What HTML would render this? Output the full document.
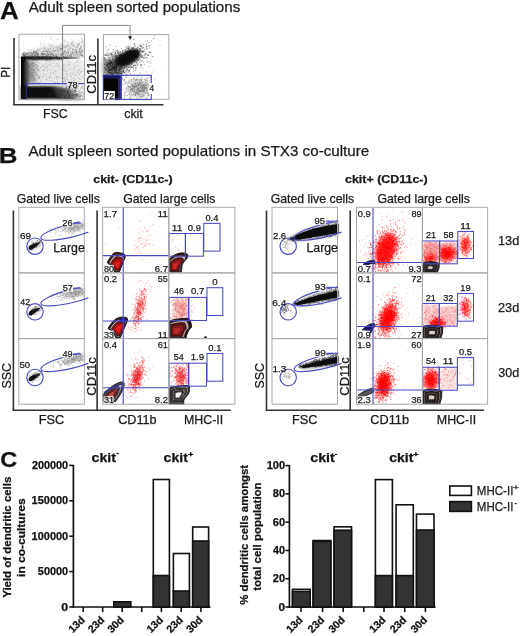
<!DOCTYPE html>
<html><head><meta charset="utf-8"><style>
html,body{margin:0;padding:0;background:#fff;overflow:hidden;}
#w{position:absolute;left:0;top:0;width:520px;height:636px;will-change:transform;background:#fff;}
svg{display:block;font-family:"Liberation Sans", sans-serif;}
text{stroke:#1a1a1a;stroke-width:0.25px;}
</style></head><body><div id="w">
<svg width="520" height="636" viewBox="0 0 520 636">
<defs>
<filter id="b1" x="-50%" y="-50%" width="200%" height="200%"><feGaussianBlur stdDeviation="1"/></filter>
<filter id="b2" x="-50%" y="-50%" width="200%" height="200%"><feGaussianBlur stdDeviation="2"/></filter>
<filter id="b3" x="-50%" y="-50%" width="200%" height="200%"><feGaussianBlur stdDeviation="3"/></filter>
<filter id="b05" x="-50%" y="-50%" width="200%" height="200%"><feGaussianBlur stdDeviation="0.6"/></filter>
</defs>
<text x="-0.05" y="18.75" font-size="23.5" font-weight="bold" fill="#111" textLength="18.76" lengthAdjust="spacingAndGlyphs">A</text>
<text x="28.75" y="12.40" font-size="14.6" fill="#1a1a1a" textLength="211.47" lengthAdjust="spacingAndGlyphs">Adult spleen sorted populations</text>
<path d="M22 56 Q28 50 45 46 Q65 42.5 84 42 L84 57 L22 57.5 Z" fill="#c8c8c8" filter="url(#b2)" opacity="0.45"/>
<path d="M42.1 53.5h0M26.5 53.9h0M55.2 55.7h0M53.5 55.6h0M24.3 56.2h0M27.6 56.6h0M48.3 55.9h0M35.8 55.4h0M60.9 49.6h0M46.6 55.1h0M82.5 41.7h0M40.0 54.7h0M30.9 55.1h0M72.6 52.9h0M33.2 52.9h0M45.1 53.9h0M56.0 55.2h0M34.8 56.5h0M64.2 52.1h0M58.3 54.8h0M50.1 54.3h0M65.3 46.1h0M37.1 53.0h0M76.3 52.9h0M67.2 52.6h0M47.9 56.9h0M52.3 54.0h0M24.4 55.0h0M57.5 48.6h0M76.3 52.5h0M58.9 48.8h0M58.0 46.5h0M80.6 52.9h0M51.4 56.1h0M65.5 55.0h0M62.1 45.7h0M39.6 56.7h0M45.9 56.5h0M50.6 56.1h0M32.4 56.2h0M69.6 55.4h0M30.0 57.0h0M76.0 49.6h0M27.0 53.8h0M76.8 54.0h0M72.8 53.2h0M47.7 54.1h0M44.2 48.8h0M31.4 51.8h0M32.9 56.7h0M52.1 53.3h0M58.5 57.0h0M48.0 56.6h0M44.9 47.0h0M64.8 50.6h0M54.0 51.1h0M25.3 54.4h0M77.8 54.1h0M71.5 42.9h0M46.3 55.3h0M61.3 55.3h0M25.9 55.4h0M32.1 56.1h0M43.1 56.9h0M31.4 57.0h0M28.3 56.6h0M76.2 55.7h0M60.1 54.3h0M43.5 54.4h0M44.6 50.9h0M83.6 45.9h0M50.9 54.9h0M28.3 56.9h0M43.2 56.3h0M32.0 51.1h0M23.4 54.3h0M31.1 55.9h0M55.7 50.4h0M82.7 55.3h0M75.5 55.1h0M44.7 53.8h0M32.4 56.5h0M70.3 48.6h0M42.4 55.7h0M83.1 42.3h0M74.9 52.3h0M67.9 45.4h0M36.1 53.7h0M23.8 56.8h0M23.7 56.7h0M64.9 52.1h0M83.3 50.7h0M81.2 53.3h0M36.1 55.1h0M34.2 55.7h0M77.8 46.7h0M74.1 46.5h0M71.6 55.7h0M27.3 53.8h0M70.5 44.1h0M68.5 52.8h0M70.9 56.4h0M42.6 53.5h0M46.9 50.0h0M32.5 55.3h0M29.9 53.3h0M72.0 44.5h0M31.1 53.0h0M43.7 54.8h0M22.9 56.6h0M82.2 51.2h0M79.9 49.2h0M48.9 50.8h0M35.1 52.3h0M37.6 56.3h0M58.4 52.9h0M38.1 55.3h0M78.4 55.0h0M43.9 51.5h0M78.1 54.4h0M48.1 52.1h0M55.0 53.8h0M54.5 51.3h0M33.4 56.6h0M22.2 56.6h0M51.4 54.0h0M67.0 51.5h0M54.1 55.4h0M56.4 56.4h0M56.7 54.4h0M37.4 55.9h0M53.5 48.1h0M56.8 56.2h0M49.5 46.2h0M60.0 49.9h0M64.9 56.7h0M50.0 51.5h0M80.4 55.1h0M65.4 46.0h0M38.1 50.7h0M56.7 47.0h0M30.5 55.0h0M29.5 55.9h0M36.9 56.5h0M26.5 54.8h0M77.6 45.3h0M31.6 56.0h0M30.9 52.6h0M76.7 51.8h0M81.1 55.9h0M73.6 55.2h0M32.0 53.5h0M43.0 54.9h0M34.1 54.7h0M23.2 53.6h0M56.4 56.0h0M42.6 56.7h0M60.7 54.8h0M83.1 56.8h0M70.9 53.8h0M38.5 56.7h0M24.5 56.6h0M30.0 54.7h0M48.2 49.5h0M38.0 53.3h0M31.3 53.5h0M65.4 52.9h0M27.5 53.1h0M48.4 54.4h0M26.5 53.5h0M71.7 53.2h0M27.2 56.4h0M75.5 54.8h0M50.1 53.7h0M79.5 48.6h0M38.6 53.8h0M36.8 53.8h0M28.8 56.5h0M34.5 56.1h0M41.3 54.7h0M40.0 50.7h0M53.0 54.9h0M23.1 55.1h0M37.5 51.0h0M56.2 56.1h0M33.7 49.3h0M28.6 56.0h0M72.8 49.4h0M73.7 53.5h0M46.4 50.0h0M82.9 56.5h0M43.2 53.7h0M61.4 48.8h0M47.1 56.1h0M30.0 56.2h0M26.4 56.9h0M32.1 54.6h0M27.2 54.0h0M63.6 46.4h0M39.5 56.8h0M50.5 52.9h0M31.8 54.7h0M81.6 54.9h0M82.3 51.2h0M81.9 55.2h0M41.2 56.9h0M45.7 56.8h0M51.4 53.6h0M53.3 56.9h0M22.3 56.9h0M46.8 55.0h0M24.6 54.9h0M36.4 56.6h0M58.3 47.6h0M62.8 55.1h0M66.4 52.3h0M42.2 54.1h0M83.1 49.3h0M61.9 49.1h0M24.7 54.3h0M60.9 46.1h0M67.5 55.6h0M54.5 54.3h0M53.3 52.2h0M73.2 45.8h0M58.2 50.2h0M65.0 51.0h0M36.3 55.1h0M44.4 56.5h0M28.5 55.1h0M60.9 50.4h0M60.8 54.1h0M22.2 54.7h0M71.5 56.9h0M55.2 50.6h0M62.9 47.7h0M37.6 54.5h0M26.6 56.6h0M34.7 51.5h0M67.9 49.3h0M45.7 56.2h0M51.7 53.5h0M60.3 47.7h0M61.9 54.0h0M37.7 56.0h0M68.1 54.1h0M22.8 54.2h0M25.8 56.5h0M64.9 47.5h0M63.9 55.1h0M50.8 51.2h0M50.9 49.2h0M34.4 52.1h0M82.6 55.6h0M50.5 56.6h0M72.8 49.3h0M38.7 56.2h0M35.0 54.8h0M58.1 55.7h0M30.8 49.5h0M30.2 55.9h0M72.9 42.1h0M65.6 56.3h0M36.3 53.7h0M23.5 55.4h0M22.2 54.6h0M40.7 56.8h0M30.7 55.5h0M74.1 51.7h0M22.1 57.0h0M29.4 51.4h0M79.4 53.1h0M40.0 48.7h0M44.4 53.8h0M25.0 56.1h0M28.3 55.8h0M80.0 51.4h0M37.5 56.6h0M33.8 53.0h0M45.1 48.1h0M72.3 53.0h0M61.1 44.8h0M56.1 50.2h0M66.6 46.9h0M50.0 54.6h0M68.7 53.6h0M25.0 55.4h0M79.5 50.9h0M43.3 53.5h0M40.5 56.2h0M62.7 54.5h0M46.5 51.4h0M32.4 55.8h0M78.2 52.5h0M52.8 54.9h0M49.9 54.9h0M27.6 55.6h0M43.2 54.3h0M38.0 55.5h0M57.3 49.9h0M47.6 51.9h0M47.7 52.5h0M43.0 56.4h0M25.8 55.8h0M53.2 49.8h0M35.4 51.9h0M38.8 57.0h0M49.6 52.1h0M81.1 47.6h0M23.4 53.1h0M24.0 55.7h0M51.3 46.6h0M58.4 51.3h0M79.5 57.0h0M73.2 45.1h0M37.4 49.2h0M28.8 55.0h0M64.3 50.7h0M80.4 55.0h0M69.4 47.3h0M50.4 55.7h0M70.5 56.4h0M36.4 52.4h0M40.8 54.2h0M29.9 57.0h0M65.3 47.9h0M29.0 53.8h0M58.1 54.0h0M46.1 56.0h0M22.6 54.0h0M62.0 53.2h0M76.8 51.5h0M37.3 56.6h0M81.6 55.1h0M23.4 55.1h0M52.9 54.5h0M37.9 53.5h0M63.4 53.0h0M24.1 56.2h0M43.0 51.4h0M34.3 54.5h0M71.4 56.4h0M34.7 52.9h0M82.1 51.4h0M36.3 50.8h0M35.7 56.8h0M81.0 50.4h0M52.7 55.6h0M47.9 53.9h0M63.2 53.7h0M46.4 56.2h0M35.2 55.1h0M25.2 56.8h0M25.7 52.7h0M76.8 47.0h0M42.4 56.8h0M33.5 51.9h0M24.0 55.4h0M63.2 52.6h0M42.6 54.2h0M32.5 54.4h0M43.8 56.9h0M81.2 42.3h0M34.9 50.7h0M44.1 53.5h0M48.8 48.9h0M25.1 54.6h0M79.0 55.8h0M34.0 52.3h0M23.9 53.2h0M47.5 54.0h0M24.5 53.1h0M24.2 52.0h0M37.9 53.8h0M68.3 52.1h0M38.9 54.9h0M81.4 52.4h0M66.4 53.6h0M41.6 56.9h0M68.9 56.4h0M78.8 44.6h0M23.5 52.8h0M81.1 53.9h0M46.0 57.0h0M52.6 51.5h0M79.5 51.2h0M67.8 46.0h0M73.0 55.6h0M42.3 51.3h0M41.8 52.3h0M26.9 53.4h0M34.2 57.0h0M26.0 55.0h0M24.1 55.0h0M82.8 54.7h0M76.8 51.1h0M27.2 56.8h0M28.0 52.6h0M49.7 56.9h0M36.5 52.6h0M63.8 52.6h0M68.4 51.3h0M29.5 53.4h0M74.1 54.4h0M45.1 51.5h0M67.8 55.4h0M37.2 54.4h0M31.5 53.9h0M42.2 53.4h0M46.6 51.5h0M36.3 56.8h0M72.1 44.6h0M28.3 49.9h0M51.4 52.9h0M78.7 43.6h0M24.5 56.7h0M33.8 55.4h0M82.3 40.8h0M45.1 51.9h0M75.7 51.5h0M70.2 55.3h0M80.6 48.6h0M60.4 52.1h0M35.5 55.7h0M34.6 55.6h0M37.8 52.6h0M34.6 54.1h0M22.7 55.4h0M33.5 52.6h0M41.4 54.9h0M56.0 47.6h0M25.9 54.9h0M56.1 53.7h0M61.6 54.0h0M65.1 54.9h0M47.4 56.2h0M81.1 50.3h0M41.4 53.5h0M47.8 55.2h0M75.6 49.9h0M34.2 56.9h0M67.1 56.8h0M77.9 56.2h0M48.3 54.9h0M76.7 50.0h0M50.6 56.5h0M56.2 56.2h0M61.7 54.8h0M60.6 55.6h0M45.0 54.5h0M39.6 56.9h0M54.3 54.7h0M52.4 55.9h0M71.9 52.4h0M29.9 56.6h0M80.5 48.0h0M25.3 56.6h0M79.4 44.1h0M60.5 48.7h0M73.1 50.3h0M35.8 51.7h0M47.1 52.0h0M33.3 51.9h0M35.5 53.6h0M45.8 53.8h0M29.6 56.9h0M77.6 44.7h0M24.5 53.2h0M24.4 55.4h0M74.0 49.7h0M56.1 52.0h0M60.9 54.8h0M58.1 51.4h0M48.4 54.2h0M49.2 52.6h0M23.4 55.0h0M36.6 54.1h0M69.3 55.6h0M33.1 53.4h0M51.3 54.9h0M48.7 55.4h0M27.7 53.9h0M24.5 56.0h0M61.5 48.4h0M70.2 51.5h0M53.7 51.1h0M45.4 55.2h0M81.0 46.7h0M83.8 44.7h0M67.4 55.3h0M82.9 52.1h0M52.5 45.9h0M32.2 55.1h0M70.9 54.7h0M43.8 56.3h0M68.9 49.2h0M39.0 50.1h0M72.6 51.8h0M79.0 49.8h0M34.9 56.7h0M41.8 52.1h0M24.3 56.4h0M80.1 52.8h0M64.1 54.0h0M70.7 54.4h0M29.1 53.0h0M44.3 55.8h0M76.1 47.7h0M76.7 53.6h0M28.5 53.0h0M46.4 56.7h0M71.5 55.0h0M44.3 56.6h0M33.0 53.5h0M68.1 45.2h0M37.7 54.9h0M61.6 49.0h0M63.1 56.2h0M41.4 55.9h0M31.3 57.0h0" stroke="#555" stroke-width="0.77" stroke-linecap="square" fill="none" opacity="0.55"/>
<path d="M67.1 42.1h0M62.6 48.5h0M45.8 39.2h0M68.7 36.3h0M40.1 41.0h0M44.7 41.0h0M49.9 44.2h0M65.9 38.9h0M67.5 42.6h0M45.9 49.1h0M50.7 38.1h0M44.2 44.9h0M78.3 47.0h0M57.7 39.7h0M40.5 45.0h0M64.7 40.9h0M68.4 42.2h0M81.2 46.3h0M50.9 48.6h0M41.9 43.4h0M57.9 39.3h0M42.6 46.9h0M40.5 43.7h0M81.4 38.0h0M48.8 44.5h0M62.3 45.0h0M75.8 38.4h0M53.6 40.2h0M42.1 48.5h0M74.5 46.0h0M40.3 47.8h0M72.8 42.5h0M72.6 42.3h0M49.9 37.5h0M50.2 36.5h0M54.8 46.5h0M70.6 47.8h0M71.3 39.7h0M64.4 42.1h0M74.7 43.3h0M51.7 45.0h0M82.5 39.0h0M78.7 36.2h0M51.5 39.3h0M72.7 49.2h0M72.8 40.6h0M78.7 40.6h0M50.5 48.7h0M67.8 45.7h0M69.3 49.7h0M60.7 47.8h0M70.7 48.0h0M59.2 46.1h0M65.1 40.3h0M49.3 44.7h0M43.4 48.8h0M46.4 36.4h0M44.7 49.0h0M55.2 38.0h0M41.3 36.6h0" stroke="#999" stroke-width="0.77" stroke-linecap="square" fill="none" opacity="0.5"/>
<path d="M25 60 L60 60 Q70 61 84 60 L84 83 L25 83 Z" fill="#e2e2e2" filter="url(#b2)" opacity="0.8"/>
<path d="M66.2 74.6h0M66.4 76.9h0M29.8 73.6h0M47.1 78.8h0M73.5 80.5h0M29.8 80.0h0M79.0 81.7h0M32.2 64.7h0M32.5 60.8h0M75.2 78.7h0M62.8 79.0h0M62.6 66.6h0M31.8 62.3h0M69.9 64.7h0M44.5 69.7h0M27.2 65.9h0M42.4 76.5h0M47.3 67.4h0M81.9 71.6h0M75.4 74.2h0M27.8 69.5h0M51.3 77.8h0M46.1 76.2h0M57.2 65.0h0M76.0 62.1h0M73.5 63.9h0M26.1 64.6h0M70.2 82.5h0M26.3 71.3h0M54.5 78.3h0M36.7 71.4h0M46.1 79.1h0M41.1 81.7h0M42.5 64.9h0M66.6 71.5h0M32.4 74.6h0M30.7 78.1h0M66.4 78.1h0M62.4 68.2h0M49.3 69.1h0M77.6 62.0h0M77.5 60.6h0M38.0 66.1h0M78.3 71.5h0M48.0 80.3h0M39.5 70.6h0M56.8 77.4h0M69.7 74.9h0M46.2 67.5h0M35.0 79.4h0M64.4 77.1h0M35.8 70.1h0M70.9 73.3h0M33.3 70.6h0M77.3 65.5h0M37.1 66.9h0M66.8 79.4h0M35.0 63.6h0M40.4 67.5h0M56.3 63.7h0M45.0 64.4h0M82.6 76.8h0M31.9 82.1h0M31.9 68.8h0M83.1 78.3h0M68.5 70.0h0M37.4 74.7h0M32.2 64.7h0M48.5 60.8h0M49.1 78.2h0M66.2 71.5h0M62.7 70.7h0M34.2 73.9h0M49.5 77.0h0M78.7 69.9h0M59.3 77.2h0M50.4 65.3h0M67.9 80.2h0M70.9 76.1h0M75.4 75.6h0M63.2 70.4h0M44.2 74.5h0M31.7 69.7h0M71.4 76.4h0M62.5 65.8h0M50.6 70.5h0M62.1 69.4h0M65.2 81.4h0M36.6 75.1h0M71.1 68.9h0M54.4 82.4h0M28.2 72.5h0M35.3 78.0h0M80.6 71.9h0M31.9 73.2h0M57.4 76.5h0M55.7 74.7h0M74.1 72.0h0M49.8 81.8h0M38.2 75.7h0M48.8 77.5h0M33.1 82.6h0M46.6 61.3h0M41.9 69.2h0M26.8 69.6h0M50.4 76.1h0M46.4 66.1h0M39.0 77.1h0M80.5 72.1h0M38.7 78.4h0M48.7 64.9h0M33.5 77.9h0M73.0 74.6h0M53.2 72.9h0M39.1 82.2h0M46.5 74.7h0M73.5 78.8h0M53.1 66.8h0M57.8 62.9h0M74.4 68.2h0M75.3 66.2h0M47.8 65.8h0M50.7 64.3h0M26.2 76.6h0M42.3 65.6h0M43.5 71.0h0M50.9 74.7h0M64.2 68.3h0M79.9 79.7h0M29.3 79.0h0M78.5 78.0h0M34.1 79.1h0M62.7 60.3h0M26.7 81.9h0M64.0 65.8h0M31.9 63.3h0M39.6 77.9h0M46.1 63.5h0M78.4 78.2h0M35.7 80.5h0M61.3 78.0h0M64.8 80.6h0M71.7 79.3h0M37.4 75.9h0M56.8 77.1h0M51.4 80.3h0M58.2 66.1h0M39.6 63.2h0M54.6 61.3h0M53.1 63.3h0M54.5 71.5h0M57.3 79.8h0M26.4 79.3h0M53.1 72.9h0M64.6 79.3h0M47.7 69.6h0M81.7 61.7h0M62.9 74.6h0M27.7 74.0h0M65.6 81.4h0M45.2 82.6h0M55.6 71.1h0M78.1 60.8h0M67.7 74.4h0M45.6 79.8h0M47.2 70.9h0M56.5 77.7h0M38.2 70.0h0M50.5 72.7h0M74.0 66.7h0M74.0 69.3h0M55.2 66.2h0M55.4 82.4h0M64.0 78.2h0M45.2 67.3h0M43.4 73.5h0M62.8 78.0h0M28.3 76.6h0M77.4 72.5h0M28.9 66.9h0M26.4 64.4h0M79.4 74.0h0M64.2 78.1h0M78.8 74.1h0M61.8 74.4h0M66.4 73.7h0M65.5 64.9h0M64.7 70.5h0M70.2 62.3h0M36.5 60.9h0M70.9 81.0h0M64.0 68.5h0M73.7 78.1h0M58.6 65.9h0M43.5 69.7h0M44.5 69.9h0M63.2 81.5h0M29.2 73.1h0M28.3 62.7h0M73.0 73.2h0M79.3 70.3h0M26.8 68.9h0M60.3 81.6h0M82.9 70.9h0M49.9 62.3h0M63.4 64.9h0M34.8 60.4h0M26.3 75.7h0M33.1 82.2h0M31.1 80.0h0M33.5 60.4h0M67.7 65.6h0M68.5 64.3h0M28.9 77.8h0M67.4 79.7h0M68.3 61.9h0M62.5 76.3h0M52.7 81.4h0M40.7 82.2h0M67.6 60.3h0" stroke="#777" stroke-width="0.77" stroke-linecap="square" fill="none" opacity="0.5"/>
<path d="M36.5 73.1h0M30.8 69.0h0M28.4 72.2h0M26.0 79.7h0M25.8 80.7h0M26.8 65.9h0M37.4 67.2h0M26.6 69.3h0M41.3 80.0h0M27.0 81.5h0M38.4 69.9h0M26.9 67.9h0M25.1 80.5h0M31.3 65.9h0M33.5 72.1h0M38.2 76.0h0M26.8 69.2h0M34.8 60.3h0M28.9 74.8h0M33.0 69.6h0M27.0 73.2h0M31.3 63.4h0M36.9 79.6h0M30.5 66.2h0M34.1 65.6h0M31.1 76.9h0M26.2 79.8h0M25.6 77.6h0M30.8 73.9h0M34.4 71.9h0M35.0 79.0h0M30.6 67.5h0M26.6 67.8h0M29.1 71.8h0M43.4 77.1h0M33.5 65.1h0M26.8 69.4h0M30.9 63.7h0M37.3 67.5h0M30.0 74.2h0M30.9 76.8h0M31.3 73.3h0M31.4 70.4h0M26.3 67.3h0M29.7 82.3h0M27.8 65.0h0M27.5 73.5h0M43.6 66.7h0M30.2 74.2h0M29.8 79.4h0M38.0 62.1h0M30.7 69.9h0M32.4 73.5h0M28.3 66.0h0M33.1 76.4h0M29.9 76.1h0M27.3 72.6h0M30.2 76.4h0M29.7 70.9h0M29.4 66.8h0M40.1 76.1h0M33.1 78.7h0M38.5 82.5h0M33.5 62.6h0M26.1 74.2h0M32.3 63.8h0M28.3 68.8h0M30.3 74.7h0M28.7 62.1h0M29.5 80.2h0M32.0 77.3h0M32.2 65.9h0M32.6 80.1h0M39.0 77.9h0M28.5 67.2h0M26.3 72.9h0M29.9 77.4h0M40.2 71.8h0M33.0 75.8h0M31.2 70.3h0M29.4 65.4h0M30.8 71.8h0M31.4 65.2h0M30.2 72.4h0M32.7 63.5h0M31.9 79.9h0M32.7 69.1h0M27.8 70.1h0M29.3 66.9h0M31.7 73.6h0M25.9 66.1h0M29.5 77.4h0M32.2 62.2h0M30.5 74.8h0M29.5 63.9h0M29.7 69.3h0M31.5 65.3h0M29.2 72.1h0M34.3 67.1h0M32.5 67.5h0M28.2 75.5h0M25.8 79.8h0M35.4 72.3h0M35.2 80.7h0M38.5 78.1h0M35.0 69.3h0M29.1 71.6h0M33.1 70.8h0M30.9 75.4h0M32.0 72.7h0M29.1 67.0h0M36.0 73.2h0M25.1 67.5h0M29.4 68.4h0M34.9 62.7h0M32.2 73.1h0M29.6 76.0h0M28.0 74.4h0M33.5 80.3h0M29.9 67.2h0M26.4 77.4h0M32.9 63.7h0M30.7 64.8h0M30.2 79.2h0M35.1 75.2h0M40.1 67.1h0M30.0 80.4h0M27.1 66.4h0M28.3 71.4h0M25.1 75.9h0M32.4 72.6h0M37.7 69.4h0M35.9 67.6h0M30.9 70.6h0M27.8 67.1h0M28.4 66.2h0M27.5 67.8h0M25.2 70.9h0M33.5 70.0h0M27.8 82.9h0M34.4 79.4h0M35.2 69.4h0M29.4 80.9h0M27.5 71.0h0M31.7 75.0h0M28.8 79.9h0M29.2 77.8h0M34.8 77.3h0M33.3 62.7h0M26.2 66.1h0M28.8 77.5h0M31.0 81.4h0M25.6 79.1h0M34.2 72.6h0M32.1 67.5h0M25.1 68.8h0M30.9 74.5h0M33.3 65.8h0M34.1 75.0h0M32.5 75.6h0M37.1 68.7h0M32.3 78.0h0M25.9 81.6h0M32.4 63.3h0M30.3 62.9h0M32.0 69.9h0M30.3 71.5h0M30.6 61.4h0M25.8 68.4h0M26.6 67.1h0M25.2 74.6h0M29.4 65.4h0M25.6 78.5h0M27.0 76.7h0M25.1 72.0h0M31.5 78.2h0M33.6 80.3h0M28.3 70.3h0M33.5 68.6h0M32.9 70.6h0M31.4 72.2h0M25.2 68.3h0M36.8 65.4h0M28.2 64.7h0M26.2 80.4h0M27.6 63.3h0M33.5 76.5h0M25.3 78.0h0M35.1 70.0h0M34.1 71.8h0M31.9 78.1h0M38.3 70.0h0M27.8 71.7h0M35.4 64.5h0M33.6 66.6h0M32.1 77.5h0M31.1 76.7h0M25.8 64.1h0M29.1 70.2h0M33.8 72.2h0M33.3 63.1h0M28.5 67.4h0M25.9 68.3h0M31.9 75.2h0M30.1 68.2h0M32.2 74.9h0M30.7 72.5h0M30.5 65.0h0M29.1 64.7h0M31.7 77.5h0M37.9 82.1h0M26.4 68.3h0M25.8 74.4h0M38.9 77.7h0M30.0 74.4h0M38.0 65.4h0M31.5 65.8h0M30.2 79.9h0M29.4 66.5h0M30.1 76.9h0M28.2 76.0h0M33.7 70.8h0M27.9 70.5h0M25.7 70.3h0M28.6 73.7h0M36.0 82.5h0M28.0 76.8h0M31.3 78.1h0M30.1 74.1h0M27.9 65.7h0M33.9 82.4h0M33.0 75.5h0M31.2 68.4h0M30.9 67.6h0M25.7 82.2h0M26.8 71.8h0M27.7 73.2h0M29.1 66.0h0M34.8 65.7h0M27.7 76.4h0M27.6 68.5h0M31.6 69.1h0M25.1 79.8h0M26.5 69.2h0M28.5 74.2h0M27.1 82.6h0M34.5 78.5h0M26.6 79.2h0M29.5 74.8h0M28.8 77.3h0M35.0 81.0h0M29.1 80.0h0M36.5 64.5h0M36.6 61.3h0M32.4 76.8h0M36.7 74.2h0M27.8 65.6h0M28.9 66.3h0M32.4 65.9h0M28.0 68.3h0" stroke="#555" stroke-width="0.77" stroke-linecap="square" fill="none" opacity="0.55"/>
<rect x="24" y="61" width="11" height="23" fill="#8a8a8a" filter="url(#b2)" opacity="0.6"/>
<defs><linearGradient id="hb" x1="0" x2="1" y1="0" y2="0"><stop offset="0" stop-color="#000"/><stop offset="0.4" stop-color="#1a1a1a"/><stop offset="0.7" stop-color="#555"/><stop offset="0.92" stop-color="#999"/><stop offset="1" stop-color="#ccc" stop-opacity="0.3"/></linearGradient></defs>
<rect x="21" y="56.6" width="60" height="2.4" fill="url(#hb)" filter="url(#b05)"/>
<rect x="21" y="59" width="45" height="1.4" fill="url(#hb)" opacity="0.6" filter="url(#b05)"/>
<path d="M61.5 59.5h0M37.9 56.8h0M43.6 58.3h0M44.5 58.7h0M35.8 59.0h0M50.9 58.4h0M34.7 57.8h0M49.0 57.2h0M37.9 57.5h0M21.9 58.7h0M39.7 58.2h0M51.4 56.9h0M39.1 58.5h0M50.8 57.2h0M49.3 58.4h0M57.6 59.2h0M47.1 60.1h0M40.0 57.8h0M35.6 57.4h0M39.6 56.5h0M38.9 58.6h0M52.9 57.9h0M58.1 57.6h0M38.3 56.5h0M30.1 57.5h0M59.0 58.7h0M26.0 58.7h0M46.1 58.0h0M40.3 57.9h0M33.1 56.6h0M38.9 59.3h0M58.2 58.0h0M30.5 58.0h0M51.4 58.5h0M32.6 58.5h0M37.4 58.7h0M34.8 56.9h0M40.7 58.9h0M26.0 58.1h0M51.1 57.9h0M31.8 60.0h0M50.5 59.1h0M28.0 59.6h0M49.4 59.4h0M28.2 57.6h0M42.5 56.5h0M48.1 58.7h0M34.3 58.7h0M49.8 58.5h0M46.6 59.5h0M34.0 58.3h0M33.4 59.1h0M34.9 58.6h0M41.7 58.3h0M61.6 58.1h0M57.9 58.9h0M56.6 58.1h0M51.7 58.9h0M32.3 58.4h0M38.4 58.2h0M56.4 57.6h0M34.3 57.6h0M40.2 58.7h0M62.1 58.5h0M45.8 57.6h0M47.3 59.4h0M56.8 56.5h0M51.2 59.6h0M50.4 56.9h0M36.2 58.7h0M45.2 57.5h0M28.8 59.0h0M23.3 59.4h0M40.3 58.5h0M23.3 57.7h0M48.6 56.9h0M65.9 57.0h0M24.7 58.2h0M46.0 58.8h0M35.4 58.0h0M37.0 57.7h0M43.1 58.3h0M32.1 58.4h0M39.8 58.1h0M53.8 56.7h0M43.1 57.3h0M36.0 59.5h0M26.5 58.1h0M32.6 59.0h0M27.8 56.7h0M46.4 57.9h0M36.0 59.1h0M28.9 57.9h0M41.8 58.6h0M33.5 59.1h0M68.0 57.8h0M63.3 56.4h0M57.6 57.9h0M41.7 57.9h0M32.1 57.1h0M35.1 59.3h0M54.2 57.9h0M33.4 57.6h0M25.0 59.8h0M48.3 58.3h0M33.9 57.3h0M56.4 58.9h0M28.1 59.1h0M26.2 58.8h0M28.0 57.8h0M46.2 58.6h0M52.6 57.5h0M59.7 59.4h0M39.9 58.6h0M30.3 58.1h0M23.5 58.3h0M42.5 59.4h0M51.8 58.9h0M35.5 58.0h0M35.7 58.4h0M20.4 57.8h0M40.3 57.8h0M60.8 58.1h0M59.6 59.2h0M33.8 58.5h0M56.2 57.9h0M41.1 57.7h0M40.7 57.9h0M41.0 59.1h0M57.4 58.3h0M42.5 58.9h0M36.4 57.3h0M53.9 57.4h0M51.6 57.4h0M62.8 57.3h0M50.6 59.5h0M28.0 59.5h0M29.7 56.7h0M49.0 58.8h0M37.5 56.0h0M39.3 57.9h0M35.3 57.9h0M62.5 59.5h0M35.5 57.6h0M44.9 59.1h0M49.0 57.2h0M42.0 58.3h0M58.0 59.2h0M46.5 59.3h0M35.1 59.5h0M34.7 58.5h0M51.5 57.4h0M31.2 56.7h0M42.1 58.2h0M35.9 58.6h0M41.1 58.0h0M49.9 59.7h0M34.4 57.4h0M32.5 58.3h0M47.3 57.5h0M52.5 57.3h0M50.3 58.6h0M45.8 60.1h0M36.7 58.1h0M45.9 58.9h0M23.3 58.4h0M30.7 58.7h0M57.1 58.2h0M38.7 58.4h0M47.0 58.3h0M35.1 57.6h0M37.8 59.2h0M38.7 59.4h0M43.4 58.2h0M55.6 57.1h0M27.6 57.3h0M33.1 58.8h0M47.4 56.4h0M58.2 57.7h0M32.7 59.6h0M39.0 57.1h0M32.0 57.6h0M27.4 57.9h0M51.0 58.5h0M22.8 60.6h0M27.6 58.3h0M40.4 58.9h0M35.9 58.6h0M66.3 58.3h0M26.5 58.5h0M30.0 57.9h0M42.3 58.5h0M36.5 58.9h0M37.6 57.1h0M51.0 57.9h0M55.1 57.6h0M47.1 58.5h0M26.0 59.4h0M53.6 58.6h0M48.4 57.8h0" stroke="#333" stroke-width="0.88" stroke-linecap="square" fill="none" opacity="0.6"/>
<rect x="21" y="57.5" width="5" height="41.5" fill="#050505"/>
<rect x="24.5" y="60" width="4" height="28" fill="#444" filter="url(#b1)"/>
<path d="M21 86.3 L50 86 Q64 86.5 74 99 L21 99 Z" fill="#070707" filter="url(#b1)"/>
<path d="M52 86 Q70 87 83 99 L60 99 Z" fill="#555" filter="url(#b2)" opacity="0.8"/>
<path d="M65.9 93.9h0M69.2 95.7h0M64.4 90.3h0M61.7 94.6h0M53.2 88.2h0M62.8 90.9h0M63.9 82.8h0M63.4 92.0h0M72.0 85.4h0M63.6 94.8h0M69.8 97.6h0M74.1 89.0h0M70.9 91.7h0M59.8 98.9h0M61.2 89.7h0M62.9 89.7h0M73.7 94.5h0M76.8 94.6h0M61.3 97.0h0M61.0 91.2h0M64.7 93.2h0M75.2 90.7h0M68.7 92.9h0M56.3 88.8h0M64.3 94.6h0M68.5 94.8h0M66.4 91.3h0M69.3 89.1h0M55.7 91.7h0M55.0 91.0h0M60.2 90.9h0M65.7 89.9h0M62.7 86.4h0M67.1 89.6h0M69.1 82.1h0M59.8 93.9h0M47.2 91.6h0M66.7 93.4h0M54.5 93.9h0M67.1 89.2h0M71.7 92.8h0M66.1 91.3h0M70.2 93.4h0M74.8 94.7h0M61.2 92.1h0M73.1 91.6h0M69.0 95.0h0M64.6 84.0h0M67.0 93.8h0M67.0 90.1h0M75.3 92.5h0M61.2 90.2h0M68.8 88.8h0M76.1 97.1h0M76.6 95.3h0M53.0 97.6h0M75.6 94.9h0M50.9 97.8h0M76.6 91.1h0M67.0 96.0h0M65.3 97.3h0M66.6 95.7h0M66.7 87.3h0M68.2 98.1h0M70.3 90.7h0M66.1 85.6h0M64.5 96.5h0M49.2 93.8h0M72.4 98.2h0M58.8 90.5h0M51.4 89.0h0M57.1 98.4h0M69.3 91.1h0M83.0 83.2h0M65.5 93.9h0M83.6 93.5h0M73.6 98.3h0M70.0 94.4h0M64.6 91.4h0M62.5 84.9h0M68.1 92.9h0M65.2 92.0h0M60.2 92.9h0M62.6 93.8h0M72.7 96.2h0M71.6 96.2h0M71.3 98.5h0M73.8 98.2h0M62.1 93.0h0M60.3 96.7h0M72.5 91.2h0M75.6 88.7h0M65.3 95.5h0M65.7 94.5h0M75.2 94.3h0M57.5 95.8h0M65.2 93.4h0M61.6 87.6h0M56.3 91.6h0M57.7 82.4h0M74.9 88.5h0M60.4 95.1h0M47.2 98.2h0M60.0 95.6h0M62.2 94.2h0M66.8 93.0h0M51.8 87.3h0M65.7 98.5h0M61.7 95.1h0M67.3 94.9h0M73.7 87.2h0M68.1 92.3h0M63.6 89.7h0M59.9 89.0h0M79.2 93.0h0M71.8 89.2h0M44.3 85.9h0M67.1 98.6h0M65.7 89.1h0M64.1 89.1h0M55.1 92.1h0M62.9 89.8h0M59.1 89.4h0M67.8 98.4h0M53.4 94.1h0M57.0 92.4h0M66.8 95.2h0M74.8 90.8h0M56.3 92.3h0M68.3 90.3h0M54.9 94.4h0M73.9 85.5h0M67.6 92.1h0M54.9 98.1h0M67.7 91.1h0M69.5 95.5h0M72.0 95.3h0M69.2 88.4h0M62.7 93.5h0M63.0 88.9h0M51.8 94.0h0M66.3 90.7h0M62.8 89.5h0M60.2 92.6h0M61.0 95.6h0M64.9 93.5h0M69.2 98.0h0M70.7 93.9h0M64.7 89.9h0M63.3 95.7h0M67.8 91.5h0M55.6 87.0h0M68.5 97.0h0M68.9 87.6h0M64.3 93.9h0M58.8 94.4h0M64.4 89.7h0M56.3 96.2h0M68.8 89.5h0M58.1 96.5h0M70.6 91.8h0M78.4 91.9h0M57.8 97.3h0M64.5 94.3h0M66.3 89.1h0M56.7 92.2h0M77.0 89.1h0M76.6 93.9h0M57.3 94.0h0M70.4 89.5h0M49.4 94.4h0M57.4 94.7h0M51.1 92.4h0M59.7 87.2h0M64.1 93.7h0M61.7 88.4h0M67.7 86.2h0M70.2 94.9h0M79.1 96.4h0M68.8 94.0h0M66.2 87.8h0M77.4 95.0h0M63.8 88.5h0M77.5 95.1h0M56.8 95.6h0M80.7 92.9h0M69.1 91.4h0M61.1 97.2h0M65.0 96.1h0M63.6 95.8h0M72.4 89.1h0M57.7 92.7h0M72.5 94.1h0M75.6 87.7h0M69.8 90.6h0M66.8 94.2h0M58.5 92.1h0M57.0 94.0h0M59.4 91.1h0M67.7 90.5h0M74.9 90.5h0M72.6 94.1h0M58.0 92.2h0M59.5 91.6h0M69.5 87.9h0M48.1 95.6h0M50.6 95.8h0M74.0 94.5h0M64.4 92.0h0M68.0 91.8h0M61.9 91.6h0M75.1 90.6h0M68.9 88.5h0M60.5 87.7h0M64.5 95.6h0M68.4 91.1h0M70.7 91.7h0M68.9 94.1h0M70.2 83.4h0M55.9 96.0h0M64.2 90.9h0M77.6 95.2h0M80.7 95.0h0M64.4 95.8h0M59.9 91.3h0M61.7 92.1h0M72.0 91.1h0M68.5 91.1h0M72.8 82.3h0M64.4 93.7h0M57.7 96.9h0M67.7 98.0h0M73.4 95.5h0M64.8 88.8h0M64.3 91.2h0M67.9 91.2h0M75.1 91.2h0M64.1 96.6h0M66.0 88.3h0M69.2 92.2h0" stroke="#333" stroke-width="0.88" stroke-linecap="square" fill="none" opacity="0.6"/>
<path d="M72.7 97.2h0M75.2 93.0h0M63.9 87.8h0M68.0 97.6h0M80.6 89.0h0M82.3 86.4h0M75.2 98.6h0M69.6 98.3h0M76.4 86.7h0M69.3 91.8h0M67.4 95.7h0M65.9 96.2h0M68.6 86.9h0M74.3 87.2h0M74.1 96.2h0M75.1 92.0h0M62.7 92.7h0M64.1 94.4h0M64.9 93.5h0M69.8 90.9h0M76.6 88.1h0M65.7 98.2h0M69.3 96.9h0M81.2 92.2h0M65.3 87.2h0M81.3 87.5h0M72.9 93.0h0M64.6 92.1h0M65.6 93.0h0M73.1 90.8h0M66.3 91.2h0M66.5 87.7h0M67.3 97.3h0M73.0 97.6h0M62.3 98.3h0M72.7 96.3h0M74.5 95.0h0M67.0 95.8h0M65.4 89.4h0M62.7 91.1h0M73.4 89.8h0M81.6 87.1h0M74.7 89.0h0M75.1 96.2h0M77.6 86.8h0M67.4 93.8h0M83.6 86.5h0M75.6 95.0h0M79.9 90.4h0M79.8 92.0h0M82.3 86.1h0M82.7 91.4h0M71.0 87.1h0M67.4 95.5h0M76.9 88.0h0M69.6 87.8h0M66.4 88.9h0M69.3 98.7h0M83.9 96.3h0M72.6 92.5h0M79.1 97.8h0M78.5 94.3h0M66.4 94.1h0M80.6 96.2h0M64.0 95.3h0M69.7 88.1h0M83.2 94.7h0M78.4 87.8h0M80.2 98.2h0M81.9 95.7h0M80.3 96.4h0M75.0 91.7h0M80.2 96.2h0M81.2 89.9h0M83.1 92.9h0M82.8 87.5h0M83.3 96.2h0M67.5 96.9h0M67.1 88.6h0M72.1 89.1h0M72.8 97.8h0M77.1 95.2h0M70.6 96.2h0M79.5 94.9h0M82.7 96.7h0M70.9 87.1h0M76.4 96.9h0M69.5 93.7h0M80.4 96.3h0M62.1 92.4h0M62.4 87.4h0M79.9 91.4h0M75.3 91.9h0M69.4 88.8h0M69.8 97.0h0M75.6 89.8h0M63.9 89.5h0M77.4 91.7h0M76.5 96.5h0M64.7 94.9h0M62.9 96.7h0M66.1 89.5h0M83.1 90.7h0M66.9 97.6h0M75.4 97.6h0M70.7 92.5h0M83.0 92.6h0M83.7 88.5h0M80.3 88.1h0M73.6 86.0h0M65.9 98.3h0M72.0 96.5h0M67.5 90.6h0M64.2 93.2h0M81.0 92.7h0M70.3 98.1h0M81.7 94.7h0M63.7 94.1h0M71.8 98.5h0M70.0 94.6h0M75.9 90.9h0M73.5 94.8h0M82.0 92.5h0M70.0 98.7h0M63.3 96.9h0M77.0 93.2h0M71.9 95.8h0M81.6 95.5h0M78.5 86.5h0M69.2 87.8h0M83.0 97.6h0M65.2 93.6h0M74.7 86.6h0M70.6 95.7h0M76.1 89.7h0M78.8 89.8h0M74.0 91.5h0M83.5 94.4h0M79.7 94.8h0M70.4 98.5h0M77.6 95.0h0M68.1 88.1h0M74.7 96.7h0M79.5 90.5h0M65.1 92.7h0M81.3 88.1h0M78.2 88.2h0M68.9 86.7h0M68.5 91.0h0M83.3 98.5h0M66.1 90.0h0M82.8 88.6h0M69.1 91.7h0M64.4 89.4h0M70.7 91.0h0M83.2 89.5h0M66.5 97.8h0M71.9 96.9h0M76.0 96.1h0M68.9 88.0h0" stroke="#777" stroke-width="0.77" stroke-linecap="square" fill="none" opacity="0.5"/>
<line x1="27.5" y1="85" x2="66" y2="85" stroke="#ddd" stroke-width="1" opacity="0.8"/>
<rect x="19.00" y="34.20" width="65.50" height="65.40" stroke="#a8a8a8" stroke-width="1" fill="none"/>
<line x1="26.3" y1="83.6" x2="67" y2="83.6" stroke="#4a4ac4" stroke-width="1.15"/>
<line x1="26.3" y1="83.6" x2="26.3" y2="99.3" stroke="#2a2a80" stroke-width="1.3"/>
<line x1="78" y1="83.6" x2="84.5" y2="83.6" stroke="#4a4ac4" stroke-width="1.15"/>
<text x="67.54" y="87.70" font-size="9.3" fill="#1a1a1a" textLength="10.14" lengthAdjust="spacingAndGlyphs">78</text>
<line x1="62.6" y1="25.4" x2="62.6" y2="83.3" stroke="#777" stroke-width="0.9"/>
<line x1="62.6" y1="25.4" x2="130.1" y2="25.4" stroke="#777" stroke-width="0.9"/>
<line x1="130.1" y1="25.4" x2="130.1" y2="37" stroke="#777" stroke-width="0.9"/>
<path d="M128.2 36.2 L132 36.2 L130.1 40 Z" fill="#111"/>
<path d="M150.9 75.7h0M138.6 84.5h0M150.7 67.1h0M126.5 95.4h0M136.8 67.7h0M143.1 66.4h0M151.8 56.8h0M155.3 79.9h0M125.9 96.4h0M120.5 65.7h0M108.3 79.1h0M150.7 84.8h0M129.6 90.5h0M110.9 68.5h0M144.0 97.6h0M143.3 85.4h0M152.0 72.4h0M162.3 87.7h0M125.2 72.3h0M154.0 70.4h0M115.5 93.4h0M137.0 77.9h0M145.5 94.7h0M112.3 69.9h0M108.1 73.2h0M135.1 92.5h0M145.4 80.4h0M129.0 80.2h0M121.0 92.2h0M152.9 91.9h0M113.4 84.5h0M150.8 77.0h0M159.7 94.5h0M150.1 91.1h0M144.2 93.7h0M112.1 86.0h0M147.6 81.9h0M121.1 58.0h0M141.4 91.3h0M120.9 64.4h0M117.9 59.1h0M145.9 97.9h0M153.7 70.8h0M147.4 58.2h0M156.0 69.3h0M104.2 82.7h0M112.6 67.1h0M107.7 74.6h0M138.4 90.5h0M106.5 91.4h0M110.9 64.9h0M143.0 70.0h0M124.5 80.0h0M117.5 89.9h0M117.0 91.9h0M154.1 78.6h0M105.9 89.2h0M105.8 77.2h0M130.3 57.8h0M143.1 86.9h0M140.3 72.6h0M135.7 80.9h0M118.0 93.2h0M165.7 90.4h0M163.6 69.5h0M165.1 58.1h0M133.6 60.9h0M132.1 85.0h0M147.9 75.0h0M125.2 63.4h0" stroke="#999" stroke-width="0.77" stroke-linecap="square" fill="none" opacity="0.45"/>
<path d="M104 76 L104 62 Q112 57 122 55 L130 62 Q122 70 118 76 Z" fill="#555" filter="url(#b3)" opacity="0.75"/>
<path d="M110.3 72.2h0M121.1 73.7h0M105.9 70.4h0M120.6 73.6h0M116.4 70.3h0M119.6 59.3h0M120.5 54.9h0M104.2 59.0h0M116.4 66.2h0M123.2 60.5h0M105.1 60.0h0M115.3 72.7h0M120.8 71.2h0M116.4 63.6h0M115.9 65.8h0M111.8 81.6h0M109.8 59.7h0M115.2 67.2h0M123.0 71.5h0M116.3 56.0h0M115.2 67.7h0M104.3 68.4h0M116.0 70.5h0M124.7 60.6h0M117.1 62.3h0M107.5 61.8h0M108.7 54.1h0M113.1 67.3h0M118.8 73.3h0M111.9 67.9h0M110.3 55.0h0M110.7 68.5h0M113.9 58.9h0M117.8 66.2h0M105.0 73.1h0M116.0 70.4h0M114.1 60.8h0M120.9 67.7h0M116.4 68.0h0M106.6 73.8h0M110.7 69.1h0M110.4 65.3h0M107.5 71.8h0M118.3 74.9h0M105.6 62.4h0M126.2 71.6h0M109.6 66.9h0M124.9 83.0h0M116.7 72.2h0M107.1 55.0h0M114.7 66.0h0M120.4 58.8h0M113.9 66.3h0M122.0 79.7h0M119.4 74.3h0M116.5 58.7h0M114.1 62.3h0M113.2 67.5h0M110.2 64.2h0M119.2 59.7h0M122.4 74.0h0M119.4 70.5h0M123.7 68.1h0M115.4 52.4h0M122.5 59.9h0M104.5 72.1h0M114.2 66.8h0M106.8 68.6h0M111.8 67.8h0M111.1 65.8h0M110.2 54.5h0M109.9 69.6h0M107.7 65.3h0M110.5 69.8h0M117.9 61.3h0M112.0 70.0h0M111.9 63.8h0M111.5 72.7h0M110.0 63.6h0M111.6 66.3h0M115.2 66.6h0M104.4 61.5h0M105.6 70.3h0M108.9 75.6h0M103.8 57.5h0M116.7 55.2h0M110.7 65.8h0M105.6 78.9h0M126.1 75.6h0M106.5 75.7h0M115.3 71.9h0M112.2 73.1h0M119.2 67.1h0M119.0 60.6h0M117.4 57.2h0M109.8 45.0h0M108.9 62.4h0M116.1 72.9h0M116.2 64.9h0M115.1 52.2h0M113.7 78.7h0M105.4 53.9h0M109.1 58.9h0M124.5 68.1h0M114.3 76.5h0M111.3 75.4h0M114.6 64.1h0M107.0 80.9h0M116.6 66.9h0M117.8 81.0h0M116.4 64.5h0M118.4 70.7h0M105.1 57.6h0M115.1 71.4h0M121.1 62.9h0M116.1 70.6h0M118.2 60.0h0M112.7 69.4h0M113.1 66.8h0M111.8 70.8h0M119.8 68.1h0M118.8 59.8h0M117.5 77.7h0M114.7 68.6h0M114.1 73.8h0M105.8 62.7h0M109.9 64.7h0M114.9 61.7h0M111.8 65.3h0M111.3 62.1h0M112.2 54.7h0M107.1 64.4h0M115.6 64.8h0M113.3 63.3h0M108.1 65.2h0M114.9 68.0h0M116.8 62.7h0M113.8 68.8h0M123.1 60.8h0M128.9 71.2h0M111.3 77.9h0M123.5 70.5h0M115.8 72.5h0M109.2 68.4h0M119.3 77.2h0M114.7 73.3h0M109.5 62.7h0M115.9 69.9h0M110.8 73.3h0M104.7 64.6h0M112.2 64.8h0M113.1 68.3h0M110.3 69.8h0M105.4 74.9h0M115.3 67.0h0M109.1 69.7h0M117.0 72.6h0M114.5 67.4h0M111.6 74.6h0M116.3 59.8h0M116.6 66.4h0M106.6 59.8h0M113.9 49.8h0M112.1 63.7h0M116.4 60.3h0M114.7 70.4h0M112.3 62.3h0M117.2 66.7h0M115.2 60.4h0M110.2 64.9h0M108.6 71.6h0M119.9 73.6h0M111.8 70.4h0M117.6 62.1h0M112.9 67.5h0M104.4 63.9h0M118.6 63.8h0M106.6 60.2h0M117.3 73.3h0M123.6 71.1h0M118.0 58.1h0M112.2 60.5h0M113.3 63.0h0M118.4 73.9h0M112.8 64.4h0M113.4 68.3h0M110.1 70.1h0M121.4 73.7h0M108.9 76.6h0M125.7 59.1h0M117.2 73.0h0M107.4 66.1h0M111.5 62.4h0M117.9 62.9h0M124.1 80.0h0M113.3 73.9h0M112.6 77.2h0M117.7 64.2h0M123.7 72.5h0M119.3 61.9h0M116.1 73.5h0M116.8 68.4h0M128.8 70.1h0M115.5 68.3h0M104.3 70.8h0M112.5 64.8h0M114.7 70.2h0M104.7 67.3h0M107.2 80.1h0M115.2 62.9h0M115.6 61.3h0M126.0 63.2h0M113.3 67.1h0M114.1 72.3h0M120.9 57.2h0M108.6 74.4h0M111.7 54.6h0M104.4 63.9h0M117.0 67.8h0M107.4 52.8h0M114.8 63.7h0M126.0 65.6h0M107.9 67.6h0M107.7 63.9h0M116.3 72.2h0M122.8 65.7h0M104.5 65.4h0M118.3 63.2h0M108.0 65.5h0M119.2 58.1h0M116.8 72.6h0M114.8 63.5h0M106.1 82.9h0M113.4 62.4h0M107.8 61.9h0M116.7 68.1h0M116.0 70.8h0M115.3 65.7h0M109.7 73.6h0M120.7 66.2h0M116.7 59.8h0M111.8 77.6h0M109.9 70.5h0M111.1 67.8h0M108.5 65.0h0M110.2 84.3h0M105.5 55.4h0M121.5 74.1h0M113.6 72.1h0M110.2 57.8h0M111.7 53.1h0M107.6 67.1h0M119.0 63.1h0M108.2 62.9h0M112.6 66.9h0M121.3 72.2h0M115.9 64.4h0M117.5 76.6h0M113.0 66.2h0M127.5 69.2h0M114.5 64.3h0M112.9 75.3h0M113.4 74.0h0M108.3 70.4h0M114.7 66.3h0M114.7 68.3h0M118.3 77.7h0M107.7 62.3h0M108.7 69.6h0M115.9 59.5h0M115.7 66.0h0M106.4 63.0h0M108.4 63.5h0M107.9 55.2h0M120.8 67.1h0M120.9 73.3h0M108.4 55.2h0M114.0 69.3h0M104.0 63.2h0M116.3 68.3h0M108.8 67.2h0M107.1 65.7h0M115.9 73.2h0M121.6 62.9h0M116.1 71.1h0M116.6 70.8h0M107.2 64.7h0M116.5 69.0h0M105.9 55.4h0M109.9 61.4h0M114.5 77.8h0M120.7 64.9h0M114.1 67.0h0M108.8 68.8h0M118.5 55.2h0M109.2 70.3h0M119.9 68.4h0M106.5 69.8h0M105.8 61.1h0M110.5 64.0h0M118.5 66.1h0M108.3 70.3h0M107.7 64.8h0M113.6 74.7h0M111.1 74.3h0M119.0 53.3h0M108.9 66.5h0M106.3 74.3h0M112.8 68.7h0M122.6 57.4h0M119.4 68.8h0M106.4 66.0h0M122.9 65.3h0M108.5 60.4h0M118.6 66.7h0M129.1 67.3h0M117.2 65.6h0M110.2 63.7h0M114.6 67.2h0M119.6 70.7h0M111.5 62.8h0M122.2 72.7h0M109.3 72.4h0M116.9 68.0h0M114.3 64.7h0M118.1 76.8h0M115.5 52.9h0M106.5 66.6h0M105.1 74.7h0M109.6 64.2h0M126.1 77.3h0M124.2 68.2h0M112.4 72.2h0M116.3 73.6h0M114.9 64.7h0M112.1 61.0h0M122.0 72.5h0M112.3 71.4h0M107.0 78.3h0M112.6 58.1h0M121.5 61.3h0M115.5 62.3h0M111.7 54.4h0M115.3 72.8h0M111.1 73.2h0M111.5 70.2h0M122.4 78.3h0M108.6 75.8h0M114.4 56.0h0M121.4 79.6h0M105.9 46.7h0M104.1 58.3h0M110.7 61.9h0M105.8 64.4h0M111.7 63.3h0M106.4 69.0h0M110.8 60.8h0M111.3 53.7h0M112.6 63.4h0M117.6 57.7h0M124.7 63.2h0M105.1 69.1h0M113.0 79.0h0M106.2 54.1h0M116.7 71.3h0M113.9 69.6h0M112.2 68.6h0M110.3 62.3h0M114.4 66.7h0M109.1 63.3h0M107.7 72.0h0M106.8 50.5h0M114.5 76.5h0M114.0 59.7h0M115.1 56.6h0M115.5 80.7h0M108.9 67.4h0M105.4 70.5h0M106.7 79.6h0M107.8 64.9h0M111.6 73.4h0M118.3 59.2h0M126.6 70.1h0M120.1 63.8h0M106.9 76.2h0M110.6 69.6h0M109.6 60.9h0M120.1 75.3h0M110.5 62.3h0M115.9 46.3h0M108.8 72.6h0M116.6 70.7h0M113.6 78.1h0M119.2 71.8h0M104.1 72.5h0M128.2 72.4h0M118.8 62.2h0M110.5 62.8h0M115.0 59.1h0M104.6 55.0h0M111.2 82.4h0M113.1 68.0h0M116.9 51.1h0M108.4 67.8h0M108.1 75.1h0M115.0 71.8h0M108.7 74.2h0M110.1 69.1h0M117.0 63.8h0M115.4 71.2h0M108.4 68.9h0M119.2 72.8h0M103.8 58.8h0M103.9 59.6h0M118.2 78.8h0M113.0 65.1h0M115.9 61.1h0M114.5 66.9h0M108.5 57.1h0M119.2 69.4h0M113.2 78.7h0M114.8 70.7h0M118.4 70.0h0M106.4 66.0h0M116.4 69.0h0M116.3 66.8h0M113.8 75.0h0M118.7 71.3h0M109.0 70.1h0M108.3 67.0h0M114.4 68.2h0M110.1 72.9h0M109.3 72.5h0M106.3 63.0h0M124.7 72.1h0M111.3 67.1h0M111.8 56.0h0M111.9 76.6h0M114.8 60.9h0M109.3 71.8h0M118.1 69.2h0M111.9 54.9h0M113.3 83.5h0M105.6 68.8h0M114.9 68.8h0M115.3 55.5h0M117.2 64.6h0M106.4 72.2h0M111.1 81.4h0M112.2 75.4h0M116.4 58.7h0M107.8 71.1h0M110.0 76.0h0M109.9 62.0h0M111.3 73.7h0M111.1 82.0h0M107.1 68.8h0M113.6 79.7h0M121.5 71.4h0M115.8 65.1h0M123.6 64.5h0M116.6 68.7h0M117.0 65.9h0M104.7 58.5h0M117.7 51.9h0M127.1 66.8h0M109.9 70.7h0M103.9 55.7h0M111.4 69.9h0M113.4 55.8h0M114.1 66.2h0M113.4 67.3h0M104.6 60.6h0M116.0 67.5h0M120.1 72.0h0M111.1 85.9h0M108.7 72.7h0M114.8 71.2h0M127.0 52.1h0M108.7 64.2h0M115.4 69.1h0M112.1 78.2h0M119.9 65.3h0M110.5 66.1h0M105.9 76.9h0M104.8 67.8h0M113.6 58.0h0M112.7 73.9h0M119.1 56.1h0M115.2 59.1h0M116.0 68.3h0M110.1 77.1h0M121.8 60.6h0M108.7 59.3h0M121.8 60.7h0M108.3 76.1h0M106.2 82.8h0M121.2 55.1h0M106.2 66.1h0M111.2 72.3h0M115.7 55.8h0M107.1 55.0h0M119.8 60.8h0M114.4 78.4h0M116.9 75.3h0M124.4 72.5h0M108.0 70.3h0M113.2 64.5h0M117.2 57.2h0M122.8 71.1h0M105.0 67.2h0M113.4 64.5h0M110.6 64.1h0M113.5 70.1h0M112.8 59.7h0M108.3 63.1h0M105.3 59.4h0M119.8 67.3h0M108.6 63.5h0M106.9 64.9h0" stroke="#1a1a1a" stroke-width="0.88" stroke-linecap="square" fill="none" opacity="0.5"/>
<ellipse cx="128" cy="57.5" rx="13.5" ry="6.8" transform="rotate(-28 128 57.5)" fill="#080808" filter="url(#b1)"/>
<path d="M117.4 73.5h0M154.8 35.8h0M118.2 66.6h0M129.1 47.4h0M111.1 70.1h0M112.7 74.7h0M123.1 60.9h0M126.0 55.3h0M125.4 57.2h0M138.8 51.4h0M125.8 55.6h0M119.7 57.5h0M132.3 66.9h0M138.5 53.7h0M145.6 54.7h0M129.0 56.2h0M118.0 64.6h0M120.5 51.9h0M120.6 73.7h0M130.8 59.4h0M128.2 54.8h0M134.6 61.0h0M126.0 62.0h0M135.8 50.6h0M127.2 53.6h0M132.1 53.2h0M136.2 48.6h0M142.4 48.2h0M117.4 57.8h0M131.4 50.6h0M147.5 55.3h0M128.6 48.5h0M125.4 54.6h0M111.8 69.0h0M146.5 44.5h0M138.3 60.2h0M117.7 61.1h0M131.2 59.0h0M117.4 64.7h0M129.0 63.1h0M111.2 63.1h0M122.0 58.9h0M132.6 51.4h0M151.1 41.1h0M137.9 58.8h0M135.9 52.3h0M119.2 60.9h0M134.0 55.3h0M134.4 57.9h0M116.9 57.8h0M139.6 48.5h0M117.6 74.8h0M117.4 57.6h0M133.5 47.7h0M122.1 67.4h0M126.4 74.2h0M135.3 70.6h0M128.8 57.6h0M121.0 60.1h0M122.8 60.4h0M131.4 48.0h0M113.6 52.4h0M141.3 50.2h0M127.2 57.8h0M137.6 54.6h0M134.9 53.0h0M126.2 58.3h0M113.0 72.5h0M110.3 60.9h0M133.9 55.0h0M139.4 62.3h0M148.3 55.5h0M130.7 69.1h0M119.1 61.9h0M136.2 52.1h0M125.5 56.9h0M133.8 39.3h0M142.0 56.9h0M128.3 61.1h0M121.4 68.2h0M153.5 38.4h0M140.3 50.8h0M123.1 57.3h0M122.5 52.9h0M119.2 72.8h0M128.8 60.8h0M131.6 58.8h0M110.9 60.9h0M135.9 59.7h0M115.4 60.8h0M119.3 66.4h0M130.8 56.5h0M122.4 62.9h0M125.9 54.2h0M128.9 53.1h0M137.9 56.3h0M122.6 64.2h0M126.3 54.2h0M114.7 54.4h0M117.9 65.3h0M137.1 49.0h0M129.9 58.9h0M135.9 56.3h0M140.9 55.7h0M121.5 63.7h0M105.3 68.7h0M129.2 60.7h0M126.9 63.5h0M137.6 47.4h0M123.1 61.9h0M132.4 56.3h0M132.2 48.2h0M137.7 59.8h0M138.9 54.6h0M126.3 61.1h0M122.7 50.7h0M121.8 60.8h0M120.3 56.0h0M124.4 57.3h0M128.0 57.4h0M131.7 62.0h0M129.8 59.3h0M108.6 49.7h0M125.5 63.3h0M122.7 56.6h0M118.3 68.4h0M123.2 61.8h0M139.4 55.0h0M148.0 46.3h0M138.2 56.7h0M121.5 61.5h0M119.6 55.8h0M128.3 52.8h0M141.2 46.1h0M122.7 61.1h0M122.8 60.8h0M118.2 54.1h0M142.8 52.7h0M127.7 55.0h0M126.9 60.2h0M112.6 61.0h0M122.5 68.5h0M120.7 68.9h0M130.2 73.5h0M126.9 58.5h0M142.3 55.6h0M133.4 48.2h0M142.4 60.6h0M125.3 56.2h0M120.0 68.3h0M130.2 56.6h0M120.2 72.0h0M135.6 53.6h0M138.7 46.1h0M133.1 48.8h0M139.9 49.7h0M137.8 50.0h0M134.1 61.6h0M119.4 62.9h0M121.9 66.3h0M120.9 59.2h0M128.6 64.7h0M117.8 63.0h0M123.0 57.0h0M119.8 61.1h0M125.3 49.5h0M126.6 51.1h0M133.5 69.0h0M118.4 62.4h0M127.7 64.0h0M118.5 51.7h0M113.0 66.8h0M132.6 61.9h0M124.2 63.9h0M121.0 69.5h0M125.1 55.1h0M133.6 65.6h0M116.4 56.2h0M115.1 57.4h0M127.9 60.0h0M126.5 59.8h0M137.7 50.8h0M110.0 53.1h0M128.0 53.5h0M126.2 61.2h0M127.7 48.1h0M118.8 63.1h0M129.1 64.3h0M117.5 50.4h0M134.1 44.3h0M119.5 64.7h0M124.1 75.3h0M131.1 59.4h0M129.2 70.9h0M130.7 51.9h0M134.8 43.6h0M122.8 62.3h0M126.3 52.7h0M145.9 57.4h0M119.8 64.4h0M120.5 59.0h0M137.0 53.8h0M126.8 59.0h0M119.8 69.7h0M123.9 68.1h0M122.1 58.0h0M141.8 51.6h0M120.2 58.6h0M137.9 64.1h0M132.2 53.1h0M115.4 60.3h0M127.0 59.8h0M124.7 67.4h0M116.8 59.3h0M133.4 57.9h0M126.4 64.6h0M118.7 72.9h0M152.8 56.7h0M133.7 67.0h0M131.4 64.2h0M126.2 59.9h0M127.8 46.9h0M130.0 67.4h0M136.9 55.0h0M132.9 63.8h0M125.7 47.2h0M118.0 61.2h0M127.7 55.1h0M130.8 66.6h0M137.7 56.3h0M127.8 58.2h0M131.5 57.4h0M122.8 65.4h0M119.7 61.9h0M121.2 54.2h0M132.9 54.7h0M116.5 63.4h0M118.4 71.7h0M137.4 65.1h0M124.1 64.2h0M116.3 58.6h0M127.7 60.4h0M135.4 52.2h0M140.2 57.3h0M118.9 61.4h0M123.4 70.8h0M124.7 65.0h0M135.3 52.3h0M123.9 62.1h0M117.1 55.7h0M119.4 64.4h0M133.8 65.6h0M111.9 69.4h0M119.8 69.3h0M134.3 55.2h0M140.2 49.0h0M119.9 55.5h0M121.7 61.8h0M137.0 60.9h0M123.1 55.8h0M123.3 57.6h0M122.2 58.4h0M119.3 62.0h0M122.3 59.7h0M115.1 65.5h0M134.4 58.3h0M119.5 55.2h0M112.5 58.7h0M120.8 59.7h0M112.9 69.9h0M111.6 62.2h0M123.0 65.5h0M143.5 47.3h0M124.0 57.5h0M125.2 58.2h0M147.4 40.7h0M124.5 54.7h0M129.4 53.8h0M130.0 50.0h0M147.4 48.7h0M113.1 70.0h0M120.2 54.7h0M130.2 53.4h0M132.9 51.8h0M136.2 54.3h0M131.2 57.0h0M123.2 58.0h0M133.5 59.2h0M129.5 70.7h0M140.1 44.3h0M137.3 52.4h0M127.6 53.1h0M140.5 46.0h0M124.9 54.9h0M148.4 54.6h0M114.3 62.3h0M129.7 54.2h0M121.5 54.6h0M127.0 51.6h0M141.2 65.4h0M128.7 67.5h0M129.2 53.0h0M121.9 55.1h0M130.3 60.8h0M135.3 52.1h0M116.4 63.4h0M143.5 51.2h0M121.6 48.4h0M124.9 62.7h0M122.3 69.0h0M120.1 56.6h0M122.0 60.4h0M135.2 50.5h0M111.0 66.3h0M136.2 62.8h0M121.0 70.5h0M134.8 56.9h0M118.3 57.5h0M121.2 67.1h0M132.2 62.0h0M144.2 49.3h0M131.9 67.4h0M114.5 62.2h0M123.2 58.0h0M126.7 53.3h0M134.7 45.9h0M115.8 53.9h0M116.2 67.6h0M132.8 54.0h0M136.8 56.9h0M122.2 60.6h0M135.9 65.8h0M124.4 61.9h0M135.6 61.2h0M134.1 61.1h0M117.1 61.9h0M109.7 67.2h0M149.4 47.9h0M129.0 58.9h0M125.5 51.0h0M120.8 60.6h0M126.9 53.1h0M124.7 55.1h0M113.8 61.3h0M122.3 65.9h0M141.2 54.3h0M124.2 56.4h0M111.9 63.1h0M144.7 55.9h0M128.9 55.8h0M128.6 60.0h0M128.5 60.1h0M120.6 62.0h0M127.0 64.8h0M119.5 70.2h0M125.5 56.1h0M128.0 58.5h0M126.5 61.2h0M118.0 52.8h0M133.8 54.5h0M143.7 51.8h0M112.4 73.6h0M122.6 64.0h0M150.5 52.5h0M117.3 62.9h0M114.6 69.0h0M130.1 50.5h0M134.0 60.3h0M133.2 50.9h0M118.4 56.1h0M116.5 65.8h0M131.2 64.0h0M129.2 55.2h0M118.4 72.3h0M128.9 57.1h0M115.7 57.9h0M130.8 50.4h0M134.4 58.2h0M120.0 52.2h0M134.8 62.7h0M116.8 56.1h0M137.8 53.4h0M124.9 66.9h0M126.1 61.5h0M122.0 56.4h0M127.4 52.9h0M110.0 64.1h0M141.5 57.3h0M149.8 52.2h0M142.8 51.4h0M124.7 62.4h0M120.7 66.1h0M124.1 61.4h0M119.4 61.5h0M135.9 52.3h0M122.1 62.6h0M135.1 52.9h0M113.0 56.4h0M118.0 69.5h0M127.9 60.7h0M138.0 54.2h0M130.6 53.3h0M114.5 68.8h0M128.1 61.2h0M117.5 62.5h0M143.7 44.4h0M131.7 63.7h0M125.7 59.8h0M110.1 72.0h0M126.7 66.2h0M125.8 56.7h0M130.9 54.8h0M126.7 67.8h0M136.7 53.8h0M136.9 58.0h0M132.9 55.5h0M129.2 59.6h0M133.6 57.0h0M122.3 60.4h0M129.2 51.2h0M129.3 61.6h0M128.4 55.9h0M126.1 55.9h0M135.5 51.6h0M109.4 60.5h0M130.8 57.6h0M120.0 54.2h0M124.1 54.9h0M121.6 61.2h0M121.3 63.2h0M119.7 59.5h0M129.1 66.0h0M144.2 54.9h0M120.9 61.6h0M137.8 57.4h0M112.6 65.7h0M122.7 65.1h0M132.0 52.5h0M146.3 46.4h0M149.3 45.5h0M131.5 67.3h0M121.6 58.4h0M140.8 50.8h0M128.8 49.9h0M146.2 54.0h0M132.5 59.6h0M121.8 58.3h0M114.2 67.4h0M140.9 56.1h0M137.6 56.9h0M116.0 56.5h0M133.8 55.8h0M135.8 52.0h0M120.6 64.4h0M118.4 53.2h0M119.9 56.9h0M116.1 60.9h0M141.9 64.4h0M142.2 47.8h0M137.7 52.2h0M129.5 53.0h0M122.7 50.7h0M141.9 45.9h0M131.4 52.5h0M127.1 51.3h0M126.4 64.1h0M128.2 46.2h0M132.0 47.9h0M131.4 59.1h0M120.9 59.7h0M126.3 61.1h0M139.2 60.0h0M135.4 65.7h0M123.3 70.9h0M127.1 62.9h0M126.6 59.1h0M120.2 64.3h0M146.3 49.0h0M127.4 58.2h0M133.5 53.7h0M128.0 59.1h0M141.7 56.2h0M116.4 60.2h0M129.8 61.9h0M135.8 52.5h0M146.4 47.1h0M143.8 57.9h0M142.5 51.3h0M129.0 48.2h0M109.9 63.9h0M136.7 59.5h0M129.2 63.4h0M136.5 62.3h0M111.1 61.9h0M116.3 57.9h0M140.2 45.9h0M119.0 60.2h0M134.4 51.7h0M135.6 57.1h0M115.9 50.3h0" stroke="#111" stroke-width="0.88" stroke-linecap="square" fill="none" opacity="0.6"/>
<path d="M128.8 55.9h0M148.7 51.9h0M130.9 65.0h0M136.6 54.9h0M147.9 62.1h0M138.6 55.3h0M127.6 51.4h0M141.6 61.2h0M131.3 62.7h0M160.0 45.3h0M126.6 67.9h0M133.9 58.6h0M142.4 57.7h0M146.4 60.2h0M146.8 57.6h0M124.8 73.1h0M127.5 70.2h0M137.2 52.0h0M140.2 64.6h0M130.6 63.0h0M130.6 56.7h0M136.0 68.6h0M143.0 58.1h0M137.7 61.0h0M140.5 60.3h0M127.2 69.6h0M126.6 48.4h0M140.9 51.7h0M136.8 59.9h0M134.7 64.5h0M135.5 59.3h0M130.4 61.1h0M130.5 63.1h0M149.8 61.9h0M138.5 51.6h0M147.4 62.3h0M148.8 42.5h0M137.5 58.2h0M143.9 51.3h0M139.7 73.5h0M141.5 46.7h0M140.8 67.3h0M134.6 64.9h0M135.9 51.9h0M135.6 67.8h0M145.6 53.6h0M144.9 53.2h0M139.8 59.3h0M129.4 65.1h0M129.8 46.4h0M130.2 57.7h0M129.9 57.0h0M128.1 48.7h0M144.7 58.0h0M139.4 57.9h0M138.0 58.5h0M127.0 54.8h0M140.6 65.3h0M142.9 68.1h0M127.4 62.3h0M135.9 68.3h0M149.5 52.7h0M142.9 56.8h0M130.4 62.1h0M133.4 71.2h0M144.7 64.8h0M135.9 46.0h0M144.1 58.4h0M120.6 67.0h0M148.8 66.5h0M132.0 67.0h0M140.1 58.2h0M137.0 63.6h0M143.6 62.0h0M132.4 54.0h0M150.3 63.5h0M133.8 61.4h0M140.5 48.4h0M146.4 71.7h0M138.6 55.5h0" stroke="#333" stroke-width="0.88" stroke-linecap="square" fill="none" opacity="0.5"/>
<ellipse cx="139" cy="88" rx="11" ry="8" fill="#bbb" filter="url(#b2)" opacity="0.6"/>
<path d="M140.5 86.0h0M140.2 79.4h0M130.2 81.0h0M145.2 87.6h0M146.9 78.3h0M134.9 95.0h0M133.5 79.1h0M133.9 86.4h0M138.9 94.3h0M148.1 95.4h0M143.0 85.6h0M135.6 80.9h0M147.8 94.0h0M139.6 83.7h0M143.6 90.4h0M140.1 82.4h0M140.6 85.3h0M144.1 90.9h0M142.0 86.0h0M149.5 91.7h0M147.7 92.0h0M143.6 89.9h0M131.6 79.3h0M132.6 91.0h0M145.3 88.9h0M139.6 96.8h0M136.3 79.5h0M128.4 86.5h0M143.8 91.5h0M137.5 91.9h0M138.7 84.5h0M136.4 91.6h0M145.6 82.6h0M132.2 88.6h0M130.4 90.0h0M142.5 85.1h0M138.8 90.3h0M127.0 87.9h0M143.1 92.4h0M147.0 87.7h0M129.1 94.4h0M144.3 85.0h0M146.1 93.0h0M138.0 76.7h0M135.8 84.4h0M133.3 87.6h0M131.6 89.9h0M146.1 85.5h0M142.7 87.4h0M147.8 84.6h0M144.0 84.3h0M140.6 87.9h0M146.5 80.4h0M129.7 94.7h0M141.6 96.1h0M131.9 89.0h0M143.1 96.5h0M138.6 85.9h0M143.9 87.5h0M133.9 91.7h0M126.0 83.1h0M148.3 85.6h0M136.8 89.8h0M146.7 90.5h0M132.4 85.3h0M146.2 87.4h0M134.7 92.2h0M146.8 98.4h0M131.6 84.6h0M134.3 89.7h0M135.7 93.3h0M134.6 86.7h0M142.9 89.0h0M132.1 95.2h0M142.9 85.6h0M140.4 82.7h0M130.6 86.6h0M141.5 88.5h0M133.7 81.4h0M127.5 95.7h0M141.5 84.2h0M147.1 90.6h0M136.2 85.1h0M146.8 89.6h0M150.2 89.7h0M135.0 85.1h0M134.2 89.2h0M140.7 90.9h0M142.1 83.0h0M137.6 83.5h0M142.3 81.7h0M135.0 83.9h0M134.8 86.8h0M149.3 86.8h0M129.2 86.6h0M144.1 90.7h0M140.6 97.6h0M146.6 88.4h0M147.3 81.6h0M137.8 83.8h0M140.2 95.8h0M135.6 95.6h0M132.0 94.8h0M127.5 83.9h0M145.8 87.6h0M140.0 87.9h0M140.2 87.1h0M132.3 86.6h0M139.8 83.7h0M142.2 96.5h0M127.8 85.4h0M137.1 88.1h0M139.7 84.5h0M138.8 88.0h0M138.4 95.4h0M139.9 80.9h0M128.3 90.8h0M136.7 85.0h0M129.8 86.5h0M138.4 84.7h0M136.6 92.3h0M144.3 90.6h0M137.8 81.5h0M144.3 95.2h0M147.7 93.6h0M140.9 89.8h0M138.9 94.0h0M137.2 98.3h0M144.3 86.5h0M139.0 80.3h0M134.0 86.6h0M145.2 88.4h0M137.0 91.0h0M125.5 92.5h0M138.6 88.8h0M143.5 85.7h0M139.8 90.4h0M136.6 89.9h0M141.3 91.4h0M132.3 85.4h0M136.1 93.7h0M140.7 80.1h0M130.3 97.3h0M141.3 81.8h0M132.8 88.7h0M148.7 95.8h0M136.5 86.6h0M149.6 89.6h0M139.6 94.2h0M142.3 84.0h0M128.6 88.1h0M142.5 94.6h0M143.2 95.3h0M144.4 89.0h0M141.9 89.9h0M134.7 87.5h0M139.9 85.8h0M129.0 81.1h0M142.4 90.5h0M139.7 82.4h0M144.8 86.1h0M124.9 95.5h0M128.9 98.8h0M142.6 85.9h0M123.0 84.6h0M149.1 94.5h0M140.8 79.8h0M136.4 86.6h0M142.1 87.4h0M141.3 80.2h0M134.6 94.9h0M129.1 92.4h0M129.6 94.0h0M126.4 89.6h0M136.2 94.0h0M147.0 88.9h0M135.8 83.3h0M141.8 87.4h0M135.8 80.3h0M138.0 87.4h0M145.7 85.5h0M128.4 82.8h0M138.7 89.2h0M143.9 86.2h0M142.7 88.7h0M150.5 87.7h0M140.0 90.7h0M147.3 83.6h0M135.8 86.7h0M124.5 94.3h0M146.3 88.1h0M145.2 81.2h0M149.4 90.0h0M130.9 88.3h0M144.1 92.7h0M140.2 85.5h0M144.2 84.3h0M138.5 91.7h0M129.2 89.8h0M125.7 83.5h0M130.6 87.6h0M143.9 87.8h0M145.2 88.5h0M137.6 90.4h0M137.4 88.7h0M146.1 85.3h0M146.8 82.7h0M137.5 79.6h0M135.4 95.7h0M141.4 94.1h0M129.0 83.1h0M142.2 92.0h0M144.7 79.9h0M142.5 87.7h0M139.8 90.3h0M137.1 79.8h0M131.7 81.0h0M130.0 87.4h0M147.9 84.6h0M133.8 82.5h0M127.2 88.3h0M135.7 86.8h0M132.5 90.3h0M130.8 90.6h0M134.5 91.8h0M133.0 90.1h0M142.0 87.6h0M150.1 88.8h0M133.0 91.3h0M133.4 85.4h0M139.1 88.9h0M150.6 79.6h0M137.2 93.5h0M137.9 89.6h0M149.4 82.1h0M139.3 91.8h0M135.0 79.5h0M132.2 88.9h0M140.3 96.9h0M148.0 80.5h0M146.1 92.4h0M150.0 87.3h0M135.2 88.7h0M149.5 91.0h0M150.6 91.8h0M135.0 83.1h0M136.6 86.5h0M132.8 85.2h0M138.6 85.5h0M139.8 92.5h0M133.4 86.0h0M127.1 91.4h0M143.6 95.3h0M130.8 98.5h0M145.0 86.7h0M136.3 86.5h0M130.7 91.7h0M134.9 84.5h0M142.5 88.5h0M135.0 86.9h0M135.6 94.5h0M145.8 84.5h0M138.7 94.6h0M137.0 96.6h0M142.0 91.2h0M124.8 92.1h0M141.3 90.8h0M142.3 90.6h0M135.5 92.4h0M139.4 82.9h0M132.1 88.8h0M141.3 77.3h0M124.9 93.1h0M128.5 86.8h0M134.9 90.7h0M148.6 95.8h0M132.1 94.0h0M130.7 89.5h0M140.2 91.0h0M133.5 94.5h0M138.5 87.9h0M137.2 82.8h0M143.9 89.6h0M142.1 97.0h0M133.1 86.6h0M139.1 92.1h0M137.8 92.5h0M142.1 79.5h0M134.3 78.2h0M137.0 86.0h0M143.0 88.8h0M138.6 94.1h0M143.1 82.0h0M134.3 89.6h0M150.6 87.0h0M137.8 89.3h0M144.3 87.6h0M141.0 86.0h0M135.2 84.1h0M143.5 85.3h0" stroke="#555" stroke-width="0.88" stroke-linecap="square" fill="none" opacity="0.5"/>
<path d="M124.5 80.6h0M145.3 98.5h0M140.5 91.7h0M129.8 82.3h0M124.1 98.7h0M122.8 90.1h0M131.8 80.3h0M134.4 97.4h0M128.8 79.8h0M140.1 91.1h0M136.6 80.1h0M147.3 78.5h0M126.6 81.6h0M136.7 87.0h0M137.8 92.7h0M147.9 86.8h0M122.7 95.1h0M122.0 83.3h0M125.7 89.9h0M144.6 79.0h0M130.2 95.6h0M141.8 78.5h0M141.7 94.3h0M133.6 79.6h0M140.9 83.3h0M125.4 79.8h0M133.4 78.9h0M132.9 88.7h0M137.8 85.3h0M145.1 78.0h0M131.2 97.5h0M147.0 97.2h0M144.1 88.3h0M144.7 89.2h0M125.0 81.9h0M124.4 96.1h0M131.0 85.4h0M137.4 78.3h0M142.3 94.3h0M145.0 96.3h0M130.9 79.3h0M144.0 91.9h0M132.5 83.9h0M126.0 95.1h0M135.1 94.7h0M131.5 83.4h0M136.6 93.1h0M147.5 84.1h0M142.0 85.3h0M146.9 93.5h0M137.9 84.3h0M129.6 96.4h0M145.1 83.0h0M124.0 80.5h0M149.9 76.9h0M145.4 88.2h0M137.8 88.4h0M133.6 88.8h0M124.2 97.2h0M124.5 79.2h0M141.3 90.7h0M145.3 91.9h0M149.0 77.2h0M121.8 81.4h0M144.5 79.5h0M137.2 93.7h0M126.1 88.1h0M148.1 93.2h0M133.2 87.0h0M129.7 98.1h0M144.6 91.6h0M130.5 92.8h0M135.9 94.4h0M132.2 96.3h0M141.7 86.4h0M138.1 94.5h0M137.1 98.1h0M121.7 96.6h0M142.6 87.3h0M146.6 79.4h0M131.5 92.4h0M145.8 84.6h0M150.8 90.9h0M122.8 78.8h0M123.8 89.1h0M131.0 82.0h0M134.7 77.8h0M148.3 95.3h0M138.0 86.2h0M130.6 89.9h0" stroke="#777" stroke-width="0.77" stroke-linecap="square" fill="none" opacity="0.5"/>
<rect x="103.4" y="75.5" width="15.5" height="24" fill="#050505"/>
<rect x="118" y="75.5" width="3.2" height="24" fill="#2a2a55" filter="url(#b05)"/>
<rect x="103.4" y="75.5" width="17.8" height="3" fill="#1a1a70" opacity="0.8"/>
<rect x="103.40" y="34.60" width="65.50" height="64.70" stroke="#a8a8a8" stroke-width="1" fill="none"/>
<rect x="103.40" y="75.30" width="17.80" height="24.20" stroke="#2e2e9a" stroke-width="1.15" fill="none"/>
<rect x="121.20" y="75.30" width="30.10" height="24.20" stroke="#4a4ac4" stroke-width="1.15" fill="none"/>
<rect x="104" y="91" width="10.8" height="8.5" fill="#fff"/>
<text x="104.35" y="99.00" font-size="9.2" fill="#1a1a1a" textLength="9.91" lengthAdjust="spacingAndGlyphs">72</text>
<rect x="149" y="83" width="5.5" height="11" fill="#fff"/>
<text x="149.43" y="91.30" font-size="8.9" fill="#1a1a1a" textLength="4.63" lengthAdjust="spacingAndGlyphs">4</text>
<line x1="14" y1="38" x2="14" y2="105" stroke="#333" stroke-width="1.6"/>
<line x1="13.2" y1="104.7" x2="163.5" y2="104.7" stroke="#333" stroke-width="1.6"/>
<line x1="97.9" y1="38.6" x2="97.9" y2="104.7" stroke="#333" stroke-width="1.6"/>
<text x="10.20" y="77.84" font-size="12.4" fill="#1a1a1a" textLength="11.04" lengthAdjust="spacingAndGlyphs" transform="rotate(-90 10.20 77.84)">PI</text>
<text x="42.91" y="118.30" font-size="12.4" fill="#1a1a1a" textLength="24.72" lengthAdjust="spacingAndGlyphs">FSC</text>
<text x="96.00" y="93.65" font-size="12.4" fill="#1a1a1a" textLength="38.54" lengthAdjust="spacingAndGlyphs" transform="rotate(-90 96.00 93.65)">CD11c</text>
<text x="124.20" y="118.30" font-size="12.4" fill="#1a1a1a" textLength="18.62" lengthAdjust="spacingAndGlyphs">ckit</text>
<text x="-1.18" y="162.50" font-size="22.5" font-weight="bold" fill="#111" textLength="18.65" lengthAdjust="spacingAndGlyphs">B</text>
<text x="28.50" y="155.90" font-size="14.3" fill="#1a1a1a" textLength="340.73" lengthAdjust="spacingAndGlyphs">Adult spleen sorted populations in STX3 co-culture</text>
<text x="93.25" y="183.10" font-size="11.3" font-weight="bold" fill="#1a1a1a" textLength="79.32" lengthAdjust="spacingAndGlyphs">ckit- (CD11c-)</text>
<text x="345.00" y="183.10" font-size="11.3" font-weight="bold" fill="#1a1a1a" textLength="82.58" lengthAdjust="spacingAndGlyphs">ckit+ (CD11c-)</text>
<text x="16.69" y="202.50" font-size="12.4" fill="#1a1a1a" textLength="83.15" lengthAdjust="spacingAndGlyphs">Gated live cells</text>
<text x="123.14" y="202.60" font-size="12.4" fill="#1a1a1a" textLength="92.28" lengthAdjust="spacingAndGlyphs">Gated large cells</text>
<text x="270.63" y="202.50" font-size="12.4" fill="#1a1a1a" textLength="83.56" lengthAdjust="spacingAndGlyphs">Gated live cells</text>
<text x="377.38" y="202.60" font-size="12.4" fill="#1a1a1a" textLength="92.54" lengthAdjust="spacingAndGlyphs">Gated large cells</text>
<ellipse cx="35" cy="245.20000000000002" rx="6.5" ry="3.2" transform="rotate(-28 35 245.20000000000002)" fill="#888" filter="url(#b1)" opacity="0.5"/>
<path d="M28.7 249.4 Q28 245.70000000000002 33 244.00000000000003 L40.8 242.00000000000003 Q38 245.4 31.2 250.00000000000003 Z" fill="#000" filter="url(#b05)"/>
<path d="M32.3 250.2h0M39.1 241.8h0M35.2 243.9h0M37.3 244.6h0M37.6 244.6h0M40.2 241.6h0M36.8 243.4h0M35.3 244.9h0M35.1 245.3h0M32.5 245.7h0M32.5 244.0h0M32.7 245.1h0M33.4 242.8h0M33.5 243.5h0M32.9 246.2h0M38.3 243.5h0M33.3 244.8h0M37.5 240.5h0M37.1 241.0h0M33.3 245.7h0M35.6 247.3h0M36.3 243.9h0M37.7 243.4h0M33.6 247.4h0M40.1 244.3h0M33.2 249.1h0M34.4 246.4h0M40.0 246.2h0M29.8 245.7h0M38.6 243.6h0M32.0 241.1h0M36.1 243.8h0M29.7 252.2h0M27.7 247.6h0M35.2 245.0h0M36.9 243.2h0M32.3 245.5h0M28.4 246.3h0M40.0 240.8h0M36.2 247.4h0M38.0 243.3h0M36.8 243.2h0M33.2 247.4h0M36.5 246.7h0M34.0 244.6h0M35.8 243.9h0M33.5 243.9h0M35.9 244.8h0M40.0 242.0h0M30.5 247.9h0M41.0 240.7h0M32.7 245.6h0M26.8 248.4h0M33.4 242.9h0M36.0 242.6h0M29.4 246.4h0M38.2 246.4h0M38.6 243.1h0M33.4 245.1h0M37.3 242.6h0" stroke="#333" stroke-width="0.77" stroke-linecap="square" fill="none" opacity="0.6"/>
<path d="M78.1 229.3h0M65.9 228.1h0M77.9 227.0h0M72.7 226.8h0M74.4 232.2h0M74.5 227.9h0M73.6 224.6h0M73.0 228.4h0M68.3 229.8h0M52.2 228.8h0M75.1 228.5h0M72.3 227.1h0M76.1 229.9h0M81.7 226.0h0M70.5 231.1h0M79.1 228.8h0M71.2 226.3h0M75.3 226.0h0M55.5 233.3h0M69.5 226.7h0M82.9 228.3h0M74.0 225.0h0M60.9 231.2h0M66.5 227.8h0M78.4 229.4h0M55.8 230.1h0M71.4 229.9h0M63.6 227.1h0M75.0 231.4h0M82.8 225.9h0M82.5 225.0h0M63.0 226.1h0M76.8 229.4h0M77.2 227.0h0M71.1 231.0h0M72.9 224.6h0M77.4 227.1h0M83.2 226.4h0M69.8 227.5h0M79.2 224.7h0M81.9 225.5h0M65.6 227.5h0M73.6 232.1h0M80.7 226.4h0M67.1 233.8h0M71.6 228.3h0M71.0 231.6h0M75.3 226.4h0M75.1 225.2h0M64.8 229.4h0M49.7 235.8h0M72.0 224.4h0M75.6 228.0h0M79.8 223.4h0M68.5 227.4h0M73.0 233.5h0M72.3 228.1h0M70.0 230.6h0M83.2 225.9h0M78.8 222.7h0M74.9 226.4h0M77.9 227.1h0M82.3 222.2h0M67.6 229.0h0M76.6 226.3h0M73.8 228.0h0M83.0 225.6h0M75.2 223.2h0M50.6 229.2h0M76.0 221.8h0M77.5 226.8h0M73.7 226.1h0M70.8 230.5h0M77.1 227.1h0M69.9 229.2h0M70.2 225.8h0M74.4 225.5h0M62.0 232.5h0M67.6 224.3h0M68.7 233.4h0M72.4 224.9h0M64.8 231.5h0M77.6 227.5h0M72.5 229.3h0M71.9 224.9h0M78.6 230.6h0M79.0 223.7h0M76.2 230.5h0M68.7 230.1h0M59.4 226.7h0M77.6 228.7h0M70.9 228.4h0M71.1 231.3h0M54.9 232.5h0M62.6 228.6h0M60.3 228.5h0M73.8 227.9h0M77.2 228.0h0M77.0 230.7h0M75.3 227.9h0M73.0 228.0h0M74.0 230.2h0M74.2 227.9h0M74.0 229.6h0M70.4 230.8h0M69.4 230.5h0M72.7 225.2h0M80.4 226.5h0M81.6 224.6h0M79.4 231.0h0M77.3 226.3h0M62.7 230.2h0M80.0 228.0h0M63.8 227.5h0M65.0 227.2h0M71.7 228.9h0M78.2 228.9h0M80.3 231.1h0M80.1 222.3h0M59.6 234.8h0M73.9 231.0h0M70.7 226.9h0M71.2 229.2h0M75.3 226.0h0M79.0 228.2h0M65.5 226.9h0M56.8 230.7h0M73.8 226.2h0M68.7 228.6h0M74.5 229.1h0M81.5 227.3h0M83.2 223.5h0M79.5 227.5h0M64.6 228.2h0M77.9 227.2h0M62.8 228.8h0M75.4 230.8h0M66.0 229.1h0M82.2 225.2h0M64.6 231.2h0M74.7 224.6h0M70.7 225.1h0M74.0 226.1h0M65.2 228.6h0M76.7 231.5h0M77.3 230.9h0M64.8 229.9h0M69.4 225.0h0M75.8 225.6h0M68.5 226.5h0M82.7 225.0h0M72.8 228.5h0M63.4 230.6h0M72.7 229.1h0M70.7 228.6h0M79.0 229.1h0M68.5 231.3h0M65.3 229.2h0M75.2 227.9h0M51.8 230.1h0M72.9 230.3h0M68.6 232.6h0M58.4 231.3h0M78.7 226.8h0M76.8 229.5h0M67.3 230.7h0M83.1 225.3h0M53.3 229.3h0M66.0 226.9h0M77.4 225.1h0M62.5 229.6h0M65.6 232.1h0M71.0 233.8h0M69.5 230.2h0M78.7 225.7h0M73.2 230.8h0M78.3 226.7h0M78.7 231.0h0M82.3 227.2h0M76.1 223.6h0M74.9 226.4h0M80.1 225.0h0M77.4 224.5h0M81.4 224.5h0M74.0 229.2h0M71.2 228.4h0M57.9 229.0h0M80.3 228.7h0M69.9 228.9h0M73.4 233.4h0M71.7 225.4h0M59.9 227.7h0M77.7 228.6h0M81.3 228.5h0M65.2 228.3h0M69.3 229.1h0M71.2 225.4h0M68.8 233.2h0M77.3 227.0h0M67.0 231.0h0M74.2 231.8h0M77.8 226.2h0M50.9 232.5h0M81.0 224.6h0M82.0 227.7h0M58.5 230.6h0M77.2 229.0h0M75.3 227.5h0M70.8 227.8h0M73.5 225.3h0M79.4 225.9h0M78.3 225.7h0M77.6 227.3h0M82.0 227.2h0M82.0 225.7h0M73.4 227.3h0M63.0 229.8h0M66.8 230.1h0M79.9 223.3h0M77.2 227.9h0M80.6 227.0h0M57.9 226.3h0M74.2 225.0h0M78.8 227.9h0M82.8 228.4h0M60.9 227.2h0M75.2 227.6h0M80.7 226.0h0M73.4 232.8h0M82.6 224.1h0M73.2 227.8h0M64.1 227.8h0M74.8 224.7h0M78.9 227.9h0M71.8 227.5h0M79.5 227.8h0M76.6 224.3h0M60.9 235.5h0M68.1 228.2h0M57.7 229.3h0M68.0 231.0h0M50.3 229.4h0M70.2 227.4h0M67.0 228.2h0M60.4 231.3h0M70.0 231.7h0M77.7 224.5h0M68.7 227.4h0M74.2 230.7h0M67.8 228.8h0M74.4 224.8h0M70.2 230.1h0M82.9 221.4h0M80.0 225.8h0M70.2 226.6h0M61.8 231.7h0M78.9 228.7h0M76.3 223.7h0M70.3 228.0h0M75.8 229.3h0M55.6 229.3h0M55.1 230.0h0M63.7 230.6h0M72.6 230.8h0M83.2 224.8h0M82.2 226.1h0M78.6 230.1h0M64.0 229.8h0M75.9 227.7h0M69.7 225.6h0M67.6 226.8h0M79.5 223.8h0M78.4 227.2h0M82.8 224.2h0M81.7 229.5h0M63.5 226.5h0M82.7 227.4h0M76.6 225.2h0M73.6 227.6h0M76.8 226.4h0M68.9 228.2h0M71.8 229.5h0M71.4 228.5h0M66.4 226.5h0M53.8 230.6h0M70.4 228.6h0M72.2 226.7h0M82.0 224.4h0M68.7 232.1h0M71.0 225.8h0M73.0 230.5h0M72.3 226.4h0M80.0 228.9h0M72.1 227.4h0M72.2 234.7h0M73.2 232.2h0M72.9 229.0h0M56.4 232.0h0M74.3 227.0h0M69.8 225.4h0M61.1 230.9h0M68.4 228.8h0M72.2 227.0h0M68.6 233.4h0M64.2 228.7h0M70.9 225.7h0M66.1 231.6h0M82.2 226.4h0M71.6 232.6h0M66.5 226.7h0M73.2 226.0h0M79.0 224.1h0M73.8 223.2h0M74.3 230.3h0M71.9 229.0h0M83.0 223.3h0M63.0 230.3h0M76.3 226.7h0M66.2 232.4h0M63.8 229.3h0M74.0 229.5h0M69.7 226.7h0M80.9 226.0h0M69.9 228.6h0M72.0 229.0h0M51.9 232.4h0M74.2 225.4h0M71.8 233.9h0M75.9 226.7h0M67.2 230.9h0" stroke="#8a8a8a" stroke-width="0.77" stroke-linecap="square" fill="none" opacity="0.45"/>
<ellipse cx="77" cy="227.3" rx="9" ry="3" transform="rotate(-12 77 227.3)" fill="#999" filter="url(#b2)" opacity="0.36"/>
<ellipse cx="35" cy="310.79999999999995" rx="6.5" ry="3.2" transform="rotate(-28 35 310.79999999999995)" fill="#888" filter="url(#b1)" opacity="0.5"/>
<path d="M28.7 314.99999999999994 Q28 311.29999999999995 33 309.59999999999997 L40.8 307.59999999999997 Q38 310.99999999999994 31.2 315.59999999999997 Z" fill="#000" filter="url(#b05)"/>
<path d="M31.7 310.6h0M37.9 305.9h0M34.9 310.6h0M34.7 307.9h0M34.1 310.2h0M41.1 308.8h0M33.5 312.6h0M36.8 309.2h0M34.1 310.3h0M30.2 311.7h0M38.7 310.9h0M39.9 307.0h0M35.0 306.1h0M33.3 309.0h0M36.1 306.8h0M31.3 310.3h0M36.7 310.9h0M33.8 314.1h0M34.8 308.9h0M36.0 309.8h0M37.6 309.5h0M42.0 308.7h0M33.8 312.3h0M36.4 307.8h0M32.3 310.3h0M28.6 314.8h0M35.3 312.3h0M33.5 311.2h0M37.7 310.6h0M35.1 308.4h0M41.8 308.2h0M40.0 310.5h0M39.2 308.8h0M36.8 310.5h0M31.4 313.6h0M32.6 312.3h0M32.7 312.8h0M35.5 314.4h0M35.9 310.7h0M32.3 311.2h0M34.6 310.0h0M33.2 309.7h0M36.9 308.6h0M33.0 312.0h0M32.6 311.3h0M32.9 309.8h0M33.8 309.5h0M31.8 312.6h0M33.1 308.7h0M34.1 311.1h0M36.5 310.2h0M36.2 310.7h0M33.1 309.9h0M36.4 308.8h0M35.5 311.2h0M38.5 310.6h0M32.8 310.8h0M35.5 307.5h0M32.0 313.0h0M32.6 309.9h0" stroke="#333" stroke-width="0.77" stroke-linecap="square" fill="none" opacity="0.6"/>
<path d="M81.3 293.1h0M81.9 290.9h0M71.4 293.1h0M75.7 288.2h0M68.4 296.3h0M67.3 294.7h0M75.4 294.3h0M69.4 291.7h0M74.9 292.7h0M82.1 289.3h0M66.7 293.1h0M69.7 294.9h0M67.1 294.3h0M57.5 294.6h0M71.5 297.0h0M72.1 298.4h0M77.9 296.0h0M66.5 294.3h0M83.2 292.8h0M57.8 296.2h0M75.9 294.5h0M69.4 298.5h0M76.1 296.4h0M77.6 292.8h0M70.8 291.3h0M81.9 293.5h0M82.0 290.8h0M65.2 294.4h0M71.4 293.9h0M82.2 289.5h0M70.2 295.9h0M83.0 296.8h0M78.2 290.5h0M64.7 293.5h0M74.8 293.8h0M73.2 292.1h0M72.5 293.5h0M79.3 292.5h0M66.5 292.2h0M72.6 293.6h0M75.5 292.5h0M78.6 290.0h0M76.4 295.3h0M77.4 296.4h0M80.9 295.3h0M63.2 293.1h0M80.9 291.3h0M69.9 292.0h0M74.3 290.0h0M73.7 298.8h0M66.2 298.9h0M65.9 290.9h0M76.6 290.3h0M62.1 298.6h0M67.3 292.3h0M75.5 292.6h0M75.0 294.5h0M73.6 289.8h0M64.3 297.2h0M53.3 295.8h0M63.0 295.6h0M65.3 295.8h0M72.2 292.7h0M65.8 289.9h0M74.1 290.3h0M71.8 294.8h0M80.7 295.7h0M77.0 290.1h0M77.3 291.5h0M69.1 297.0h0M72.1 291.2h0M69.3 299.1h0M67.2 296.5h0M76.2 295.7h0M71.3 291.7h0M68.1 292.2h0M72.0 296.8h0M79.7 291.8h0M79.6 292.9h0M71.4 293.9h0M73.2 296.5h0M77.8 294.5h0M81.6 290.3h0M75.9 296.3h0M82.5 293.5h0M71.6 293.1h0M66.6 294.3h0M72.9 290.2h0M76.6 294.3h0M68.5 290.3h0M82.6 292.5h0M72.5 296.4h0M81.4 289.6h0M72.6 289.5h0M72.6 297.1h0M67.3 296.8h0M61.0 295.5h0M83.1 295.6h0M78.4 294.3h0M60.4 300.8h0M74.8 293.8h0M74.1 291.9h0M74.0 293.1h0M80.2 293.7h0M82.9 292.9h0M66.5 298.3h0M51.3 298.5h0M76.7 291.6h0M63.9 294.4h0M78.1 294.4h0M75.4 294.7h0M67.8 293.3h0M74.6 290.1h0M75.6 292.1h0M79.5 289.8h0M69.3 293.1h0M70.5 291.8h0M71.3 290.8h0M79.1 293.9h0M73.9 293.0h0M66.1 292.8h0M71.8 291.7h0M64.2 295.9h0M73.8 292.5h0M67.2 294.7h0M68.0 293.7h0M76.1 294.7h0M80.3 290.6h0M73.3 296.6h0M70.9 293.2h0M63.7 295.2h0M70.2 292.4h0M79.3 290.9h0M68.8 289.8h0M76.4 292.3h0M77.1 291.2h0M77.6 289.1h0M55.7 298.4h0M81.8 284.3h0M72.0 290.2h0M66.0 296.8h0M67.9 294.6h0M73.8 298.2h0M81.1 288.8h0M69.5 291.6h0M62.0 294.3h0M79.8 291.9h0M70.6 294.3h0M74.4 297.9h0M78.3 287.8h0M74.2 299.0h0M67.7 296.7h0M72.0 292.8h0M80.9 292.0h0M75.3 299.3h0M71.2 292.6h0M71.7 291.8h0M70.5 294.0h0M80.9 288.2h0M61.8 294.2h0M71.8 295.0h0M68.2 298.2h0M69.5 293.8h0M75.1 295.9h0M76.7 292.9h0M69.6 294.7h0M77.4 291.9h0M73.0 289.2h0M70.2 297.0h0M56.6 301.4h0M73.9 299.5h0M71.1 296.4h0M69.5 297.6h0M83.4 288.9h0M71.6 291.0h0M76.3 292.0h0M60.9 293.7h0M75.5 289.5h0M83.5 292.5h0M73.3 296.9h0M66.6 296.6h0M62.4 295.1h0M79.3 291.0h0M73.4 295.1h0M77.9 292.0h0M62.7 299.9h0M81.5 291.7h0M80.3 292.8h0M72.5 293.7h0M74.3 296.1h0M71.6 292.6h0M79.9 293.7h0M77.9 293.2h0M75.8 292.5h0M78.8 287.9h0M69.3 292.7h0M75.4 292.2h0M78.6 297.8h0M73.9 292.7h0M82.5 294.5h0M70.7 292.5h0M68.0 294.9h0M82.1 289.2h0M68.9 291.3h0M75.4 290.2h0M65.1 293.8h0M73.8 290.4h0M72.8 296.6h0M74.2 293.6h0M56.2 296.5h0M72.5 292.1h0M62.3 295.7h0M65.2 294.0h0M60.5 296.0h0M81.4 289.8h0M76.1 289.3h0M79.2 293.6h0M71.2 296.1h0M66.7 295.1h0M65.1 298.0h0M78.5 291.8h0M57.8 292.4h0M61.9 299.5h0M76.1 290.9h0M67.2 296.0h0M60.3 297.2h0M74.3 291.8h0M73.3 293.8h0M76.9 294.9h0M78.9 294.9h0M83.2 294.1h0M68.6 295.5h0M70.5 292.1h0M73.4 288.5h0M72.5 295.6h0M72.1 292.5h0M71.2 293.8h0M72.6 296.2h0M78.9 292.2h0M70.9 293.5h0M78.8 288.6h0M77.1 294.4h0M79.1 293.1h0M75.4 291.2h0M79.0 292.1h0M79.9 294.0h0M75.2 292.1h0M76.1 290.0h0M76.0 290.9h0M77.9 292.9h0M71.7 291.0h0M74.2 291.7h0M73.2 295.2h0M81.5 288.7h0M82.6 294.8h0M74.2 297.5h0M70.6 290.5h0M75.0 293.9h0M64.8 292.4h0M80.4 290.6h0M61.2 295.7h0M58.9 296.2h0M71.7 293.9h0M65.1 294.5h0M69.9 296.4h0M75.8 295.1h0M72.6 288.6h0M57.9 298.1h0M81.9 293.8h0M72.6 289.4h0M70.1 295.2h0M69.0 292.6h0M83.1 293.5h0M59.3 299.4h0M65.6 291.7h0M60.3 294.6h0M63.3 294.1h0M75.6 294.1h0M69.3 290.6h0M70.3 292.6h0M59.1 296.9h0M60.9 292.0h0M70.6 293.9h0M62.9 297.5h0M76.2 292.2h0M58.3 296.5h0M81.3 291.0h0M75.5 294.4h0M76.3 295.4h0M67.4 289.3h0M53.2 295.6h0M62.8 297.4h0M83.2 291.5h0M78.7 292.6h0M75.3 292.0h0M71.3 296.8h0M71.8 293.8h0M70.9 294.7h0M65.6 295.5h0M76.8 292.8h0M75.7 293.9h0M52.4 296.0h0M74.5 292.1h0M65.9 294.6h0M68.4 293.4h0M64.3 296.6h0M66.2 297.2h0M82.0 293.1h0M82.8 291.3h0M59.2 296.4h0M78.7 288.7h0M64.3 298.1h0M78.5 295.7h0M79.8 292.3h0M78.1 294.6h0M73.8 292.9h0M76.6 292.1h0M60.7 293.1h0M82.7 290.6h0M75.3 292.6h0M75.7 289.5h0M74.6 291.9h0M63.0 293.4h0M79.5 295.1h0M80.5 291.6h0M82.4 286.0h0M69.1 292.1h0M65.7 296.5h0M76.6 293.5h0M73.3 295.0h0" stroke="#8a8a8a" stroke-width="0.77" stroke-linecap="square" fill="none" opacity="0.6"/>
<ellipse cx="77" cy="292.9" rx="9" ry="3" transform="rotate(-12 77 292.9)" fill="#999" filter="url(#b2)" opacity="0.48"/>
<ellipse cx="35" cy="376.5" rx="6.5" ry="3.2" transform="rotate(-28 35 376.5)" fill="#888" filter="url(#b1)" opacity="0.5"/>
<path d="M28.7 380.7 Q28 377.0 33 375.3 L40.8 373.3 Q38 376.7 31.2 381.3 Z" fill="#000" filter="url(#b05)"/>
<path d="M36.7 374.1h0M36.9 373.3h0M38.9 371.6h0M33.5 374.9h0M36.1 377.7h0M34.3 379.5h0M39.2 374.5h0M34.1 378.1h0M26.7 379.1h0M37.6 374.5h0M41.3 371.4h0M31.3 377.6h0M37.9 377.5h0M30.3 378.8h0M38.0 373.2h0M32.9 375.0h0M37.7 376.0h0M36.8 375.5h0M37.7 374.4h0M37.6 376.1h0M39.0 374.8h0M35.8 376.8h0M29.5 375.8h0M39.6 373.8h0M31.7 376.7h0M34.7 376.3h0M33.7 378.5h0M32.4 382.3h0M33.3 379.9h0M35.6 372.7h0M31.7 377.8h0M35.5 375.0h0M35.2 376.2h0M31.9 377.7h0M40.8 371.8h0M32.7 378.4h0M39.5 375.5h0M33.2 376.8h0M35.4 375.4h0M36.9 376.9h0M36.5 375.2h0M35.8 378.8h0M33.1 380.6h0M37.1 375.0h0M34.3 379.6h0M39.1 375.5h0M39.5 370.4h0M35.1 375.4h0M33.1 377.2h0M36.9 375.9h0M33.7 374.3h0M37.0 376.0h0M41.6 374.2h0M34.2 374.4h0M42.1 371.0h0M36.1 376.7h0M37.4 377.1h0M31.7 376.5h0M34.6 374.0h0M34.4 378.8h0" stroke="#333" stroke-width="0.77" stroke-linecap="square" fill="none" opacity="0.6"/>
<path d="M76.6 358.3h0M69.2 360.2h0M73.3 356.6h0M80.3 354.7h0M53.6 359.7h0M76.2 356.5h0M73.0 356.0h0M74.8 359.9h0M73.0 356.6h0M82.4 359.5h0M73.7 361.1h0M82.2 355.0h0M72.9 354.8h0M65.3 362.0h0M66.7 361.6h0M76.2 353.6h0M70.6 363.5h0M74.3 359.3h0M67.2 356.7h0M61.7 368.7h0M72.1 357.4h0M74.1 354.4h0M67.7 361.2h0M66.7 362.8h0M66.7 360.3h0M70.5 356.1h0M60.8 364.8h0M78.6 358.3h0M67.7 360.2h0M73.3 359.2h0M76.4 358.0h0M67.7 358.0h0M57.4 361.5h0M59.9 357.6h0M64.9 356.1h0M66.6 365.7h0M78.7 351.9h0M73.8 356.7h0M58.7 361.7h0M60.9 360.3h0M68.0 363.2h0M72.8 357.0h0M65.1 356.2h0M67.1 362.8h0M57.4 363.1h0M73.5 361.2h0M64.5 363.4h0M59.7 362.1h0M72.3 359.8h0M65.8 362.9h0M65.4 359.5h0M80.6 358.0h0M68.0 363.4h0M79.2 360.5h0M73.2 362.4h0M69.4 357.3h0M73.3 355.8h0M59.3 362.6h0M81.4 356.7h0M77.5 356.9h0M73.4 359.0h0M77.9 355.9h0M64.3 362.0h0M69.8 361.3h0M69.0 357.0h0M80.7 358.3h0M80.4 356.9h0M71.5 362.7h0M60.0 366.4h0M78.6 358.0h0M75.1 360.3h0M67.4 361.2h0M64.7 356.5h0M75.9 358.9h0M80.1 359.2h0M80.6 359.6h0M65.3 363.9h0M63.2 363.1h0M82.7 359.7h0M77.6 359.5h0M74.1 358.2h0M72.5 359.1h0M71.8 355.2h0M73.7 359.3h0M68.9 351.5h0M67.6 358.9h0M67.1 364.5h0M82.1 356.9h0M81.0 365.7h0M65.7 362.0h0M69.5 363.7h0M79.1 356.1h0M60.4 364.1h0M68.5 355.9h0M65.4 360.5h0M73.9 359.2h0M81.5 357.4h0M75.4 358.6h0M64.9 364.4h0M67.2 357.3h0M70.2 360.0h0M80.5 354.1h0M62.9 361.9h0M76.9 355.8h0M64.1 361.6h0M71.9 355.6h0M67.0 364.2h0M65.2 363.6h0M61.2 365.5h0M68.3 361.9h0M63.3 362.7h0M76.8 358.1h0M82.5 355.3h0M70.3 355.9h0M70.2 360.5h0M72.6 357.7h0M63.4 361.4h0M67.7 362.6h0M50.5 365.9h0M56.2 358.1h0M78.4 357.3h0M74.7 356.6h0M64.4 359.3h0M73.1 357.2h0M69.9 357.9h0M75.5 356.0h0M54.3 356.8h0M73.9 359.4h0M82.1 355.5h0M63.2 357.7h0M80.4 356.2h0M82.7 357.1h0M70.6 355.2h0M68.4 362.2h0M69.0 361.8h0M60.0 364.6h0M76.2 355.6h0M69.0 358.5h0M74.6 354.0h0M66.8 362.6h0M75.7 360.6h0M81.0 354.8h0M62.3 362.7h0M74.3 359.2h0M67.3 363.0h0M79.0 360.9h0M71.2 361.4h0M73.0 357.0h0M72.5 355.3h0M72.5 359.9h0M79.6 355.3h0M61.9 359.9h0M55.4 361.4h0M67.0 358.9h0M73.0 359.1h0M67.2 358.8h0M58.8 360.3h0M71.9 361.3h0M78.1 358.5h0M73.4 362.2h0M78.9 357.5h0M72.4 361.7h0M68.4 358.5h0M71.3 358.4h0M73.0 358.0h0M71.8 358.2h0M71.6 360.1h0M81.2 358.8h0M73.5 355.7h0M64.6 359.6h0M67.8 358.0h0M61.2 364.6h0M71.7 362.0h0M63.1 355.7h0M69.2 362.3h0M69.3 361.1h0M65.2 364.4h0M78.3 360.8h0M72.2 362.6h0M74.4 357.8h0M68.4 360.4h0M65.4 358.0h0M75.5 360.5h0M71.8 361.6h0M75.8 356.3h0M68.4 360.7h0M53.4 365.0h0M81.7 358.8h0M80.6 362.2h0M71.3 362.4h0M58.2 362.1h0M70.6 355.8h0M73.8 361.0h0M71.6 359.2h0M65.7 361.0h0M74.4 357.8h0M58.9 363.1h0M53.5 367.1h0M79.1 356.5h0M62.5 360.8h0M58.8 363.7h0M68.6 355.9h0M74.4 361.9h0M62.6 360.6h0M69.2 360.6h0M80.4 355.3h0M72.3 355.4h0M59.2 358.4h0M81.6 358.2h0M81.1 360.6h0M74.5 359.6h0M77.8 359.4h0M64.5 360.4h0M72.7 359.5h0M67.3 360.2h0M76.6 359.0h0M79.6 359.9h0M79.4 360.3h0M82.1 360.8h0M79.2 356.5h0M73.8 356.3h0M77.7 357.4h0M69.4 354.8h0M64.5 362.3h0M78.6 356.2h0M74.1 359.7h0M75.6 360.0h0M80.7 356.8h0M60.8 367.2h0M70.1 357.5h0M80.9 359.1h0M69.7 365.8h0M53.9 366.5h0M73.8 359.9h0M76.7 358.0h0M76.2 355.4h0M71.4 364.2h0M51.8 366.8h0M53.8 361.3h0M81.5 356.5h0M68.1 356.7h0M72.8 358.9h0M67.6 356.6h0M75.6 359.8h0M49.9 368.3h0M72.5 356.8h0M78.3 360.5h0M59.7 359.1h0M79.8 356.5h0M68.5 357.0h0M78.4 353.9h0M61.8 358.5h0M71.8 358.6h0M80.8 360.7h0M68.0 365.8h0M72.7 362.2h0M53.1 363.4h0M68.8 365.1h0M71.5 356.5h0M73.3 356.2h0M80.1 358.3h0M71.2 358.7h0M68.6 358.5h0M62.2 364.6h0M81.2 354.1h0M63.9 362.2h0M71.1 359.1h0M76.1 358.2h0M79.7 361.8h0M71.7 358.2h0M59.0 356.5h0M76.6 355.9h0M82.3 352.2h0M72.6 358.4h0M65.0 363.8h0M70.7 360.9h0M69.4 360.4h0M70.1 360.1h0M72.8 357.7h0M77.8 357.8h0M64.9 358.4h0M78.6 361.4h0M62.2 360.6h0M78.5 360.7h0M79.7 355.0h0M74.8 361.1h0M76.0 358.1h0M63.6 361.7h0M73.4 359.3h0M67.1 361.1h0M71.3 359.9h0M74.0 357.5h0M72.7 360.3h0M70.1 362.6h0M73.6 356.3h0M71.5 359.3h0M83.3 359.9h0M76.9 358.8h0M83.0 357.1h0M62.6 360.4h0M80.2 359.3h0M64.8 364.0h0M76.0 355.0h0M78.6 360.6h0M78.5 357.4h0M67.5 363.2h0M76.0 358.7h0M69.9 357.4h0M57.2 361.8h0M68.7 364.0h0M71.5 357.2h0M83.3 360.5h0M69.9 357.0h0M72.2 353.5h0M75.2 362.6h0M76.0 356.9h0M80.0 356.6h0M75.2 356.5h0M62.9 362.3h0M76.6 356.1h0M78.7 357.1h0M69.1 360.0h0M77.8 360.1h0M67.2 358.9h0M76.7 355.6h0M72.3 358.5h0M73.2 359.7h0M82.3 359.8h0M65.1 363.5h0M53.8 367.7h0" stroke="#8a8a8a" stroke-width="0.77" stroke-linecap="square" fill="none" opacity="0.6"/>
<ellipse cx="77" cy="358.6" rx="9" ry="3" transform="rotate(-12 77 358.6)" fill="#999" filter="url(#b2)" opacity="0.48"/>
<rect x="18.80" y="207.30" width="65.50" height="65.60" stroke="#a8a8a8" stroke-width="1" fill="none"/>
<rect x="18.80" y="272.90" width="65.50" height="65.70" stroke="#a8a8a8" stroke-width="1" fill="none"/>
<rect x="18.80" y="338.60" width="65.50" height="65.60" stroke="#a8a8a8" stroke-width="1" fill="none"/>
<circle cx="35" cy="246.20000000000002" r="8.2" fill="none" stroke="#4a4ac4" stroke-width="1.1"/>
<clipPath id="cp00"><path d="M18.8 202.3 H81.5 V226.3 H87.5 V267.3 H18.8 Z"/></clipPath>
<ellipse cx="72" cy="230.3" rx="32" ry="6.5" transform="rotate(-14 72 230.3)" fill="none" stroke="#4a4ac4" stroke-width="1.1" clip-path="url(#cp00)"/>
<rect x="61.9" y="218.3" width="11.3" height="8.3" fill="#fff"/>
<line x1="73.2" y1="223.20000000000002" x2="81.2" y2="223.20000000000002" stroke="#4a4ac4" stroke-width="1.1"/>
<text x="19.91" y="238.50" font-size="9.3" fill="#1a1a1a" textLength="10.96" lengthAdjust="spacingAndGlyphs">69</text>
<text x="62.23" y="225.80" font-size="9.3" fill="#1a1a1a" textLength="10.36" lengthAdjust="spacingAndGlyphs">26</text>
<circle cx="35" cy="311.79999999999995" r="8.2" fill="none" stroke="#4a4ac4" stroke-width="1.1"/>
<clipPath id="cp01"><path d="M18.8 267.9 H81.5 V291.9 H87.5 V332.9 H18.8 Z"/></clipPath>
<ellipse cx="72" cy="295.9" rx="32" ry="6.5" transform="rotate(-14 72 295.9)" fill="none" stroke="#4a4ac4" stroke-width="1.1" clip-path="url(#cp01)"/>
<rect x="62.2" y="283.3" width="11.0" height="8.3" fill="#fff"/>
<line x1="73.2" y1="288.2" x2="81.2" y2="288.2" stroke="#4a4ac4" stroke-width="1.1"/>
<text x="20.22" y="304.60" font-size="9.3" fill="#1a1a1a" textLength="9.84" lengthAdjust="spacingAndGlyphs">42</text>
<text x="62.64" y="290.80" font-size="9.3" fill="#1a1a1a" textLength="10.03" lengthAdjust="spacingAndGlyphs">57</text>
<circle cx="35" cy="377.5" r="8.2" fill="none" stroke="#4a4ac4" stroke-width="1.1"/>
<clipPath id="cp02"><path d="M18.8 333.6 H81.5 V357.6 H87.5 V398.6 H18.8 Z"/></clipPath>
<ellipse cx="72" cy="361.6" rx="32" ry="6.5" transform="rotate(-14 72 361.6)" fill="none" stroke="#4a4ac4" stroke-width="1.1" clip-path="url(#cp02)"/>
<rect x="61.9" y="349.2" width="11.3" height="8.3" fill="#fff"/>
<line x1="73.2" y1="354.09999999999997" x2="81.2" y2="354.09999999999997" stroke="#4a4ac4" stroke-width="1.1"/>
<text x="19.51" y="367.80" font-size="9.3" fill="#1a1a1a" textLength="10.75" lengthAdjust="spacingAndGlyphs">50</text>
<text x="62.52" y="356.70" font-size="9.3" fill="#1a1a1a" textLength="10.11" lengthAdjust="spacingAndGlyphs">49</text>
<text x="53.21" y="251.90" font-size="12.3" fill="#1a1a1a" textLength="31.58" lengthAdjust="spacingAndGlyphs">Large</text>
<path d="M285.4 242.4h0M286.0 247.4h0M286.4 243.0h0M288.0 240.4h0M283.3 244.3h0M285.1 246.8h0M284.3 242.3h0M282.5 240.6h0M286.8 244.2h0M287.5 242.8h0M286.1 241.6h0M286.5 244.5h0M283.8 247.3h0M286.6 244.1h0M287.5 249.3h0M285.2 242.5h0M284.7 246.8h0M284.7 242.8h0M285.5 247.3h0M287.7 246.4h0M284.7 241.7h0M288.9 243.6h0M284.1 244.5h0M284.7 247.5h0M285.7 245.9h0M286.6 243.2h0M286.9 243.1h0M282.6 245.1h0M284.1 247.6h0M287.2 242.0h0M288.1 243.8h0M287.6 240.7h0M285.0 242.0h0M286.1 248.2h0M279.8 245.2h0M288.4 245.1h0M281.6 241.0h0M282.2 247.6h0M290.2 244.5h0M286.0 248.2h0M286.5 245.8h0M287.7 247.9h0M282.2 240.3h0M285.6 245.1h0M286.0 242.2h0M284.2 242.1h0M285.7 244.7h0M288.9 247.4h0M281.6 248.3h0M285.9 241.0h0" stroke="#888" stroke-width="0.77" stroke-linecap="square" fill="none" opacity="0.5"/>
<path d="M286.7 239.0 Q301.7 227.5 338.5 221.40000000000003 L338.5 235.0 Q320.2 238.0 292.7 242.5 Z" fill="#777" filter="url(#b1)" opacity="0.55"/>
<path d="M320.2 232.2h0M294.2 238.5h0M322.2 230.6h0M308.0 233.3h0M308.9 236.2h0M302.4 235.1h0M296.4 236.0h0M308.5 235.7h0M312.6 229.1h0M297.9 237.4h0M321.9 230.2h0M312.2 232.8h0M316.3 236.3h0M317.9 229.8h0M295.5 236.3h0M315.9 236.6h0M313.9 233.2h0M325.0 230.4h0M326.5 233.2h0M333.0 231.6h0M307.5 233.3h0M321.0 231.5h0M313.9 230.7h0M326.8 236.5h0M312.7 236.0h0M333.4 225.7h0M302.7 237.9h0M320.6 231.3h0M312.7 238.8h0M336.5 225.4h0M321.0 231.0h0M335.7 226.3h0M321.6 227.0h0M323.8 234.8h0M324.7 235.4h0M325.0 229.4h0M320.0 236.5h0M310.5 238.0h0M326.2 230.5h0M332.4 228.3h0M336.6 225.1h0M334.8 227.1h0M318.8 230.0h0M293.5 239.8h0M322.8 228.1h0M317.3 233.0h0M314.3 233.0h0M306.9 233.8h0M323.3 229.8h0M334.5 227.5h0M290.1 239.2h0M332.2 225.9h0M292.0 238.7h0M298.0 240.1h0M293.7 238.2h0M310.5 231.6h0M305.3 235.9h0M324.9 225.6h0M297.3 234.4h0M309.2 236.0h0M304.8 236.5h0M292.1 238.8h0M328.8 227.8h0M331.4 229.8h0M322.5 231.0h0M332.8 226.2h0M315.5 230.8h0M331.7 226.5h0M318.6 232.0h0M317.5 234.2h0M332.2 234.1h0M325.2 234.1h0M329.6 230.3h0M299.9 234.5h0M320.3 232.0h0M311.0 237.6h0M302.1 236.5h0M323.1 227.0h0M298.6 236.7h0M303.2 232.6h0M327.8 226.9h0M327.0 233.9h0M314.7 235.8h0M317.3 231.9h0M327.6 234.3h0M311.0 237.9h0M334.2 230.1h0M322.6 232.8h0M306.3 234.1h0M328.0 231.2h0M328.5 229.6h0M293.7 237.6h0M322.3 235.6h0M320.8 234.1h0M335.8 230.8h0M331.9 225.0h0M319.1 232.2h0M327.2 231.7h0M325.7 228.5h0M316.8 230.7h0M335.3 227.4h0M336.5 229.9h0M329.4 237.6h0M316.0 228.8h0M301.4 234.6h0M313.7 233.8h0M330.4 229.9h0M304.8 240.3h0M308.6 235.5h0M328.0 228.4h0M308.1 233.0h0M306.6 236.4h0M331.8 236.7h0M301.6 235.0h0M291.6 237.1h0M320.8 233.7h0M336.8 234.0h0M307.4 234.8h0M314.4 235.6h0M329.0 231.4h0M310.3 235.4h0M334.5 233.0h0M324.9 233.5h0M305.7 236.7h0M331.3 226.5h0M333.8 231.0h0M309.3 229.2h0M309.8 236.3h0M320.5 230.6h0M324.2 229.1h0M315.3 234.8h0M328.1 226.9h0M321.9 230.9h0M300.9 235.1h0M312.6 233.7h0M329.7 230.5h0M319.9 228.1h0M295.3 238.0h0M299.5 236.7h0M333.5 228.2h0M319.1 237.5h0M314.7 232.5h0M311.6 230.7h0M317.1 234.6h0M327.8 235.6h0M319.4 232.1h0M328.7 226.1h0M315.2 233.4h0M335.9 233.3h0M321.3 231.6h0M298.0 234.3h0M306.4 233.6h0M329.9 229.8h0M308.5 237.9h0M322.8 231.7h0M332.4 228.5h0M319.8 232.3h0M321.1 234.3h0M328.6 230.8h0M305.8 236.0h0M324.4 227.1h0M328.1 233.4h0M312.8 232.8h0M323.4 230.6h0M324.9 231.5h0M300.4 238.9h0M325.8 228.9h0M304.9 235.3h0M313.3 230.6h0M326.8 231.0h0M305.1 232.9h0M335.6 226.6h0M306.5 236.3h0M318.3 233.7h0M328.3 232.2h0M290.8 238.1h0M327.4 228.5h0M307.3 233.8h0M290.5 239.0h0M333.3 227.3h0M335.9 230.9h0M312.9 232.6h0M314.8 233.0h0M333.7 232.0h0M335.1 222.9h0M305.8 236.3h0M325.1 231.6h0M320.7 229.1h0M305.2 237.6h0M323.3 230.1h0M330.0 230.8h0M303.2 236.9h0M316.0 229.2h0M316.7 233.3h0M326.9 232.3h0M312.9 231.8h0M307.7 234.3h0M301.9 236.4h0M301.2 234.8h0M333.6 230.6h0M301.5 237.3h0M321.3 232.0h0M335.5 227.8h0M327.1 232.2h0M316.0 230.9h0M297.3 237.1h0M308.7 238.8h0M334.6 232.9h0M300.5 233.7h0M315.3 234.3h0M306.6 233.8h0M291.0 237.6h0M304.7 235.2h0M307.3 234.3h0M330.4 228.4h0M333.6 227.5h0M321.8 232.5h0M309.2 237.2h0M321.3 234.6h0M308.0 235.0h0M335.2 234.5h0M312.0 232.7h0M317.3 231.9h0M322.2 230.4h0M320.6 235.5h0M293.3 239.1h0M300.9 237.6h0M320.8 228.9h0M334.1 226.3h0M323.4 231.6h0M333.6 227.4h0M335.7 223.0h0M320.9 229.2h0M315.9 234.6h0M327.6 233.5h0M330.7 232.9h0M336.2 225.8h0M313.0 236.2h0M320.5 232.4h0M329.9 230.1h0M327.9 231.1h0M303.6 237.2h0M300.2 235.1h0M319.7 232.5h0M336.6 225.9h0M294.5 238.9h0M326.1 234.1h0M323.1 233.2h0M293.6 237.8h0M320.4 230.5h0M314.1 235.4h0M334.0 227.9h0M321.7 236.0h0M308.6 236.1h0M309.5 233.8h0M303.6 235.1h0M312.6 230.6h0M299.0 235.9h0M321.0 230.6h0M325.3 231.9h0M331.6 229.6h0M333.4 231.3h0M315.5 234.1h0M332.1 226.4h0M297.1 240.4h0M334.8 233.4h0M327.9 232.9h0M336.6 226.7h0M334.7 228.0h0M335.3 234.8h0M304.8 233.3h0M321.9 234.8h0M335.3 225.2h0M302.2 236.9h0M308.1 236.0h0M334.5 227.0h0M331.0 227.2h0M288.2 239.1h0M299.0 238.6h0M336.9 220.2h0M308.4 236.8h0M312.8 232.9h0M334.9 231.1h0M308.7 232.0h0M298.3 237.6h0M303.6 237.1h0M321.8 231.0h0M333.8 231.3h0M312.8 234.1h0M321.0 232.0h0M292.0 238.3h0M317.4 232.6h0M323.8 229.4h0M332.3 228.8h0M312.8 231.6h0M330.4 228.9h0M302.2 236.5h0M320.7 235.0h0M313.7 233.8h0M333.8 232.6h0M323.0 233.5h0M332.4 227.2h0M336.5 232.9h0M325.1 230.0h0M328.2 228.3h0M313.6 230.6h0M327.7 229.1h0M297.8 238.0h0M321.1 233.0h0M309.3 236.1h0M313.0 228.5h0M319.9 235.8h0M320.9 229.2h0M331.4 232.1h0M319.8 229.8h0M303.2 235.9h0M304.8 236.9h0M293.1 238.8h0M315.0 232.3h0M329.2 229.4h0M316.7 231.1h0M330.7 227.3h0M326.2 233.6h0M307.6 236.7h0M328.9 228.6h0M292.4 239.0h0M335.7 230.5h0M294.0 237.1h0M326.3 232.5h0M330.2 232.7h0M296.7 237.3h0M304.9 237.0h0M323.8 231.4h0M334.4 231.2h0M334.2 230.6h0M322.5 230.8h0M294.4 238.2h0M305.0 235.1h0M318.9 231.9h0M331.6 232.4h0M314.9 233.4h0M323.4 231.0h0M315.9 229.5h0M311.3 232.5h0M335.7 225.8h0M320.0 228.8h0M318.0 230.7h0M318.4 230.8h0M309.7 229.0h0M331.4 229.9h0M321.1 231.4h0M315.0 234.7h0M315.5 231.5h0M317.9 233.5h0M321.9 235.0h0M327.4 233.3h0M303.8 235.9h0M317.5 233.5h0M326.1 227.4h0M323.2 233.5h0M293.4 239.4h0M335.5 230.1h0M327.3 228.3h0M299.9 237.1h0M324.9 231.4h0M296.7 236.2h0M308.3 234.0h0M314.3 229.6h0M334.1 228.4h0M304.3 236.0h0M334.2 228.6h0M308.7 233.9h0M314.0 233.0h0M335.4 228.8h0M320.1 232.1h0M321.8 232.5h0M335.8 227.2h0M333.6 222.4h0M325.7 233.4h0M322.3 232.5h0M315.0 233.5h0M333.3 230.5h0M325.7 229.9h0M333.6 232.9h0M300.7 235.8h0M334.8 227.0h0M330.9 232.8h0M319.1 231.6h0M310.5 231.2h0M325.5 229.1h0M334.9 221.6h0M330.8 232.9h0M308.6 232.8h0M301.9 238.2h0M307.2 235.4h0M334.9 230.4h0M328.8 226.8h0M326.5 227.3h0M299.7 237.4h0M306.4 234.3h0M325.4 233.3h0M306.4 235.6h0M330.2 236.6h0M335.8 229.1h0M318.3 230.9h0M332.2 230.3h0M318.0 230.9h0M322.6 233.7h0M328.7 230.4h0M325.7 227.2h0M320.0 233.3h0M311.7 237.2h0M329.9 232.7h0M315.9 233.7h0M326.7 225.0h0M331.2 230.6h0M336.1 228.4h0M316.7 233.7h0M297.7 235.1h0M322.5 235.5h0M311.4 236.0h0M313.2 233.2h0M324.7 236.5h0M309.4 234.5h0M331.0 227.6h0M323.2 231.9h0M326.8 226.7h0M321.6 232.7h0M308.7 233.5h0M331.6 235.2h0M314.1 231.0h0M327.2 226.2h0M328.9 224.0h0M313.5 233.5h0M330.2 230.9h0M315.6 232.6h0M318.6 233.1h0M334.5 227.9h0M329.3 235.3h0M325.5 229.1h0M326.0 229.5h0M322.4 235.0h0M312.1 233.4h0M334.8 226.6h0M325.0 229.2h0M301.2 237.7h0M317.2 237.7h0M331.0 230.6h0M306.1 237.4h0M331.0 227.0h0M313.6 232.4h0M304.7 236.3h0M310.1 237.5h0M298.1 236.0h0M313.6 228.6h0M327.9 235.2h0M317.0 231.5h0M301.2 237.1h0M317.6 232.0h0M317.8 231.8h0M302.5 235.0h0M325.7 229.3h0M330.2 227.2h0M296.2 238.3h0M304.7 233.3h0M300.4 234.8h0M320.5 230.8h0M326.0 229.5h0M327.9 233.1h0M318.1 229.6h0M298.9 237.7h0M317.5 232.4h0M319.8 233.8h0M327.1 227.0h0M325.8 230.3h0M315.3 234.9h0M289.5 239.0h0M321.7 230.9h0M314.2 231.4h0M311.6 234.3h0M333.3 235.3h0M308.4 232.8h0M299.9 236.1h0M328.4 220.8h0M335.0 226.7h0M334.7 228.8h0M331.3 231.3h0M298.4 236.8h0M327.2 228.8h0M294.2 240.0h0M319.5 235.1h0M316.6 237.2h0M305.5 234.9h0M327.3 228.0h0M310.1 236.0h0M305.6 235.0h0M303.4 237.2h0M333.7 225.9h0M331.3 232.6h0M326.2 235.0h0M335.8 236.1h0M332.4 226.3h0M324.7 236.0h0M292.2 237.4h0M320.7 235.0h0M336.3 230.3h0M311.6 234.2h0M330.8 229.6h0M296.9 236.0h0M295.7 237.7h0M324.5 231.7h0M306.6 233.9h0M329.8 229.4h0M309.8 234.4h0M336.2 228.1h0M316.6 235.0h0M334.1 230.3h0M325.7 228.2h0M291.8 239.5h0M324.4 232.3h0M300.5 239.5h0M303.3 236.9h0M294.3 238.4h0M308.7 235.2h0M322.1 230.5h0M319.5 230.5h0M311.1 233.3h0M324.0 230.6h0M287.9 239.9h0M321.1 231.1h0M303.4 234.7h0M324.7 231.9h0M330.1 234.9h0M316.8 227.4h0M320.9 230.7h0M319.1 234.1h0M310.6 235.5h0M322.9 231.1h0M318.6 236.6h0M310.0 234.3h0M297.6 237.3h0M334.9 232.0h0M325.8 232.4h0M292.7 239.0h0M336.9 227.4h0M315.8 230.3h0M297.0 236.5h0M319.1 232.4h0M328.4 224.7h0M326.3 233.0h0M319.2 234.3h0M293.1 238.3h0M321.5 230.6h0M307.7 237.5h0M323.8 237.5h0M328.3 227.1h0M333.6 226.4h0M295.0 237.2h0M322.9 232.9h0M314.0 235.0h0M307.9 234.3h0M335.2 228.1h0M313.0 231.4h0M328.4 233.3h0M305.6 237.8h0M331.1 236.3h0M333.2 232.7h0M291.5 239.8h0M331.6 235.9h0M309.0 235.5h0M306.7 232.9h0M326.6 229.3h0M332.8 230.3h0M327.7 230.6h0M326.4 234.0h0M312.9 233.7h0M336.4 232.9h0M297.4 237.3h0M300.3 236.8h0M304.5 237.1h0M326.6 235.6h0M295.9 238.5h0M300.0 238.2h0M319.4 230.5h0M303.1 233.2h0M321.2 232.3h0M300.0 236.0h0M328.5 225.0h0M311.2 231.6h0M317.2 233.6h0M313.0 232.2h0M332.6 227.0h0M290.4 238.0h0M329.5 228.0h0M313.6 234.5h0M300.3 238.1h0M326.0 232.5h0M288.1 239.2h0M302.4 237.0h0M308.2 234.3h0M333.4 228.3h0M315.7 233.7h0M319.9 233.3h0M311.9 233.0h0M312.2 234.0h0M319.0 235.1h0M332.4 231.4h0M322.6 234.4h0M296.5 238.8h0M300.6 238.5h0M302.8 236.2h0M308.3 237.9h0M300.8 238.8h0M326.0 232.0h0M322.3 228.8h0M311.1 235.6h0M296.2 235.9h0M327.2 232.8h0M303.1 237.5h0M318.1 230.3h0M310.7 231.5h0M294.3 235.6h0M321.0 233.8h0M323.8 231.8h0M336.4 223.3h0M336.6 228.0h0M300.6 233.9h0M307.6 234.4h0M333.2 224.8h0M329.9 229.0h0M325.4 232.6h0M298.5 235.9h0M314.3 233.5h0M325.2 228.3h0M294.8 236.7h0M334.4 226.8h0M323.5 225.4h0M324.9 234.8h0M324.4 228.1h0M293.0 240.0h0M332.7 230.2h0M313.7 234.2h0M332.4 233.0h0M329.2 231.6h0M304.5 236.6h0M328.8 230.2h0M314.8 238.3h0M303.7 235.1h0M333.8 230.1h0M291.3 237.9h0" stroke="#111" stroke-width="0.88" stroke-linecap="square" fill="none" opacity="0.55"/>
<path d="M289.7 239.2 Q303.7 228.64000000000001 338.5 223.90000000000003 L338.5 232.7 Q321.2 235.76000000000002 292.7 240.7 Z" fill="#080808" filter="url(#b05)"/>
<path d="M288.3 310.6h0M289.1 313.8h0M283.6 306.1h0M290.8 311.9h0M283.2 311.0h0M280.9 308.3h0M283.2 305.3h0M283.2 314.2h0M291.3 307.0h0M284.0 312.4h0M283.2 308.6h0M289.3 310.1h0M286.9 311.8h0M284.0 313.2h0M283.8 308.1h0M283.0 315.0h0M284.5 313.0h0M282.3 310.3h0M282.2 304.2h0M285.7 310.9h0M285.6 309.4h0M288.4 309.5h0M284.9 310.7h0M282.7 307.7h0M293.2 308.4h0M288.3 307.8h0M292.2 310.3h0M287.6 308.6h0M291.8 304.5h0M292.5 312.9h0M285.5 306.0h0M281.9 312.2h0M285.2 310.2h0M284.5 312.7h0M290.8 305.8h0M285.8 313.8h0M288.7 310.3h0M287.6 310.7h0M286.7 309.5h0M285.2 312.7h0M286.6 311.0h0M281.1 310.3h0M284.9 314.0h0M291.3 310.0h0M284.9 311.0h0M287.1 309.0h0M292.7 305.1h0M287.8 308.1h0M286.6 310.8h0M281.7 312.1h0" stroke="#888" stroke-width="0.77" stroke-linecap="square" fill="none" opacity="0.5"/>
<path d="M291.7 303.59999999999997 Q306.7 294.9 338.5 288.2 L338.5 299.4 Q320.2 302.4 297.7 307.09999999999997 Z" fill="#777" filter="url(#b1)" opacity="0.55"/>
<path d="M335.0 295.1h0M331.9 295.3h0M336.7 292.1h0M326.0 302.8h0M328.1 297.3h0M306.6 302.4h0M325.9 294.6h0M296.4 303.6h0M295.0 305.1h0M307.1 302.5h0M304.1 302.2h0M331.1 291.1h0M335.4 295.8h0M331.4 297.5h0M313.7 300.7h0M325.5 295.8h0M310.2 299.9h0M317.6 296.9h0M329.0 296.4h0M306.0 300.4h0M308.1 300.8h0M328.8 292.3h0M331.9 295.4h0M293.8 304.8h0M314.6 298.0h0M331.4 294.1h0M308.1 298.5h0M308.6 301.3h0M326.8 295.7h0M302.1 302.2h0M326.4 297.9h0M333.7 291.1h0M326.9 297.1h0M324.3 292.7h0M321.9 298.2h0M300.9 302.9h0M302.5 301.1h0M323.1 298.3h0M332.6 294.3h0M332.8 300.4h0M307.0 300.0h0M299.4 302.2h0M308.5 300.5h0M296.2 303.4h0M331.9 298.5h0M300.0 300.8h0M296.0 303.9h0M314.3 297.8h0M328.2 293.9h0M304.8 301.1h0M302.7 301.2h0M297.3 301.0h0M308.6 299.3h0M320.3 297.5h0M320.8 297.6h0M317.4 299.4h0M332.0 297.2h0M332.0 297.6h0M323.4 294.2h0M331.0 300.1h0M318.7 300.3h0M333.0 292.5h0M321.3 295.8h0M334.7 293.6h0M306.2 301.6h0M309.6 303.7h0M322.8 300.5h0M331.5 292.3h0M308.7 300.9h0M334.7 292.1h0M329.6 296.9h0M333.9 297.7h0M317.7 298.4h0M332.5 293.5h0M319.8 298.5h0M312.6 299.4h0M314.5 302.1h0M325.5 296.3h0M331.0 296.5h0M330.8 294.4h0M306.1 299.2h0M320.8 299.5h0M324.2 293.6h0M325.7 296.9h0M333.2 295.6h0M295.5 303.4h0M328.2 298.4h0M328.0 299.7h0M311.0 297.2h0M309.9 301.2h0M302.0 302.7h0M298.9 302.1h0M335.4 294.5h0M307.7 303.1h0M310.9 301.2h0M311.6 301.3h0M323.5 296.7h0M303.7 300.7h0M321.3 295.7h0M315.3 300.1h0M305.6 302.7h0M325.8 299.1h0M327.7 294.3h0M307.3 299.5h0M335.4 291.4h0M310.5 299.7h0M315.7 300.7h0M331.8 294.9h0M303.3 300.9h0M309.2 299.6h0M312.5 297.7h0M317.0 300.2h0M333.7 297.7h0M318.2 301.4h0M331.4 293.7h0M334.8 295.8h0M325.9 296.0h0M328.5 293.0h0M336.8 293.6h0M314.5 294.5h0M312.2 302.0h0M334.6 291.1h0M318.1 294.3h0M307.6 302.5h0M305.7 301.7h0M317.4 299.9h0M315.9 298.3h0M314.2 299.3h0M321.0 299.8h0M335.1 295.4h0M326.5 300.7h0M320.5 296.4h0M295.8 304.5h0M333.1 296.1h0M313.7 301.3h0M322.2 300.0h0M319.4 299.7h0M323.5 299.0h0M328.5 296.7h0M332.7 294.4h0M313.3 298.1h0M331.9 296.3h0M318.4 300.2h0M304.7 302.0h0M295.2 304.3h0M318.7 298.7h0M293.0 305.1h0M322.4 300.8h0M327.8 294.5h0M316.1 299.7h0M331.4 295.7h0M326.8 295.9h0M326.0 297.8h0M335.9 294.3h0M322.0 304.6h0M307.9 301.6h0M335.9 298.2h0M307.6 300.8h0M307.9 301.4h0M308.7 299.5h0M326.8 297.1h0M309.4 300.1h0M305.8 302.5h0M298.4 302.9h0M327.2 296.3h0M298.2 300.7h0M325.1 297.3h0M312.6 298.1h0M313.2 300.4h0M298.6 303.1h0M307.9 301.3h0M313.7 301.2h0M307.4 301.9h0M321.1 296.8h0M329.6 293.0h0M330.9 293.7h0M297.7 303.2h0M327.9 294.7h0M300.7 303.0h0M306.4 302.2h0M333.2 293.0h0M333.1 294.9h0M334.5 296.5h0M309.3 297.4h0M319.4 295.3h0M317.7 302.0h0M335.8 292.8h0M328.4 296.1h0M295.8 303.7h0M335.7 288.8h0M336.8 292.5h0M309.3 301.5h0M306.4 300.8h0M311.0 303.7h0M314.6 299.0h0M320.0 299.5h0M334.9 290.1h0M315.1 299.2h0M336.1 297.5h0M325.0 297.7h0M321.0 296.7h0M335.5 289.9h0M331.9 293.2h0M318.4 297.1h0M318.3 295.5h0M321.5 299.1h0M315.3 297.9h0M333.4 291.8h0M309.5 299.1h0M331.7 295.6h0M328.5 297.1h0M304.3 301.5h0M324.2 297.2h0M300.4 301.3h0M324.0 295.2h0M310.9 298.8h0M314.4 299.5h0M315.9 302.1h0M328.6 294.2h0M311.3 299.5h0M327.1 299.6h0M305.0 299.1h0M310.4 300.9h0M316.1 299.4h0M328.8 298.6h0M304.5 300.5h0M315.7 299.8h0M323.6 298.4h0M320.8 298.5h0M334.8 296.4h0M325.6 295.0h0M312.2 298.8h0M330.3 299.1h0M336.8 294.4h0M325.8 297.1h0M331.1 295.5h0M306.7 299.1h0M327.3 297.8h0M311.7 298.3h0M319.5 294.0h0M316.5 297.2h0M327.7 291.7h0M335.9 295.6h0M310.0 296.4h0M327.2 296.5h0M314.1 300.0h0M336.5 293.4h0M335.8 296.5h0M332.4 292.6h0M299.5 302.9h0M313.9 299.3h0M309.5 301.3h0M333.3 292.6h0M320.2 296.5h0M298.1 303.5h0M318.9 303.1h0M336.0 292.0h0M301.6 300.0h0M305.0 302.2h0M299.4 302.7h0M329.6 296.7h0M328.6 296.7h0M328.2 295.9h0M331.4 295.7h0M331.3 296.8h0M326.7 297.0h0M305.9 300.4h0M301.2 302.4h0M320.1 294.1h0M293.6 303.5h0M314.7 301.1h0M305.6 301.9h0M313.7 301.7h0M327.0 295.6h0M324.7 297.8h0M301.1 302.7h0M307.5 299.6h0M326.5 297.2h0M307.3 300.1h0M320.7 298.4h0M296.2 302.7h0M305.7 301.5h0M324.1 299.3h0M323.0 296.4h0M328.1 299.9h0M313.8 295.8h0M306.3 302.6h0M334.4 292.7h0M304.6 301.5h0M303.7 301.0h0M303.1 300.9h0M326.6 298.2h0M336.2 290.9h0M317.1 299.6h0M315.9 298.8h0M310.2 300.3h0M329.0 296.9h0M318.4 295.4h0M317.1 299.0h0M324.1 294.7h0M320.4 299.2h0M312.0 298.2h0M334.9 295.9h0M334.7 293.8h0M308.6 302.1h0M336.7 296.1h0M294.8 304.4h0M319.2 297.7h0M304.9 301.4h0M320.7 296.0h0M298.6 302.9h0M313.4 298.9h0M324.5 297.7h0M308.5 298.2h0M295.0 303.3h0M320.6 294.9h0M327.8 292.3h0M332.9 293.9h0M332.1 293.5h0M330.1 289.9h0M298.2 303.0h0M335.2 292.3h0M331.5 297.7h0M305.7 300.9h0M297.2 303.1h0M336.8 294.6h0M303.0 303.0h0M336.0 288.8h0M311.0 299.8h0M319.3 298.1h0M328.4 299.1h0M323.5 295.4h0M336.7 292.8h0M295.6 304.1h0M333.2 295.0h0M319.0 302.8h0M323.4 295.3h0M334.3 291.6h0M334.9 292.2h0M313.0 302.7h0M327.6 298.0h0M312.3 301.6h0M302.7 301.8h0M295.3 302.2h0M319.1 304.2h0M301.8 305.3h0M325.8 295.4h0M336.1 293.8h0M323.5 295.8h0M305.0 300.6h0M313.5 300.5h0M320.6 298.0h0M316.3 298.8h0M307.8 299.9h0M321.6 296.8h0M307.8 299.5h0M303.3 300.9h0M331.5 297.1h0M309.5 298.9h0M307.8 302.7h0M297.4 305.1h0M313.0 298.8h0M311.5 298.7h0M331.2 295.7h0M334.5 293.9h0M333.0 292.3h0M336.2 295.8h0M306.0 302.9h0M329.6 293.3h0M312.0 301.5h0M300.1 302.9h0M319.0 299.6h0M310.7 298.3h0M308.1 299.0h0M335.1 293.3h0M305.9 299.6h0M315.7 299.3h0M306.7 299.6h0M307.1 302.0h0M313.2 295.4h0M320.0 297.1h0M314.4 301.2h0M314.3 299.6h0M302.8 300.1h0M314.6 299.5h0M329.4 295.1h0M298.2 302.6h0M321.7 295.4h0M308.9 299.2h0M314.3 298.8h0M321.8 295.4h0M308.9 299.2h0M293.4 303.3h0M330.1 297.9h0M336.3 286.4h0M328.2 294.1h0M328.3 296.4h0M317.4 298.0h0M324.7 297.8h0M328.5 296.1h0M307.7 299.8h0M325.9 299.8h0M335.9 298.4h0M325.7 296.4h0M330.5 298.7h0M314.3 297.8h0M335.3 291.4h0M330.8 293.9h0M334.6 291.6h0M324.6 296.1h0M302.2 301.0h0M322.9 298.2h0M308.5 304.3h0M334.8 293.6h0M323.7 298.3h0M313.3 301.7h0M301.8 301.9h0M312.7 301.0h0M321.8 299.0h0M313.0 298.6h0M332.3 292.6h0M327.4 295.9h0M296.6 305.0h0M309.2 304.0h0M322.1 298.3h0M333.0 296.0h0M335.0 294.4h0M295.7 302.9h0M316.0 295.7h0M334.6 294.8h0M311.4 297.9h0M305.3 302.7h0M321.7 298.7h0M306.8 300.3h0M312.4 299.5h0M327.0 297.9h0M303.8 302.8h0M334.4 296.1h0M335.6 300.4h0M299.8 304.1h0M304.1 301.2h0M302.1 300.3h0M331.2 300.2h0M313.5 299.4h0M322.4 297.0h0M316.2 302.4h0M326.6 298.7h0M303.5 300.3h0M319.8 300.0h0M325.9 294.7h0M319.1 297.9h0M308.4 300.7h0M306.7 301.3h0M330.1 296.0h0M307.9 298.0h0M333.3 291.0h0M309.3 302.3h0M312.2 298.5h0M310.4 299.9h0M329.1 297.5h0M326.5 290.0h0M314.5 296.8h0M324.2 297.5h0M335.5 288.0h0M319.8 295.8h0M318.6 299.9h0M320.0 298.2h0M294.7 303.3h0M310.8 300.3h0M334.4 295.7h0M324.1 296.4h0M320.2 299.4h0M322.0 298.0h0M317.7 297.7h0M325.0 296.4h0M324.9 297.8h0M336.1 297.5h0M334.7 292.1h0M329.9 293.6h0M318.9 297.6h0M322.8 295.2h0M329.3 292.9h0M316.0 297.5h0M314.5 298.0h0M318.3 296.5h0M315.8 298.2h0M334.2 298.2h0M307.2 299.8h0M325.9 294.2h0M326.8 296.0h0M315.1 299.1h0M321.5 294.2h0M326.6 292.5h0M326.5 294.0h0M303.6 303.4h0M334.5 291.6h0M327.9 296.2h0M322.4 298.4h0M299.3 302.6h0M324.3 297.1h0M321.8 296.9h0M308.7 301.8h0M310.0 302.9h0M329.4 300.7h0M314.9 302.8h0M334.6 299.1h0M301.5 303.1h0M318.3 298.0h0M323.6 297.1h0M309.4 301.1h0M334.4 293.3h0M313.8 300.2h0M336.1 290.1h0M323.6 296.0h0M309.2 301.2h0M302.0 301.7h0M332.4 297.2h0M294.1 302.8h0M305.2 301.2h0M327.9 297.1h0M305.8 303.3h0M334.3 294.1h0M304.8 301.9h0M307.7 301.5h0M315.6 296.5h0M300.0 303.5h0M301.0 302.9h0M306.1 300.1h0M306.6 300.8h0M316.6 293.5h0M328.6 294.3h0M313.0 299.7h0M314.0 299.2h0M301.2 304.2h0M316.1 298.7h0M325.1 295.9h0M307.6 299.9h0M333.1 295.3h0M332.2 295.0h0M307.4 302.4h0M301.5 302.8h0M333.0 296.1h0M304.5 300.5h0M321.2 297.6h0M328.3 295.3h0M303.2 301.2h0M300.5 302.8h0M322.1 296.0h0M335.1 300.1h0M329.1 292.3h0M313.8 299.1h0M319.5 296.0h0M318.5 297.6h0M333.4 299.1h0M333.6 294.5h0M312.5 300.6h0M320.7 298.4h0M330.4 294.9h0M330.9 289.8h0M312.2 301.4h0M313.6 300.0h0M334.0 297.4h0M330.7 293.7h0M329.1 293.2h0M336.7 293.7h0M331.5 288.5h0M304.7 299.7h0M330.6 293.4h0M303.4 301.3h0M323.8 297.9h0M334.9 293.2h0M320.1 300.2h0M313.9 300.3h0M336.3 295.6h0M333.0 297.8h0M320.7 297.0h0M299.2 301.4h0M299.4 302.4h0M307.5 300.0h0M307.7 298.7h0M319.2 296.9h0M316.5 299.2h0M299.3 301.9h0M322.3 291.9h0M316.6 297.6h0M329.5 295.6h0M327.8 297.9h0M303.2 302.4h0M328.2 300.8h0M299.4 302.8h0M332.8 296.1h0M328.6 298.7h0M336.2 295.3h0M328.7 294.9h0M317.9 299.4h0M336.2 296.8h0M295.6 303.1h0M334.4 291.4h0M319.7 297.9h0M302.3 304.2h0M327.7 295.9h0M305.7 301.6h0M333.3 298.1h0M304.6 303.8h0M335.9 298.0h0M322.0 298.4h0M324.4 298.3h0M323.4 297.7h0M328.9 294.2h0M334.3 294.9h0M323.0 301.6h0M329.9 295.3h0M328.9 298.1h0M328.7 299.8h0M301.6 302.5h0M308.4 300.8h0M330.4 295.9h0M315.3 296.2h0M336.2 295.3h0M318.4 299.4h0M310.5 299.8h0M329.7 291.0h0M313.3 298.1h0M322.6 296.4h0M321.9 299.7h0M332.0 299.2h0M330.9 296.9h0M329.9 296.6h0M331.9 290.7h0M317.7 295.4h0M308.8 299.2h0M315.8 299.1h0M331.0 293.6h0M324.3 300.0h0M295.8 301.6h0M326.3 296.1h0M333.3 289.4h0M297.4 300.6h0M317.7 299.4h0M312.0 302.3h0M326.9 296.0h0M325.0 296.4h0M313.6 299.3h0M325.7 299.8h0M308.1 300.4h0M298.7 302.3h0M334.6 300.4h0M329.6 292.9h0M322.1 296.3h0M336.4 297.0h0" stroke="#111" stroke-width="0.88" stroke-linecap="square" fill="none" opacity="0.55"/>
<path d="M294.7 303.79999999999995 Q308.7 296.4 338.5 290.7 L338.5 297.09999999999997 Q321.2 300.4 297.7 305.29999999999995 Z" fill="#080808" filter="url(#b05)"/>
<path d="M283.6 309.6h0M287.2 305.7h0M286.3 311.4h0M282.6 311.1h0M285.7 310.6h0M286.4 310.2h0M280.8 307.8h0M284.5 312.6h0M282.1 308.2h0M284.3 308.0h0M281.9 307.3h0M285.7 308.7h0M285.6 307.5h0M281.8 305.9h0M286.0 307.7h0M284.2 308.6h0M287.4 307.5h0M281.1 308.9h0M281.8 309.2h0M280.9 308.9h0M285.5 306.2h0M280.8 312.4h0M282.8 310.1h0M281.2 308.9h0M286.3 309.9h0M282.7 306.4h0M284.5 309.9h0M284.3 310.0h0M288.4 309.1h0M283.2 312.0h0M290.5 310.7h0M288.1 305.4h0M281.6 308.8h0M283.1 309.3h0M280.3 313.5h0M285.7 308.3h0M286.9 306.4h0M283.7 308.2h0M283.8 310.4h0M281.8 310.8h0" stroke="#333" stroke-width="0.88" stroke-linecap="square" fill="none" opacity="0.6"/>
<path d="M288.5 375.3h0M288.4 373.3h0M282.5 378.9h0M289.7 377.4h0M286.2 377.1h0M289.5 373.6h0M286.9 374.3h0M286.3 378.2h0M289.7 374.6h0M286.0 375.6h0M285.0 376.7h0M288.4 378.9h0M286.9 375.5h0M286.2 376.0h0M285.9 373.5h0M288.3 376.2h0M292.1 375.3h0M289.6 376.2h0M289.7 374.8h0M288.4 376.5h0M284.3 372.5h0M288.9 377.6h0M287.6 377.9h0M288.1 372.8h0M281.3 374.3h0M290.8 376.2h0M284.8 370.1h0M284.8 376.7h0M283.1 374.4h0M288.2 373.6h0M288.2 377.5h0M286.5 376.4h0M290.1 379.6h0M287.8 377.0h0M290.8 377.5h0M283.8 374.9h0M284.0 374.4h0M282.3 378.3h0M286.6 372.0h0M289.3 376.7h0M283.8 376.4h0M290.7 373.7h0M288.8 377.8h0M285.2 373.3h0M284.1 375.0h0M286.1 376.5h0M288.3 371.5h0M289.1 376.6h0M284.7 376.3h0M284.9 375.3h0" stroke="#888" stroke-width="0.77" stroke-linecap="square" fill="none" opacity="0.5"/>
<path d="M297.7 366.3 Q312.7 360.6 338.5 353.90000000000003 L338.5 365.1 Q320.2 368.1 303.7 369.8 Z" fill="#777" filter="url(#b1)" opacity="0.55"/>
<path d="M311.4 364.4h0M311.0 363.9h0M336.4 360.8h0M315.7 363.4h0M318.4 363.8h0M332.0 355.4h0M326.9 360.2h0M327.7 357.5h0M321.3 364.2h0M308.6 365.3h0M304.1 367.6h0M310.6 363.1h0M321.8 360.3h0M328.0 358.6h0M302.8 366.7h0M319.9 365.2h0M317.3 362.9h0M327.1 364.0h0M320.1 362.5h0M333.1 361.4h0M328.5 359.9h0M315.7 361.8h0M318.1 365.7h0M335.8 354.4h0M308.1 365.3h0M319.7 366.5h0M335.1 361.1h0M322.5 357.1h0M319.0 364.1h0M315.9 366.0h0M332.6 364.8h0M323.9 361.6h0M328.5 356.8h0M307.0 363.8h0M322.2 359.1h0M320.5 362.0h0M312.6 363.4h0M328.9 362.3h0M328.4 361.2h0M323.1 363.4h0M315.9 363.8h0M329.2 362.6h0M327.0 363.1h0M331.1 365.4h0M311.1 364.4h0M325.0 359.7h0M326.2 359.9h0M318.9 363.2h0M334.6 364.0h0M328.9 357.9h0M313.8 360.7h0M325.5 363.3h0M299.1 365.7h0M323.4 362.7h0M319.3 361.8h0M326.2 362.4h0M333.9 354.8h0M329.6 362.4h0M319.5 361.7h0M303.7 365.3h0M322.5 364.0h0M333.8 360.9h0M317.8 364.2h0M321.3 364.8h0M309.5 366.6h0M324.3 361.6h0M307.5 366.9h0M322.8 362.5h0M311.2 364.2h0M305.0 366.5h0M313.3 362.1h0M335.4 361.4h0M330.4 363.4h0M326.4 362.3h0M310.8 364.7h0M336.7 361.6h0M303.4 365.4h0M327.4 363.0h0M335.9 365.3h0M332.0 361.3h0M333.4 355.9h0M318.8 363.0h0M329.3 360.7h0M321.1 366.0h0M321.4 362.2h0M329.7 358.1h0M300.1 366.0h0M312.6 364.1h0M335.9 364.1h0M327.2 361.6h0M309.0 363.0h0M313.9 361.7h0M320.2 361.2h0M329.3 360.0h0M310.1 365.7h0M320.0 362.0h0M336.2 359.1h0M300.1 366.5h0M336.5 357.2h0M315.2 366.2h0M318.7 363.5h0M333.0 359.0h0M328.3 359.1h0M328.9 360.4h0M328.0 362.6h0M325.3 363.0h0M320.6 363.0h0M306.0 364.3h0M315.5 363.4h0M331.0 360.7h0M326.2 360.8h0M312.9 361.4h0M312.4 363.7h0M309.6 365.6h0M313.9 361.1h0M331.7 360.6h0M302.8 366.2h0M314.3 361.6h0M299.9 366.9h0M313.8 363.3h0M315.9 364.7h0M335.8 353.6h0M333.9 361.9h0M304.0 364.9h0M313.0 364.6h0M308.4 365.5h0M316.5 364.8h0M334.1 360.9h0M313.3 361.1h0M300.8 366.3h0M330.3 360.3h0M335.1 359.8h0M332.4 365.7h0M325.6 365.1h0M327.4 361.5h0M329.6 361.6h0M329.9 361.2h0M325.5 362.3h0M316.0 361.7h0M325.2 365.4h0M307.5 364.5h0M325.3 358.5h0M303.9 366.0h0M315.7 363.1h0M323.4 364.3h0M307.4 365.0h0M313.8 363.5h0M325.8 363.7h0M332.8 360.8h0M330.4 359.8h0M331.0 361.8h0M334.5 362.5h0M324.6 363.0h0M329.3 362.4h0M326.6 365.5h0M332.5 364.1h0M328.6 360.1h0M315.6 363.4h0M332.8 362.9h0M326.2 360.8h0M323.6 366.5h0M317.4 361.0h0M319.6 363.2h0M323.8 363.0h0M320.0 364.4h0M330.8 361.7h0M327.7 362.6h0M322.1 362.7h0M321.0 362.4h0M333.4 360.4h0M323.6 360.2h0M319.4 363.7h0M312.7 364.2h0M334.6 360.9h0M325.0 363.5h0M329.4 359.8h0M317.3 362.1h0M300.6 366.7h0M315.4 362.1h0M311.8 363.5h0M316.7 363.5h0M306.9 365.8h0M316.8 365.4h0M307.0 365.5h0M320.0 362.3h0M315.4 364.9h0M321.0 363.2h0M329.1 361.0h0M335.4 362.6h0M327.4 359.9h0M332.1 361.1h0M336.3 360.1h0M318.5 366.6h0M322.3 363.9h0M313.3 364.3h0M311.6 366.0h0M316.4 359.8h0M332.6 359.4h0M311.3 366.2h0M335.7 356.3h0M332.3 360.2h0M323.8 358.8h0M322.1 362.6h0M325.6 361.4h0M312.5 365.0h0M310.9 364.4h0M325.8 355.2h0M335.5 359.3h0M304.9 366.7h0M330.9 354.2h0M336.9 356.8h0M329.0 363.4h0M332.4 359.5h0M317.2 360.2h0M332.3 355.2h0M316.6 361.0h0M327.0 363.9h0M329.4 358.0h0M309.0 365.5h0M328.0 363.0h0M302.3 365.9h0M311.2 363.9h0M314.8 361.3h0M336.7 358.4h0M312.8 366.7h0M326.0 363.9h0M335.9 359.5h0M318.1 362.2h0M312.4 363.1h0M334.3 360.8h0M335.3 364.1h0M319.0 366.1h0M330.5 356.6h0M318.1 361.1h0M317.2 361.2h0M322.2 363.4h0M332.4 361.3h0M316.0 363.0h0M329.8 358.5h0M315.1 365.8h0M314.0 365.1h0M311.7 362.7h0M335.1 360.7h0M329.4 358.7h0M326.3 362.6h0M308.2 364.5h0M336.5 363.3h0M326.4 363.1h0M332.4 366.9h0M312.5 364.0h0M331.4 361.2h0M312.3 365.3h0M331.8 357.1h0M325.2 361.9h0M326.1 362.3h0M300.6 365.0h0M308.7 364.7h0M320.8 361.6h0M311.6 364.2h0M326.7 362.2h0M312.4 365.0h0M336.4 360.8h0M325.4 361.2h0M319.9 364.2h0M327.9 361.7h0M301.2 367.0h0M317.6 362.9h0M336.8 360.6h0M322.1 363.2h0M316.2 362.6h0M336.8 363.0h0M320.0 364.6h0M334.0 360.9h0M320.7 364.0h0M312.7 364.6h0M317.7 362.2h0M330.1 364.2h0M303.2 367.1h0M334.7 364.0h0M332.1 362.2h0M305.2 367.1h0M328.7 362.0h0M333.8 365.2h0M321.9 361.7h0M335.2 353.6h0M327.8 359.7h0M329.0 359.7h0M308.7 364.4h0M306.1 365.5h0M328.5 359.8h0M336.8 360.5h0M315.3 361.8h0M310.8 364.1h0M315.7 360.1h0M335.7 365.3h0M310.5 362.8h0M309.4 365.3h0M329.5 361.5h0M303.6 365.0h0M330.3 361.4h0M303.3 365.5h0M315.6 359.6h0M319.6 362.8h0M333.8 358.0h0M309.0 366.3h0M324.9 357.4h0M330.3 364.9h0M318.9 359.9h0M328.4 362.9h0M336.0 361.5h0M319.7 364.8h0M327.0 360.0h0M334.8 358.9h0M321.3 363.1h0M323.5 359.1h0M312.8 362.8h0M303.2 366.5h0M331.0 357.2h0M332.5 362.1h0M327.6 365.8h0M336.7 354.5h0M304.0 365.1h0M309.9 362.8h0M319.0 362.1h0M305.0 365.9h0M335.1 359.3h0M312.9 363.6h0M313.1 362.2h0M316.8 363.5h0M314.8 365.8h0M324.5 361.8h0M329.4 362.2h0M314.2 365.4h0M314.2 363.4h0M330.0 362.8h0M330.5 359.5h0M316.9 364.8h0M302.6 366.0h0M299.5 365.6h0M315.2 363.1h0M320.0 361.3h0M311.0 365.2h0M324.5 361.7h0M334.9 359.5h0M314.1 362.8h0M328.6 361.4h0M319.7 361.2h0M323.3 361.2h0M305.8 366.6h0M316.9 363.2h0M333.9 358.9h0M320.4 366.0h0M307.5 364.3h0M311.6 363.9h0M332.7 359.3h0M328.5 360.8h0M325.7 362.8h0M311.1 364.5h0M312.4 362.3h0M331.8 363.4h0M321.3 364.7h0M317.7 363.4h0M335.9 353.0h0M309.8 364.2h0M318.9 363.6h0M329.8 361.0h0M302.3 366.3h0M336.0 362.7h0M313.1 366.5h0M329.4 361.2h0M308.6 367.2h0M336.4 357.3h0M333.2 356.5h0M307.9 364.5h0M327.7 360.1h0M316.2 364.7h0M305.5 366.2h0M300.2 365.2h0M323.5 364.7h0M310.0 364.9h0M314.2 365.6h0M335.5 362.2h0M312.6 364.3h0M330.9 357.4h0M316.8 365.9h0M308.0 364.6h0M309.3 365.0h0M323.8 360.8h0M310.6 364.1h0M323.7 359.9h0M328.6 362.1h0M308.7 365.4h0M332.3 360.6h0M329.6 362.2h0M316.0 364.8h0M336.0 356.1h0M305.8 366.4h0M303.0 366.2h0M321.2 365.3h0M334.6 361.8h0M319.5 362.4h0M308.9 363.7h0M306.2 364.5h0M305.4 364.0h0M319.7 363.4h0M322.0 360.4h0M329.7 358.2h0M320.0 364.6h0M302.9 367.7h0M311.8 365.1h0M327.0 364.3h0M306.6 363.8h0M329.1 360.8h0M305.1 365.5h0M318.9 361.6h0M307.9 366.0h0M332.9 357.4h0M323.5 363.8h0M305.4 366.3h0M306.5 365.3h0M319.1 363.0h0M303.0 366.3h0M302.3 363.3h0M318.2 364.5h0M316.1 363.3h0M328.6 360.1h0M332.3 360.4h0M318.5 363.2h0M329.2 363.6h0M319.9 362.4h0M318.8 362.7h0M335.8 359.5h0M316.3 363.5h0M309.0 365.2h0M324.6 357.7h0M336.6 359.9h0M318.9 364.2h0M321.3 364.0h0M331.0 366.0h0M315.2 363.9h0M319.3 364.4h0M328.1 362.2h0M305.5 362.8h0M311.3 361.9h0M321.5 365.8h0M330.1 362.2h0M318.7 361.3h0M331.8 355.6h0M314.5 360.0h0M327.6 361.8h0M325.1 362.4h0M314.9 363.2h0M322.6 362.9h0M331.9 359.1h0M305.9 364.7h0M329.9 363.1h0M323.8 364.0h0M318.9 360.7h0M323.7 358.9h0M315.9 365.8h0M310.6 364.6h0M332.8 362.4h0M329.1 361.2h0M335.2 362.8h0M304.1 368.2h0M302.2 368.2h0M329.1 365.0h0M325.4 360.0h0M309.4 365.0h0M334.4 366.4h0M312.4 363.1h0M315.8 365.5h0M312.1 364.8h0M327.4 360.6h0M319.7 359.1h0M330.9 361.7h0M331.7 365.2h0M332.3 361.0h0M298.9 366.9h0M334.5 364.3h0M324.3 362.7h0M314.1 363.5h0M333.1 360.9h0M325.3 360.3h0M320.9 362.5h0M316.5 361.8h0M331.4 359.9h0M329.9 358.8h0M314.2 362.9h0M317.4 363.3h0M320.2 364.2h0M317.7 364.0h0M316.8 359.8h0M333.9 360.0h0M315.5 364.1h0M335.0 360.9h0M331.3 360.3h0M319.5 358.8h0M310.2 365.8h0M331.5 362.0h0M305.7 365.1h0M312.1 364.5h0M324.8 358.9h0M316.5 360.2h0M312.9 365.0h0M302.5 366.3h0M299.1 367.4h0M321.5 364.1h0M335.6 358.7h0M309.0 364.9h0M329.5 365.0h0M313.0 363.8h0M317.5 361.6h0M315.0 364.4h0M309.4 367.5h0M311.8 365.9h0M307.3 366.3h0M332.4 360.5h0M323.9 362.3h0M324.4 364.4h0M311.3 361.3h0M321.2 364.0h0M335.9 358.4h0M329.2 359.6h0M328.2 361.8h0M311.1 363.7h0M320.0 363.1h0M326.9 360.0h0M328.1 359.8h0M312.1 363.6h0M326.5 365.7h0M322.6 360.6h0M315.5 363.2h0M322.9 361.9h0M332.0 361.6h0M311.5 364.3h0M322.3 358.4h0M307.0 363.3h0M308.1 362.8h0M302.0 366.3h0M318.8 362.6h0M310.6 363.2h0M304.9 365.7h0M324.3 359.5h0M329.0 361.3h0M318.2 361.3h0M335.9 364.0h0M321.7 364.1h0M324.1 362.0h0M315.9 367.6h0M316.5 366.8h0M333.4 362.3h0M303.6 366.4h0M302.0 366.8h0M322.9 364.1h0M323.1 359.6h0M314.3 365.2h0M326.4 360.5h0M322.8 362.5h0M334.3 357.6h0M322.5 359.2h0M311.6 364.4h0M326.1 359.8h0M322.9 362.2h0M310.5 364.2h0M321.2 361.8h0M303.9 365.4h0M333.2 360.0h0M301.1 366.6h0M316.8 365.0h0M313.4 365.8h0M332.9 358.4h0M326.0 361.9h0M312.5 364.2h0M313.1 364.7h0M312.3 365.1h0M321.3 364.3h0M326.1 358.5h0M326.8 360.5h0M322.0 363.1h0M314.7 363.1h0M300.5 367.9h0M319.8 360.8h0M333.7 354.6h0M335.4 357.5h0M316.9 363.1h0M321.9 362.2h0M318.9 363.3h0M336.1 355.5h0M335.3 362.3h0M336.4 359.4h0M315.7 361.7h0M336.5 361.3h0M303.9 364.2h0M327.9 360.9h0M316.7 362.6h0M321.4 362.5h0M309.3 365.4h0M321.5 366.0h0M320.1 363.1h0M314.9 363.8h0M326.3 363.6h0M329.9 357.5h0M325.4 363.3h0M332.8 359.8h0M301.6 364.7h0M317.7 365.7h0M309.8 366.4h0M336.1 358.9h0M329.4 362.2h0M310.8 363.5h0M327.4 363.3h0M323.6 360.2h0M327.0 359.1h0M317.5 364.2h0M333.5 356.4h0M333.0 359.2h0M329.4 363.0h0M329.4 359.3h0M335.0 355.1h0M314.9 364.0h0M309.6 365.8h0M326.3 361.6h0M335.3 361.3h0M313.8 364.9h0M330.0 363.5h0M325.5 365.4h0M328.7 362.4h0M316.7 365.2h0M331.5 359.3h0M306.1 364.7h0M329.0 364.8h0M329.5 360.8h0M334.1 359.6h0M303.0 366.0h0M323.0 364.0h0M306.3 364.8h0M317.1 363.8h0M317.4 365.7h0M302.1 367.3h0M311.5 365.5h0M336.7 357.9h0M316.0 361.5h0M319.7 362.6h0M323.3 364.3h0M317.6 365.5h0M300.8 364.8h0M326.3 361.7h0M319.6 360.7h0M330.1 362.4h0" stroke="#111" stroke-width="0.88" stroke-linecap="square" fill="none" opacity="0.55"/>
<path d="M300.7 366.5 Q314.7 362.1 338.5 356.40000000000003 L338.5 362.8 Q321.2 366.1 303.7 368.0 Z" fill="#080808" filter="url(#b05)"/>
<rect x="272.00" y="207.30" width="65.50" height="65.60" stroke="#a8a8a8" stroke-width="1" fill="none"/>
<rect x="272.00" y="272.90" width="65.50" height="65.70" stroke="#a8a8a8" stroke-width="1" fill="none"/>
<rect x="272.00" y="338.60" width="65.50" height="65.60" stroke="#a8a8a8" stroke-width="1" fill="none"/>
<circle cx="288.2" cy="246.20000000000002" r="8.2" fill="none" stroke="#4a4ac4" stroke-width="1.1"/>
<clipPath id="cp2530"><path d="M272.0 202.3 H334.7 V226.3 H340.7 V267.3 H272.0 Z"/></clipPath>
<ellipse cx="325.2" cy="230.3" rx="32" ry="6.5" transform="rotate(-14 325.2 230.3)" fill="none" stroke="#4a4ac4" stroke-width="1.1" clip-path="url(#cp2530)"/>
<rect x="314.1" y="216.3" width="11.5" height="8.3" fill="#fff"/>
<line x1="325.6" y1="221.20000000000002" x2="338.2" y2="221.20000000000002" stroke="#4a4ac4" stroke-width="1.1"/>
<text x="272.93" y="238.80" font-size="9.3" fill="#1a1a1a" textLength="13.15" lengthAdjust="spacingAndGlyphs">2.6</text>
<text x="314.47" y="223.80" font-size="9.3" fill="#1a1a1a" textLength="10.53" lengthAdjust="spacingAndGlyphs">95</text>
<circle cx="288.2" cy="311.79999999999995" r="8.2" fill="none" stroke="#4a4ac4" stroke-width="1.1"/>
<clipPath id="cp2531"><path d="M272.0 267.9 H334.7 V291.9 H340.7 V332.9 H272.0 Z"/></clipPath>
<ellipse cx="325.2" cy="295.9" rx="32" ry="6.5" transform="rotate(-14 325.2 295.9)" fill="none" stroke="#4a4ac4" stroke-width="1.1" clip-path="url(#cp2531)"/>
<rect x="314.3" y="282.5" width="12.0" height="8.3" fill="#fff"/>
<line x1="326.3" y1="287.4" x2="338.2" y2="287.4" stroke="#4a4ac4" stroke-width="1.1"/>
<text x="272.19" y="306.40" font-size="9.3" fill="#1a1a1a" textLength="14.11" lengthAdjust="spacingAndGlyphs">6.4</text>
<text x="314.65" y="290.00" font-size="9.3" fill="#1a1a1a" textLength="11.07" lengthAdjust="spacingAndGlyphs">93</text>
<circle cx="288.2" cy="377.5" r="8.2" fill="none" stroke="#4a4ac4" stroke-width="1.1"/>
<clipPath id="cp2532"><path d="M272.0 333.6 H334.7 V357.6 H340.7 V398.6 H272.0 Z"/></clipPath>
<ellipse cx="325.2" cy="361.6" rx="32" ry="6.5" transform="rotate(-14 325.2 361.6)" fill="none" stroke="#4a4ac4" stroke-width="1.1" clip-path="url(#cp2532)"/>
<rect x="314.3" y="348.4" width="12.0" height="8.3" fill="#fff"/>
<line x1="326.3" y1="353.29999999999995" x2="338.2" y2="353.29999999999995" stroke="#4a4ac4" stroke-width="1.1"/>
<text x="272.55" y="371.80" font-size="9.3" fill="#1a1a1a" textLength="13.85" lengthAdjust="spacingAndGlyphs">1.3</text>
<text x="314.65" y="355.90" font-size="9.3" fill="#1a1a1a" textLength="11.12" lengthAdjust="spacingAndGlyphs">99</text>
<text x="306.41" y="251.90" font-size="12.3" fill="#1a1a1a" textLength="31.58" lengthAdjust="spacingAndGlyphs">Large</text>
<path d="M145.0 246.3h0M150.0 243.7h0M137.2 241.6h0M137.4 235.2h0M138.9 241.2h0M134.2 245.5h0M144.6 227.5h0M146.6 240.1h0M148.8 244.7h0M140.1 238.5h0M138.6 238.0h0M145.6 243.1h0M137.9 228.8h0M146.0 243.1h0M137.8 246.5h0M140.4 227.7h0M134.9 240.8h0M146.9 240.6h0M143.1 231.3h0M147.6 230.8h0M143.2 242.6h0M140.4 238.3h0M136.7 247.7h0M143.0 247.2h0M144.5 245.4h0M142.1 260.0h0M152.6 244.8h0M148.8 230.5h0M135.5 250.9h0M148.7 238.8h0M145.7 229.2h0M146.6 231.4h0M148.7 235.1h0M146.4 256.4h0M136.9 247.8h0M145.6 231.9h0M140.1 244.4h0M146.6 245.1h0M149.3 214.4h0M153.0 224.6h0M150.9 235.7h0M134.3 248.8h0M139.1 238.7h0M136.0 244.0h0M129.0 258.7h0M139.5 252.3h0M140.4 253.5h0M146.2 236.3h0M142.2 243.9h0M137.7 246.5h0M141.4 230.5h0M140.2 240.2h0M139.2 232.8h0M142.2 237.7h0M143.9 239.9h0M145.9 238.9h0M136.9 252.9h0M152.2 239.7h0M138.5 249.5h0M140.1 221.4h0" stroke="#e55" stroke-width="0.88" stroke-linecap="square" fill="none" opacity="0.5"/>
<path d="M137.6 217.6h0M104.7 214.6h0M133.2 243.3h0M156.5 213.4h0M108.5 214.9h0M126.9 267.0h0M153.2 211.7h0M141.2 220.2h0M118.2 228.9h0M119.5 227.3h0M118.1 230.3h0M141.2 243.9h0M149.9 226.3h0M105.7 244.5h0M123.7 222.0h0M129.8 267.7h0M141.7 253.5h0M106.8 242.7h0M148.1 262.6h0M151.9 212.1h0" stroke="#eaa" stroke-width="0.88" stroke-linecap="square" fill="none" opacity="0.6"/>
<path d="M135.3 309.9h0M139.1 310.4h0M131.3 330.6h0M137.1 308.3h0M139.3 305.7h0M139.8 304.0h0M140.3 308.1h0M141.3 304.8h0M139.1 309.6h0M144.4 306.4h0M140.1 319.3h0M134.5 318.3h0M134.5 308.0h0M135.3 332.1h0M141.8 298.8h0M142.7 316.5h0M139.6 312.3h0M137.5 313.5h0M138.1 309.3h0M141.6 295.4h0M144.2 290.0h0M133.9 324.2h0M138.4 316.6h0M136.8 310.1h0M145.4 302.9h0M139.6 311.7h0M134.2 313.4h0M136.5 310.6h0M140.2 306.4h0M140.3 305.0h0M138.6 309.1h0M139.7 306.2h0M135.1 320.2h0M144.4 289.3h0M140.4 303.2h0M145.8 309.7h0M140.6 307.3h0M142.5 306.4h0M135.4 323.5h0M137.4 307.6h0M128.9 321.9h0M139.7 313.2h0M139.8 302.9h0M137.8 319.5h0M137.4 312.5h0M141.3 295.1h0M138.3 304.0h0M138.0 321.7h0M142.6 303.7h0M141.3 305.4h0M138.9 319.1h0M140.7 313.6h0M145.7 289.8h0M145.3 308.5h0M134.6 322.1h0M137.1 299.1h0M145.4 301.0h0M134.2 321.0h0M141.1 294.2h0M136.3 303.3h0M135.7 325.4h0M144.8 288.6h0M138.5 316.9h0M138.2 313.1h0M141.2 314.4h0M137.7 316.7h0M141.9 302.9h0M141.7 302.6h0M134.3 314.4h0M136.8 308.9h0M135.7 306.8h0M141.7 291.6h0M137.5 308.7h0M138.3 323.3h0M137.6 317.4h0M140.7 311.3h0M138.8 316.2h0M134.1 324.8h0M141.0 298.8h0M140.8 297.6h0M134.9 312.8h0M142.4 308.9h0M140.1 312.9h0M141.1 319.9h0M137.8 311.6h0M141.6 305.9h0M139.3 318.8h0M141.2 294.3h0M138.6 313.4h0M142.4 306.0h0M141.0 304.5h0M143.9 303.3h0M135.4 320.6h0M140.7 309.8h0M135.7 325.1h0M136.6 317.0h0M138.1 311.3h0M135.4 306.0h0M139.4 307.4h0M144.8 297.3h0M139.9 312.1h0M138.5 319.6h0M138.5 314.6h0M135.8 328.7h0M139.6 310.8h0M142.9 307.1h0M143.6 291.4h0M138.0 309.7h0M143.3 307.7h0M138.5 300.6h0M143.0 304.1h0M137.7 307.0h0M135.6 308.1h0M136.1 312.2h0M141.6 305.5h0M140.3 317.9h0M138.3 316.8h0M140.4 315.3h0M141.4 318.9h0M140.4 308.8h0M139.8 289.0h0M140.6 319.3h0M138.2 305.3h0M141.2 308.0h0M139.8 304.5h0M136.8 314.1h0M143.1 307.1h0M137.3 319.9h0M146.2 296.3h0M142.3 309.1h0M141.3 301.4h0M142.1 309.9h0M138.5 318.3h0M141.0 303.0h0M135.6 315.8h0M135.8 323.4h0M141.8 302.4h0M134.1 312.8h0M142.5 301.1h0M138.8 312.9h0M137.8 319.6h0M139.8 310.8h0M136.6 322.2h0M143.0 303.8h0M137.5 309.6h0M144.0 288.2h0M140.8 315.1h0M142.3 299.7h0M135.4 326.8h0M140.5 312.9h0M139.3 297.0h0M144.3 296.2h0M141.5 301.0h0M145.2 302.5h0M143.1 293.7h0M139.7 299.5h0M143.3 294.0h0M136.3 317.5h0M146.2 301.2h0M145.1 292.2h0M138.3 312.0h0M141.3 307.5h0M140.8 304.1h0M139.2 312.2h0M138.8 320.7h0M138.2 305.8h0M142.9 309.2h0M143.2 294.3h0M138.5 318.6h0M130.8 319.8h0M141.8 301.0h0M140.1 314.1h0M141.4 291.9h0M136.2 317.9h0M138.4 303.8h0M140.5 304.2h0M140.0 311.4h0M133.9 316.9h0M138.3 323.5h0M138.0 301.3h0M143.7 299.0h0M134.1 328.5h0M128.4 326.9h0M144.2 304.8h0M143.0 301.1h0M136.4 315.7h0M145.2 312.3h0M144.1 294.4h0M141.3 313.5h0M138.2 303.8h0M139.0 314.2h0M135.0 311.1h0M141.0 317.4h0M137.6 310.6h0M145.1 302.6h0M135.6 317.6h0M140.0 307.2h0M142.4 291.3h0M140.7 306.1h0M142.2 302.3h0M140.6 290.9h0M138.4 299.8h0M146.3 290.4h0M141.8 305.7h0M144.2 296.5h0M142.8 309.5h0M134.9 320.9h0M135.5 298.1h0M144.2 304.9h0M136.5 308.3h0M138.1 315.2h0M135.7 317.5h0M132.8 318.3h0M137.2 305.4h0M129.9 329.3h0M136.0 315.1h0M137.1 312.6h0M137.0 317.1h0M149.8 285.9h0M138.3 306.7h0M137.2 321.6h0M142.4 313.8h0M137.6 306.9h0M137.1 316.5h0M137.8 312.5h0M145.0 298.0h0M140.2 307.8h0M137.4 311.2h0M141.9 291.0h0M142.7 308.6h0M135.0 311.0h0M138.9 301.3h0M140.9 313.2h0M139.2 305.2h0M133.2 323.4h0M135.9 318.0h0M140.2 301.2h0M139.3 311.4h0M140.6 312.7h0M146.5 294.7h0M137.9 308.7h0M136.8 293.6h0M141.8 297.4h0M140.2 304.1h0M142.7 303.4h0M144.9 297.5h0M144.2 294.6h0M140.2 280.4h0M137.3 302.4h0M144.8 300.0h0M140.0 301.4h0M138.9 313.1h0M138.4 313.0h0M138.2 303.4h0M139.0 318.1h0M141.1 299.5h0M140.1 301.9h0M138.1 303.7h0M135.6 323.5h0M137.0 321.5h0M140.3 305.9h0M143.6 308.5h0M138.9 314.1h0M143.7 299.7h0M133.5 320.8h0M135.2 304.8h0M140.5 304.1h0M138.9 303.6h0M140.1 302.7h0M143.2 298.5h0M136.4 299.6h0M144.4 298.2h0M137.8 303.2h0M142.2 304.4h0M141.4 294.2h0M146.0 283.3h0M138.4 304.4h0M145.3 291.2h0M141.7 311.9h0M138.0 312.3h0M140.3 312.3h0M133.7 317.2h0M140.0 322.3h0M139.0 297.3h0M143.4 308.3h0M143.3 316.8h0M142.9 303.1h0M143.3 311.1h0M138.7 300.0h0M139.7 306.2h0M140.2 304.5h0M136.5 296.6h0M142.3 300.6h0M136.8 315.1h0M142.7 293.3h0M139.8 308.9h0M134.7 319.7h0M138.6 323.0h0M137.4 330.6h0M138.9 314.0h0M133.6 322.0h0M137.8 304.7h0M136.8 312.9h0M137.0 321.7h0M143.3 302.1h0M135.9 300.5h0M138.1 320.9h0M136.0 309.6h0M136.9 319.1h0M138.3 310.9h0M142.1 292.2h0M139.2 305.8h0M131.2 327.3h0M137.8 327.4h0M144.2 296.3h0M137.4 311.8h0M143.4 310.5h0M135.4 318.1h0M137.3 313.5h0M139.4 303.7h0M139.3 314.8h0M138.0 316.1h0M143.0 304.8h0M136.5 321.6h0M139.9 300.5h0M144.1 289.5h0M144.7 298.9h0M138.5 318.4h0M137.8 311.0h0M139.1 307.5h0" stroke="#ee1c22" stroke-width="0.88" stroke-linecap="square" fill="none" opacity="0.6"/>
<path d="M137.6 306.7h0M136.4 328.0h0M132.2 310.4h0M131.6 318.4h0M138.9 325.1h0M135.7 324.0h0M132.7 327.3h0M140.7 307.4h0M139.8 305.7h0M135.4 325.7h0M141.7 309.7h0M134.2 312.6h0M141.9 310.9h0M146.0 305.3h0M146.8 319.5h0M142.2 298.3h0M133.5 318.0h0M142.7 304.2h0M146.9 311.1h0M147.2 303.6h0M131.7 322.0h0M139.2 315.7h0M139.8 315.5h0M136.5 314.9h0M138.0 310.9h0M136.2 322.3h0M132.0 304.4h0M145.9 299.3h0M145.9 304.6h0M145.6 303.3h0M133.6 319.5h0M144.4 308.5h0M144.7 285.7h0M146.9 293.1h0M133.8 315.5h0M140.5 302.2h0M137.7 321.8h0M132.8 320.1h0M137.6 296.3h0M145.8 307.5h0M148.4 294.0h0M133.9 307.2h0M151.1 292.7h0M134.7 320.3h0M138.8 323.6h0M142.1 312.1h0M139.4 290.8h0M150.2 275.8h0M132.5 317.4h0M134.6 304.1h0M141.7 304.3h0M138.0 302.1h0M132.7 309.3h0M141.2 296.3h0M141.3 302.8h0M140.6 315.6h0M136.8 301.0h0M143.0 291.1h0M135.3 315.6h0M142.7 307.0h0M151.0 287.4h0M140.8 330.1h0M138.3 319.4h0M139.8 294.9h0M144.6 305.8h0M138.7 324.3h0M139.8 293.2h0M138.1 313.8h0M133.2 304.2h0M144.1 305.3h0M141.6 302.7h0M142.0 302.5h0M137.1 303.1h0M142.2 308.6h0M140.0 319.3h0M139.0 296.6h0M134.3 324.0h0M135.5 316.7h0M139.7 307.5h0M142.7 282.3h0M142.8 312.3h0M133.7 298.8h0M140.5 298.0h0M134.2 309.4h0M147.6 280.5h0M140.0 299.1h0M139.9 329.9h0M142.9 317.5h0M138.1 303.4h0M138.4 282.6h0M140.8 318.9h0M136.2 325.8h0M145.1 308.7h0M138.4 299.1h0M138.1 295.0h0M141.3 292.8h0M138.5 302.4h0M141.0 318.2h0M143.8 313.2h0M139.3 296.6h0M136.7 309.3h0M135.9 328.6h0M139.5 315.3h0M144.2 300.3h0M142.4 295.5h0M136.3 310.6h0M150.9 289.8h0M134.0 294.7h0M148.9 297.9h0M132.9 317.5h0" stroke="#f07070" stroke-width="0.88" stroke-linecap="square" fill="none" opacity="0.5"/>
<path d="M138.1 375.3h0M134.6 387.3h0M138.4 384.5h0M139.2 378.2h0M141.6 373.8h0M139.8 372.1h0M135.7 384.2h0M133.8 384.5h0M138.9 383.6h0M140.5 380.5h0M133.5 364.1h0M135.6 380.1h0M134.9 364.3h0M133.3 375.8h0M136.5 367.4h0M139.5 384.0h0M132.9 387.3h0M135.2 374.3h0M134.8 375.5h0M140.2 374.7h0M133.9 376.8h0M138.2 379.0h0M134.2 380.5h0M138.4 384.3h0M137.0 381.1h0M144.5 371.0h0M136.2 375.4h0M134.7 386.1h0M128.9 384.2h0M136.4 380.0h0M127.7 389.7h0M134.6 379.4h0M130.7 396.3h0M139.0 368.4h0M132.5 375.3h0M138.5 383.7h0M136.2 388.1h0M138.3 371.2h0M137.2 378.9h0M140.5 375.9h0M141.9 371.7h0M137.3 370.8h0M137.4 368.8h0M134.9 384.9h0M134.5 365.8h0M134.9 375.0h0M139.0 376.0h0M138.1 378.9h0M131.4 372.3h0M133.3 384.5h0M141.6 374.6h0M133.2 388.1h0M131.8 395.8h0M134.2 379.8h0M129.5 379.0h0M137.7 372.0h0M140.6 375.3h0M136.2 375.1h0M139.9 385.8h0M132.9 389.4h0M133.6 379.9h0M137.9 369.2h0M138.5 382.6h0M130.0 383.1h0M138.4 383.6h0M135.3 384.8h0M136.2 384.3h0M142.8 367.5h0M142.4 368.5h0M144.4 381.2h0M140.0 369.2h0M136.8 377.9h0M135.9 379.0h0M142.0 366.0h0M139.9 375.0h0M137.5 367.7h0M141.0 374.8h0M136.8 375.9h0M138.8 372.4h0M138.1 375.2h0M139.0 379.5h0M135.3 379.8h0M139.6 370.7h0M135.7 387.2h0M135.1 376.1h0M141.8 365.2h0M134.9 378.4h0M144.9 367.1h0M141.4 382.5h0M135.7 380.0h0M135.0 369.8h0M137.6 384.0h0M137.1 369.2h0M132.6 387.9h0M134.7 388.7h0M138.5 386.8h0M137.3 376.7h0M143.5 370.3h0M131.3 384.6h0M128.2 378.5h0M142.5 361.9h0M138.6 373.5h0M139.8 371.5h0M133.7 387.7h0M142.8 365.2h0M137.2 382.3h0M136.0 387.1h0M143.1 369.3h0M136.4 384.3h0M140.1 369.2h0M139.5 379.5h0M146.4 375.4h0M141.7 371.7h0M137.0 378.9h0M133.0 393.3h0M133.6 373.2h0M135.4 378.8h0M137.8 383.7h0M137.9 375.9h0M138.3 382.2h0M132.3 381.9h0M134.2 387.4h0M139.6 375.8h0M134.0 367.0h0M138.5 386.8h0M140.5 374.6h0M135.0 370.4h0M136.7 369.5h0M141.1 367.2h0M134.7 371.6h0M141.0 374.7h0M138.2 377.1h0M136.3 378.5h0M134.9 382.3h0M142.6 372.9h0M142.2 361.7h0M138.5 373.2h0M133.5 381.2h0M133.9 385.9h0M138.6 381.6h0M134.3 367.5h0M139.3 379.0h0M135.9 389.9h0M132.8 384.5h0M136.2 375.1h0M137.6 363.9h0M141.1 377.6h0M129.1 379.2h0M135.8 391.1h0M132.1 382.0h0M131.8 374.6h0M140.0 384.1h0M137.0 384.7h0M136.6 379.4h0M141.1 372.9h0M130.1 387.6h0M133.0 373.7h0M140.7 373.1h0M136.3 383.9h0M134.1 370.8h0M133.8 374.6h0M139.2 377.8h0M134.7 380.4h0M136.1 379.9h0M140.8 381.6h0M134.1 384.3h0M134.1 382.7h0M139.3 378.8h0M143.5 369.2h0M129.9 387.7h0M135.6 371.3h0M130.5 384.6h0M137.2 359.8h0M136.0 381.4h0M135.9 379.1h0M142.7 371.2h0M137.4 372.2h0M139.1 369.1h0M138.9 377.7h0M131.5 379.5h0M141.3 365.8h0M138.0 375.3h0M141.5 379.0h0M138.7 380.3h0M134.2 381.2h0M131.9 383.7h0M138.4 373.8h0M138.1 371.5h0M143.4 362.6h0M141.0 366.4h0M141.8 375.1h0M140.3 383.3h0M140.2 377.6h0M128.7 386.1h0M135.9 387.4h0M144.4 374.2h0M139.6 388.6h0M145.6 374.3h0M133.8 387.2h0M134.7 375.1h0M133.7 377.3h0M139.4 384.5h0M133.3 375.4h0M137.5 371.3h0M140.2 367.3h0M136.2 376.3h0M137.4 375.0h0M140.5 372.7h0M137.7 379.0h0M142.7 363.6h0M136.4 380.7h0M146.2 371.5h0M129.4 384.1h0M132.8 380.0h0M137.2 372.4h0M134.3 379.2h0M139.6 375.3h0M133.0 387.1h0M140.2 378.6h0M136.3 377.0h0M142.3 358.0h0M133.9 381.7h0M142.8 367.7h0M141.2 368.2h0M130.6 391.0h0M141.8 379.0h0M132.3 389.0h0M137.1 378.2h0M131.9 384.9h0M135.7 374.6h0M138.7 370.4h0M138.8 371.3h0M137.0 381.1h0M133.6 380.6h0M137.1 381.5h0M136.2 368.0h0M139.9 385.3h0M135.7 380.7h0M136.1 388.0h0M141.2 376.6h0M136.6 368.6h0M131.4 380.0h0M139.5 367.5h0M140.1 369.5h0M140.0 370.6h0M139.4 371.1h0M136.2 374.7h0M139.7 378.5h0M136.6 371.7h0M137.1 377.9h0M139.5 366.9h0M143.4 377.4h0M135.1 375.7h0M132.9 378.7h0M136.3 382.5h0M141.7 362.0h0M139.4 384.7h0M135.9 371.7h0M132.8 378.6h0M135.2 373.5h0M135.2 377.3h0M140.5 372.9h0M138.8 375.8h0M137.5 373.2h0M139.7 381.3h0M134.4 367.1h0M134.6 392.6h0M139.7 371.2h0M131.1 381.3h0M139.9 373.6h0M142.2 378.7h0M134.1 381.0h0M135.1 382.7h0M143.9 362.2h0M135.9 391.9h0M139.2 376.1h0M132.9 382.5h0M139.2 383.5h0M136.0 382.6h0M134.8 390.4h0M139.2 367.7h0M137.8 368.6h0M131.0 384.5h0M128.9 381.1h0M134.8 381.6h0M134.3 384.2h0M136.2 391.0h0M135.5 389.5h0M136.4 376.4h0M138.7 384.9h0M137.5 379.3h0M134.4 380.0h0M140.2 374.0h0M139.4 376.4h0M139.3 372.3h0M135.6 371.7h0M132.8 386.1h0M135.8 370.0h0M134.9 381.1h0M136.6 368.7h0M136.9 384.9h0M134.7 390.4h0M140.0 378.7h0M134.9 379.0h0M142.9 371.5h0M137.3 372.7h0M138.6 375.5h0M136.3 381.7h0M136.5 382.2h0M136.8 379.1h0M144.2 360.3h0M133.0 372.2h0M134.7 365.0h0M135.4 375.9h0M137.4 374.5h0M138.8 374.8h0M135.4 372.7h0M136.2 382.5h0M135.4 381.0h0M139.6 375.8h0M139.3 375.1h0M129.7 392.7h0M134.9 387.0h0M138.8 386.6h0M136.7 377.0h0M135.7 380.6h0M142.2 377.2h0M135.7 376.3h0M137.5 379.8h0M134.4 370.8h0M141.4 372.5h0M137.2 376.2h0M137.8 373.6h0M128.9 378.8h0M142.0 369.2h0M134.3 377.2h0M134.4 376.4h0M133.9 377.7h0M137.0 363.3h0M133.3 379.8h0M140.4 376.4h0M137.6 378.0h0M134.6 378.3h0M137.8 379.3h0M133.5 372.1h0M141.3 372.9h0M138.2 383.1h0M136.0 382.9h0M137.1 374.0h0M135.6 366.8h0M138.7 374.3h0M133.1 377.3h0M134.4 377.3h0M139.7 379.7h0M131.7 383.7h0M136.2 380.3h0M137.3 371.7h0M138.9 365.6h0M136.2 374.7h0M143.5 359.1h0M138.1 383.4h0M137.0 378.6h0M139.7 379.8h0M134.5 371.9h0M138.9 365.7h0M136.2 376.1h0M135.4 385.0h0M133.9 385.9h0M136.8 374.5h0M135.7 387.9h0M135.3 375.3h0M137.4 374.7h0M138.2 384.2h0M140.0 373.0h0M141.8 360.7h0M133.5 385.5h0M133.6 374.3h0M143.2 362.0h0M137.8 377.9h0M137.9 377.9h0M141.8 357.6h0M136.6 376.0h0M137.8 373.2h0M141.9 377.0h0M137.9 369.2h0M137.3 379.0h0M139.0 374.8h0M138.2 383.5h0M136.0 377.9h0M137.6 373.1h0M135.9 382.3h0M138.7 374.1h0M134.0 373.4h0M142.6 374.4h0M131.7 374.4h0M134.9 380.1h0M128.0 382.2h0M131.5 385.7h0M144.1 367.2h0M136.1 381.2h0M131.9 392.5h0M137.4 379.5h0M139.7 363.9h0M140.2 371.2h0M134.2 378.0h0M137.7 374.3h0M135.9 386.0h0M136.4 375.8h0M141.0 385.2h0M134.1 381.0h0M138.5 369.1h0M128.1 376.0h0M139.8 384.6h0M132.1 374.9h0M138.2 383.8h0M138.3 381.3h0M134.1 380.4h0M138.1 366.8h0M136.2 383.3h0M131.7 371.1h0" stroke="#ee1c22" stroke-width="0.88" stroke-linecap="square" fill="none" opacity="0.6"/>
<path d="M140.9 378.2h0M127.0 375.5h0M129.8 386.7h0M132.3 366.2h0M134.5 374.6h0M135.2 374.8h0M131.2 375.5h0M131.5 368.3h0M142.1 371.2h0M137.2 375.1h0M142.4 386.1h0M150.7 369.8h0M135.2 379.6h0M142.0 372.5h0M141.4 366.6h0M144.0 401.1h0M128.3 390.5h0M130.4 390.1h0M136.8 370.1h0M143.0 360.7h0M135.6 359.5h0M135.3 393.8h0M133.5 389.2h0M134.0 353.4h0M136.5 363.0h0M146.7 371.3h0M136.1 385.2h0M130.8 365.9h0M132.9 373.2h0M149.3 370.7h0M129.9 375.2h0M134.3 381.5h0M126.4 375.4h0M136.8 381.8h0M140.3 351.2h0M133.2 379.6h0M137.4 397.6h0M139.0 384.4h0M132.2 376.5h0M132.3 382.0h0M128.0 373.2h0M136.9 371.0h0M142.8 384.2h0M132.8 370.0h0M133.6 367.0h0M133.1 381.9h0M149.6 369.9h0M136.2 372.9h0M143.3 371.1h0M139.2 366.5h0M140.6 368.7h0M134.6 398.1h0M141.6 371.1h0M142.7 388.0h0M137.7 366.2h0M140.2 390.0h0M135.5 372.3h0M136.2 371.0h0M144.0 371.5h0M133.1 373.3h0M126.8 373.5h0M141.5 385.3h0M144.5 359.1h0M130.5 381.5h0M148.7 367.9h0M125.5 385.5h0M136.6 388.0h0M145.1 374.6h0M127.5 397.7h0M137.8 370.1h0M139.0 378.1h0M130.7 380.2h0M132.1 381.1h0M135.2 367.1h0M135.3 372.6h0M137.5 369.2h0M145.1 360.9h0M138.8 348.4h0M134.9 385.9h0M145.7 372.1h0M140.6 371.4h0M144.7 364.9h0M136.2 381.0h0M131.8 358.9h0M143.0 375.1h0M133.4 386.1h0M129.4 365.3h0M125.4 399.7h0M129.8 370.7h0M138.0 368.6h0M140.4 361.8h0M138.3 377.1h0M143.2 360.5h0M142.4 356.8h0M138.5 370.0h0M143.7 370.8h0M130.7 392.4h0M130.9 385.3h0M139.3 362.8h0M135.2 382.5h0M143.1 363.2h0M124.5 382.2h0M141.8 365.6h0M136.8 375.3h0M140.6 375.5h0M138.9 375.7h0M135.9 387.6h0M134.3 365.2h0M138.2 371.8h0M129.7 385.6h0M127.9 374.9h0M148.7 357.8h0M148.4 379.4h0M137.4 380.6h0M152.9 366.7h0M135.5 357.9h0M140.7 364.5h0M142.8 365.7h0M125.5 388.1h0M133.5 378.1h0" stroke="#f07070" stroke-width="0.88" stroke-linecap="square" fill="none" opacity="0.5"/>
<ellipse cx="137" cy="377" rx="3" ry="7" transform="rotate(15 137 377)" fill="#ee1c22" filter="url(#b1)" opacity="0.5"/>
<path d="M107.2 262.7 C109 259 111.5 255 114 253 C116 251.8 120 252.5 124 254 C126 255.5 125.5 257.5 124 260 L119.5 271.8 L117 272.3 L114.5 272 C113 268 110 265 107.2 262.7 Z" transform="translate(118 266) scale(1.000) translate(-118 -266)" fill="#4a1a1a" stroke="#111" stroke-width="0.90"/>
<path d="M107.2 262.7 C109 259 111.5 255 114 253 C116 251.8 120 252.5 124 254 C126 255.5 125.5 257.5 124 260 L119.5 271.8 L117 272.3 L114.5 272 C113 268 110 265 107.2 262.7 Z" transform="translate(118 266) scale(0.840) translate(-118 -266)" fill="#d8c8c8" stroke="#222" stroke-width="1.07"/>
<path d="M107.2 262.7 C109 259 111.5 255 114 253 C116 251.8 120 252.5 124 254 C126 255.5 125.5 257.5 124 260 L119.5 271.8 L117 272.3 L114.5 272 C113 268 110 265 107.2 262.7 Z" transform="translate(118 266) scale(0.680) translate(-118 -266)" fill="#7a1a1a" stroke="#3a0a0a" stroke-width="1.32"/>
<path d="M107.2 262.7 C109 259 111.5 255 114 253 C116 251.8 120 252.5 124 254 C126 255.5 125.5 257.5 124 260 L119.5 271.8 L117 272.3 L114.5 272 C113 268 110 265 107.2 262.7 Z" transform="translate(118 266) scale(0.520) translate(-118 -266)" fill="#b81818" stroke="#8a1010" stroke-width="1.73"/>
<path d="M107.2 262.7 C109 259 111.5 255 114 253 C116 251.8 120 252.5 124 254 C126 255.5 125.5 257.5 124 260 L119.5 271.8 L117 272.3 L114.5 272 C113 268 110 265 107.2 262.7 Z" transform="translate(118 266) scale(0.360) translate(-118 -266)" fill="#e02020" stroke="#c01010" stroke-width="2.50"/>
<circle cx="123.4" cy="255.5" r="1.7" fill="#1a1aa0"/>
<path d="M108 328.4 C111 323 115 318.5 119.3 317.5 C122 316.8 125 317 126.8 317.8 C128 319 127.6 321 126.5 323 L120 338.3 L116 338.3 C115 334 111 330.5 108 328.4 Z" transform="translate(119 330) scale(1.000) translate(-119 -330)" fill="#3a1a1a" stroke="#111" stroke-width="0.90"/>
<path d="M108 328.4 C111 323 115 318.5 119.3 317.5 C122 316.8 125 317 126.8 317.8 C128 319 127.6 321 126.5 323 L120 338.3 L116 338.3 C115 334 111 330.5 108 328.4 Z" transform="translate(119 330) scale(0.840) translate(-119 -330)" fill="#d8c8c8" stroke="#222" stroke-width="1.07"/>
<path d="M108 328.4 C111 323 115 318.5 119.3 317.5 C122 316.8 125 317 126.8 317.8 C128 319 127.6 321 126.5 323 L120 338.3 L116 338.3 C115 334 111 330.5 108 328.4 Z" transform="translate(119 330) scale(0.680) translate(-119 -330)" fill="#6a1a1a" stroke="#3a0a0a" stroke-width="1.32"/>
<path d="M108 328.4 C111 323 115 318.5 119.3 317.5 C122 316.8 125 317 126.8 317.8 C128 319 127.6 321 126.5 323 L120 338.3 L116 338.3 C115 334 111 330.5 108 328.4 Z" transform="translate(119 330) scale(0.520) translate(-119 -330)" fill="#b81c24" stroke="#8a1010" stroke-width="1.73"/>
<path d="M108 328.4 C111 323 115 318.5 119.3 317.5 C122 316.8 125 317 126.8 317.8 C128 319 127.6 321 126.5 323 L120 338.3 L116 338.3 C115 334 111 330.5 108 328.4 Z" transform="translate(119 330) scale(0.360) translate(-119 -330)" fill="#e02020" stroke="#c01010" stroke-width="2.50"/>
<ellipse cx="122.8" cy="320.2" rx="3.2" ry="2.3" fill="#2020b0"/>
<path d="M103.2 394.5 C108 389 114 384 120 382.3 C123 381.5 124.8 382.5 124.2 385 C123 391 119 397 115.5 401.5 L103.2 401.5 Z" transform="translate(110 396) scale(1.000) translate(-110 -396)" fill="#555" stroke="#111" stroke-width="0.90"/>
<path d="M103.2 394.5 C108 389 114 384 120 382.3 C123 381.5 124.8 382.5 124.2 385 C123 391 119 397 115.5 401.5 L103.2 401.5 Z" transform="translate(110 396) scale(0.840) translate(-110 -396)" fill="#d8d0d0" stroke="#222" stroke-width="1.07"/>
<path d="M103.2 394.5 C108 389 114 384 120 382.3 C123 381.5 124.8 382.5 124.2 385 C123 391 119 397 115.5 401.5 L103.2 401.5 Z" transform="translate(110 396) scale(0.680) translate(-110 -396)" fill="#5a4a5a" stroke="#222" stroke-width="1.32"/>
<path d="M103.2 394.5 C108 389 114 384 120 382.3 C123 381.5 124.8 382.5 124.2 385 C123 391 119 397 115.5 401.5 L103.2 401.5 Z" transform="translate(110 396) scale(0.520) translate(-110 -396)" fill="#a04040" stroke="#3a1010" stroke-width="1.73"/>
<path d="M103.2 394.5 C108 389 114 384 120 382.3 C123 381.5 124.8 382.5 124.2 385 C123 391 119 397 115.5 401.5 L103.2 401.5 Z" transform="translate(110 396) scale(0.360) translate(-110 -396)" fill="#c05050" stroke="#601010" stroke-width="2.50"/>
<path d="M104 392.5 C109 389 115 386 121 384.5" fill="none" stroke="#2a2a90" stroke-width="1.2"/>
<path d="M377.7 256.1h0M402.0 270.8h0M390.1 251.8h0M401.9 244.5h0M392.3 266.7h0M380.9 254.9h0M372.2 247.3h0M394.9 261.9h0M389.3 259.3h0M384.4 262.6h0M374.6 256.5h0M379.8 241.0h0M405.3 229.9h0M403.4 265.7h0M386.4 253.1h0M399.5 248.5h0M397.0 229.3h0M377.2 233.0h0M387.1 238.5h0M382.0 260.5h0M394.5 233.1h0M405.9 230.7h0M393.8 262.0h0M388.0 262.2h0M398.5 263.9h0M405.0 231.6h0M389.5 238.4h0M379.4 263.7h0M379.2 256.9h0M398.8 247.4h0M380.1 264.6h0M389.9 247.9h0M379.2 239.7h0M381.3 243.8h0M379.3 213.7h0M385.3 236.8h0M386.5 264.5h0M385.8 251.8h0M373.8 230.1h0M391.8 247.6h0M393.3 223.0h0M382.0 252.3h0M395.6 232.1h0M390.0 239.6h0M370.6 253.2h0M386.9 244.8h0M387.4 267.6h0M380.4 241.4h0M380.7 259.4h0M359.5 241.5h0M387.1 250.7h0M387.0 265.6h0M378.6 236.2h0M384.2 262.3h0M384.1 247.2h0M381.9 216.8h0M406.6 246.8h0M389.7 251.4h0M399.4 220.9h0M393.5 250.4h0M379.8 238.3h0M401.1 260.7h0M378.3 246.7h0M391.6 258.1h0M378.9 236.5h0M370.9 249.8h0M367.1 264.8h0M387.8 251.7h0M411.9 238.9h0M382.1 236.6h0M363.7 255.3h0M364.1 246.8h0M379.4 246.7h0M376.7 246.5h0M375.3 239.6h0M383.0 251.7h0M393.7 264.2h0M387.2 230.9h0M390.3 248.9h0M380.9 251.4h0M379.7 265.6h0M399.7 244.2h0M403.7 239.7h0M390.8 223.5h0M390.9 229.8h0M404.1 229.2h0M371.9 254.4h0M390.0 254.6h0M391.6 235.3h0M381.9 251.6h0M388.1 260.1h0M410.5 243.8h0M386.9 235.1h0M383.5 242.7h0M379.7 267.3h0M386.3 244.4h0M363.6 245.7h0M387.6 251.6h0M390.3 256.2h0M392.1 261.6h0M375.4 242.4h0M365.6 270.0h0M371.7 259.9h0M385.2 234.7h0M379.5 257.4h0M388.6 255.3h0M387.0 253.0h0M379.6 231.1h0M402.1 241.2h0M405.6 257.8h0M390.3 258.0h0M407.7 265.0h0M380.4 251.1h0M386.6 244.3h0M374.7 248.3h0M398.2 257.0h0M398.1 253.4h0M367.2 269.0h0M372.5 248.9h0M387.6 264.3h0M382.9 259.9h0M385.8 262.0h0M394.4 250.9h0M407.3 261.4h0M379.1 240.8h0M376.7 272.2h0M388.9 263.0h0M390.7 252.1h0M392.1 253.9h0M389.5 261.1h0M385.1 242.6h0M388.9 214.0h0M386.1 244.6h0M367.1 236.5h0M377.1 272.2h0M389.8 266.2h0M375.4 270.9h0M375.3 235.5h0M400.0 258.7h0M371.3 244.7h0M391.1 245.4h0M397.3 239.6h0M388.2 239.6h0M388.5 258.4h0M394.1 246.3h0M371.3 268.3h0M377.6 234.1h0M393.9 234.2h0M367.6 247.1h0M379.4 248.2h0M385.3 260.8h0M389.7 230.5h0M398.5 247.8h0M396.4 268.7h0M391.1 245.1h0M403.6 256.2h0M383.9 240.4h0M404.8 250.0h0M374.5 251.5h0M393.8 242.0h0M401.0 237.4h0M371.9 237.4h0M380.9 227.0h0M382.2 252.4h0M391.9 236.1h0M380.8 255.0h0M382.8 241.6h0M397.2 238.0h0M367.4 254.9h0M395.1 242.3h0M370.9 245.1h0M381.1 244.7h0M372.9 252.3h0M376.0 263.8h0M369.6 236.3h0M384.9 240.8h0M391.6 258.4h0M385.9 236.9h0M398.6 230.0h0M379.4 258.0h0M382.4 263.6h0M396.9 237.4h0M372.5 243.2h0M379.3 249.8h0M383.6 255.9h0M402.1 246.1h0M380.5 240.5h0M377.8 241.4h0M396.0 246.6h0M388.7 248.4h0M390.0 220.4h0M371.6 255.1h0M365.7 253.0h0M399.0 265.1h0M387.7 246.5h0M397.4 264.1h0M389.2 238.2h0M386.2 249.2h0M381.1 258.4h0M377.4 258.8h0M403.8 252.4h0M364.8 253.9h0M386.3 225.2h0M397.2 242.2h0M390.2 238.7h0M378.3 249.1h0M365.5 243.6h0M387.4 234.4h0M378.7 258.9h0M380.7 271.4h0M386.0 251.7h0M389.5 258.8h0M383.0 239.6h0M373.8 241.0h0M381.1 253.7h0M407.2 247.3h0M392.7 247.9h0M388.1 243.9h0M365.3 254.9h0M388.4 237.2h0M360.8 251.1h0M371.6 262.6h0M388.5 232.1h0M379.0 252.9h0M403.7 229.2h0M389.8 237.9h0M380.6 253.6h0M383.3 254.8h0M388.8 267.4h0M392.0 228.7h0M395.7 256.2h0M397.8 272.0h0M385.9 268.7h0M380.9 248.1h0M391.5 255.6h0M374.0 259.7h0M375.1 265.4h0M395.9 251.5h0M366.6 257.0h0M397.4 220.0h0" stroke="#f35a5a" stroke-width="0.88" stroke-linecap="square" fill="none" opacity="0.5"/>
<ellipse cx="386" cy="249.5" rx="9.3" ry="15.9" transform="rotate(20 386 249.5)" fill="#ff1818" filter="url(#b2)" opacity="0.85"/>
<path d="M383.5 258.9h0M392.6 242.2h0M395.7 243.2h0M392.2 237.2h0M383.5 258.6h0M387.3 249.8h0M392.6 246.0h0M393.5 240.3h0M391.6 254.5h0M397.5 262.3h0M389.1 248.1h0M378.7 243.6h0M391.3 248.9h0M377.7 255.2h0M370.8 254.1h0M392.6 253.5h0M389.3 263.8h0M378.5 254.4h0M383.3 245.4h0M396.0 244.1h0M391.5 251.4h0M391.4 247.0h0M384.0 249.4h0M389.3 248.2h0M383.9 245.3h0M401.5 242.1h0M387.3 243.3h0M391.6 253.4h0M379.0 251.8h0M390.1 246.9h0M377.3 253.8h0M385.1 246.5h0M381.6 244.2h0M396.2 249.7h0M393.5 240.5h0M397.4 244.7h0M387.8 254.8h0M387.8 252.0h0M393.2 236.0h0M381.8 253.3h0M380.2 253.9h0M374.6 252.6h0M385.1 256.3h0M397.3 253.5h0M383.8 249.0h0M392.2 243.1h0M374.8 266.4h0M382.8 246.3h0M394.4 240.6h0M385.3 251.4h0M379.0 257.4h0M388.0 226.2h0M399.2 242.6h0M379.2 259.6h0M384.2 252.3h0M376.3 242.2h0M386.4 267.5h0M383.3 241.7h0M392.6 260.6h0M392.8 243.0h0M378.9 262.2h0M390.7 238.2h0M379.6 249.4h0M383.4 262.6h0M385.6 257.0h0M390.6 239.8h0M386.8 247.3h0M387.1 237.7h0M382.6 256.9h0M379.8 247.2h0M389.9 242.7h0M376.0 240.2h0M388.3 255.5h0M384.0 233.3h0M387.9 228.7h0M390.3 233.1h0M378.4 260.1h0M382.9 259.5h0M383.8 243.6h0M377.9 250.8h0M385.5 247.9h0M382.4 270.1h0M373.4 248.4h0M390.4 251.4h0M394.7 250.4h0M379.7 253.2h0M383.9 237.6h0M387.0 247.0h0M390.6 248.5h0M388.0 260.2h0M379.0 266.7h0M396.9 239.8h0M391.6 249.7h0M387.7 254.0h0M401.1 238.3h0M384.5 247.0h0M379.5 243.9h0M380.9 252.7h0M390.3 255.6h0M381.3 251.7h0M375.4 245.1h0M378.5 261.5h0M393.5 252.7h0M392.3 236.1h0M378.8 255.1h0M380.7 238.5h0M380.2 255.7h0M385.7 244.0h0M391.9 235.8h0M385.6 238.1h0M380.3 263.4h0M382.2 267.2h0M394.1 235.3h0M381.6 237.3h0M379.4 241.6h0M403.6 243.3h0M387.6 233.3h0M396.7 243.4h0M385.5 233.7h0M376.9 253.9h0M382.8 257.6h0M390.5 233.6h0M388.5 254.5h0M382.7 243.2h0M396.5 241.5h0M386.9 249.3h0M383.7 258.5h0M379.2 261.1h0M380.0 253.0h0M390.1 245.5h0M383.7 264.4h0M394.2 245.8h0M391.8 234.0h0M383.1 254.9h0M380.4 248.2h0M391.5 239.4h0M379.3 255.9h0M381.5 261.4h0M389.3 247.8h0M382.4 247.0h0M387.0 258.4h0M380.2 245.7h0M391.5 251.4h0M384.1 258.6h0M378.7 242.5h0M388.2 258.6h0M386.6 242.0h0M375.8 238.9h0M399.9 241.2h0M399.4 258.8h0M390.0 247.4h0M388.1 228.0h0M387.7 254.6h0M391.6 245.2h0M385.7 241.5h0M390.8 240.0h0M373.3 264.5h0M386.1 258.7h0M383.4 250.8h0M373.6 268.5h0M378.4 243.5h0M381.6 243.7h0M382.6 268.3h0M379.1 240.1h0M374.2 242.8h0M402.0 212.1h0M394.7 234.2h0M382.1 240.9h0M383.9 240.1h0M393.7 229.4h0M390.8 265.4h0M383.1 245.7h0M386.0 233.9h0M367.0 270.9h0M392.8 253.6h0M383.8 260.5h0M387.0 249.3h0M375.7 264.4h0M378.3 259.8h0M392.4 256.2h0M388.5 270.4h0M392.6 241.5h0M389.2 263.1h0M390.5 246.2h0M397.0 225.8h0M393.0 240.6h0M392.9 258.1h0M386.3 226.6h0M382.1 228.1h0M392.9 241.7h0M384.5 255.4h0M380.0 265.8h0M379.6 258.2h0M391.1 269.4h0M382.1 267.4h0M378.6 262.6h0M382.6 245.0h0M370.2 253.8h0M381.9 253.3h0M384.6 269.1h0M403.0 226.7h0M389.7 260.8h0M393.0 243.1h0M383.3 246.2h0M373.8 269.1h0M391.5 241.4h0M384.4 250.1h0M384.8 244.6h0M389.3 260.4h0M385.1 233.2h0M384.7 259.3h0M381.9 253.6h0M390.8 257.1h0M391.5 244.6h0M380.6 247.8h0M379.2 269.2h0M387.2 240.1h0M390.2 220.5h0M388.5 240.1h0M376.7 253.7h0M389.0 235.4h0M388.6 243.4h0M400.3 231.7h0M383.2 236.8h0M387.7 249.3h0M385.0 251.9h0M380.8 264.6h0M377.8 246.9h0M383.1 243.4h0M388.3 236.4h0M385.1 246.6h0M378.8 260.9h0M380.9 252.8h0M387.0 246.7h0M372.6 253.2h0M389.5 239.3h0M397.5 251.9h0M385.8 241.7h0M382.4 249.9h0M384.0 246.8h0M378.6 251.7h0M387.0 258.5h0M371.5 247.5h0M381.7 260.1h0M381.3 245.3h0M388.0 247.2h0M377.9 249.6h0M389.3 261.5h0M375.9 253.1h0M395.2 223.8h0M383.0 262.2h0M377.9 257.0h0M394.8 239.0h0M384.3 247.0h0M390.9 248.5h0M387.9 257.1h0M382.3 257.1h0M401.3 257.2h0M390.8 239.6h0M394.8 239.8h0M375.6 247.5h0M384.7 251.6h0M387.5 233.2h0M375.7 256.3h0M387.5 261.0h0M387.6 237.3h0M379.5 243.5h0M388.4 249.5h0M381.0 259.7h0M385.0 243.0h0M388.9 238.3h0M385.5 246.4h0M385.0 245.8h0M392.3 254.3h0M368.7 270.6h0M392.5 238.7h0M383.9 270.9h0M386.8 244.1h0M393.9 238.6h0M382.2 258.8h0M390.7 255.2h0M386.4 238.9h0M379.4 252.5h0M392.9 265.3h0M386.6 271.8h0M392.3 249.3h0M397.8 244.8h0M378.1 247.9h0M386.1 234.9h0M389.7 248.0h0M383.4 238.6h0M388.5 262.6h0M394.6 238.2h0M391.8 249.7h0M388.8 247.2h0M380.2 250.5h0M382.5 261.4h0M383.0 251.1h0M391.4 239.8h0M379.3 261.1h0M393.0 236.7h0M385.3 250.2h0M386.6 249.2h0M389.5 239.2h0M382.6 257.8h0M379.4 251.0h0M387.4 253.7h0M385.1 240.2h0M384.2 245.0h0M393.8 244.3h0M384.1 243.2h0M384.7 267.7h0M372.6 246.0h0M380.6 233.7h0M397.6 237.5h0M370.7 244.0h0M392.2 233.5h0M389.5 237.9h0M398.5 259.4h0M387.4 270.3h0M377.0 231.9h0M389.4 259.3h0M387.1 263.3h0M394.8 248.8h0M381.2 261.2h0M379.8 263.2h0M379.1 236.3h0M384.6 243.1h0M379.7 247.5h0M385.5 251.6h0M374.1 242.0h0M377.2 251.9h0M382.8 244.4h0M392.4 263.0h0M386.2 233.6h0M387.6 240.6h0M385.4 263.4h0M388.1 253.9h0M382.7 242.7h0M377.9 243.8h0M387.5 235.1h0M388.1 252.0h0M383.2 254.6h0M387.7 251.9h0M385.8 239.7h0M386.3 245.3h0M380.9 245.6h0M387.3 268.1h0M384.5 230.8h0M378.8 263.2h0M386.5 234.9h0M375.6 257.2h0M391.3 250.4h0M390.2 259.3h0M395.3 231.5h0M388.9 235.2h0M380.1 242.8h0M389.9 244.7h0M395.9 247.8h0M383.7 252.4h0M390.9 263.1h0M391.6 226.8h0M384.9 248.0h0M384.0 228.0h0M383.7 246.9h0M385.6 255.9h0M370.6 266.4h0M398.2 241.3h0M385.6 255.2h0M385.5 255.8h0M381.6 234.9h0M387.0 237.1h0M392.5 256.8h0M386.3 247.7h0M398.4 246.5h0M374.0 253.0h0M391.3 249.0h0M388.3 243.9h0M391.0 231.3h0M378.6 269.9h0M393.5 252.1h0M375.7 260.6h0M402.4 220.0h0M399.3 238.5h0M388.6 247.0h0M391.0 244.4h0M391.1 242.5h0M387.0 246.2h0M376.0 241.6h0M375.8 264.2h0M397.5 227.8h0M391.6 263.3h0M389.5 257.1h0M384.4 241.8h0M393.2 234.4h0M393.4 230.2h0M387.7 247.2h0M393.7 240.6h0M388.6 246.9h0M388.4 252.7h0M384.7 253.8h0M386.3 258.3h0M379.9 243.1h0M388.8 239.2h0M392.8 271.7h0M381.8 237.2h0M392.5 251.8h0M399.3 239.1h0M381.8 256.0h0M388.3 247.5h0M394.3 248.3h0M396.1 238.1h0M388.4 243.6h0M394.9 238.0h0M382.7 247.3h0M375.3 253.5h0M393.6 240.4h0M373.9 260.9h0M385.0 236.0h0M381.9 246.2h0M395.8 246.1h0M388.2 255.6h0M397.2 263.4h0M386.4 245.3h0M384.4 253.3h0M380.3 252.5h0M388.3 232.5h0M392.0 230.7h0M379.2 245.7h0M382.3 239.1h0M396.5 232.3h0M385.9 259.3h0M387.5 248.3h0M382.3 251.5h0M378.8 253.3h0M382.1 251.3h0M376.8 239.2h0M391.3 255.8h0M379.4 224.9h0M372.8 268.7h0M375.0 249.1h0M396.1 241.1h0M376.8 258.4h0M386.5 262.5h0M381.1 252.0h0M387.2 260.2h0M380.0 255.6h0M390.4 244.8h0M388.8 237.1h0M387.9 245.4h0M380.4 252.4h0M390.0 257.2h0M398.5 236.2h0M391.2 257.1h0M392.9 250.9h0M385.9 259.4h0M396.8 237.3h0M385.7 247.4h0M383.6 248.2h0M389.1 252.0h0M385.7 243.0h0M380.1 253.5h0M387.3 243.9h0M382.0 260.9h0M392.2 253.3h0M380.6 254.2h0M386.7 247.2h0M390.4 250.7h0M387.1 271.0h0M383.0 260.2h0M373.9 241.4h0M384.0 247.3h0M384.3 263.4h0M384.1 244.5h0M376.3 246.1h0M369.2 247.9h0M396.2 237.4h0M390.2 242.1h0M388.2 243.3h0M387.7 269.6h0M387.7 260.6h0M387.5 255.3h0M385.9 241.5h0M381.6 260.1h0M388.1 260.0h0M379.6 256.1h0M386.7 239.6h0M372.7 253.0h0M395.2 250.5h0M386.8 265.3h0M396.7 250.5h0M389.5 257.6h0M385.5 235.5h0M381.4 250.9h0M377.8 252.8h0M382.6 250.0h0M384.2 254.4h0M377.9 251.5h0M378.1 263.6h0M394.0 244.3h0M385.5 258.3h0M378.3 250.6h0M394.4 249.5h0M389.9 235.3h0M381.8 257.6h0M400.9 244.3h0M392.9 246.9h0M388.0 261.6h0M388.1 241.5h0M389.5 242.8h0M378.7 259.2h0M389.5 264.5h0M377.9 255.2h0M378.7 264.3h0M382.5 242.7h0M381.6 243.3h0M371.8 245.5h0M388.1 247.5h0M378.5 265.2h0M377.2 252.5h0M387.2 246.1h0M387.4 248.3h0M381.3 253.9h0M384.5 261.5h0M390.9 267.2h0M382.9 244.5h0M379.4 249.3h0M388.2 254.7h0M388.2 247.3h0M388.9 264.1h0M392.4 241.9h0M382.7 258.8h0M385.1 260.6h0M379.1 244.5h0M378.1 256.2h0M391.2 262.6h0M390.9 246.4h0M385.9 258.9h0M391.5 239.1h0M380.9 254.2h0M375.7 253.9h0M386.2 246.0h0M389.2 256.6h0M393.4 240.6h0M387.7 244.9h0M396.9 249.9h0M377.7 231.6h0M390.9 229.5h0M382.0 237.1h0M402.5 235.5h0M384.9 251.2h0M384.7 238.3h0M380.6 253.4h0M387.6 260.3h0M380.6 259.7h0M397.6 237.9h0M384.2 258.8h0M395.7 238.6h0M393.1 237.4h0M385.3 255.0h0M382.5 258.5h0M387.0 252.1h0M387.1 249.7h0M372.5 252.1h0M385.3 252.0h0M390.0 255.7h0M389.4 239.8h0M389.6 254.0h0M392.7 246.9h0M375.9 251.0h0M378.4 243.5h0M383.2 265.7h0M385.2 254.5h0M380.4 237.9h0M378.5 259.0h0M385.5 256.8h0M388.7 252.0h0M372.4 262.8h0M380.4 242.6h0M369.0 254.4h0M397.0 243.6h0M377.3 256.3h0M385.8 264.7h0M374.9 263.9h0M378.2 257.5h0M385.0 259.7h0M382.4 235.3h0M389.2 241.9h0M392.1 243.7h0M393.0 246.4h0M381.6 255.9h0M397.1 241.4h0M386.5 238.8h0M382.1 257.9h0M389.0 240.9h0M387.6 242.1h0M384.1 245.5h0M389.1 243.7h0M396.2 238.2h0M376.2 255.7h0M387.4 250.6h0M385.2 271.8h0M380.0 242.9h0M377.8 230.3h0M382.0 260.5h0M393.5 250.8h0M392.9 253.6h0M399.1 235.2h0M399.6 234.7h0M384.8 248.4h0M396.1 243.2h0M385.8 247.4h0M384.6 255.1h0M392.3 245.3h0M379.4 245.9h0M381.8 253.4h0M397.6 258.4h0M392.6 239.7h0M378.6 262.9h0M381.3 236.7h0M393.2 219.7h0M388.6 260.7h0M389.8 252.4h0M371.7 261.9h0M386.4 267.1h0M378.0 258.3h0M396.6 254.6h0M388.6 245.0h0M376.6 248.8h0M378.0 249.5h0M390.5 239.1h0M381.8 236.7h0M397.2 244.2h0M392.7 245.0h0M379.0 243.1h0M385.9 241.9h0M376.5 246.2h0M380.1 240.1h0M385.9 248.5h0M394.4 252.8h0M380.3 244.7h0M387.5 261.8h0M408.9 213.6h0M380.9 255.3h0M404.9 247.6h0M379.0 250.3h0M389.3 244.7h0M387.9 244.4h0M378.0 261.5h0M374.9 267.6h0M390.6 247.8h0M386.3 237.2h0M389.2 259.9h0M379.1 257.0h0M368.1 258.5h0M383.0 250.4h0M385.6 244.1h0M379.1 233.9h0M399.5 241.4h0M397.2 246.4h0M393.9 248.1h0M380.9 257.0h0M393.6 237.1h0M378.5 259.6h0M391.5 254.7h0M381.0 267.8h0M394.4 249.0h0M383.8 234.2h0M378.8 257.4h0M389.2 253.2h0M385.6 248.2h0M386.1 242.4h0M384.0 252.6h0M396.0 225.0h0M390.4 258.8h0M392.2 247.9h0M390.5 253.4h0M389.7 257.2h0M382.3 258.3h0M382.5 230.9h0M399.2 220.3h0M374.4 263.9h0M386.8 257.1h0M377.1 250.1h0M390.4 236.3h0M375.6 258.7h0M386.9 257.0h0M383.2 232.6h0M391.0 258.6h0M383.8 248.8h0M396.7 253.8h0M388.2 240.8h0M382.3 249.8h0M389.6 241.1h0M387.6 257.2h0M384.0 261.6h0M379.9 243.8h0M380.7 270.7h0M380.3 248.9h0M378.4 243.0h0M382.0 247.3h0M386.9 246.6h0M384.7 263.5h0M395.1 243.2h0M386.7 253.1h0M381.6 236.3h0M373.2 249.9h0M386.3 266.8h0M390.1 251.0h0M385.3 246.8h0M385.8 255.9h0M378.6 247.2h0M388.0 272.0h0M381.7 246.0h0M388.8 244.3h0M390.3 248.2h0M379.2 252.5h0M375.4 266.7h0M378.7 243.8h0M383.8 254.2h0M370.8 256.5h0M390.3 259.6h0M389.3 249.1h0M396.2 231.8h0M381.7 219.9h0M385.9 248.9h0M390.4 246.8h0M398.2 248.9h0M387.2 261.0h0M386.3 230.8h0M391.6 256.4h0M392.3 241.7h0M384.2 240.3h0M377.1 243.4h0M383.1 247.0h0M379.2 255.1h0M392.1 241.3h0M386.6 262.0h0M399.9 228.7h0M405.0 234.5h0M385.6 255.0h0M379.4 244.5h0M375.6 271.5h0M376.4 250.2h0M384.1 251.1h0M389.6 254.9h0M385.9 262.2h0M388.1 257.6h0M378.4 258.7h0M382.7 227.4h0M380.9 247.3h0M394.2 251.9h0M382.7 257.4h0M392.2 231.2h0M386.8 243.8h0M378.8 270.4h0M388.6 240.1h0M383.0 258.5h0M379.9 266.8h0M381.5 258.1h0M389.0 262.3h0M388.6 253.1h0M395.5 222.3h0M382.5 258.7h0M387.4 257.1h0M380.2 232.4h0M389.8 233.9h0M378.3 263.7h0M384.4 250.3h0M395.8 235.7h0M385.7 251.9h0M380.9 249.5h0M388.3 250.5h0M380.5 260.1h0M382.7 259.8h0M371.0 242.9h0M389.8 255.7h0M385.7 256.3h0M397.2 249.0h0M376.9 247.4h0M377.6 260.6h0M385.3 247.2h0M396.5 253.3h0M387.0 250.2h0M375.8 268.2h0M390.4 235.6h0M403.0 243.4h0M383.7 243.4h0M400.6 247.5h0M384.1 245.1h0M394.7 239.7h0M402.7 241.1h0M382.2 248.0h0M389.1 234.4h0M372.2 268.1h0M393.3 250.0h0M382.3 260.0h0M380.2 262.4h0M368.7 252.3h0M390.1 241.2h0M387.1 247.3h0M384.5 237.0h0M386.0 252.0h0M384.6 231.1h0M404.7 222.3h0M391.6 255.1h0M390.5 243.1h0M371.2 254.3h0M388.5 247.9h0M382.2 231.3h0M379.6 257.8h0M382.3 242.4h0M392.2 240.9h0M393.1 259.0h0M380.7 250.6h0M398.5 265.0h0M392.8 236.8h0M385.5 266.4h0M385.7 257.1h0M392.9 233.4h0M387.6 256.1h0M391.8 258.3h0M387.0 248.2h0M386.4 255.1h0M376.9 252.4h0M381.1 245.1h0M382.5 257.5h0M388.6 236.1h0M380.0 238.3h0M388.4 252.2h0M372.3 254.6h0M385.2 241.9h0M396.5 238.9h0M378.6 254.7h0M378.9 246.6h0M394.9 256.3h0M372.0 254.0h0M387.2 257.0h0M380.8 249.3h0M387.6 249.3h0M387.0 242.5h0M389.3 256.9h0M391.8 251.2h0M386.3 241.8h0M397.3 242.6h0M381.6 245.6h0M387.4 262.3h0M384.3 245.7h0M388.7 261.9h0M385.9 265.3h0M375.7 268.3h0M386.0 250.5h0M388.3 247.8h0M386.7 248.4h0M390.7 238.0h0M369.1 250.2h0M383.8 257.0h0M390.4 249.0h0M380.7 267.0h0M384.8 245.6h0M400.7 234.0h0M386.8 251.6h0M401.1 253.1h0M382.9 232.8h0M374.7 269.8h0M390.2 243.3h0M390.1 239.2h0M392.7 253.7h0M390.5 224.9h0M394.1 263.2h0M382.5 266.2h0M387.4 237.3h0M379.5 264.9h0M390.9 248.8h0M386.4 254.5h0M391.2 233.7h0M391.4 240.1h0M384.7 248.4h0M382.8 244.7h0M373.0 267.2h0M382.2 252.4h0M401.3 245.0h0M386.4 254.0h0M386.3 257.7h0M391.3 237.9h0M387.0 264.7h0M372.2 271.9h0M380.7 254.1h0M377.6 261.5h0M395.2 230.7h0M389.3 247.2h0M395.2 251.0h0M378.4 249.9h0M370.0 259.0h0M386.5 271.4h0M389.3 237.4h0M377.8 258.8h0M391.1 248.9h0M387.4 258.2h0M381.7 255.4h0M404.4 232.8h0M379.7 258.8h0M404.0 234.8h0M394.6 244.4h0M383.7 245.2h0M389.6 246.5h0M382.9 255.8h0M385.0 244.3h0M399.7 228.1h0M384.7 258.7h0M392.9 238.4h0M380.9 257.9h0M383.6 240.0h0M381.3 239.0h0M390.1 252.4h0M383.3 265.5h0M378.5 263.5h0M396.8 243.2h0M388.4 252.8h0M383.9 240.4h0M377.8 243.1h0M378.4 260.9h0M395.5 244.3h0M378.1 260.3h0M380.8 255.0h0M380.6 263.6h0M370.0 247.5h0M392.7 241.8h0M388.4 245.7h0M382.9 253.5h0M383.9 257.0h0M388.2 254.0h0M375.9 253.9h0M380.7 259.4h0M386.4 269.7h0M394.3 245.0h0M389.8 261.8h0M383.3 246.8h0M390.5 242.6h0M379.1 244.9h0M385.4 244.3h0M389.0 253.7h0M387.3 253.2h0M394.0 263.2h0M381.5 243.3h0M389.0 255.8h0M377.4 267.5h0M396.7 249.2h0M400.8 253.4h0M391.8 241.6h0M393.2 262.2h0M383.8 236.3h0M389.8 235.4h0M398.8 249.8h0M390.9 241.5h0M386.8 238.3h0M400.9 248.3h0M378.3 253.3h0M379.9 260.8h0M395.4 267.6h0M392.6 250.6h0M383.0 266.0h0M384.1 245.3h0M390.9 247.2h0M376.8 245.2h0M390.4 242.2h0M394.0 245.7h0M398.0 245.8h0M388.7 244.4h0M387.8 242.0h0M370.4 244.7h0M392.1 244.0h0M380.5 258.1h0M388.2 257.2h0M396.8 245.1h0M381.9 260.3h0M380.3 252.6h0M376.2 245.6h0M391.2 248.0h0M392.9 251.5h0M383.1 248.3h0M384.4 257.3h0M377.4 233.4h0M384.8 239.6h0M388.3 250.0h0M385.7 250.8h0M395.4 244.3h0M390.7 257.9h0M388.3 257.8h0M384.0 249.6h0M371.6 257.9h0M384.1 251.7h0M381.7 250.9h0M378.7 259.5h0M380.9 239.5h0M379.9 237.4h0M390.7 265.9h0M383.2 245.0h0M386.9 234.8h0M395.4 240.3h0M381.7 249.3h0M393.7 230.7h0M385.2 255.7h0M382.8 257.8h0M381.6 259.8h0M383.5 253.4h0M379.7 244.5h0M378.9 263.8h0M390.6 266.3h0M383.7 264.5h0M388.7 234.2h0M381.1 250.0h0M378.9 254.5h0M391.1 245.7h0M385.6 241.5h0M394.2 243.2h0M388.7 263.9h0M382.4 250.9h0M376.2 264.0h0M378.3 248.3h0M389.2 242.9h0M385.9 256.5h0M384.3 254.8h0M382.8 239.4h0M372.4 270.8h0M392.7 263.7h0M378.1 263.7h0M385.8 244.3h0M386.4 252.9h0M388.8 241.5h0M389.0 249.2h0M376.8 257.1h0M383.0 263.8h0M382.3 264.0h0M377.8 261.1h0M388.7 236.2h0M380.2 257.4h0M391.3 237.2h0M382.7 263.1h0M386.3 231.9h0M401.5 251.6h0M387.7 240.4h0M389.5 237.8h0M387.5 260.1h0M373.5 259.4h0M379.7 259.1h0M388.6 257.9h0M380.9 252.1h0M387.7 243.7h0M385.7 242.0h0M386.2 242.1h0M377.8 270.0h0M382.3 241.0h0M388.1 242.8h0M378.4 266.8h0M379.4 251.8h0M390.1 245.3h0M380.8 252.8h0M381.2 270.5h0M387.9 253.1h0M387.9 249.7h0M386.0 253.7h0M386.8 217.1h0M378.2 260.3h0M379.0 257.5h0M385.3 253.3h0M372.7 259.7h0M391.4 257.7h0M375.7 235.5h0M385.6 258.1h0M384.6 239.8h0M376.1 250.0h0M389.5 262.5h0M370.5 243.9h0M393.5 245.4h0M381.3 265.0h0M386.3 249.0h0M377.5 254.2h0M386.7 261.5h0M388.9 259.1h0M383.7 261.7h0M383.3 264.0h0M380.2 252.0h0M389.0 248.1h0M384.7 246.3h0M378.8 266.5h0M395.8 244.7h0M383.2 266.5h0M394.6 235.1h0M379.9 256.7h0M389.5 250.1h0M390.9 238.2h0M394.9 234.0h0M390.1 238.4h0M386.4 254.8h0M390.9 252.8h0M394.6 245.0h0M379.6 250.0h0M390.9 265.9h0M392.4 257.7h0" stroke="#ff0000" stroke-width="0.88" stroke-linecap="square" fill="none" opacity="0.6"/>
<path d="M368.7 243.8h0M359.4 240.8h0M388.9 258.4h0M369.3 256.0h0M362.1 241.3h0M384.4 232.0h0M388.4 229.7h0M402.8 250.8h0M357.2 235.3h0M376.5 250.0h0M411.0 258.0h0M415.5 267.1h0M392.6 209.5h0M403.1 264.4h0M416.2 235.7h0M364.9 239.7h0M367.0 227.1h0M368.7 261.8h0" stroke="#f7a0a0" stroke-width="0.88" stroke-linecap="square" fill="none" opacity="0.6"/>
<path d="M391.9 295.8h0M376.4 326.3h0M386.3 309.4h0M389.8 327.4h0M402.5 316.8h0M391.5 330.7h0M375.0 331.9h0M386.7 330.6h0M392.8 320.2h0M404.9 310.1h0M384.2 318.2h0M377.2 296.5h0M388.1 337.0h0M394.5 315.4h0M387.5 327.2h0M390.6 328.5h0M384.4 327.5h0M381.9 317.6h0M393.7 307.3h0M386.4 312.5h0M383.4 312.6h0M394.7 332.5h0M383.5 316.9h0M394.3 292.9h0M391.6 313.9h0M396.2 296.8h0M373.7 308.5h0M392.2 314.7h0M382.0 334.8h0M387.9 312.7h0M388.4 318.1h0M385.1 327.2h0M395.8 316.0h0M396.6 319.1h0M380.8 333.2h0M385.3 313.6h0M383.7 329.2h0M385.7 318.2h0M402.2 313.6h0M393.2 332.8h0M371.5 306.6h0M379.5 319.7h0M394.2 294.2h0M399.0 298.3h0M384.2 318.6h0M380.9 319.0h0M387.4 318.0h0M386.1 320.1h0M387.4 324.4h0M401.3 307.2h0M389.9 328.5h0M381.4 329.9h0M394.7 332.3h0M385.4 319.1h0M392.6 311.5h0M393.1 312.7h0M392.4 323.8h0M378.1 323.7h0M398.2 316.1h0M391.5 308.2h0M389.5 317.5h0M399.3 337.2h0M384.8 327.9h0M380.0 325.9h0M382.5 312.2h0M380.8 315.7h0M391.9 312.1h0M380.4 310.4h0M393.8 316.7h0M373.2 320.4h0M394.7 315.3h0M393.3 319.9h0M390.2 306.5h0M395.5 333.4h0M386.4 310.7h0M378.5 305.0h0M378.2 330.0h0M387.9 323.8h0M396.4 292.3h0M390.3 305.9h0M389.7 331.1h0M373.7 322.7h0M394.2 305.1h0M384.3 335.3h0M384.1 309.8h0M387.6 310.6h0M380.3 315.4h0M390.5 309.9h0M396.3 307.4h0M391.7 323.2h0M377.9 318.9h0M397.3 317.2h0M391.4 304.2h0M386.9 305.2h0M379.2 315.4h0M386.1 313.1h0M399.0 302.6h0M381.0 300.2h0M394.8 330.4h0M396.7 293.2h0M384.9 313.8h0M369.4 322.3h0M384.5 324.2h0M388.7 310.2h0M383.0 325.5h0M394.0 313.8h0M375.1 320.5h0M388.6 335.8h0M379.2 337.7h0M359.1 311.8h0M386.3 328.6h0M378.6 305.4h0M401.7 318.2h0M384.3 308.1h0M380.7 299.0h0M387.0 319.3h0M384.3 326.8h0M374.9 337.0h0M403.4 305.8h0M385.9 315.6h0M378.0 330.6h0M387.0 308.2h0M392.4 289.5h0M378.9 319.6h0M394.5 313.5h0M383.5 294.1h0M391.3 310.1h0M388.2 313.9h0M395.5 315.3h0M388.2 328.2h0M383.5 318.9h0M393.0 314.6h0M390.5 311.9h0M391.5 312.1h0M388.2 319.5h0M402.2 337.9h0M387.7 327.7h0M374.5 320.8h0M398.9 301.5h0M379.0 329.6h0M382.8 318.6h0M396.7 296.2h0M381.6 315.3h0M399.4 321.7h0M385.9 322.7h0M395.8 321.5h0M392.8 315.2h0M394.1 287.6h0M368.8 321.7h0M385.6 329.5h0M391.7 323.8h0M377.1 309.7h0M398.8 305.4h0M393.5 327.0h0M372.2 327.5h0M387.0 337.4h0M400.4 324.6h0M395.7 304.9h0M393.2 299.4h0M396.0 307.6h0M383.2 323.0h0M385.9 312.3h0M386.9 319.9h0M388.8 299.2h0M381.8 321.0h0M395.0 301.9h0M386.6 321.7h0M389.0 336.5h0M381.7 324.6h0M397.2 320.6h0M386.0 326.9h0M387.5 315.2h0M370.0 330.5h0M403.0 326.1h0M386.1 318.8h0M401.6 317.0h0M387.0 331.3h0M385.4 316.0h0M373.6 324.6h0M393.1 301.5h0M380.8 318.9h0M384.8 297.3h0M406.3 322.1h0M369.7 309.0h0M400.1 308.4h0M386.7 329.1h0M382.7 314.8h0M373.0 334.1h0M384.7 301.4h0M379.3 309.2h0M379.6 319.2h0M394.1 308.1h0M393.4 328.9h0M384.4 311.5h0M371.2 337.0h0M371.9 334.6h0M391.1 311.0h0M401.7 334.3h0M385.6 335.3h0M388.8 323.6h0M390.9 312.2h0M386.4 325.7h0M377.4 325.1h0M378.7 319.4h0M379.7 335.0h0M392.2 314.2h0M397.5 320.4h0M381.8 306.9h0M408.6 313.8h0M394.5 316.5h0M393.0 301.8h0M382.3 326.3h0M407.2 293.4h0M394.7 316.1h0M387.3 327.4h0M379.5 334.3h0M387.8 308.8h0M392.7 328.0h0M371.4 319.9h0M388.7 331.7h0M393.5 318.0h0M399.7 302.2h0M370.1 316.8h0M401.3 306.8h0M393.5 315.7h0M394.4 312.2h0M413.7 293.3h0M386.1 326.0h0M386.9 323.4h0M388.4 310.9h0M382.7 326.4h0M390.8 330.8h0M378.4 324.1h0M390.8 307.1h0M387.6 316.4h0M388.9 321.5h0M407.4 306.9h0M386.1 313.7h0M393.6 326.9h0M392.3 317.2h0" stroke="#f35a5a" stroke-width="0.88" stroke-linecap="square" fill="none" opacity="0.5"/>
<ellipse cx="388" cy="318" rx="6.9" ry="12.8" transform="rotate(18 388 318)" fill="#ff1818" filter="url(#b2)" opacity="0.85"/>
<path d="M387.1 324.3h0M386.2 309.6h0M395.2 312.6h0M391.3 311.6h0M392.0 316.3h0M397.2 303.1h0M387.9 324.5h0M386.4 295.1h0M385.2 333.8h0M391.3 318.1h0M385.7 321.9h0M385.5 314.7h0M389.5 310.4h0M384.3 311.8h0M389.5 324.1h0M376.4 322.0h0M390.4 310.8h0M389.0 312.7h0M390.1 328.3h0M385.7 303.0h0M392.3 324.5h0M384.7 327.1h0M397.1 326.8h0M384.9 334.0h0M387.0 320.7h0M390.2 325.8h0M387.6 319.0h0M390.4 299.3h0M394.2 314.8h0M378.5 334.1h0M382.7 326.9h0M384.5 322.7h0M389.7 321.7h0M388.9 326.2h0M393.3 320.0h0M385.2 323.7h0M388.4 292.0h0M386.8 319.6h0M387.6 321.7h0M389.3 319.7h0M378.2 327.3h0M394.5 317.4h0M382.7 315.2h0M388.6 330.7h0M384.5 326.1h0M393.4 306.7h0M387.2 311.5h0M388.7 313.6h0M387.2 304.5h0M374.9 320.5h0M385.7 317.8h0M385.5 315.4h0M388.8 319.8h0M383.2 322.5h0M381.0 321.9h0M380.1 321.7h0M393.4 323.5h0M383.1 318.2h0M381.6 325.0h0M388.6 326.1h0M385.0 333.3h0M384.1 316.7h0M381.6 322.6h0M388.3 331.7h0M391.5 320.4h0M387.6 313.1h0M396.0 309.9h0M388.0 333.1h0M390.7 315.4h0M384.0 321.1h0M387.4 323.7h0M391.8 320.0h0M389.1 316.5h0M384.0 333.5h0M391.0 313.1h0M386.7 315.4h0M395.7 309.1h0M389.0 324.3h0M396.8 308.8h0M379.6 321.4h0M381.9 313.4h0M384.1 327.4h0M386.2 310.4h0M384.4 320.7h0M386.6 326.1h0M389.9 302.9h0M396.1 312.4h0M390.9 310.2h0M394.2 309.1h0M379.1 330.1h0M391.3 314.1h0M379.2 312.3h0M387.6 325.4h0M384.0 328.4h0M380.2 314.5h0M388.0 306.0h0M388.1 316.2h0M390.1 330.9h0M389.8 310.5h0M385.4 316.5h0M393.9 328.7h0M396.7 300.4h0M376.3 324.8h0M398.0 319.5h0M387.6 315.7h0M387.3 327.6h0M382.9 318.6h0M392.1 302.4h0M389.7 323.9h0M395.1 306.5h0M381.7 317.3h0M387.6 329.5h0M389.9 316.9h0M384.9 324.1h0M392.1 317.4h0M384.5 325.5h0M387.1 308.0h0M386.4 308.6h0M395.6 308.7h0M393.4 316.7h0M388.6 315.8h0M388.3 321.0h0M391.0 304.9h0M391.0 317.2h0M387.6 320.7h0M392.4 319.3h0M394.9 324.8h0M399.3 319.0h0M388.3 307.3h0M387.7 328.4h0M393.5 328.6h0M398.3 303.7h0M386.3 321.8h0M391.2 312.5h0M386.7 317.7h0M391.5 320.3h0M380.2 323.6h0M392.9 319.8h0M388.5 317.0h0M394.3 313.2h0M385.2 327.3h0M392.0 328.0h0M390.5 321.8h0M385.3 313.2h0M385.7 315.1h0M380.3 337.0h0M381.5 329.4h0M390.0 306.2h0M387.7 324.5h0M381.8 307.7h0M387.4 320.5h0M391.7 318.1h0M386.9 315.4h0M386.7 318.8h0M390.1 301.3h0M390.8 318.8h0M387.1 313.3h0M382.3 322.8h0M390.1 310.9h0M388.6 305.0h0M392.1 305.3h0M393.2 314.7h0M384.6 320.3h0M395.7 315.3h0M392.7 300.6h0M394.1 313.3h0M390.5 316.5h0M390.7 306.1h0M394.3 324.9h0M389.7 314.7h0M387.3 328.5h0M389.8 317.0h0M388.0 315.9h0M383.9 312.1h0M392.5 295.9h0M373.8 320.4h0M382.9 325.0h0M388.4 318.7h0M386.6 307.1h0M385.3 311.2h0M389.3 318.3h0M385.5 308.8h0M391.0 306.8h0M384.3 323.7h0M387.0 300.7h0M384.7 318.6h0M375.4 331.3h0M395.8 313.6h0M389.1 318.3h0M386.0 315.1h0M389.1 311.1h0M381.7 314.3h0M382.3 317.4h0M388.5 306.5h0M390.0 314.8h0M394.6 330.9h0M383.3 324.5h0M388.9 316.8h0M383.4 314.2h0M381.0 320.7h0M376.6 324.6h0M386.5 317.1h0M379.9 315.0h0M396.1 328.7h0M385.9 334.3h0M392.3 319.2h0M388.7 310.9h0M393.5 320.9h0M391.8 315.7h0M394.1 313.1h0M389.4 313.4h0M395.7 326.4h0M388.0 320.9h0M394.9 313.6h0M381.1 325.8h0M385.2 320.8h0M390.3 315.4h0M386.6 318.6h0M381.3 315.4h0M396.7 329.4h0M385.3 323.5h0M393.1 315.4h0M393.6 327.2h0M395.9 306.2h0M393.5 316.0h0M386.4 327.2h0M390.5 312.0h0M391.4 318.1h0M385.3 312.8h0M384.8 326.6h0M389.2 315.2h0M383.4 320.0h0M385.9 322.6h0M389.8 319.7h0M386.5 329.7h0M401.0 314.3h0M393.9 328.0h0M384.5 319.3h0M383.2 308.5h0M384.5 313.9h0M389.4 310.0h0M380.1 327.2h0M386.7 304.8h0M388.7 317.0h0M389.2 325.2h0M393.5 317.9h0M391.8 316.3h0M373.4 331.7h0M398.7 315.5h0M394.2 311.3h0M376.4 324.3h0M384.0 306.8h0M380.6 327.1h0M382.7 335.0h0M392.3 316.7h0M389.4 334.4h0M390.6 320.0h0M390.7 314.6h0M396.2 314.2h0M386.3 316.4h0M387.8 319.7h0M388.1 323.9h0M389.5 311.0h0M378.7 328.9h0M390.1 323.7h0M380.2 318.2h0M392.8 306.4h0M378.9 314.8h0M387.8 315.7h0M385.4 319.9h0M393.1 316.7h0M384.5 315.9h0M396.7 315.8h0M389.6 324.9h0M389.8 318.6h0M389.5 310.9h0M388.7 314.3h0M389.2 305.1h0M387.5 322.4h0M390.8 306.1h0M386.4 322.4h0M387.8 319.8h0M390.5 325.2h0M392.6 304.0h0M385.0 336.3h0M384.9 320.3h0M392.1 309.1h0M383.6 324.3h0M388.9 327.8h0M388.2 310.2h0M394.3 303.3h0M382.3 308.9h0M387.1 313.7h0M385.1 309.7h0M381.4 328.8h0M392.6 318.2h0M390.8 314.6h0M390.4 318.3h0M385.3 323.3h0M379.4 327.2h0M395.3 310.0h0M391.7 317.7h0M392.2 313.1h0M389.0 331.9h0M391.9 303.9h0M387.8 318.2h0M378.4 333.0h0M389.5 321.9h0M391.6 314.2h0M396.8 312.4h0M387.5 326.6h0M394.6 319.1h0M381.3 317.8h0M385.3 323.8h0M383.8 307.7h0M383.8 332.9h0M386.5 320.0h0M387.7 317.6h0M379.6 332.0h0M386.1 330.0h0M386.5 305.9h0M383.1 327.8h0M392.6 315.9h0M394.4 325.4h0M389.7 317.5h0M394.4 316.7h0M393.5 314.5h0M388.6 316.4h0M391.2 307.6h0M390.9 317.2h0M393.7 300.0h0M388.2 312.9h0M388.0 326.4h0M379.6 318.7h0M383.1 317.4h0M391.2 315.4h0M387.0 314.9h0M389.7 306.0h0M391.6 314.3h0M389.9 301.9h0M382.9 317.1h0M382.1 319.8h0M388.3 318.8h0M390.7 313.1h0M375.7 337.1h0M396.9 301.7h0M388.9 323.2h0M390.2 331.8h0M386.6 313.6h0M399.3 317.6h0M394.2 312.5h0M385.9 325.0h0M382.7 323.0h0M390.2 318.9h0M374.4 327.7h0M390.6 319.3h0M393.5 300.4h0M389.9 303.5h0M381.2 313.9h0M382.9 322.8h0M381.9 323.0h0M385.3 336.2h0M383.5 335.5h0M388.6 320.1h0M391.2 313.1h0M385.4 309.4h0M389.3 311.3h0M388.2 327.9h0M382.7 324.5h0M384.8 314.4h0M394.1 306.2h0M385.0 325.7h0M389.6 315.0h0M381.4 327.6h0M386.9 317.8h0M383.9 321.0h0M382.5 323.0h0M390.4 322.5h0M390.2 326.5h0M384.4 321.0h0M396.9 313.6h0M392.0 321.6h0M384.6 317.6h0M390.7 316.9h0M385.7 320.3h0M384.5 326.3h0M381.6 316.6h0M378.8 304.7h0M392.8 319.3h0M391.8 306.0h0M387.0 315.0h0M390.8 320.8h0M388.2 319.5h0M387.0 325.5h0M392.9 305.0h0M383.7 329.5h0M394.1 325.7h0M381.2 325.3h0M390.0 323.4h0M390.2 312.1h0M382.1 327.2h0M387.1 310.8h0M382.9 306.9h0M388.8 315.7h0M385.8 319.1h0M389.2 320.4h0M379.7 323.2h0M395.1 324.0h0M392.7 311.7h0M401.6 298.7h0M379.4 314.1h0M381.1 313.1h0M387.6 295.0h0M386.4 316.7h0M385.2 308.9h0M387.0 309.8h0M391.4 325.7h0M379.9 324.0h0M396.3 297.4h0M395.0 318.0h0M390.8 321.1h0M390.1 312.9h0M392.4 316.9h0M382.6 333.0h0M384.0 321.4h0M392.4 318.7h0M385.7 318.0h0M395.4 305.8h0M385.3 319.8h0M382.9 320.5h0M389.1 315.7h0M390.6 314.7h0M397.8 313.4h0M392.9 304.4h0M388.1 332.3h0M383.3 331.0h0M390.1 326.0h0M382.5 323.7h0M390.6 329.0h0M375.8 317.1h0M381.9 327.1h0M394.5 329.3h0M381.8 320.4h0M394.9 299.4h0M383.3 315.1h0M384.9 308.3h0M383.5 322.3h0M381.7 323.5h0M393.0 292.3h0M391.9 314.0h0M381.1 325.4h0M387.9 319.4h0M389.8 327.7h0M392.7 307.7h0M395.6 313.9h0M397.6 310.4h0M383.5 321.3h0M377.8 319.6h0M387.2 329.6h0M387.2 325.0h0M386.9 325.4h0M387.3 311.7h0M389.2 321.0h0M388.3 299.8h0M388.6 319.2h0M384.9 329.9h0M383.6 315.6h0M381.3 311.8h0M386.2 322.5h0M392.1 327.4h0M397.7 303.7h0M393.4 320.7h0M381.5 324.2h0M392.3 317.8h0M388.6 313.1h0M390.3 311.9h0M393.4 323.5h0M388.9 311.9h0M386.9 335.9h0M384.2 318.3h0M385.4 317.6h0M378.7 324.2h0M390.9 313.0h0M386.3 322.6h0M389.3 326.8h0M390.2 311.4h0M393.4 300.4h0M389.4 309.5h0M391.3 310.9h0M376.1 326.7h0M388.6 335.4h0M380.6 322.9h0M397.9 316.9h0M392.6 315.8h0M396.6 317.3h0M387.3 313.8h0M391.6 325.3h0M383.9 312.7h0M382.5 323.9h0M384.9 311.0h0M388.0 310.7h0M391.5 301.4h0M395.9 314.9h0M390.7 313.2h0M390.1 317.0h0M385.9 314.7h0M386.4 306.9h0M387.3 330.1h0M386.6 319.6h0M389.3 326.6h0M392.1 322.1h0M387.3 317.2h0M395.2 303.0h0M383.6 326.6h0M397.4 311.8h0M396.3 303.2h0M374.7 337.9h0M389.5 298.4h0M381.8 318.7h0M384.4 310.2h0M384.2 322.5h0M392.0 319.3h0M386.6 323.3h0M383.6 327.2h0M387.1 317.2h0M389.5 328.3h0M391.1 318.8h0M387.8 319.7h0M390.8 324.6h0M385.1 321.7h0M385.4 311.9h0M394.0 311.8h0M391.2 307.1h0M381.2 323.1h0M386.4 312.9h0M392.4 300.4h0M386.5 318.9h0M387.5 324.9h0M390.6 310.6h0M397.9 300.6h0M401.2 304.9h0M384.2 317.5h0M391.5 318.3h0M388.5 316.0h0M385.0 314.6h0M381.9 319.4h0M386.4 307.3h0M387.6 329.7h0M392.3 305.3h0M391.8 318.5h0M380.6 317.4h0M390.0 311.8h0M391.0 325.9h0M385.1 320.1h0M384.3 302.5h0M388.5 318.0h0M381.0 317.5h0M386.3 318.9h0M388.9 310.9h0M390.9 301.4h0M387.3 315.3h0M393.0 319.8h0M386.1 305.4h0M384.8 320.7h0M392.3 303.9h0M386.7 333.2h0M390.9 315.3h0M389.9 319.6h0M381.9 314.3h0M380.9 315.4h0M373.9 315.4h0M383.3 328.0h0M392.5 315.2h0M389.7 324.4h0M392.5 298.5h0M395.6 314.7h0M381.3 320.9h0M401.2 302.9h0M395.9 314.4h0M396.4 303.0h0M392.9 319.0h0M380.5 320.8h0M390.8 311.4h0M395.5 315.6h0M391.8 317.8h0M387.5 320.8h0M378.7 334.8h0M389.0 307.7h0M385.1 316.3h0M382.8 328.8h0M391.7 305.8h0M389.9 303.7h0M386.2 309.3h0M386.5 321.1h0M393.0 313.5h0M394.2 307.8h0M387.9 312.4h0M395.7 308.3h0M372.5 314.1h0M391.1 313.4h0M380.9 315.4h0M381.7 323.8h0M389.0 321.4h0M386.6 313.1h0M384.1 318.0h0M389.4 312.3h0M386.3 315.8h0M389.6 294.8h0M398.0 308.3h0M391.2 313.7h0M390.8 299.8h0M379.7 325.1h0M390.5 308.7h0M381.8 321.7h0M395.1 303.4h0M388.6 302.8h0M395.9 305.0h0M382.2 323.5h0M386.9 315.5h0M388.0 320.8h0M382.1 319.0h0M391.6 302.3h0M389.5 321.8h0M389.9 330.0h0M381.8 318.6h0M394.6 313.2h0M386.1 335.1h0M397.6 303.7h0M385.5 315.5h0M387.6 314.5h0M391.4 314.3h0M395.0 320.6h0M387.1 317.8h0M381.0 335.8h0M385.9 328.0h0M391.0 320.0h0M385.6 321.0h0M381.7 324.9h0M385.3 304.6h0M390.0 315.0h0M392.0 308.6h0M381.8 325.6h0M390.1 318.8h0M394.0 314.3h0M386.1 316.1h0M389.9 315.1h0M377.4 324.9h0M389.8 311.7h0M393.2 310.8h0M381.5 324.8h0M388.2 325.2h0M392.0 299.8h0M375.3 330.7h0M396.8 315.3h0M393.3 317.0h0M395.1 307.6h0M391.2 315.4h0M387.7 316.2h0M380.9 323.6h0M386.2 330.7h0M383.2 323.2h0M385.5 319.4h0M387.5 323.0h0M392.9 333.2h0M389.4 319.2h0M383.7 331.6h0M384.4 322.1h0M382.4 327.2h0M394.0 320.6h0M385.8 313.4h0M375.2 337.7h0M389.2 325.3h0M394.4 316.2h0M392.3 320.8h0M386.3 315.7h0M394.3 314.1h0M390.7 329.2h0M383.8 308.9h0M385.1 313.1h0M385.4 315.5h0M381.2 330.0h0M384.9 316.4h0M385.5 308.8h0M385.8 315.3h0M389.3 308.9h0M387.0 320.5h0M382.4 331.1h0M377.9 321.9h0M387.6 316.2h0M389.2 322.4h0M380.8 317.7h0M394.7 320.2h0M390.5 336.5h0M396.4 303.8h0M393.8 315.2h0M387.2 319.6h0M379.6 320.4h0M386.6 323.6h0M394.9 308.5h0M383.5 325.7h0M389.6 304.8h0M380.4 335.6h0M388.0 309.1h0M385.9 321.7h0M388.7 321.5h0M393.7 316.4h0M392.3 300.6h0M382.8 330.0h0M380.7 320.7h0M384.7 313.3h0M385.2 326.6h0M381.7 334.4h0M388.9 317.8h0M381.4 316.5h0M391.2 313.5h0M390.6 304.8h0M389.7 307.0h0M388.5 337.2h0M376.2 324.5h0M389.2 318.2h0M384.2 316.1h0M395.3 287.7h0M389.0 315.5h0M390.7 313.5h0M392.8 300.2h0M383.1 330.5h0M387.6 314.6h0M385.7 310.5h0M385.7 310.3h0M390.6 317.5h0M388.5 317.0h0M384.4 308.8h0M394.2 319.2h0M384.2 312.8h0M382.6 332.7h0M391.0 316.1h0M398.8 308.5h0M391.6 321.5h0M385.1 322.9h0M391.6 320.2h0M389.3 315.0h0M384.4 332.4h0M380.6 328.2h0M389.2 317.8h0M384.3 323.2h0M388.4 318.5h0M383.3 325.0h0M396.9 309.8h0M388.2 321.7h0M391.9 310.8h0M395.8 305.7h0M392.9 317.5h0M382.4 311.6h0M386.3 311.9h0M384.1 324.4h0M389.0 306.9h0M383.7 315.7h0M383.5 323.9h0M391.3 311.2h0M387.9 316.0h0M394.0 324.1h0M391.4 314.8h0M386.7 323.4h0M380.9 321.9h0M389.1 307.7h0M386.0 322.3h0M388.7 302.9h0M380.7 312.1h0M389.2 316.3h0M389.9 301.0h0M375.5 318.1h0M381.2 334.0h0M394.5 315.8h0M393.0 312.4h0M389.4 312.8h0M385.5 320.4h0M375.6 325.0h0M378.6 315.2h0M393.0 316.4h0M390.3 313.4h0M386.7 321.1h0M385.8 317.9h0M391.6 316.9h0M384.1 312.5h0M398.3 304.3h0M381.4 324.3h0M391.8 319.1h0M386.2 332.5h0M384.6 318.8h0M395.2 322.6h0M391.0 317.1h0M395.1 331.8h0M384.6 312.8h0M397.9 318.0h0M383.6 324.8h0M385.6 318.0h0M385.7 323.7h0M384.2 325.1h0M381.3 325.0h0M394.4 300.0h0M390.9 317.7h0M393.1 296.2h0M396.6 319.2h0M383.7 315.2h0M396.2 326.6h0M395.0 308.0h0M386.7 326.0h0M386.2 303.1h0M384.0 316.8h0M379.5 331.5h0M394.3 319.0h0M387.8 308.6h0M387.3 315.8h0M390.3 318.0h0M382.2 324.4h0M392.4 310.8h0M395.6 321.3h0M386.2 327.8h0M387.5 315.0h0M398.7 312.5h0M392.4 306.6h0M391.6 307.1h0M388.2 322.9h0M378.0 328.7h0M390.7 312.6h0M392.2 320.1h0M384.9 321.1h0M386.8 329.7h0M391.9 304.7h0M382.7 318.7h0M399.9 331.7h0M383.6 331.0h0M387.9 318.8h0M395.2 300.2h0M384.8 326.7h0M389.0 324.7h0M378.0 333.3h0M382.3 321.8h0M390.1 317.8h0M389.2 305.4h0M385.8 324.8h0M384.2 337.2h0M379.3 311.4h0M387.5 319.8h0M391.3 312.0h0M384.9 306.1h0M389.0 325.8h0M391.3 307.7h0M386.6 318.2h0M390.1 321.1h0" stroke="#ff0000" stroke-width="0.88" stroke-linecap="square" fill="none" opacity="0.6"/>
<path d="M417.8 295.0h0M381.1 319.5h0M408.2 312.0h0M421.0 318.0h0M387.3 295.9h0M418.6 307.7h0M401.8 274.0h0M391.7 305.6h0M413.7 289.9h0M396.2 316.7h0M407.3 318.2h0M389.2 286.6h0M370.9 311.4h0M357.2 314.3h0M410.1 287.6h0M399.3 286.5h0M419.6 317.2h0M417.9 291.4h0" stroke="#f7a0a0" stroke-width="0.88" stroke-linecap="square" fill="none" opacity="0.6"/>
<path d="M375.1 397.3h0M383.6 398.1h0M375.5 388.5h0M385.5 360.9h0M397.4 366.4h0M376.4 379.2h0M386.5 379.4h0M374.5 386.1h0M383.1 381.7h0M379.3 380.0h0M384.8 377.1h0M387.7 374.7h0M390.4 394.3h0M386.7 379.7h0M388.1 380.2h0M375.1 395.4h0M376.9 386.1h0M370.1 394.3h0M380.6 384.4h0M388.8 376.0h0M376.3 394.0h0M402.9 386.0h0M383.4 382.6h0M391.6 383.4h0M394.0 363.6h0M378.1 385.7h0M384.1 381.2h0M394.5 379.2h0M385.5 399.7h0M370.2 390.5h0M374.5 373.5h0M382.4 381.0h0M385.2 383.4h0M385.2 375.2h0M382.8 396.5h0M385.4 375.8h0M386.8 399.8h0M376.4 375.0h0M380.0 382.9h0M386.2 397.3h0M396.4 379.5h0M381.1 397.5h0M375.4 380.6h0M392.3 373.4h0M379.1 383.7h0M384.7 388.0h0M390.1 385.9h0M376.0 389.7h0M381.2 373.5h0M382.1 390.3h0M378.4 375.0h0M383.4 394.4h0M383.6 399.8h0M383.9 376.0h0M389.3 389.3h0M386.2 381.2h0M389.0 370.4h0M384.4 376.1h0M379.8 388.9h0M377.9 393.2h0M393.4 382.0h0M383.8 383.1h0M381.2 387.8h0M380.0 369.6h0M381.3 370.1h0M372.9 379.2h0M386.3 387.0h0M370.4 378.8h0M382.2 378.0h0M384.8 365.3h0M386.6 386.6h0M399.4 379.2h0M376.7 388.1h0M387.1 395.8h0M376.5 397.4h0M377.5 390.7h0M381.2 383.4h0M385.0 395.1h0M390.3 380.6h0M386.0 382.8h0M388.8 376.5h0M386.8 396.3h0M380.0 400.0h0M383.5 373.8h0M379.9 391.1h0M389.1 385.1h0M384.1 382.1h0M386.3 374.2h0M382.0 398.4h0M393.7 377.9h0M385.4 381.7h0M383.2 373.4h0M385.8 387.8h0M384.4 395.3h0M394.2 373.3h0M376.6 373.6h0M380.3 376.1h0M385.9 379.1h0M382.0 394.4h0M381.2 387.0h0M393.6 391.0h0M379.5 398.9h0M376.6 375.3h0M380.4 397.8h0M387.0 365.4h0M382.0 373.9h0M374.7 378.0h0M374.3 392.2h0M380.0 396.5h0M383.2 384.3h0M394.0 386.5h0M380.1 378.3h0M383.8 386.0h0M374.8 380.7h0M378.5 391.8h0M389.6 378.5h0M383.2 396.0h0M381.1 371.4h0M387.2 390.0h0M391.3 394.2h0M389.6 379.7h0M380.5 379.8h0M380.5 386.0h0M394.3 379.8h0M388.7 376.7h0M382.1 390.4h0M387.6 378.9h0M384.7 401.0h0M385.4 389.0h0M381.7 383.0h0M374.6 385.1h0M374.2 377.0h0M386.0 391.8h0M376.8 373.7h0M386.0 380.9h0M380.5 392.5h0M390.7 372.6h0M376.3 398.2h0M386.9 392.3h0M384.3 390.4h0M385.1 375.9h0M374.0 397.0h0M375.0 388.5h0M381.9 378.5h0M383.3 380.9h0M377.9 398.4h0M377.9 388.0h0M371.3 378.9h0M397.6 370.4h0M378.9 380.5h0M374.0 402.8h0M387.3 380.8h0M382.0 374.9h0M382.5 392.0h0M386.1 388.5h0M381.3 381.8h0M380.4 389.7h0M378.6 385.5h0M390.1 392.4h0M375.3 394.9h0" stroke="#f35a5a" stroke-width="0.88" stroke-linecap="square" fill="none" opacity="0.5"/>
<ellipse cx="383.5" cy="384.5" rx="6.0" ry="10.4" transform="rotate(8 383.5 384.5)" fill="#ff1818" filter="url(#b2)" opacity="0.85"/>
<path d="M388.0 374.6h0M388.2 396.3h0M380.8 374.3h0M379.5 378.2h0M387.7 388.8h0M382.9 386.0h0M376.6 395.6h0M385.9 384.1h0M379.2 395.3h0M383.0 385.9h0M378.5 387.1h0M385.5 389.2h0M376.4 378.2h0M389.7 389.9h0M385.7 386.8h0M376.1 392.7h0M393.6 379.1h0M375.4 397.2h0M383.4 379.3h0M383.1 373.6h0M386.0 403.5h0M383.3 379.9h0M382.7 372.9h0M383.1 389.9h0M387.4 391.1h0M386.8 368.8h0M381.7 389.1h0M379.1 386.1h0M388.1 383.2h0M394.5 393.8h0M384.0 383.2h0M389.3 378.7h0M378.4 402.5h0M384.7 381.6h0M388.2 379.6h0M384.5 384.1h0M384.0 395.3h0M382.2 372.2h0M387.1 395.5h0M384.9 387.2h0M375.5 382.1h0M382.1 380.7h0M381.1 374.0h0M387.5 381.1h0M378.8 389.5h0M392.1 379.9h0M384.4 374.7h0M386.0 383.3h0M388.0 383.4h0M379.3 373.4h0M383.8 374.8h0M390.6 399.3h0M383.1 383.4h0M382.7 380.9h0M384.8 394.0h0M381.8 379.2h0M377.6 392.4h0M383.2 386.7h0M394.7 385.1h0M391.5 368.5h0M379.9 386.2h0M371.3 385.0h0M377.7 386.5h0M385.9 380.5h0M385.7 389.2h0M387.7 392.3h0M380.4 384.5h0M380.7 376.5h0M386.4 391.5h0M389.0 382.9h0M378.5 395.8h0M380.7 382.5h0M380.5 374.7h0M379.8 394.4h0M383.4 383.6h0M392.1 379.2h0M381.9 377.9h0M381.6 377.3h0M385.3 394.1h0M375.5 393.3h0M379.2 398.0h0M382.0 399.1h0M385.5 378.1h0M387.3 376.1h0M387.2 392.5h0M376.6 375.9h0M397.9 380.0h0M387.5 381.4h0M383.1 378.5h0M382.6 385.0h0M384.8 382.5h0M383.0 382.1h0M378.1 382.7h0M378.9 392.3h0M376.8 381.1h0M379.9 390.5h0M380.7 382.4h0M387.5 380.1h0M386.7 387.9h0M381.7 380.6h0M382.9 389.1h0M387.7 380.3h0M385.4 385.5h0M382.5 387.0h0M383.1 391.0h0M383.9 384.1h0M390.3 383.6h0M387.5 367.6h0M384.1 380.3h0M383.1 385.5h0M382.0 383.6h0M390.3 383.7h0M379.2 381.5h0M385.4 377.0h0M382.5 390.9h0M388.7 385.5h0M387.1 381.2h0M389.7 373.5h0M383.5 378.0h0M385.9 384.1h0M383.0 389.5h0M381.4 385.4h0M376.0 389.6h0M377.7 387.8h0M381.4 382.5h0M378.9 401.7h0M384.6 376.1h0M385.9 385.1h0M389.2 383.6h0M380.5 398.0h0M386.1 392.6h0M384.5 383.5h0M381.1 380.6h0M390.5 382.6h0M385.4 378.8h0M382.8 383.0h0M390.9 390.3h0M390.4 383.6h0M393.6 383.0h0M381.1 388.2h0M381.2 386.9h0M390.9 387.6h0M382.1 391.5h0M381.4 383.2h0M383.0 387.3h0M382.2 386.3h0M379.4 384.8h0M391.8 392.5h0M376.8 389.5h0M386.5 390.8h0M386.2 393.0h0M380.2 387.8h0M381.6 377.1h0M384.0 377.4h0M379.5 381.0h0M387.7 385.4h0M380.8 381.1h0M388.9 389.1h0M382.3 382.0h0M380.7 387.1h0M381.8 397.4h0M393.8 390.3h0M384.7 372.5h0M385.5 389.2h0M374.7 388.3h0M386.9 379.5h0M380.9 383.4h0M388.7 375.4h0M390.6 383.9h0M380.8 377.5h0M383.8 375.5h0M378.7 379.4h0M386.1 383.9h0M382.9 382.2h0M387.0 377.6h0M383.5 385.3h0M386.8 379.9h0M377.2 398.0h0M386.4 390.8h0M384.1 388.2h0M388.0 387.2h0M383.6 392.9h0M383.8 393.5h0M386.6 377.1h0M380.1 380.1h0M381.5 393.1h0M381.1 395.2h0M383.7 390.6h0M386.5 372.1h0M386.9 375.0h0M379.5 380.4h0M392.5 376.3h0M388.7 385.0h0M385.4 396.0h0M388.3 380.9h0M379.0 378.5h0M386.8 385.9h0M377.0 389.6h0M383.6 392.0h0M377.9 390.7h0M382.0 391.1h0M387.6 377.0h0M383.8 395.6h0M381.3 378.7h0M388.5 382.3h0M382.1 371.8h0M382.0 387.7h0M387.5 378.1h0M387.8 384.4h0M383.8 383.6h0M395.0 380.5h0M381.4 385.8h0M383.2 394.1h0M385.5 375.2h0M385.3 377.4h0M391.2 384.4h0M381.2 386.6h0M387.0 387.0h0M380.8 388.2h0M386.9 372.6h0M386.9 385.7h0M390.4 376.6h0M387.0 380.0h0M384.6 379.6h0M385.6 381.8h0M385.4 375.7h0M380.1 386.8h0M384.7 375.2h0M383.2 384.3h0M381.9 392.8h0M385.4 376.5h0M381.9 382.9h0M381.9 386.1h0M388.3 376.9h0M392.5 393.0h0M379.2 375.1h0M377.7 385.4h0M381.6 375.5h0M386.9 396.2h0M381.8 395.5h0M382.2 382.8h0M380.9 393.0h0M382.9 379.8h0M385.3 382.5h0M384.9 381.2h0M376.4 393.4h0M382.4 391.8h0M377.4 382.5h0M382.2 382.2h0M381.2 381.8h0M388.5 373.6h0M380.0 390.1h0M387.8 390.8h0M381.1 388.2h0M388.4 387.4h0M384.6 391.8h0M382.9 388.2h0M377.9 392.9h0M383.7 383.0h0M384.7 391.4h0M387.6 384.7h0M386.0 384.9h0M379.7 384.7h0M385.3 382.6h0M388.9 378.3h0M389.1 384.7h0M382.7 390.7h0M382.9 389.2h0M378.1 374.3h0M393.7 375.7h0M383.0 380.3h0M376.0 382.7h0M380.7 387.8h0M388.6 370.5h0M393.4 381.1h0M384.8 386.0h0M386.5 383.7h0M383.1 383.7h0M389.4 397.4h0M389.3 376.3h0M388.0 383.7h0M382.6 389.3h0M381.8 389.7h0M385.1 391.5h0M381.2 385.7h0M380.2 383.1h0M384.4 387.9h0M395.0 373.1h0M385.6 394.4h0M386.8 380.2h0M382.1 387.2h0M379.2 378.6h0M386.6 383.7h0M387.1 392.0h0M379.7 380.5h0M382.4 389.1h0M385.3 378.0h0M381.8 385.9h0M380.6 386.5h0M383.7 380.6h0M379.3 385.7h0M381.8 387.1h0M378.8 371.9h0M382.6 379.5h0M379.9 377.9h0M390.4 385.4h0M387.8 389.8h0M383.0 388.2h0M391.0 393.5h0M388.6 388.7h0M389.7 375.3h0M379.6 386.0h0M383.0 380.5h0M387.6 390.5h0M377.1 391.3h0M381.9 386.4h0M379.4 387.8h0M382.8 388.1h0M383.9 370.5h0M379.9 383.8h0M374.0 386.5h0M375.8 394.9h0M382.4 384.8h0M380.6 399.0h0M380.2 381.4h0M385.3 378.3h0M384.0 387.7h0M390.5 377.9h0M379.3 388.7h0M381.9 392.3h0M380.1 382.6h0M394.8 385.2h0M381.9 393.2h0M385.1 387.1h0M381.9 395.1h0M387.0 375.3h0M377.2 392.2h0M385.7 380.3h0M383.1 397.6h0M380.4 376.4h0M377.0 386.5h0M378.4 386.2h0M382.3 390.1h0M381.2 382.1h0M387.0 393.3h0M380.2 383.0h0M378.5 376.7h0M389.8 382.1h0M382.1 386.0h0M385.7 380.9h0M384.9 381.5h0M382.5 385.6h0M375.3 385.5h0M380.9 381.8h0M380.4 381.1h0M384.7 386.7h0M379.1 385.8h0M386.3 387.0h0M385.9 400.4h0M372.6 378.8h0M382.6 388.9h0M375.5 392.3h0M388.0 377.7h0M378.7 396.0h0M390.0 376.8h0M382.7 385.5h0M387.3 380.4h0M382.7 378.1h0M376.2 395.0h0M384.2 372.4h0M385.5 372.7h0M391.3 381.3h0M384.4 393.6h0M379.9 387.6h0M386.4 384.4h0M382.1 400.4h0M385.9 381.7h0M384.1 370.7h0M383.8 387.3h0M387.3 377.5h0M382.6 391.4h0M383.7 381.8h0M382.0 386.8h0M391.6 385.7h0M383.9 384.9h0M373.7 380.5h0M387.7 376.5h0M384.6 376.6h0M387.5 385.4h0M384.2 377.4h0M385.9 386.1h0M381.3 390.6h0M382.0 390.3h0M384.8 390.7h0M384.1 390.9h0M385.3 376.2h0M385.9 392.4h0M380.2 386.1h0M380.1 390.6h0M389.7 387.6h0M379.4 384.2h0M381.7 387.6h0M381.4 381.3h0M382.8 393.6h0M376.4 392.5h0M385.6 386.2h0M390.1 368.3h0M380.6 380.6h0M385.2 376.1h0M383.1 401.0h0M383.7 385.9h0M378.5 382.4h0M389.0 373.5h0M389.7 388.5h0M390.0 388.8h0M379.2 398.0h0M382.4 375.5h0M377.1 379.7h0M384.5 379.9h0M384.9 393.3h0M382.1 382.3h0M383.2 374.3h0M388.6 387.7h0M384.7 381.2h0M388.5 368.0h0M381.7 386.0h0M378.6 375.6h0M386.0 371.0h0M382.0 386.2h0M379.3 389.6h0M388.2 364.3h0M387.4 386.0h0M385.0 381.9h0M383.6 379.5h0M382.0 383.2h0M379.6 382.8h0M390.0 382.1h0M386.8 386.0h0M381.3 387.2h0M379.0 387.7h0M381.5 385.6h0M385.8 385.5h0M387.7 372.6h0M380.7 389.1h0M386.0 392.8h0M379.6 394.4h0M379.1 390.1h0M383.0 389.1h0M379.9 389.0h0M378.5 388.8h0M383.5 390.1h0M386.2 388.2h0M377.3 397.1h0M381.8 399.7h0M384.4 380.3h0M380.7 380.6h0M387.0 378.2h0M385.8 390.2h0M382.2 391.3h0M377.6 373.4h0M378.6 373.4h0M377.1 389.2h0M386.4 383.8h0M374.1 386.1h0M389.6 379.7h0M385.1 376.0h0M382.2 393.9h0M388.1 375.6h0M380.7 384.3h0M387.4 362.9h0M381.0 379.6h0M382.2 383.4h0M382.3 386.8h0M383.8 391.2h0M393.0 376.4h0M380.8 381.7h0M385.0 380.6h0M380.7 384.9h0M383.6 394.1h0M380.1 380.6h0M383.0 402.9h0M383.2 377.3h0M381.7 388.5h0M380.4 373.2h0M391.6 390.6h0M380.1 398.1h0M379.9 402.1h0M383.4 379.9h0M389.9 387.2h0M385.8 384.7h0M387.8 378.5h0M390.3 384.6h0M382.7 386.3h0M381.2 385.3h0M379.2 393.9h0M382.6 380.0h0M381.1 385.9h0M381.6 388.6h0M379.9 377.8h0M384.5 393.0h0M385.1 377.8h0M383.7 387.5h0M389.1 380.5h0M384.2 385.2h0M384.3 396.0h0M383.8 389.1h0M389.3 382.9h0M384.5 387.0h0M390.3 381.2h0M385.9 400.2h0M390.2 372.8h0M385.0 387.8h0M392.6 387.0h0M388.4 393.4h0M378.6 395.2h0M388.2 387.4h0M377.9 381.9h0M382.9 382.3h0M386.7 386.3h0M390.1 389.4h0M385.4 386.8h0M385.5 386.2h0M381.1 396.1h0M385.7 383.0h0M385.9 389.9h0M387.3 390.9h0M386.2 384.7h0M383.9 380.9h0M382.6 396.9h0M384.5 389.2h0M383.6 386.7h0M384.6 374.1h0M388.2 367.7h0M381.0 370.6h0M387.1 384.5h0M386.4 392.5h0M384.9 373.4h0M377.3 395.3h0M376.4 390.3h0M383.2 390.9h0M382.0 385.0h0M385.7 390.0h0M379.7 380.5h0M385.3 384.1h0M386.8 382.5h0M384.9 375.1h0M382.3 384.3h0M378.5 384.1h0M380.8 386.6h0M381.9 378.7h0M386.5 395.5h0M387.4 389.4h0M378.0 381.5h0M385.5 386.6h0M386.7 381.3h0M382.9 373.0h0M379.6 392.9h0M379.9 378.5h0M387.7 395.2h0M380.6 391.9h0M386.1 383.6h0M384.1 381.0h0M393.3 369.7h0M384.4 389.6h0M380.5 379.6h0M383.3 382.1h0M382.8 376.3h0M383.0 380.7h0M375.8 397.0h0M379.3 386.1h0M383.1 373.8h0M385.7 384.5h0M384.0 381.6h0M381.9 388.7h0M383.8 385.2h0M387.7 375.1h0M388.0 379.3h0M381.8 378.5h0M387.7 376.6h0M391.7 376.0h0M388.5 377.8h0M383.5 373.8h0M381.2 373.6h0M384.8 382.3h0M389.2 386.1h0M385.3 395.0h0M381.6 380.3h0M381.7 378.8h0M381.7 386.3h0M388.9 386.5h0M384.7 381.1h0M381.1 378.6h0M387.2 392.7h0M378.3 392.5h0M390.5 369.4h0M380.2 389.4h0M385.1 390.1h0M386.2 377.2h0M385.5 378.0h0M387.6 393.7h0M383.1 371.8h0M386.3 377.3h0M379.9 383.8h0M388.7 383.9h0M382.7 376.0h0M382.1 374.1h0M378.7 399.7h0M377.6 396.3h0M379.7 390.2h0M389.1 383.5h0M379.7 377.2h0M385.4 379.5h0M385.8 388.7h0M392.7 369.1h0M380.7 365.5h0M382.2 387.5h0M384.4 374.6h0M381.6 390.7h0M381.3 384.6h0M381.1 379.6h0M387.3 380.4h0M381.6 385.1h0M383.3 391.7h0M389.9 389.2h0M381.8 377.2h0M385.3 379.8h0M381.2 393.1h0M382.9 397.7h0M382.2 381.6h0M383.2 377.1h0M384.4 394.7h0M383.3 382.6h0M379.2 383.7h0M378.6 401.3h0M382.8 380.9h0M379.8 384.6h0M383.0 384.9h0M388.6 387.9h0M381.4 378.9h0M375.0 385.8h0M378.3 388.3h0M376.5 378.4h0M384.8 380.9h0M386.6 385.8h0M383.8 381.3h0M381.3 387.5h0M388.4 374.1h0M386.6 384.1h0M388.6 391.6h0M384.8 383.0h0M386.4 378.3h0M383.1 383.1h0M386.5 386.0h0M380.3 379.4h0M377.1 389.2h0M377.2 380.1h0M380.4 374.9h0M391.4 388.6h0M383.6 390.4h0M384.1 397.6h0M378.4 376.9h0M374.9 384.1h0M389.2 380.5h0M387.3 388.3h0M382.3 381.4h0M382.7 389.3h0M386.2 383.1h0M383.4 385.0h0M382.9 385.2h0M381.4 375.7h0M388.0 393.1h0M383.4 391.2h0M389.0 384.7h0M380.6 385.3h0M381.0 386.7h0M387.5 370.5h0M388.4 383.7h0M389.6 371.5h0M381.5 386.0h0M385.5 395.4h0M391.0 385.3h0M379.7 378.0h0M388.2 380.8h0M386.5 383.9h0M381.7 387.9h0M384.4 388.9h0M384.4 378.0h0M386.9 374.1h0M384.9 382.9h0M375.2 388.4h0M394.7 379.3h0M379.2 379.4h0M386.0 399.2h0M385.4 377.2h0M388.7 376.3h0M381.8 383.0h0M389.1 389.4h0M393.7 370.0h0M384.7 386.7h0M382.7 392.3h0M384.3 392.3h0M385.8 387.0h0M386.5 373.7h0M377.4 382.9h0M384.5 368.0h0M380.7 388.8h0M391.2 392.4h0M378.5 378.3h0M380.9 387.2h0M383.0 398.5h0M386.9 384.4h0M378.6 389.8h0M380.0 383.1h0M381.6 389.7h0M383.0 379.6h0M387.8 374.6h0M384.9 383.6h0M389.4 380.2h0M383.8 386.0h0M382.3 379.4h0M381.9 385.0h0M381.0 379.8h0M381.1 376.9h0M382.0 373.1h0M385.5 385.5h0M381.4 392.1h0M385.4 385.6h0M377.3 381.8h0M381.3 375.0h0M381.4 392.9h0M385.7 393.5h0M385.4 376.9h0M384.2 391.2h0M379.3 377.2h0M381.5 379.6h0M378.4 383.5h0M386.5 393.6h0M392.7 377.1h0M384.6 390.4h0M381.0 382.1h0M385.1 377.9h0M385.6 374.3h0M382.2 378.8h0M381.6 392.7h0M378.3 387.9h0M391.6 382.8h0M385.4 376.7h0M382.4 375.5h0M380.8 377.8h0M391.2 387.1h0M383.9 384.6h0M381.9 380.4h0M382.8 380.6h0M387.0 381.1h0M384.1 378.0h0M379.4 382.9h0M395.9 384.4h0M382.7 391.7h0M384.0 373.3h0M379.8 389.3h0M376.0 398.2h0M377.7 392.9h0M383.3 381.6h0M387.7 378.2h0M378.7 382.0h0M382.6 383.0h0M387.5 385.3h0M378.7 379.8h0M374.9 377.8h0M377.9 381.4h0M388.7 392.9h0M379.7 379.8h0M393.3 378.6h0M387.7 379.6h0M386.1 390.1h0M377.4 394.9h0M376.8 397.6h0M386.7 389.8h0M382.1 387.7h0M378.2 381.0h0M380.9 389.4h0M381.2 382.4h0M382.8 390.7h0M393.2 381.2h0M392.0 389.3h0M390.9 375.4h0M384.2 394.5h0M384.5 378.6h0M384.3 382.0h0M381.7 383.8h0M385.4 382.6h0M379.7 400.1h0M376.5 386.4h0M390.6 396.4h0M383.8 385.0h0M376.9 380.0h0M381.1 389.4h0M377.9 379.7h0M387.3 380.5h0M387.8 395.9h0M388.3 377.3h0M384.6 378.0h0M385.7 379.7h0M386.4 389.4h0M386.5 377.3h0M381.1 392.2h0M385.5 378.5h0M383.3 392.0h0M384.5 388.4h0M381.0 388.7h0M385.5 376.0h0M387.1 373.3h0M387.1 377.3h0M374.4 398.2h0M382.6 385.3h0M386.4 382.0h0M373.2 390.3h0M378.0 384.1h0M389.3 376.2h0M381.4 375.5h0M379.7 386.4h0M388.2 381.9h0M383.3 388.8h0M389.8 377.7h0M382.7 398.2h0M381.5 374.8h0M380.9 389.4h0M373.8 376.8h0M379.2 394.2h0M386.2 390.7h0M383.7 389.6h0M391.8 379.1h0M379.0 389.2h0M383.2 388.0h0M383.3 380.1h0M385.3 387.2h0M385.1 384.9h0M379.4 381.2h0M391.8 375.6h0M385.1 385.3h0M384.0 383.8h0M383.9 389.5h0M379.2 393.2h0M388.1 384.3h0M391.8 375.9h0M377.3 393.1h0M387.3 389.9h0M392.5 386.2h0M382.9 383.8h0M393.2 379.1h0" stroke="#ff0000" stroke-width="0.88" stroke-linecap="square" fill="none" opacity="0.6"/>
<path d="M397.7 345.3h0M390.2 367.1h0M422.0 339.9h0M398.1 366.1h0M382.7 373.2h0M406.4 351.3h0M399.8 376.2h0M362.9 372.3h0M395.1 371.1h0M370.3 365.9h0M376.8 385.8h0M369.7 347.1h0M373.3 377.5h0M359.9 345.3h0M379.8 356.3h0M411.4 383.6h0M395.1 368.1h0M369.8 363.1h0" stroke="#f7a0a0" stroke-width="0.88" stroke-linecap="square" fill="none" opacity="0.6"/>
<path d="M363 264.5 C366 261.5 370 260 374.5 260.5 L375 263.5 C371 263 368 264.5 366 266.5 Z" fill="#14145a" stroke="#111" stroke-width="0.8"/>
<path d="M362 330 C366 326 370 323 374.5 323.5 L375 326 C373 328 372 331 371 333 L369 333 C369 331 366 330 362 330 Z" fill="#1a1a6a" stroke="#111" stroke-width="0.8"/>
<path d="M357 397 C362 392 368 389 373 388 L374 392 L357 400 Z" fill="#555" stroke="#222" stroke-width="0.8"/>
<path d="M358 395 C362 392 367 390 372 390" fill="none" stroke="#222" stroke-width="0.8"/>
<line x1="123.2" y1="207.3" x2="123.2" y2="272.9" stroke="#4a4ac4" stroke-width="1.1"/>
<line x1="102.7" y1="255.6" x2="168.8" y2="255.6" stroke="#4a4ac4" stroke-width="1.1"/>
<rect x="103.5" y="264.9" width="10.2" height="7.4" fill="#fff" opacity="0.85"/>
<text x="103.57" y="216.50" font-size="9.4" fill="#1a1a1a" textLength="13.52" lengthAdjust="spacingAndGlyphs">1.7</text>
<text x="157.44" y="216.50" font-size="9.4" fill="#1a1a1a" textLength="10.55" lengthAdjust="spacingAndGlyphs">11</text>
<text x="103.89" y="272.10" font-size="9.4" fill="#1a1a1a" textLength="10.04" lengthAdjust="spacingAndGlyphs">80</text>
<text x="154.72" y="272.10" font-size="9.4" fill="#1a1a1a" textLength="13.25" lengthAdjust="spacingAndGlyphs">6.7</text>
<line x1="373.0" y1="207.3" x2="373.0" y2="272.9" stroke="#4a4ac4" stroke-width="1.1"/>
<line x1="356.5" y1="262.5" x2="422.4" y2="262.5" stroke="#4a4ac4" stroke-width="1.1"/>
<rect x="357.3" y="264.9" width="12.8" height="7.4" fill="#fff" opacity="0.85"/>
<text x="357.72" y="216.50" font-size="9.4" fill="#1a1a1a" textLength="13.10" lengthAdjust="spacingAndGlyphs">0.9</text>
<text x="411.39" y="216.50" font-size="9.4" fill="#1a1a1a" textLength="10.14" lengthAdjust="spacingAndGlyphs">89</text>
<text x="357.72" y="272.10" font-size="9.4" fill="#1a1a1a" textLength="13.15" lengthAdjust="spacingAndGlyphs">0.7</text>
<text x="408.38" y="272.10" font-size="9.4" fill="#1a1a1a" textLength="13.10" lengthAdjust="spacingAndGlyphs">9.3</text>
<line x1="123.2" y1="272.9" x2="123.2" y2="338.6" stroke="#4a4ac4" stroke-width="1.1"/>
<line x1="102.7" y1="321.0" x2="168.8" y2="321.0" stroke="#4a4ac4" stroke-width="1.1"/>
<rect x="103.5" y="330.6" width="10.2" height="7.4" fill="#fff" opacity="0.85"/>
<text x="103.92" y="282.10" font-size="9.4" fill="#1a1a1a" textLength="13.15" lengthAdjust="spacingAndGlyphs">0.2</text>
<text x="157.84" y="282.10" font-size="9.4" fill="#1a1a1a" textLength="10.04" lengthAdjust="spacingAndGlyphs">55</text>
<text x="103.94" y="337.80" font-size="9.4" fill="#1a1a1a" textLength="10.04" lengthAdjust="spacingAndGlyphs">33</text>
<text x="157.44" y="337.80" font-size="9.4" fill="#1a1a1a" textLength="10.55" lengthAdjust="spacingAndGlyphs">11</text>
<line x1="373.0" y1="272.9" x2="373.0" y2="338.6" stroke="#4a4ac4" stroke-width="1.1"/>
<line x1="356.5" y1="326.5" x2="422.4" y2="326.5" stroke="#4a4ac4" stroke-width="1.1"/>
<rect x="357.3" y="330.6" width="12.8" height="7.4" fill="#fff" opacity="0.85"/>
<text x="357.72" y="282.10" font-size="9.4" fill="#1a1a1a" textLength="13.10" lengthAdjust="spacingAndGlyphs">0.1</text>
<text x="411.34" y="282.10" font-size="9.4" fill="#1a1a1a" textLength="10.24" lengthAdjust="spacingAndGlyphs">72</text>
<text x="357.72" y="337.80" font-size="9.4" fill="#1a1a1a" textLength="13.10" lengthAdjust="spacingAndGlyphs">0.9</text>
<text x="411.34" y="337.80" font-size="9.4" fill="#1a1a1a" textLength="10.24" lengthAdjust="spacingAndGlyphs">27</text>
<line x1="123.2" y1="338.6" x2="123.2" y2="404.2" stroke="#4a4ac4" stroke-width="1.1"/>
<line x1="102.7" y1="387.8" x2="168.8" y2="387.8" stroke="#4a4ac4" stroke-width="1.1"/>
<rect x="103.5" y="396.2" width="10.2" height="7.4" fill="#fff" opacity="0.85"/>
<text x="103.93" y="347.80" font-size="9.4" fill="#1a1a1a" textLength="12.95" lengthAdjust="spacingAndGlyphs">0.4</text>
<text x="157.74" y="347.80" font-size="9.4" fill="#1a1a1a" textLength="10.19" lengthAdjust="spacingAndGlyphs">61</text>
<text x="103.94" y="403.40" font-size="9.4" fill="#1a1a1a" textLength="10.09" lengthAdjust="spacingAndGlyphs">31</text>
<text x="154.77" y="403.40" font-size="9.4" fill="#1a1a1a" textLength="13.20" lengthAdjust="spacingAndGlyphs">8.2</text>
<line x1="373.0" y1="338.6" x2="373.0" y2="404.2" stroke="#4a4ac4" stroke-width="1.1"/>
<line x1="356.5" y1="390.0" x2="422.4" y2="390.0" stroke="#4a4ac4" stroke-width="1.1"/>
<rect x="357.3" y="396.2" width="12.8" height="7.4" fill="#fff" opacity="0.85"/>
<text x="357.37" y="347.80" font-size="9.4" fill="#1a1a1a" textLength="13.46" lengthAdjust="spacingAndGlyphs">1.9</text>
<text x="411.35" y="347.80" font-size="9.4" fill="#1a1a1a" textLength="10.09" lengthAdjust="spacingAndGlyphs">60</text>
<text x="357.63" y="403.40" font-size="9.4" fill="#1a1a1a" textLength="13.15" lengthAdjust="spacingAndGlyphs">2.3</text>
<text x="411.44" y="403.40" font-size="9.4" fill="#1a1a1a" textLength="10.04" lengthAdjust="spacingAndGlyphs">36</text>
<path d="M184.3 252.4h0M178.3 250.9h0M178.3 249.5h0M170.4 252.2h0M184.0 249.2h0M182.4 246.8h0M172.2 240.0h0M176.0 246.7h0M176.2 235.1h0M179.5 244.9h0M175.4 247.1h0M179.0 248.9h0M180.4 254.3h0M181.9 252.3h0M170.7 249.6h0M174.0 252.4h0M172.3 242.4h0M177.8 235.9h0M180.3 253.2h0M172.3 239.5h0M173.3 239.9h0M178.4 235.5h0" stroke="#d99" stroke-width="0.88" stroke-linecap="square" fill="none" opacity="0.6"/>
<path d="M169.3 272.4 L169.3 259 C172 256 176 254 179 253.3 C183 252.5 187 253 188 255 C188.5 258 184 261 182.5 264 C181.5 267 182 270 181 272.4 Z" transform="translate(174 268) scale(1.000) translate(-174 -268)" fill="#3a1414" stroke="#111" stroke-width="0.90"/>
<path d="M169.3 272.4 L169.3 259 C172 256 176 254 179 253.3 C183 252.5 187 253 188 255 C188.5 258 184 261 182.5 264 C181.5 267 182 270 181 272.4 Z" transform="translate(174 268) scale(0.840) translate(-174 -268)" fill="#d0b8b8" stroke="#222" stroke-width="1.07"/>
<path d="M169.3 272.4 L169.3 259 C172 256 176 254 179 253.3 C183 252.5 187 253 188 255 C188.5 258 184 261 182.5 264 C181.5 267 182 270 181 272.4 Z" transform="translate(174 268) scale(0.680) translate(-174 -268)" fill="#6a1a1a" stroke="#2a0a0a" stroke-width="1.32"/>
<path d="M169.3 272.4 L169.3 259 C172 256 176 254 179 253.3 C183 252.5 187 253 188 255 C188.5 258 184 261 182.5 264 C181.5 267 182 270 181 272.4 Z" transform="translate(174 268) scale(0.520) translate(-174 -268)" fill="#a82020" stroke="#5a1010" stroke-width="1.73"/>
<path d="M169.3 272.4 L169.3 259 C172 256 176 254 179 253.3 C183 252.5 187 253 188 255 C188.5 258 184 261 182.5 264 C181.5 267 182 270 181 272.4 Z" transform="translate(174 268) scale(0.360) translate(-174 -268)" fill="#d02828" stroke="#8a1010" stroke-width="2.50"/>
<path d="M178.9 300.0h0M175.5 306.5h0M187.4 309.0h0M187.9 307.0h0M182.8 313.3h0M183.2 304.5h0M182.5 316.2h0M181.6 315.5h0M174.2 303.0h0M183.1 306.8h0M177.3 298.2h0M176.2 314.3h0M184.3 303.5h0M183.7 303.2h0M182.9 319.1h0M183.2 305.1h0M186.7 314.7h0M185.2 300.4h0M181.8 312.1h0M178.2 305.0h0M180.2 306.2h0M181.1 315.6h0M184.8 308.3h0M175.3 318.8h0M182.2 315.7h0M182.0 306.4h0M181.4 306.1h0M183.9 308.6h0M176.7 302.2h0M183.2 309.2h0M181.0 306.0h0M188.2 305.0h0M181.4 317.6h0M185.2 307.5h0M183.4 310.7h0M180.8 311.8h0M181.7 300.6h0M186.4 306.4h0M182.7 302.2h0M178.5 306.5h0M181.1 307.2h0M176.5 316.7h0M187.4 299.8h0M183.4 314.1h0M182.8 300.6h0M178.5 312.9h0M177.8 300.8h0M176.5 314.5h0M181.7 308.4h0M180.2 313.2h0M176.1 303.8h0M184.3 311.9h0M177.9 299.8h0M183.5 305.1h0M185.5 318.9h0M175.6 316.4h0M178.5 305.4h0M182.4 310.1h0M180.3 307.4h0M175.2 308.8h0M180.5 315.4h0M184.5 308.6h0M184.3 314.0h0M178.5 311.0h0M183.6 308.7h0M185.0 308.3h0M179.5 301.6h0M176.9 303.7h0M176.2 317.4h0M181.9 305.9h0M186.1 305.8h0M176.4 301.4h0M178.1 319.4h0M179.0 303.1h0M176.6 311.2h0M182.1 304.6h0M178.1 306.9h0M184.3 308.9h0M185.6 313.4h0M183.6 306.7h0M174.0 305.3h0M174.0 305.6h0M177.5 311.6h0M185.5 300.2h0M180.8 304.4h0M174.8 316.6h0M177.9 312.7h0M171.0 318.2h0M182.0 308.2h0M182.2 313.9h0M179.2 315.9h0M180.9 307.1h0M179.1 314.2h0M181.7 306.2h0M170.7 302.6h0M173.0 313.4h0M175.4 303.9h0M184.8 314.1h0M188.3 303.3h0M182.8 314.9h0M171.8 301.0h0M188.3 310.8h0M181.7 306.3h0M176.3 310.2h0M186.7 298.4h0M182.1 303.3h0M183.2 301.1h0M178.6 305.5h0M184.8 309.0h0M176.5 305.6h0M181.1 308.6h0M188.1 315.9h0M177.5 304.0h0M186.2 315.4h0M181.4 307.4h0M181.5 302.4h0M180.0 312.7h0M179.9 309.0h0M185.4 298.1h0M175.0 300.1h0M176.1 306.0h0M183.8 315.3h0M176.0 316.5h0M186.4 319.4h0M185.3 303.5h0M172.6 304.7h0M183.0 310.4h0M180.6 303.1h0M180.9 312.7h0M182.9 312.2h0M180.9 314.8h0M179.4 307.3h0M176.7 318.6h0M182.0 310.7h0M181.9 317.9h0M186.5 305.0h0M184.3 309.9h0M181.4 310.4h0M177.6 311.5h0M180.3 316.8h0M174.1 313.5h0M176.5 319.8h0M183.8 310.9h0M178.0 309.2h0M179.9 308.8h0M180.9 314.7h0M184.4 319.7h0M175.7 308.8h0M179.6 313.3h0M179.9 303.9h0M176.7 304.6h0M184.7 309.4h0M175.6 306.9h0M186.3 314.5h0M176.8 317.8h0M183.0 315.7h0M187.7 314.0h0M185.6 306.4h0M179.4 303.8h0M185.3 305.9h0M178.2 300.7h0M180.9 315.8h0M186.4 313.5h0M186.9 317.1h0M178.1 315.8h0M177.0 302.3h0M183.8 313.9h0M173.6 299.8h0M180.0 307.8h0M183.7 305.3h0M180.4 308.1h0M182.7 305.3h0M179.2 310.1h0M181.7 299.2h0M182.5 304.5h0M182.0 316.2h0M175.5 301.9h0M184.7 314.9h0M175.8 309.6h0M181.4 314.5h0M182.1 317.6h0M179.1 312.9h0M186.3 299.9h0M175.9 308.8h0M174.2 308.1h0M184.3 312.5h0M183.8 305.7h0M185.2 313.7h0M186.9 312.1h0M175.7 304.7h0M182.3 310.1h0M178.5 310.5h0M184.9 311.7h0M175.7 309.9h0M172.9 319.4h0M179.5 309.5h0M182.5 302.0h0M177.7 310.0h0M175.9 307.9h0M177.5 311.9h0M186.5 304.1h0M181.0 305.3h0M179.9 311.6h0M176.9 312.1h0M182.4 308.7h0M181.5 314.6h0M178.1 319.5h0M183.9 309.4h0M179.6 305.2h0M186.8 300.9h0M181.1 308.1h0M184.1 303.6h0M184.9 305.6h0M181.4 312.3h0M178.3 311.5h0M175.2 303.8h0M182.5 313.9h0M180.2 304.3h0M188.3 315.8h0M174.4 303.8h0M184.6 308.9h0M188.1 317.2h0M186.3 309.4h0M182.2 304.5h0M175.7 319.8h0M181.3 306.7h0M186.6 310.7h0M173.4 315.4h0M185.1 310.0h0M178.3 316.6h0M183.6 307.8h0M179.2 314.5h0M187.8 304.7h0M184.1 311.6h0M184.9 304.3h0M181.6 306.5h0M175.9 306.1h0M175.2 310.1h0M179.7 317.5h0M175.0 304.2h0M185.8 319.3h0M177.9 305.9h0M179.3 312.6h0M181.7 313.7h0M178.5 306.7h0M182.4 315.0h0M182.6 319.8h0M178.6 303.3h0M183.3 311.7h0M178.5 302.0h0M187.2 299.6h0M177.4 308.1h0M186.1 302.1h0M182.9 308.5h0M184.9 307.1h0M183.0 298.9h0M173.8 303.9h0M177.2 306.5h0M184.1 315.1h0M188.0 305.8h0" stroke="#e03030" stroke-width="0.88" stroke-linecap="square" fill="none" opacity="0.55"/>
<path d="M181.7 310.9h0M169.7 314.6h0M182.4 299.8h0M174.5 318.0h0M176.7 312.4h0M179.6 310.0h0M169.7 316.4h0M177.8 312.5h0M180.7 305.4h0M176.3 298.1h0M175.2 299.2h0M178.7 305.7h0M174.2 310.8h0M181.5 298.0h0M169.8 310.6h0M173.9 311.2h0M180.3 298.7h0M188.0 301.1h0M182.0 307.5h0M183.7 312.8h0M182.7 308.4h0M172.2 300.7h0M181.9 303.1h0M178.9 309.2h0M185.7 302.6h0M187.4 312.5h0M188.2 312.2h0M170.6 318.5h0M172.1 310.6h0M177.2 303.1h0M187.3 310.4h0M188.3 313.0h0M171.9 310.1h0M182.9 308.4h0M172.5 317.7h0M173.3 316.8h0M176.3 307.4h0M173.0 305.5h0M174.3 317.7h0M176.9 299.1h0M186.6 312.8h0M180.3 308.8h0M169.8 299.5h0M173.4 315.9h0M182.9 309.6h0M172.5 319.3h0M174.2 315.3h0M177.0 298.1h0M178.2 309.8h0M180.6 307.5h0M170.2 318.1h0M186.8 317.4h0M184.4 314.2h0M178.2 303.8h0M177.3 299.6h0M185.1 304.1h0M174.5 309.4h0M182.2 313.3h0M186.7 313.7h0M180.3 317.7h0" stroke="#e87070" stroke-width="0.88" stroke-linecap="square" fill="none" opacity="0.5"/>
<rect x="173" y="299" width="15" height="20" fill="#f0a0a0" filter="url(#b1)" opacity="0.35"/>
<path d="M192.1 319.5h0M191.2 306.2h0M191.2 318.6h0M192.4 312.2h0M191.6 306.1h0M193.8 308.6h0M190.7 309.1h0M188.6 305.6h0M191.4 311.1h0M188.6 307.0h0M192.6 305.7h0M192.3 310.8h0M191.5 315.4h0M190.1 315.9h0M189.8 312.4h0" stroke="#e07070" stroke-width="0.88" stroke-linecap="square" fill="none" opacity="0.5"/>
<path d="M169.3 338.4 L169.3 321 C175 319 183 318 189 318.5 C191 322 192 325 191.5 327.5 C189 329 187 333 186 338.4 Z" transform="translate(175 332) scale(1.000) translate(-175 -332)" fill="#2a1414" stroke="#111" stroke-width="0.90"/>
<path d="M169.3 338.4 L169.3 321 C175 319 183 318 189 318.5 C191 322 192 325 191.5 327.5 C189 329 187 333 186 338.4 Z" transform="translate(175 332) scale(0.840) translate(-175 -332)" fill="#c8b0b0" stroke="#222" stroke-width="1.07"/>
<path d="M169.3 338.4 L169.3 321 C175 319 183 318 189 318.5 C191 322 192 325 191.5 327.5 C189 329 187 333 186 338.4 Z" transform="translate(175 332) scale(0.680) translate(-175 -332)" fill="#5a1a1a" stroke="#2a0a0a" stroke-width="1.32"/>
<path d="M169.3 338.4 L169.3 321 C175 319 183 318 189 318.5 C191 322 192 325 191.5 327.5 C189 329 187 333 186 338.4 Z" transform="translate(175 332) scale(0.520) translate(-175 -332)" fill="#8a2020" stroke="#4a1010" stroke-width="1.73"/>
<path d="M169.3 338.4 L169.3 321 C175 319 183 318 189 318.5 C191 322 192 325 191.5 327.5 C189 329 187 333 186 338.4 Z" transform="translate(175 332) scale(0.360) translate(-175 -332)" fill="#b02828" stroke="#7a1010" stroke-width="2.50"/>
<circle cx="205.5" cy="337.5" r="1.3" fill="#111"/>
<path d="M178.5 369.3h0M179.8 372.7h0M180.4 380.4h0M184.6 368.3h0M177.4 385.5h0M186.3 381.6h0M178.8 374.8h0M184.0 375.2h0M182.2 382.9h0M180.0 376.5h0M181.8 383.5h0M174.5 368.1h0M176.8 366.5h0M188.4 373.1h0M180.0 372.3h0M181.1 377.2h0M181.7 372.9h0M180.9 373.9h0M177.0 385.2h0M187.4 365.1h0M182.9 370.5h0M181.3 368.0h0M184.3 374.0h0M172.2 371.7h0M181.0 371.7h0M181.6 373.1h0M175.9 376.9h0M183.3 364.7h0M182.3 372.6h0M187.2 375.8h0M184.1 379.9h0M185.1 373.2h0M181.2 381.4h0M176.2 375.7h0M182.9 369.5h0M185.0 377.7h0M179.1 373.5h0M178.0 380.9h0M171.0 375.9h0M176.1 377.3h0M184.0 369.7h0M180.0 379.0h0M187.8 377.9h0M183.0 377.8h0M179.7 377.2h0M184.6 377.6h0M176.9 371.3h0M177.9 372.2h0M182.6 374.4h0M173.6 367.3h0M182.6 375.0h0M180.8 379.0h0M179.6 366.6h0M182.6 371.3h0M179.3 367.4h0M186.5 364.4h0M181.2 372.4h0M173.4 367.2h0M177.3 382.3h0M176.4 365.0h0M188.4 369.2h0M186.3 383.3h0M187.4 383.6h0M180.8 376.8h0M176.2 383.7h0M175.7 373.2h0M186.2 369.3h0M172.0 370.9h0M174.5 377.3h0M185.3 373.7h0M170.2 373.3h0M182.0 374.1h0M182.3 377.9h0M178.1 376.7h0M188.2 367.2h0M184.3 376.6h0M180.4 366.1h0M188.2 371.3h0M184.8 374.8h0M170.7 376.3h0M178.8 373.9h0M180.3 369.0h0M176.1 378.7h0M179.9 377.4h0M178.6 380.0h0M172.6 375.4h0M181.7 384.5h0M181.9 380.8h0M177.0 376.8h0M179.5 370.0h0M185.6 381.2h0M179.1 369.6h0M184.5 377.9h0M179.9 368.7h0M178.1 372.4h0M182.8 367.2h0M183.0 384.1h0M186.1 369.4h0M181.4 371.2h0M186.7 378.4h0M187.2 373.7h0M181.5 375.9h0M182.5 380.2h0M182.9 380.2h0M186.2 375.3h0M185.3 375.9h0M180.3 376.1h0M183.6 375.7h0M183.1 369.1h0M187.4 379.1h0M181.1 371.4h0M180.7 367.8h0M181.4 376.4h0M185.4 375.7h0M180.6 378.2h0M186.5 382.4h0M183.7 379.3h0M180.6 373.6h0M186.7 372.6h0M186.1 383.9h0M184.2 378.4h0M178.8 378.9h0M182.3 377.4h0M177.1 376.6h0M182.5 369.8h0M185.8 382.0h0M180.3 382.7h0M169.6 372.5h0M182.6 381.2h0M181.7 377.9h0M186.9 370.8h0M187.4 367.4h0M178.5 372.3h0M177.0 374.6h0M179.6 368.6h0M182.4 364.6h0M183.2 374.2h0M180.8 381.2h0M178.9 381.4h0M179.0 381.5h0M172.9 376.9h0M187.4 364.9h0M180.8 379.9h0M180.0 377.5h0M180.9 384.7h0M181.7 378.6h0M184.6 367.4h0M180.6 375.5h0M183.3 383.1h0M175.8 384.0h0M172.0 381.5h0M184.4 370.5h0M186.4 380.0h0M184.7 372.4h0M176.6 381.1h0M185.2 385.4h0M181.2 375.4h0M182.0 368.4h0M184.1 370.9h0M183.5 376.7h0M175.0 380.9h0M175.4 369.0h0M188.0 367.6h0M179.8 372.9h0M181.2 374.5h0M176.6 376.8h0M183.5 383.4h0M184.7 368.5h0M178.3 378.2h0M176.6 370.1h0M181.3 374.7h0M181.1 385.8h0M175.9 365.9h0M178.1 381.6h0M179.9 380.0h0M179.9 368.4h0M184.6 379.0h0M182.7 375.8h0M187.6 385.3h0M179.2 383.0h0M182.7 375.6h0M179.5 370.4h0M177.3 371.7h0M177.6 373.0h0M179.6 378.6h0M187.0 381.0h0M180.7 373.7h0M179.5 369.7h0M181.3 379.7h0M178.1 376.1h0M183.3 375.8h0M186.6 369.8h0M180.0 375.9h0M177.7 377.2h0M187.6 380.4h0M182.9 380.7h0M177.0 375.1h0M182.0 371.9h0M180.8 374.1h0M179.2 375.1h0M175.5 378.1h0M176.0 369.0h0M186.8 378.7h0M180.2 366.0h0M182.6 375.6h0M180.0 368.9h0M175.6 370.8h0M183.1 376.1h0M175.6 376.2h0M186.8 381.4h0M183.6 376.8h0M177.7 376.0h0M175.4 372.6h0M177.0 372.5h0M187.1 375.0h0M183.5 378.8h0M178.0 385.7h0M179.8 381.0h0M186.1 379.0h0M177.7 384.1h0M179.5 371.3h0M181.2 382.8h0M184.2 383.6h0M178.6 367.5h0M179.9 383.6h0M175.9 371.4h0M184.3 370.6h0M177.0 366.5h0M176.6 379.7h0M185.8 376.8h0M171.7 367.6h0M174.8 366.0h0M175.7 368.8h0M187.4 366.6h0M181.4 377.4h0M176.0 369.6h0M182.9 372.2h0M187.5 382.0h0M185.5 377.7h0M183.8 369.1h0M178.2 378.7h0M182.9 375.9h0M174.5 373.6h0M177.3 370.8h0M178.8 370.9h0M183.0 384.9h0M183.7 380.2h0M178.3 375.1h0M186.4 365.8h0M175.4 373.0h0M176.8 370.3h0M178.4 381.2h0M171.7 371.3h0M182.2 382.9h0M178.2 374.3h0M178.7 383.8h0M171.5 382.4h0M182.9 370.8h0M181.6 377.4h0M179.7 382.0h0M177.2 375.5h0M183.5 375.2h0M177.3 381.3h0M174.1 377.7h0M179.7 376.5h0M181.9 376.6h0M182.4 383.5h0M184.9 375.5h0M180.1 376.1h0M177.9 380.7h0M178.3 364.5h0M174.4 370.7h0M178.8 385.0h0M183.6 381.5h0M179.3 372.6h0M178.1 374.2h0M175.6 377.0h0M178.0 372.0h0M181.1 374.3h0M180.4 376.4h0M182.8 377.4h0M176.9 373.9h0M181.5 382.2h0M187.6 375.4h0M177.2 371.0h0M176.5 379.6h0M180.5 372.2h0M185.7 374.8h0M178.0 364.5h0M183.3 376.7h0M182.1 380.7h0M183.3 384.1h0M182.3 380.2h0M182.9 377.5h0M179.7 376.4h0M187.5 373.1h0M175.3 376.8h0M177.5 377.6h0M182.7 380.2h0M185.5 371.4h0M179.5 379.9h0M178.7 384.6h0M176.2 367.9h0M177.6 385.8h0M183.9 377.4h0M181.3 383.8h0M178.8 381.4h0M181.4 371.1h0M182.4 371.4h0M185.0 371.0h0M183.5 385.1h0M181.9 369.7h0M178.1 373.2h0M179.7 368.1h0M174.0 380.1h0M176.8 382.7h0M182.9 378.1h0M182.7 378.4h0M182.9 368.3h0M177.6 379.9h0M182.6 369.6h0M181.8 379.7h0M178.6 381.3h0M182.0 367.2h0M176.3 369.1h0M176.4 378.7h0M171.0 367.9h0M179.3 368.3h0M181.0 373.4h0M181.1 377.8h0" stroke="#ee1c22" stroke-width="0.88" stroke-linecap="square" fill="none" opacity="0.55"/>
<ellipse cx="181" cy="377" rx="4" ry="7" fill="#ee1c22" filter="url(#b1)" opacity="0.4"/>
<path d="M169.3 404 L169.3 388 C176 386 182 385.5 189 385.5 C190 389 190 393 186 397 C184 399 183 401 184 404 Z" transform="translate(178 395) scale(1.000) translate(-178 -395)" fill="#4a3a3a" stroke="#111" stroke-width="0.90"/>
<path d="M169.3 404 L169.3 388 C176 386 182 385.5 189 385.5 C190 389 190 393 186 397 C184 399 183 401 184 404 Z" transform="translate(178 395) scale(0.867) translate(-178 -395)" fill="#e0d8d8" stroke="#222" stroke-width="1.04"/>
<path d="M169.3 404 L169.3 388 C176 386 182 385.5 189 385.5 C190 389 190 393 186 397 C184 399 183 401 184 404 Z" transform="translate(178 395) scale(0.733) translate(-178 -395)" fill="#6a4a4a" stroke="#111" stroke-width="1.23"/>
<path d="M169.3 404 L169.3 388 C176 386 182 385.5 189 385.5 C190 389 190 393 186 397 C184 399 183 401 184 404 Z" transform="translate(178 395) scale(0.600) translate(-178 -395)" fill="#e8e0e0" stroke="#222" stroke-width="1.50"/>
<path d="M169.3 404 L169.3 388 C176 386 182 385.5 189 385.5 C190 389 190 393 186 397 C184 399 183 401 184 404 Z" transform="translate(178 395) scale(0.467) translate(-178 -395)" fill="#5a3a3a" stroke="#111" stroke-width="1.93"/>
<path d="M169.3 404 L169.3 388 C176 386 182 385.5 189 385.5 C190 389 190 393 186 397 C184 399 183 401 184 404 Z" transform="translate(178 395) scale(0.333) translate(-178 -395)" fill="#fff" stroke="#333" stroke-width="2.70"/>
<path d="M437.2 250.2h0M430.8 252.4h0M429.6 260.8h0M426.5 253.0h0M430.5 248.2h0M424.1 258.2h0M435.3 243.4h0M431.0 253.1h0M434.1 245.8h0M438.2 257.1h0M425.1 263.4h0M431.5 258.0h0M434.3 251.5h0M430.7 242.7h0M436.5 256.5h0M424.0 255.4h0M435.1 246.1h0M437.0 256.8h0M428.3 253.6h0M435.1 260.1h0M436.6 248.3h0M431.8 262.1h0M435.5 245.8h0M425.1 262.1h0M423.0 244.8h0M423.4 255.3h0M423.4 247.9h0M438.2 247.4h0M430.2 249.3h0M435.6 242.5h0M429.9 243.1h0M438.8 262.0h0M437.3 251.7h0M438.4 258.3h0M425.6 251.1h0M431.2 245.2h0M433.0 257.7h0M424.1 254.8h0M435.3 260.9h0M436.4 257.2h0M424.6 256.4h0M433.4 249.8h0M425.9 249.9h0M424.4 256.0h0M431.5 263.0h0M427.3 249.0h0M425.5 261.8h0M430.3 258.9h0M423.2 260.9h0M436.4 253.0h0M426.9 254.6h0M439.1 246.0h0M431.2 262.9h0M435.2 242.4h0M424.9 251.7h0M427.6 247.6h0M432.0 257.4h0M433.2 259.4h0M425.7 246.5h0M424.1 255.3h0M438.5 246.1h0M428.1 253.0h0M425.7 260.5h0M426.7 257.4h0M424.8 263.4h0M429.3 251.9h0M429.6 254.1h0M427.5 253.3h0M432.2 244.5h0M429.6 260.2h0M429.4 254.9h0M422.8 255.5h0M424.0 249.7h0M438.4 252.1h0M427.2 258.6h0M430.2 251.0h0M426.7 247.8h0M424.9 253.0h0M429.7 252.7h0M429.1 254.9h0M427.8 245.7h0M431.5 248.7h0M423.4 254.3h0M430.2 250.3h0M425.6 260.7h0M438.6 245.0h0M435.9 261.7h0M425.9 259.7h0M434.7 252.3h0M433.0 249.8h0M428.8 256.5h0M437.2 248.5h0M425.5 252.6h0M434.1 246.8h0M424.2 243.1h0M427.6 256.4h0M433.7 262.1h0M426.0 245.2h0M433.9 255.1h0M427.7 242.6h0M431.9 253.3h0M430.8 248.5h0M432.1 254.3h0M433.5 244.8h0M430.8 259.5h0M425.0 256.9h0M438.9 243.4h0M426.5 258.2h0M431.8 253.5h0M436.4 248.6h0M432.0 261.7h0M438.9 250.0h0M430.7 244.4h0M431.7 257.0h0M424.8 257.0h0M433.2 255.5h0M429.7 245.0h0M436.0 258.7h0M434.3 256.9h0M425.1 261.2h0M434.2 263.0h0M424.0 261.5h0M429.2 242.7h0M435.1 255.6h0M423.4 248.8h0M431.1 262.5h0M427.6 242.6h0M439.1 245.5h0M436.2 243.3h0M431.2 255.2h0M432.5 263.1h0M427.1 248.2h0M432.0 245.8h0M434.7 257.1h0M429.3 247.9h0M428.2 252.8h0M430.2 243.2h0M425.9 258.8h0M438.6 245.7h0M430.3 251.6h0M429.2 254.1h0M422.8 263.2h0M439.3 254.6h0M433.8 252.4h0M426.4 260.5h0M425.6 242.7h0M438.6 258.3h0M423.8 259.0h0M428.0 256.8h0M425.2 260.8h0M430.1 253.9h0M431.6 243.2h0M430.9 253.5h0M424.4 255.4h0M430.7 259.5h0M426.6 254.0h0M428.8 247.2h0M425.1 251.4h0M425.1 246.6h0M435.8 258.3h0M437.8 259.1h0M429.9 243.3h0M423.9 256.6h0M438.7 260.0h0M428.7 260.3h0M435.7 255.6h0M437.0 246.8h0M433.7 258.6h0M431.4 259.4h0M434.2 247.3h0M433.8 257.9h0M433.4 247.6h0M423.8 251.8h0M435.1 258.2h0M438.1 259.6h0M430.9 248.8h0M431.6 261.0h0M427.7 246.2h0M437.6 262.3h0M434.9 263.0h0M436.2 255.1h0M434.0 253.8h0M437.3 247.7h0M435.8 257.0h0M429.6 242.5h0M424.0 260.9h0M434.5 260.2h0M431.8 249.0h0M429.8 250.4h0M426.9 249.0h0M429.7 245.4h0M425.1 261.4h0M437.2 242.9h0M427.1 253.0h0M429.9 259.1h0M431.0 248.7h0M432.7 257.3h0M433.2 244.1h0M439.2 250.4h0M425.9 249.8h0M424.8 246.3h0M438.2 245.9h0M437.9 259.1h0M426.7 261.5h0M423.9 251.1h0M439.2 248.7h0M436.9 253.8h0M433.7 262.1h0M436.3 247.2h0M434.0 250.2h0M433.1 259.1h0M427.2 247.2h0M425.3 245.1h0M439.2 260.1h0M425.3 244.3h0M424.4 255.8h0M435.5 253.1h0M427.3 247.8h0M426.7 253.7h0M423.5 260.7h0M435.6 250.5h0M438.1 261.2h0M432.1 242.9h0M432.2 248.7h0M436.0 254.3h0M435.9 246.9h0M427.0 247.0h0M428.8 253.5h0M430.4 262.8h0M433.5 255.5h0M427.5 257.9h0M423.3 255.0h0M439.2 244.4h0M437.2 247.8h0M428.4 250.3h0M428.9 262.0h0M430.3 249.8h0M424.1 262.1h0M431.3 263.3h0M426.5 249.1h0M432.0 261.1h0M436.7 259.9h0M423.9 252.5h0M431.3 257.8h0M425.6 251.0h0M434.3 242.2h0M430.3 251.7h0M437.9 263.3h0M435.2 255.0h0M437.4 257.2h0M424.2 253.0h0M423.6 245.9h0M435.4 261.9h0M424.7 257.0h0M435.2 262.7h0M433.8 257.8h0M432.9 262.8h0M424.1 251.0h0M428.6 263.1h0M438.4 248.5h0" stroke="#f06060" stroke-width="0.88" stroke-linecap="square" fill="none" opacity="0.55"/>
<rect x="423.8" y="243" width="14.599999999999966" height="19.5" fill="#f06060" filter="url(#b1)" opacity="0.55"/>
<path d="M442.8 247.6h0M444.1 251.7h0M451.8 249.8h0M445.7 247.4h0M449.7 249.3h0M448.6 246.1h0M443.0 244.3h0M452.8 248.6h0M450.5 250.8h0M442.3 250.6h0M446.1 245.8h0M456.4 245.6h0M444.2 251.5h0M452.4 246.7h0M450.9 243.0h0M444.8 247.3h0M453.2 251.2h0M456.3 250.6h0M454.5 248.7h0M450.5 243.1h0M451.1 250.4h0M446.5 243.2h0M443.3 250.9h0M454.7 244.9h0M442.8 249.2h0M446.8 244.8h0M455.3 243.5h0M450.6 251.6h0M441.6 247.9h0M441.2 248.2h0M441.1 247.5h0M449.8 249.7h0M446.5 243.3h0M455.2 248.4h0M451.3 247.0h0M455.8 247.4h0M443.9 246.7h0M452.2 246.7h0M447.3 245.2h0M444.6 245.6h0M445.8 248.9h0M449.9 242.1h0M445.9 242.0h0M452.1 244.6h0M454.4 248.5h0M451.2 249.9h0M450.0 249.4h0M453.2 242.7h0M451.5 250.4h0M444.2 245.8h0M454.7 251.3h0M443.9 247.0h0M448.2 247.8h0M443.3 245.8h0M454.5 244.4h0M454.6 251.7h0M441.1 251.1h0M444.4 243.2h0M447.9 252.0h0M450.0 244.7h0M449.8 249.1h0M442.7 251.4h0M447.8 243.5h0M451.0 247.1h0M444.7 250.8h0M440.1 244.8h0M450.3 243.5h0M440.2 249.6h0M442.3 243.9h0M446.5 246.3h0M448.0 242.8h0M453.0 242.1h0M450.8 248.2h0M443.7 244.6h0M455.7 249.3h0M444.5 243.1h0M453.0 243.3h0M442.9 249.0h0M449.6 249.0h0M441.4 245.4h0M456.7 249.0h0M446.0 245.2h0M441.4 244.4h0M450.4 244.6h0M451.9 245.3h0M439.9 242.4h0M440.3 248.7h0M454.1 247.5h0M453.1 247.5h0M442.5 244.3h0" stroke="#f06060" stroke-width="0.88" stroke-linecap="square" fill="none" opacity="0.55"/>
<rect x="440.8" y="243" width="15.199999999999989" height="8" fill="#f06060" filter="url(#b1)" opacity="0.3"/>
<ellipse cx="447.5" cy="254" rx="7.5" ry="6.5" transform="rotate(0 447.5 254)" fill="#ff1818" filter="url(#b2)" opacity="0.95"/>
<path d="M444.7 250.2h0M452.2 257.5h0M453.2 252.0h0M453.7 251.3h0M440.3 253.0h0M457.3 253.5h0M452.4 249.6h0M455.6 247.9h0M446.5 256.8h0M443.9 249.0h0M446.7 252.1h0M453.0 252.5h0M446.4 250.4h0M445.4 256.0h0M454.6 257.7h0M441.2 255.4h0M444.8 251.4h0M449.5 259.8h0M450.7 259.2h0M454.9 249.3h0M447.2 256.4h0M444.1 258.9h0M442.0 249.9h0M447.3 253.1h0M444.6 253.7h0M445.1 263.1h0M441.9 252.9h0M451.9 249.9h0M448.0 251.9h0M447.3 257.8h0M441.8 252.8h0M450.5 253.1h0M444.6 249.1h0M445.6 253.4h0M449.4 252.1h0M446.4 253.9h0M453.0 249.1h0M443.8 253.0h0M451.1 260.9h0M444.5 256.4h0M449.6 250.8h0M451.3 260.6h0M454.9 252.9h0M443.4 252.0h0M449.4 254.2h0M451.3 258.0h0M443.4 262.3h0M452.2 253.5h0M448.7 253.9h0M445.1 256.1h0M445.7 245.1h0M442.7 250.8h0M442.6 250.6h0M442.2 260.4h0M443.5 248.4h0M452.9 252.6h0M444.0 251.9h0M441.5 256.6h0M453.2 248.9h0M445.9 256.8h0M440.5 256.1h0M445.7 259.7h0M440.0 258.6h0M447.8 256.5h0M444.7 255.4h0M446.8 259.2h0M443.7 249.8h0M446.3 251.3h0M454.9 249.2h0M452.6 257.4h0M446.8 253.9h0M441.2 254.3h0M444.2 256.3h0M442.5 249.3h0M442.7 259.1h0M448.9 253.6h0M444.7 249.1h0M450.0 256.4h0M455.8 253.8h0M453.1 251.6h0M446.4 254.0h0M447.3 258.1h0M454.7 250.1h0M441.0 259.1h0M442.5 254.8h0M444.2 260.4h0M444.7 248.6h0M453.8 254.2h0M456.7 253.2h0M444.9 259.0h0M441.9 246.5h0M449.8 244.8h0M449.2 255.7h0M448.0 252.1h0M442.1 250.2h0M447.2 247.9h0M449.5 250.0h0M450.7 245.8h0M446.5 253.3h0M448.8 255.3h0M445.7 254.8h0M449.3 254.0h0M453.9 252.1h0M452.4 252.3h0M442.2 252.3h0M449.8 254.5h0M446.5 248.9h0M446.8 257.6h0M445.0 251.2h0M442.5 255.7h0M441.7 259.2h0M445.5 261.3h0M455.7 255.1h0M448.4 249.7h0M452.9 252.7h0M446.0 249.1h0M442.2 252.1h0M441.2 253.2h0M449.1 255.7h0M449.3 247.8h0M448.5 247.7h0M445.7 252.4h0M450.1 247.1h0M442.6 252.2h0M449.6 255.8h0M446.3 251.6h0M443.3 245.6h0M451.7 255.8h0M456.4 261.1h0M442.7 261.6h0M446.8 257.4h0M449.6 257.0h0M449.8 249.7h0M448.6 262.7h0M440.3 252.7h0M441.6 255.2h0M446.0 262.7h0M450.3 245.6h0M445.5 251.6h0M441.9 248.7h0M453.1 259.0h0M445.4 254.3h0M452.6 251.7h0M456.6 251.2h0M452.9 252.6h0M448.7 259.6h0M443.8 253.5h0M443.1 258.7h0M445.9 252.9h0M448.5 251.6h0M440.8 252.6h0M445.4 249.5h0M449.2 255.0h0M447.7 251.9h0M447.1 252.7h0M444.3 255.2h0M443.3 251.3h0M451.0 253.2h0M440.8 256.7h0M444.5 256.5h0M445.5 258.5h0M444.0 257.3h0M451.4 254.4h0M455.0 252.3h0M448.4 257.1h0M447.2 255.8h0M449.3 259.7h0M449.3 261.1h0M448.1 254.9h0M451.6 255.3h0M445.2 256.6h0M443.8 258.0h0M455.9 257.7h0M449.7 248.0h0M441.3 249.8h0M444.3 251.3h0M454.7 252.9h0M450.5 252.0h0M449.3 252.9h0M446.5 262.7h0M457.2 257.8h0M446.5 261.5h0M443.6 247.7h0M449.4 251.6h0M449.9 262.0h0M451.0 251.8h0M455.0 258.4h0M448.0 249.0h0M445.6 256.4h0M443.5 256.7h0M448.7 256.7h0M440.2 247.0h0M446.0 255.3h0M453.0 250.2h0M448.4 251.8h0M447.9 248.4h0M444.4 246.7h0M445.2 257.6h0M441.7 250.0h0M448.9 248.6h0M457.1 256.2h0M448.6 252.0h0M449.7 247.6h0M441.8 249.8h0M447.0 247.2h0M447.4 252.6h0M450.5 254.4h0M448.6 248.0h0M444.5 256.3h0M453.5 251.7h0M448.0 258.9h0M453.9 257.2h0M445.5 250.1h0M444.6 250.2h0M446.7 251.5h0M447.1 253.9h0M450.5 248.0h0M446.7 250.6h0M445.6 251.0h0M443.4 257.7h0M445.5 257.0h0M451.5 251.1h0M456.2 253.1h0M448.6 252.9h0M445.8 261.9h0M452.9 258.0h0M445.8 256.7h0M448.8 255.9h0M443.2 253.2h0M449.5 255.3h0M451.1 254.2h0M453.3 252.1h0M441.9 253.1h0M448.8 247.5h0M451.3 255.1h0M447.5 258.7h0M445.9 252.6h0M447.5 256.9h0M444.3 255.9h0M446.5 248.4h0M454.9 261.6h0M442.0 261.0h0M450.7 258.8h0M444.4 251.6h0M447.5 259.6h0M448.6 248.0h0M451.8 246.9h0M447.7 252.9h0M453.1 253.4h0M443.0 257.6h0M448.5 253.3h0M445.7 259.2h0M447.2 252.2h0M446.9 254.5h0M441.1 247.9h0M452.4 256.1h0M450.2 256.0h0M445.4 261.6h0M444.6 261.9h0M446.9 251.7h0M445.3 256.4h0M444.8 261.7h0M451.1 253.1h0M441.2 256.9h0M448.6 254.9h0M448.0 253.0h0M447.9 253.5h0M445.8 261.1h0M444.9 248.6h0M451.1 260.2h0M445.5 256.8h0M449.7 254.0h0M454.7 251.8h0M450.8 248.5h0M451.5 260.7h0M443.8 260.2h0M456.0 255.0h0M448.2 252.6h0M441.2 260.5h0M456.7 254.4h0M444.0 254.2h0M444.7 249.2h0M446.8 252.4h0M448.3 253.2h0M442.5 254.9h0M446.8 251.2h0M456.7 251.8h0M447.3 255.7h0M445.6 248.9h0M445.9 250.8h0M446.8 254.5h0M453.2 245.3h0M443.7 253.4h0M446.0 255.0h0M440.2 245.4h0M455.0 253.9h0M441.4 254.0h0M450.2 253.9h0M447.0 251.2h0M443.0 258.0h0M449.1 256.7h0M445.9 258.6h0M443.5 253.8h0M442.6 257.3h0M443.5 255.9h0M454.5 250.8h0M443.6 254.1h0M454.4 256.5h0M455.6 258.3h0M454.0 248.1h0M448.6 257.0h0M443.8 248.9h0M444.1 262.0h0M445.1 250.5h0M442.2 257.3h0M450.5 254.9h0M451.0 249.9h0M448.7 257.6h0M449.7 250.3h0M441.8 257.1h0M441.6 249.3h0M451.9 258.7h0M445.7 245.5h0M453.7 254.7h0M441.8 252.2h0M449.7 251.3h0M453.4 256.9h0M446.2 254.0h0M444.2 258.6h0M445.8 256.6h0M450.2 250.0h0M447.8 254.5h0M456.0 251.6h0M445.3 250.9h0M454.3 254.2h0M444.5 255.8h0M444.0 250.1h0M449.5 255.7h0M443.8 249.2h0M446.7 247.4h0M446.5 257.1h0M443.4 254.5h0M442.9 252.1h0M449.8 251.4h0M454.3 254.3h0M452.0 257.4h0M450.8 251.5h0M450.1 256.0h0M447.5 253.6h0M440.9 255.6h0" stroke="#ff0000" stroke-width="0.88" stroke-linecap="square" fill="none" opacity="0.55"/>
<ellipse cx="465.5" cy="245" rx="4.5" ry="9" transform="rotate(0 465.5 245)" fill="#ff1818" filter="url(#b2)" opacity="0.6"/>
<path d="M464.7 255.4h0M464.5 241.2h0M468.1 236.8h0M471.3 242.5h0M464.8 243.5h0M468.2 237.8h0M465.6 247.8h0M463.4 247.3h0M461.0 237.9h0M462.5 252.0h0M461.4 243.3h0M464.8 246.9h0M466.2 248.7h0M465.9 240.0h0M467.5 237.8h0M464.7 242.6h0M462.9 246.9h0M459.6 250.1h0M469.4 234.1h0M467.7 241.4h0M466.2 240.7h0M463.5 248.5h0M465.2 243.1h0M461.1 249.1h0M461.9 252.7h0M468.8 243.3h0M465.4 247.4h0M465.1 250.1h0M467.5 251.9h0M462.5 247.1h0M461.9 242.1h0M466.2 249.5h0M463.6 241.0h0M464.4 244.9h0M470.5 248.7h0M468.2 240.1h0M462.1 241.0h0M465.5 258.0h0M462.2 247.1h0M459.5 246.9h0M465.2 245.7h0M468.3 252.2h0M467.4 241.6h0M461.8 250.2h0M462.5 238.2h0M461.8 246.9h0M458.1 252.8h0M466.5 248.3h0M470.8 249.1h0M460.8 248.3h0M466.0 253.1h0M473.2 252.1h0M461.0 243.3h0M461.6 245.1h0M462.2 253.0h0M463.2 241.5h0M466.9 239.4h0M463.5 244.5h0M467.1 256.4h0M461.1 244.7h0M465.8 252.5h0M467.7 237.4h0M462.0 244.4h0M461.3 239.4h0M460.2 236.4h0M464.3 240.9h0M466.3 244.6h0M466.7 255.2h0M464.4 234.0h0M466.4 245.1h0M465.5 243.9h0M462.5 242.0h0M465.8 245.7h0M470.3 245.5h0M464.5 238.5h0M466.5 245.1h0M465.9 242.5h0M462.0 247.0h0M464.3 241.3h0M462.8 247.0h0M468.4 244.3h0M467.6 245.5h0M471.1 249.5h0M465.7 253.7h0M468.8 249.4h0M464.1 239.9h0M467.3 242.9h0M466.8 246.8h0M471.7 249.3h0M471.3 248.0h0M459.3 240.5h0M464.5 240.2h0M468.0 254.6h0M467.5 239.0h0M469.5 251.3h0M463.3 244.9h0M472.5 246.0h0M469.1 244.5h0M465.3 243.2h0M467.7 243.0h0M467.8 250.9h0M465.6 241.4h0M464.3 242.7h0M463.6 242.9h0M468.6 238.3h0M462.5 250.4h0M466.7 243.7h0M463.5 234.8h0M469.2 240.2h0M462.9 249.1h0M461.2 236.3h0M464.4 250.1h0M468.0 242.5h0M468.8 246.4h0M466.6 242.1h0M464.1 242.1h0M464.4 255.0h0M465.8 244.8h0M460.5 243.6h0M465.3 243.7h0M462.7 235.0h0M464.9 243.8h0M466.7 241.5h0M464.9 239.6h0M462.4 246.5h0M462.3 252.5h0M466.9 240.9h0M466.0 255.4h0M463.6 244.4h0M464.5 234.0h0M466.8 247.3h0M469.5 243.3h0M464.7 250.5h0M463.2 238.0h0M467.3 241.8h0M464.0 247.5h0M462.9 254.7h0M462.3 244.0h0M462.8 244.3h0M464.5 248.2h0M464.5 248.6h0M469.2 241.0h0M468.6 240.2h0M467.8 249.0h0M467.2 239.1h0M464.7 243.1h0M463.6 240.4h0M465.3 246.0h0M463.1 247.0h0M462.6 232.1h0M466.1 258.2h0M468.4 248.0h0M465.9 250.3h0M467.8 235.5h0M462.2 241.8h0M465.4 245.1h0M465.8 239.5h0M468.4 240.0h0M466.5 242.9h0M465.5 239.8h0M464.9 239.3h0M465.0 246.1h0M462.3 250.2h0M466.8 242.3h0M464.1 241.8h0M463.7 251.1h0M463.8 248.5h0M465.0 242.8h0M468.6 246.0h0M468.3 242.0h0M470.5 242.0h0M470.9 247.4h0M463.0 246.5h0M469.4 247.3h0M465.0 249.7h0M462.8 240.8h0M466.1 249.3h0M465.3 246.9h0M471.0 250.3h0M469.1 252.1h0M465.7 253.4h0M466.5 240.9h0M465.6 245.9h0M467.1 252.0h0M465.0 248.5h0M466.0 247.7h0M469.5 245.0h0M465.6 252.6h0M465.1 245.2h0M465.1 251.0h0M464.5 246.3h0M465.4 243.5h0M465.6 232.3h0M461.1 241.9h0M467.5 236.2h0M465.6 246.3h0M464.6 247.5h0M468.2 247.7h0M470.3 241.6h0M467.4 242.8h0" stroke="#ff0000" stroke-width="0.88" stroke-linecap="square" fill="none" opacity="0.55"/>
<ellipse cx="431" cy="258" rx="5" ry="3.5" transform="rotate(0 431 258)" fill="#ff1818" filter="url(#b2)" opacity="0.5"/>
<path d="M433.6 261.7h0M429.9 257.6h0M431.1 256.5h0M430.1 259.4h0M425.3 258.3h0M431.0 259.7h0M427.7 258.6h0M432.9 256.1h0M427.1 257.3h0M432.8 259.4h0M435.6 259.9h0M433.2 258.1h0M425.6 257.9h0M430.5 256.7h0M433.8 257.3h0M430.0 252.6h0M426.1 260.5h0M430.3 256.6h0M432.0 254.3h0M432.0 256.4h0M433.0 256.8h0M425.6 262.9h0M431.0 253.9h0M429.2 257.8h0M425.3 258.9h0M432.2 256.3h0M430.8 260.9h0M431.1 258.4h0M428.7 259.2h0M430.5 261.6h0M429.3 257.0h0M434.9 255.8h0M430.5 258.4h0M425.8 258.2h0M428.0 258.6h0M430.0 256.4h0M435.0 257.0h0M431.2 258.4h0M425.0 256.9h0M429.6 259.4h0M426.2 259.5h0M427.6 255.4h0M431.1 257.0h0M428.4 259.3h0M434.3 259.2h0M432.4 258.2h0M430.3 259.7h0M426.5 260.8h0M427.8 256.7h0M430.1 260.8h0M436.2 258.7h0M429.0 261.3h0M429.9 258.8h0M425.5 256.8h0M433.9 257.9h0M433.0 256.0h0M429.6 258.9h0M428.4 258.5h0M431.6 251.5h0M431.5 260.5h0M427.7 258.1h0M430.2 258.5h0M426.6 258.1h0M431.8 257.6h0M429.8 257.4h0M431.0 257.6h0M430.3 261.8h0M429.4 258.3h0M431.2 262.2h0M429.3 258.5h0M427.3 259.4h0M425.9 258.9h0M428.6 260.3h0M432.9 253.7h0M427.0 256.4h0M430.5 259.4h0M431.4 258.2h0M430.9 254.8h0M424.6 253.3h0M431.5 256.3h0M428.7 257.4h0M431.8 258.2h0M432.2 256.7h0M426.6 260.5h0M431.0 261.1h0M432.1 256.7h0M435.1 260.8h0M437.2 256.0h0M426.3 259.3h0M427.9 260.9h0M432.4 254.8h0M427.8 255.4h0M429.5 258.5h0M433.0 259.7h0M432.8 257.9h0M429.8 255.0h0M432.6 258.9h0M431.9 262.0h0M430.4 262.5h0M438.2 256.5h0" stroke="#ff0000" stroke-width="0.88" stroke-linecap="square" fill="none" opacity="0.55"/>
<path d="M437.0 312.6h0M426.7 315.5h0M438.5 309.4h0M432.5 315.7h0M423.2 306.3h0M427.8 320.7h0M434.2 306.1h0M432.9 321.7h0M425.5 315.2h0M432.1 317.1h0M426.3 319.2h0M431.9 325.3h0M426.3 308.7h0M425.0 318.6h0M429.5 315.9h0M433.8 307.5h0M433.1 306.4h0M434.0 322.9h0M425.5 316.9h0M425.1 319.9h0M429.6 308.1h0M428.3 319.5h0M436.0 310.4h0M433.8 312.4h0M433.2 315.3h0M426.2 307.4h0M423.0 324.6h0M427.0 318.8h0M436.9 312.6h0M435.3 309.1h0M433.6 317.2h0M431.4 321.9h0M424.3 312.6h0M434.4 319.1h0M424.6 312.3h0M423.3 314.9h0M423.4 324.1h0M433.0 322.7h0M424.2 313.1h0M425.3 312.7h0M432.2 322.2h0M438.6 311.6h0M435.7 322.3h0M437.6 309.5h0M435.4 305.4h0M432.3 324.1h0M426.9 311.7h0M432.5 311.6h0M433.5 306.4h0M424.3 305.4h0M426.0 315.9h0M426.6 311.7h0M437.2 319.9h0M437.7 324.2h0M427.7 307.7h0M432.1 321.6h0M425.6 312.2h0M424.1 322.1h0M427.7 313.8h0M434.3 305.1h0M429.9 311.4h0M437.1 305.6h0M433.6 316.1h0M426.7 322.6h0M438.0 311.5h0M438.6 316.6h0M434.1 313.0h0M426.3 304.9h0M433.5 314.0h0M430.2 314.2h0M436.5 308.1h0M436.5 315.0h0M428.7 312.6h0M435.5 316.0h0M429.3 309.4h0M430.3 316.9h0M429.2 312.8h0M431.2 314.6h0M434.3 310.3h0M428.6 309.7h0M424.0 321.2h0M428.7 306.3h0M437.4 309.5h0M425.0 317.9h0M437.6 314.1h0M424.6 320.2h0M428.5 320.8h0M435.8 304.1h0M428.6 321.8h0M435.9 309.7h0M436.7 311.2h0M431.8 315.2h0M426.7 315.3h0M426.5 310.5h0M438.9 312.5h0M434.6 310.9h0M430.9 316.4h0M424.1 318.5h0M430.7 319.9h0M424.2 309.7h0M425.5 310.7h0M437.0 321.6h0M426.7 310.9h0M427.0 323.3h0M423.2 318.8h0M438.3 311.2h0M435.6 311.5h0M428.1 311.2h0M425.7 313.7h0M423.0 322.8h0" stroke="#f06060" stroke-width="0.88" stroke-linecap="square" fill="none" opacity="0.55"/>
<rect x="423.8" y="305" width="14.199999999999989" height="20" fill="#f06060" filter="url(#b1)" opacity="0.25"/>
<path d="M453.5 324.0h0M445.2 316.7h0M440.3 308.8h0M456.9 311.1h0M452.4 323.0h0M444.3 322.4h0M452.1 323.1h0M443.0 316.9h0M456.3 324.1h0M444.9 306.6h0M440.0 310.7h0M446.7 320.6h0M455.4 312.0h0M450.2 315.4h0M455.3 310.8h0M450.5 319.0h0M453.6 321.6h0M453.4 308.4h0M449.2 310.6h0M447.7 307.9h0M454.1 312.0h0M450.1 319.9h0M452.8 317.5h0M441.8 311.9h0M455.0 318.3h0M456.3 314.6h0M450.5 307.5h0M453.8 324.2h0M452.1 307.3h0M442.5 316.6h0M456.7 309.9h0M445.1 321.5h0M448.6 325.5h0M444.5 320.1h0M454.7 314.8h0M453.9 311.5h0M441.5 315.0h0M452.6 322.2h0M455.1 322.4h0M453.4 324.1h0M447.2 321.7h0M452.2 308.3h0M446.2 309.0h0M454.1 325.6h0M443.2 318.1h0M439.8 316.1h0M445.4 318.9h0M446.9 309.3h0M444.6 323.4h0M445.0 324.0h0M444.1 324.5h0M440.7 313.6h0M455.6 310.5h0M454.2 306.2h0M450.1 320.2h0M440.5 323.5h0M455.4 319.2h0M447.9 320.1h0M447.0 313.3h0M440.0 313.7h0M450.3 317.4h0M440.5 313.2h0M449.8 325.9h0M452.9 321.3h0M453.2 325.8h0M454.2 325.7h0M441.8 317.4h0M455.6 317.5h0M446.0 306.9h0M455.7 320.6h0M446.8 323.6h0M447.0 315.6h0M451.7 306.1h0M441.1 315.8h0M445.4 321.5h0M455.2 306.7h0M451.5 323.4h0M444.5 315.5h0M450.2 325.6h0M450.5 315.2h0M451.7 306.8h0M442.7 311.3h0M445.6 311.2h0M453.0 320.3h0M454.9 310.0h0M442.0 324.1h0M456.2 312.3h0M441.8 316.9h0M449.4 312.6h0M456.3 318.4h0M451.8 320.5h0M446.8 308.4h0M440.8 307.3h0M447.5 325.0h0M439.7 317.0h0M449.5 315.9h0M449.3 308.2h0M448.4 306.1h0M451.6 311.8h0M448.8 314.7h0M452.1 317.6h0M443.0 309.2h0M449.8 317.3h0M450.3 322.0h0M454.1 315.5h0M443.5 312.2h0M455.9 307.3h0M455.0 316.0h0M447.3 316.2h0M446.7 318.2h0M445.9 311.0h0M442.9 312.6h0M453.2 315.5h0M441.4 319.7h0M453.5 308.7h0M448.0 319.6h0M439.9 322.5h0M443.9 313.3h0M455.7 308.7h0M445.4 325.1h0" stroke="#f06060" stroke-width="0.88" stroke-linecap="square" fill="none" opacity="0.55"/>
<rect x="440.6" y="307" width="15.399999999999977" height="18" fill="#f06060" filter="url(#b1)" opacity="0.3"/>
<ellipse cx="437" cy="323" rx="6" ry="4.5" transform="rotate(0 437 323)" fill="#ff1818" filter="url(#b2)" opacity="0.9"/>
<path d="M437.9 324.4h0M441.5 321.7h0M429.9 323.0h0M438.7 321.6h0M437.0 322.7h0M441.9 325.9h0M442.8 324.6h0M435.6 323.2h0M429.8 322.0h0M439.8 322.6h0M436.5 323.4h0M438.5 325.3h0M435.7 322.3h0M433.5 325.8h0M441.2 322.4h0M437.0 319.8h0M442.3 319.1h0M438.2 326.0h0M443.1 322.5h0M433.6 320.1h0M443.6 323.7h0M450.1 324.6h0M439.5 320.3h0M433.2 323.5h0M435.1 321.2h0M429.7 322.6h0M439.5 323.9h0M439.3 322.8h0M432.3 323.0h0M436.4 321.9h0M436.1 321.7h0M437.0 325.6h0M430.0 324.3h0M432.9 321.1h0M434.4 320.9h0M443.3 323.0h0M444.1 324.1h0M441.0 322.7h0M439.6 321.9h0M436.2 327.1h0M442.2 327.5h0M440.9 324.6h0M435.5 328.6h0M433.3 322.8h0M435.6 319.4h0M447.9 322.5h0M431.2 323.1h0M434.5 324.6h0M432.8 315.9h0M443.7 325.1h0M436.7 319.5h0M437.2 319.4h0M435.5 317.6h0M437.8 321.5h0M435.2 313.2h0M436.1 326.7h0M437.2 322.5h0M438.3 316.5h0M435.2 325.5h0M434.1 324.4h0M444.5 322.9h0M442.8 324.2h0M445.1 322.5h0M440.6 319.8h0M430.4 320.7h0M440.7 327.0h0M435.1 317.2h0M435.6 317.5h0M438.8 318.5h0M442.8 318.4h0M445.3 324.3h0M434.2 325.2h0M443.5 325.9h0M440.5 324.4h0M441.5 322.7h0M435.9 321.6h0M439.5 324.9h0M431.2 322.6h0M442.7 323.9h0M437.6 321.7h0M432.7 321.6h0M439.4 317.1h0M432.6 322.9h0M438.9 322.1h0M435.9 323.2h0M438.4 327.4h0M440.2 325.5h0M445.4 322.2h0M440.5 322.1h0M430.6 325.5h0M440.4 326.1h0M442.3 326.5h0M445.4 322.5h0M433.5 323.4h0M435.5 317.5h0M445.6 327.6h0M438.6 321.9h0M440.8 324.4h0M431.3 323.6h0M430.5 325.8h0M436.2 318.7h0M437.6 323.1h0M438.3 330.1h0M431.2 322.7h0M440.0 323.5h0M435.3 324.2h0M439.4 322.6h0M437.8 325.2h0M441.6 322.7h0M438.6 325.5h0M444.1 319.1h0M437.7 327.0h0M436.3 324.5h0M440.8 319.4h0M432.5 322.8h0M437.5 320.4h0M441.2 325.4h0M438.2 323.6h0M441.3 323.9h0M436.3 322.9h0M437.6 324.6h0M436.5 321.8h0M444.4 322.8h0M431.6 323.3h0M435.8 320.9h0M433.7 324.2h0M436.7 322.9h0M432.4 322.0h0M435.2 321.4h0M434.2 324.6h0M426.7 319.7h0M439.7 325.1h0M443.2 321.5h0M435.9 322.1h0M438.0 322.9h0M437.7 325.4h0M436.8 321.5h0M437.5 324.6h0M437.3 325.7h0M436.7 322.6h0M433.7 323.4h0M433.8 327.0h0M436.0 322.5h0M440.1 324.7h0M439.0 320.3h0M428.8 317.5h0M431.5 323.3h0M442.5 321.1h0M435.1 323.1h0M440.3 327.6h0M437.7 324.7h0M435.8 326.7h0M434.6 322.3h0M435.4 321.4h0M437.0 321.5h0M432.5 320.7h0M436.3 318.3h0M436.8 328.0h0M430.5 321.2h0M431.7 322.7h0M441.0 321.8h0M436.6 328.7h0M438.3 321.3h0M439.9 323.9h0M430.9 323.5h0M442.1 320.2h0M434.7 325.3h0M435.7 318.3h0M429.8 325.6h0M440.4 320.3h0M439.4 327.5h0M436.6 326.0h0M445.9 323.9h0M435.8 324.2h0M432.7 328.7h0M438.6 329.4h0M436.5 322.2h0M436.9 319.3h0M437.2 319.3h0M433.6 326.7h0M436.3 322.6h0M431.8 324.7h0M435.8 323.9h0M435.0 325.3h0M435.5 321.1h0M441.1 320.6h0M433.1 325.3h0M436.9 321.8h0M440.5 323.7h0M435.5 320.7h0M439.9 324.8h0M438.6 320.9h0M432.8 320.7h0M440.0 319.7h0M431.4 322.7h0M438.9 323.9h0M435.4 321.5h0M437.8 328.4h0M433.7 321.9h0M442.5 321.8h0M438.0 325.9h0M442.0 323.8h0M440.1 319.5h0M438.0 317.4h0M439.5 322.4h0M440.7 324.2h0M439.0 321.2h0M434.6 322.3h0M438.0 324.2h0M442.3 327.1h0M435.6 317.6h0M441.5 320.1h0M444.2 326.5h0M438.4 325.8h0M435.7 320.0h0M437.1 325.8h0M439.8 318.5h0M441.0 323.4h0M438.2 324.4h0M435.9 326.3h0M434.4 321.2h0M436.5 319.0h0M438.3 328.0h0M437.5 318.5h0M432.2 316.7h0M438.7 323.5h0M433.4 324.6h0M434.3 321.2h0M438.5 322.4h0M437.3 321.2h0M436.2 327.2h0M439.7 319.6h0M435.1 325.2h0M444.4 324.3h0M437.2 321.2h0M438.7 317.6h0M442.2 325.0h0M436.0 323.7h0M440.5 322.6h0M438.7 322.5h0M435.3 321.8h0M438.0 324.3h0M433.8 326.4h0M441.4 323.5h0M440.2 321.3h0M439.2 321.3h0M437.3 322.3h0M442.3 321.7h0M437.6 319.6h0M433.3 320.8h0" stroke="#ff0000" stroke-width="0.88" stroke-linecap="square" fill="none" opacity="0.55"/>
<ellipse cx="465.5" cy="307.5" rx="4.2" ry="8" transform="rotate(0 465.5 307.5)" fill="#ff1818" filter="url(#b2)" opacity="0.55"/>
<path d="M463.4 302.9h0M465.0 312.2h0M463.6 305.7h0M461.3 304.6h0M466.1 300.9h0M468.3 305.5h0M466.7 299.6h0M467.1 316.1h0M464.0 309.2h0M467.4 305.3h0M463.5 302.3h0M470.3 318.0h0M464.8 308.0h0M462.0 308.4h0M468.1 306.3h0M469.1 310.9h0M471.1 303.0h0M467.8 315.1h0M464.2 307.0h0M464.7 312.8h0M464.1 313.2h0M466.0 312.8h0M465.2 302.4h0M464.2 316.5h0M464.7 303.7h0M465.2 308.9h0M467.6 311.4h0M464.2 309.5h0M459.8 304.2h0M462.8 312.0h0M459.5 303.0h0M461.8 308.2h0M464.8 301.8h0M469.2 301.3h0M466.2 306.4h0M470.6 307.6h0M464.5 306.4h0M468.3 298.8h0M467.2 309.9h0M460.5 309.7h0M467.0 303.6h0M469.9 317.4h0M469.0 310.5h0M466.6 300.1h0M471.5 306.7h0M467.4 311.5h0M469.1 310.3h0M465.7 314.6h0M464.0 299.8h0M467.5 309.0h0M464.9 308.4h0M464.6 313.4h0M462.7 305.7h0M466.4 308.9h0M469.6 312.4h0M466.3 300.8h0M466.0 309.4h0M462.7 312.8h0M468.5 317.2h0M464.7 306.2h0M463.8 304.8h0M465.6 297.6h0M463.9 309.7h0M463.0 303.9h0M472.2 305.6h0M462.2 306.7h0M464.8 307.6h0M461.9 308.0h0M463.8 304.1h0M465.5 308.4h0M463.7 309.5h0M467.1 303.6h0M466.0 299.6h0M469.9 306.9h0M466.0 315.5h0M470.2 310.4h0M465.6 314.1h0M467.0 306.4h0M460.8 306.8h0M468.1 316.0h0M464.7 306.2h0M465.0 306.9h0M466.0 311.6h0M467.0 311.4h0M467.8 306.3h0M464.2 306.4h0M465.2 307.9h0M466.7 303.9h0M462.5 312.8h0M463.2 301.8h0M459.5 314.3h0M461.2 302.3h0M462.9 312.3h0M462.0 309.1h0M468.9 316.0h0M464.1 314.0h0M467.6 311.3h0M463.7 304.3h0M466.1 315.7h0M464.4 309.1h0M468.2 301.5h0M463.4 308.7h0M468.8 299.7h0M462.0 296.9h0M467.4 314.3h0M469.4 300.2h0M466.7 298.8h0M466.0 311.3h0M468.3 305.3h0M464.7 298.6h0M465.5 318.5h0M466.8 307.4h0M464.5 310.2h0M465.2 314.9h0M469.9 313.0h0M464.1 305.6h0M467.7 306.2h0M470.6 304.2h0M467.5 313.0h0M462.6 304.3h0M462.2 297.3h0M470.1 310.3h0M467.8 308.0h0M465.4 305.6h0M462.5 310.6h0M459.0 310.2h0M466.4 312.2h0M462.6 310.2h0M465.8 311.5h0M466.2 307.0h0M464.0 307.4h0M462.5 302.5h0M461.9 310.0h0M460.0 313.8h0M462.9 313.2h0M464.8 305.2h0M465.2 308.6h0M463.7 302.6h0M467.7 315.3h0M467.4 302.0h0M470.3 309.2h0M464.6 314.7h0M466.2 314.9h0M462.1 301.7h0M469.5 314.6h0M468.3 310.7h0M467.1 303.8h0M468.7 308.9h0M464.2 308.4h0M466.3 307.3h0M468.5 313.8h0M464.8 307.5h0M468.4 304.1h0M461.0 304.2h0M465.5 297.9h0M465.3 309.4h0M464.6 306.4h0M466.1 308.6h0M465.3 310.7h0M461.9 309.5h0M465.3 304.4h0M464.3 304.5h0M463.6 308.9h0M465.6 313.5h0M466.6 310.1h0M466.7 304.7h0M464.0 316.3h0M468.2 301.8h0M466.7 301.1h0M468.2 300.2h0M467.5 308.2h0M464.5 297.8h0M464.3 311.7h0M465.1 312.4h0M466.1 303.4h0M465.7 314.7h0M468.0 313.4h0M466.3 319.9h0M470.5 301.7h0M463.1 305.0h0" stroke="#ff0000" stroke-width="0.88" stroke-linecap="square" fill="none" opacity="0.55"/>
<ellipse cx="431" cy="380" rx="6.5" ry="9" transform="rotate(0 431 380)" fill="#ff1818" filter="url(#b2)" opacity="0.95"/>
<path d="M432.6 380.2h0M429.1 379.2h0M439.4 374.9h0M429.2 381.2h0M433.9 383.7h0M428.2 368.8h0M436.3 382.2h0M427.9 380.6h0M433.1 381.8h0M432.6 385.4h0M426.6 372.6h0M430.5 379.0h0M432.1 379.7h0M432.9 370.7h0M431.8 386.8h0M426.6 373.6h0M428.1 368.4h0M423.9 382.0h0M429.5 371.4h0M434.8 367.5h0M430.2 385.0h0M427.6 388.8h0M431.2 377.1h0M439.3 370.6h0M435.8 373.6h0M428.5 384.5h0M429.9 384.3h0M429.6 372.9h0M433.7 390.1h0M436.2 380.8h0M424.7 384.5h0M426.0 385.6h0M433.0 372.4h0M429.0 382.6h0M423.7 383.4h0M430.7 384.9h0M431.1 381.8h0M435.8 387.3h0M431.9 380.1h0M434.3 373.8h0M435.5 371.7h0M428.8 380.8h0M434.5 375.6h0M429.4 380.2h0M430.7 374.4h0M430.3 386.1h0M431.3 369.1h0M436.5 382.9h0M434.6 381.4h0M436.5 374.7h0M425.8 384.0h0M427.6 367.2h0M431.8 378.7h0M426.9 378.2h0M438.5 380.9h0M434.9 372.2h0M429.3 384.1h0M429.6 388.1h0M433.0 378.9h0M430.6 373.4h0M431.3 375.3h0M429.9 367.8h0M430.2 373.7h0M428.5 380.6h0M435.1 380.6h0M434.4 382.6h0M425.0 382.4h0M425.2 379.7h0M437.2 378.2h0M435.4 372.5h0M435.3 386.1h0M432.7 374.6h0M428.7 375.3h0M431.1 377.0h0M437.1 373.9h0M438.7 382.4h0M429.1 379.0h0M431.9 377.0h0M428.1 389.5h0M433.7 379.8h0M432.8 386.4h0M429.5 375.3h0M424.9 383.9h0M430.1 384.8h0M430.0 380.5h0M429.6 379.1h0M427.9 382.2h0M426.0 381.9h0M426.6 376.1h0M432.1 383.8h0M432.1 380.8h0M430.7 377.9h0M427.8 377.0h0M429.2 373.7h0M431.9 391.0h0M430.3 384.1h0M430.6 385.4h0M433.1 388.4h0M426.0 373.5h0M433.2 376.2h0M438.0 383.1h0M433.0 368.2h0M424.9 382.5h0M431.1 386.2h0M428.6 386.8h0M433.1 384.9h0M436.6 371.9h0M438.8 379.1h0M436.7 374.3h0M434.2 372.0h0M434.7 379.2h0M432.1 379.0h0M431.6 376.1h0M438.4 379.6h0M427.4 374.8h0M433.3 383.4h0M436.7 385.0h0M429.3 391.2h0M428.5 367.1h0M436.6 390.4h0M435.3 382.6h0M433.7 378.6h0M431.5 379.6h0M432.1 384.2h0M438.2 376.0h0M432.9 377.7h0M428.6 382.1h0M432.3 381.6h0M429.6 390.7h0M425.4 381.0h0M430.3 384.4h0M434.7 379.8h0M429.1 381.1h0M438.4 382.6h0M423.9 379.8h0M427.4 381.8h0M433.1 378.9h0M433.4 384.8h0M432.1 380.8h0M425.7 375.3h0M433.7 379.7h0M425.8 385.5h0M432.0 384.0h0M428.5 378.4h0M430.6 389.6h0M431.1 380.7h0M433.4 373.3h0M439.2 389.5h0M430.3 375.7h0M436.9 375.3h0M428.3 372.4h0M429.5 381.0h0M432.1 370.4h0M439.4 389.9h0M438.5 374.2h0M427.1 383.3h0M438.7 380.6h0M432.2 380.1h0M429.8 381.6h0M436.5 378.2h0M431.4 384.1h0M437.0 376.0h0M427.7 375.6h0M433.9 387.5h0M428.7 375.1h0M425.0 382.5h0M427.2 384.1h0M434.8 379.7h0M437.0 379.6h0M434.6 378.5h0M429.0 383.7h0M425.5 378.1h0M425.8 377.2h0M432.7 381.2h0M426.6 381.0h0M425.0 384.8h0M438.4 381.8h0M428.6 391.6h0M426.7 378.1h0M428.8 381.9h0M434.7 382.1h0M428.0 370.7h0M432.4 384.1h0M433.6 379.7h0M433.8 373.8h0M426.3 379.4h0M432.6 376.7h0M427.8 388.8h0M433.0 372.1h0M436.9 386.5h0M435.8 387.2h0M431.6 370.3h0M427.4 370.3h0M436.9 373.4h0M438.4 383.4h0M430.9 387.9h0M425.7 376.8h0M433.4 383.2h0M428.0 387.6h0M436.3 383.8h0M432.1 373.4h0M435.7 372.1h0M429.7 378.7h0M434.0 385.3h0M438.0 374.8h0M431.2 390.0h0M430.7 373.1h0M438.8 379.7h0M427.4 376.0h0M430.8 381.6h0M428.2 379.5h0M436.2 380.1h0M432.3 379.8h0M423.8 377.4h0M432.9 383.6h0M429.6 379.5h0M438.3 377.5h0M433.4 377.7h0M429.7 387.6h0M432.1 371.8h0M426.8 378.3h0M429.2 369.1h0M431.2 380.7h0M436.9 371.5h0M425.8 386.2h0M433.4 376.3h0M425.3 377.7h0M425.9 390.5h0M432.7 379.9h0M427.7 385.5h0M438.5 375.1h0M434.9 378.9h0M434.3 385.2h0M434.9 381.5h0M427.8 390.7h0M432.9 386.6h0M426.4 383.6h0M437.1 375.9h0M433.1 380.9h0M433.0 384.8h0M431.8 385.1h0M428.0 378.8h0M428.3 378.2h0M435.0 381.4h0M430.9 380.4h0M426.2 378.1h0M435.7 374.3h0M438.8 381.2h0M423.1 385.2h0M428.6 375.3h0M432.0 382.2h0M424.8 378.2h0M423.6 379.7h0M425.0 376.3h0M435.6 371.6h0M428.4 389.6h0M434.9 372.0h0M435.1 382.5h0M426.6 375.1h0M428.2 378.3h0M431.0 380.1h0M424.9 386.2h0M438.6 382.6h0M427.5 380.3h0M429.1 374.8h0M436.4 381.6h0M437.2 378.0h0M435.6 382.0h0M434.8 387.5h0M429.5 379.3h0M431.2 388.6h0M437.0 368.7h0M434.7 380.3h0M433.1 378.7h0M428.4 389.1h0M428.7 388.4h0M435.1 369.5h0M427.5 389.4h0M435.8 391.8h0M429.9 380.8h0M434.1 386.3h0M428.7 376.8h0M426.7 373.4h0M432.4 384.5h0M423.1 378.1h0M432.7 375.5h0M429.9 378.5h0M432.3 386.1h0M432.9 383.6h0M429.9 384.2h0M430.7 372.3h0M429.9 383.4h0M435.1 378.9h0M435.1 369.8h0M424.3 386.5h0M424.6 384.5h0M427.3 391.0h0M438.0 372.4h0M426.6 375.4h0M430.1 386.0h0M423.6 381.2h0M427.9 372.1h0M431.1 383.3h0M432.3 376.4h0M431.3 375.0h0M426.4 387.0h0M428.9 374.3h0M424.8 369.5h0M432.9 386.8h0M426.4 379.8h0M435.4 382.2h0M433.7 391.2h0M427.3 378.2h0M433.8 390.2h0M431.2 375.0h0M432.4 378.7h0M425.2 376.9h0M428.6 369.8h0M426.1 378.7h0M425.0 369.3h0M427.3 386.1h0M428.7 374.1h0M428.9 375.5h0M438.3 366.2h0M430.2 377.9h0M430.2 382.5h0M430.6 369.0h0M428.3 381.2h0M429.5 384.4h0M427.5 368.3h0M428.7 374.0h0M423.6 384.6h0M426.7 379.5h0M437.8 383.5h0M429.2 382.4h0M433.1 390.7h0M432.9 383.3h0M433.1 378.1h0M431.8 377.3h0M428.8 386.2h0M427.0 377.9h0M440.3 379.8h0M433.2 368.7h0M426.9 378.1h0M432.1 367.7h0M433.2 379.3h0M440.7 379.4h0M428.9 377.0h0M432.6 378.8h0M430.3 379.0h0M430.8 391.3h0M428.4 377.0h0M428.4 383.1h0M436.8 376.4h0M439.7 379.4h0M435.2 373.4h0M436.4 378.1h0M431.0 377.2h0M427.1 384.2h0M430.0 382.5h0M431.4 388.1h0M431.7 381.3h0M439.8 383.3h0M425.1 376.2h0M431.5 383.3h0M427.6 379.8h0M437.2 382.2h0M426.8 391.7h0M432.5 371.6h0M431.2 370.0h0M426.0 387.3h0M429.9 374.1h0M427.8 378.2h0M431.2 391.0h0M432.4 369.2h0M437.8 375.1h0M436.0 378.9h0M432.3 386.8h0M426.5 376.1h0M427.8 382.6h0" stroke="#ff0000" stroke-width="0.88" stroke-linecap="square" fill="none" opacity="0.55"/>
<path d="M452.3 373.3h0M450.1 379.8h0M440.4 388.1h0M451.6 389.5h0M456.6 388.6h0M454.7 384.0h0M442.7 372.3h0M445.0 369.8h0M451.9 385.5h0M447.2 374.5h0M456.8 376.7h0M451.6 380.7h0M443.0 387.3h0M450.9 381.1h0M444.5 379.6h0M450.9 369.4h0M444.8 368.9h0M447.6 381.0h0M441.3 382.4h0M445.6 374.4h0M451.9 368.8h0M442.0 378.9h0M454.2 379.4h0M444.7 375.3h0M456.9 382.0h0M440.7 382.3h0M456.0 370.8h0M445.8 369.3h0M440.4 379.0h0M452.4 377.6h0M450.0 384.8h0M442.8 385.5h0M455.5 373.8h0M452.7 378.4h0M443.1 385.3h0M448.6 371.5h0M451.1 385.2h0M447.6 377.7h0M444.3 369.7h0M453.4 371.6h0M450.5 372.1h0M456.0 371.8h0M445.1 369.2h0M446.1 377.5h0M454.5 369.0h0M455.3 375.2h0M453.5 376.9h0M454.0 376.5h0M455.7 369.9h0M448.4 387.9h0M449.2 375.6h0M454.5 375.1h0M444.3 374.8h0M455.2 373.9h0M454.3 387.7h0M449.9 381.0h0M444.4 380.7h0M453.8 375.7h0M446.0 368.6h0M440.7 389.5h0M446.1 368.6h0M439.8 377.0h0M452.1 371.0h0M454.8 374.1h0M455.6 372.7h0M447.2 375.2h0M440.2 372.1h0M447.7 375.4h0M442.3 371.5h0M449.5 386.1h0" stroke="#f06060" stroke-width="0.88" stroke-linecap="square" fill="none" opacity="0.55"/>
<rect x="440.6" y="369" width="15.599999999999966" height="20" fill="#f06060" filter="url(#b1)" opacity="0.18"/>
<path d="M468.9 383.2h0M471.1 381.9h0M465.1 376.2h0M459.7 372.7h0M470.9 365.3h0M470.3 377.3h0M459.3 361.6h0M463.7 364.5h0M460.3 373.5h0M469.4 382.9h0M472.4 375.0h0M471.8 366.3h0M471.1 361.0h0M472.7 360.3h0M473.3 380.3h0M471.7 383.8h0M468.2 379.3h0M466.1 378.6h0M469.3 361.0h0M472.5 378.4h0M468.2 380.2h0M459.6 366.2h0M462.7 358.6h0M462.4 360.4h0M468.8 360.3h0" stroke="#f08080" stroke-width="0.88" stroke-linecap="square" fill="none" opacity="0.5"/>
<path d="M422.8 272.4 L422.8 263 Q431.05 260 439.3 263.5 Q439.8 267.84 437.3 272.4 Z" transform="translate(430.225 267.84) scale(1.000) translate(-430.225 -267.84)" fill="#4a3030" stroke="#111" stroke-width="0.90"/>
<path d="M422.8 272.4 L422.8 263 Q431.05 260 439.3 263.5 Q439.8 267.84 437.3 272.4 Z" transform="translate(430.225 267.84) scale(0.867) translate(-430.225 -267.84)" fill="#c8b0a8" stroke="#222" stroke-width="1.04"/>
<path d="M422.8 272.4 L422.8 263 Q431.05 260 439.3 263.5 Q439.8 267.84 437.3 272.4 Z" transform="translate(430.225 267.84) scale(0.733) translate(-430.225 -267.84)" fill="#2a1a1a" stroke="#111" stroke-width="1.23"/>
<path d="M422.8 272.4 L422.8 263 Q431.05 260 439.3 263.5 Q439.8 267.84 437.3 272.4 Z" transform="translate(430.225 267.84) scale(0.600) translate(-430.225 -267.84)" fill="#b8a090" stroke="#222" stroke-width="1.50"/>
<path d="M422.8 272.4 L422.8 263 Q431.05 260 439.3 263.5 Q439.8 267.84 437.3 272.4 Z" transform="translate(430.225 267.84) scale(0.467) translate(-430.225 -267.84)" fill="#1a1010" stroke="#111" stroke-width="1.93"/>
<path d="M422.8 272.4 L422.8 263 Q431.05 260 439.3 263.5 Q439.8 267.84 437.3 272.4 Z" transform="translate(430.225 267.84) scale(0.333) translate(-430.225 -267.84)" fill="#e0d0c0" stroke="#333" stroke-width="2.70"/>
<path d="M422.8 338.4 L422.8 326.5 Q432.8 323.5 442.8 327.0 Q443.3 332.84 440.8 338.4 Z" transform="translate(431.8 332.84) scale(1.000) translate(-431.8 -332.84)" fill="#4a3030" stroke="#111" stroke-width="0.90"/>
<path d="M422.8 338.4 L422.8 326.5 Q432.8 323.5 442.8 327.0 Q443.3 332.84 440.8 338.4 Z" transform="translate(431.8 332.84) scale(0.867) translate(-431.8 -332.84)" fill="#c8b0a8" stroke="#222" stroke-width="1.04"/>
<path d="M422.8 338.4 L422.8 326.5 Q432.8 323.5 442.8 327.0 Q443.3 332.84 440.8 338.4 Z" transform="translate(431.8 332.84) scale(0.733) translate(-431.8 -332.84)" fill="#2a1a1a" stroke="#111" stroke-width="1.23"/>
<path d="M422.8 338.4 L422.8 326.5 Q432.8 323.5 442.8 327.0 Q443.3 332.84 440.8 338.4 Z" transform="translate(431.8 332.84) scale(0.600) translate(-431.8 -332.84)" fill="#b8a090" stroke="#222" stroke-width="1.50"/>
<path d="M422.8 338.4 L422.8 326.5 Q432.8 323.5 442.8 327.0 Q443.3 332.84 440.8 338.4 Z" transform="translate(431.8 332.84) scale(0.467) translate(-431.8 -332.84)" fill="#1a1010" stroke="#111" stroke-width="1.93"/>
<path d="M422.8 338.4 L422.8 326.5 Q432.8 323.5 442.8 327.0 Q443.3 332.84 440.8 338.4 Z" transform="translate(431.8 332.84) scale(0.333) translate(-431.8 -332.84)" fill="#e0d0c0" stroke="#333" stroke-width="2.70"/>
<path d="M422.8 404.0 L422.8 390.5 Q432.3 387.5 441.8 391.0 Q442.3 397.8 439.8 404.0 Z" transform="translate(431.35 397.8) scale(1.000) translate(-431.35 -397.8)" fill="#4a3030" stroke="#111" stroke-width="0.90"/>
<path d="M422.8 404.0 L422.8 390.5 Q432.3 387.5 441.8 391.0 Q442.3 397.8 439.8 404.0 Z" transform="translate(431.35 397.8) scale(0.867) translate(-431.35 -397.8)" fill="#c8b0a8" stroke="#222" stroke-width="1.04"/>
<path d="M422.8 404.0 L422.8 390.5 Q432.3 387.5 441.8 391.0 Q442.3 397.8 439.8 404.0 Z" transform="translate(431.35 397.8) scale(0.733) translate(-431.35 -397.8)" fill="#2a1a1a" stroke="#111" stroke-width="1.23"/>
<path d="M422.8 404.0 L422.8 390.5 Q432.3 387.5 441.8 391.0 Q442.3 397.8 439.8 404.0 Z" transform="translate(431.35 397.8) scale(0.600) translate(-431.35 -397.8)" fill="#b8a090" stroke="#222" stroke-width="1.50"/>
<path d="M422.8 404.0 L422.8 390.5 Q432.3 387.5 441.8 391.0 Q442.3 397.8 439.8 404.0 Z" transform="translate(431.35 397.8) scale(0.467) translate(-431.35 -397.8)" fill="#1a1010" stroke="#111" stroke-width="1.93"/>
<path d="M422.8 404.0 L422.8 390.5 Q432.3 387.5 441.8 391.0 Q442.3 397.8 439.8 404.0 Z" transform="translate(431.35 397.8) scale(0.333) translate(-431.35 -397.8)" fill="#e0d0c0" stroke="#333" stroke-width="2.70"/>
<rect x="169.00" y="233.50" width="16.40" height="22.70" stroke="#4a4ac4" stroke-width="1.05" fill="none"/>
<rect x="185.40" y="233.50" width="18.00" height="22.70" stroke="#4a4ac4" stroke-width="1.05" fill="none"/>
<rect x="203.80" y="223.40" width="16.20" height="27.70" stroke="#4a4ac4" stroke-width="1.05" fill="none"/>
<text x="171.79" y="230.50" font-size="9.4" fill="#1a1a1a" textLength="10.55" lengthAdjust="spacingAndGlyphs">11</text>
<text x="187.87" y="230.50" font-size="9.4" fill="#1a1a1a" textLength="13.10" lengthAdjust="spacingAndGlyphs">0.9</text>
<text x="205.38" y="221.00" font-size="9.4" fill="#1a1a1a" textLength="12.95" lengthAdjust="spacingAndGlyphs">0.4</text>
<rect x="169.00" y="297.40" width="19.70" height="23.10" stroke="#4a4ac4" stroke-width="1.05" fill="none"/>
<rect x="188.70" y="297.40" width="17.80" height="23.10" stroke="#4a4ac4" stroke-width="1.05" fill="none"/>
<rect x="207.00" y="287.70" width="15.80" height="27.80" stroke="#4a4ac4" stroke-width="1.05" fill="none"/>
<text x="174.02" y="294.40" font-size="9.4" fill="#1a1a1a" textLength="9.85" lengthAdjust="spacingAndGlyphs">46</text>
<text x="191.07" y="294.40" font-size="9.4" fill="#1a1a1a" textLength="13.15" lengthAdjust="spacingAndGlyphs">0.7</text>
<text x="212.22" y="285.30" font-size="9.4" fill="#1a1a1a" textLength="5.33" lengthAdjust="spacingAndGlyphs">0</text>
<rect x="169.00" y="363.20" width="19.70" height="23.00" stroke="#4a4ac4" stroke-width="1.05" fill="none"/>
<rect x="188.70" y="363.20" width="17.80" height="23.00" stroke="#4a4ac4" stroke-width="1.05" fill="none"/>
<rect x="207.00" y="353.50" width="15.80" height="27.70" stroke="#4a4ac4" stroke-width="1.05" fill="none"/>
<text x="173.84" y="360.20" font-size="9.4" fill="#1a1a1a" textLength="9.95" lengthAdjust="spacingAndGlyphs">54</text>
<text x="190.72" y="360.20" font-size="9.4" fill="#1a1a1a" textLength="13.46" lengthAdjust="spacingAndGlyphs">1.9</text>
<text x="208.37" y="351.10" font-size="9.4" fill="#1a1a1a" textLength="13.10" lengthAdjust="spacingAndGlyphs">0.1</text>
<rect x="422.40" y="241.00" width="17.20" height="22.80" stroke="#4a4ac4" stroke-width="1.05" fill="none"/>
<rect x="439.60" y="241.00" width="17.70" height="22.80" stroke="#4a4ac4" stroke-width="1.05" fill="none"/>
<rect x="457.80" y="231.50" width="15.70" height="27.00" stroke="#4a4ac4" stroke-width="1.05" fill="none"/>
<text x="425.89" y="238.00" font-size="9.4" fill="#1a1a1a" textLength="10.19" lengthAdjust="spacingAndGlyphs">21</text>
<text x="443.44" y="238.00" font-size="9.4" fill="#1a1a1a" textLength="10.04" lengthAdjust="spacingAndGlyphs">58</text>
<text x="460.24" y="229.10" font-size="9.4" fill="#1a1a1a" textLength="10.55" lengthAdjust="spacingAndGlyphs">11</text>
<rect x="422.40" y="303.50" width="16.90" height="22.70" stroke="#4a4ac4" stroke-width="1.05" fill="none"/>
<rect x="439.30" y="303.50" width="18.00" height="22.70" stroke="#4a4ac4" stroke-width="1.05" fill="none"/>
<rect x="457.60" y="293.50" width="15.90" height="27.70" stroke="#4a4ac4" stroke-width="1.05" fill="none"/>
<text x="425.74" y="300.50" font-size="9.4" fill="#1a1a1a" textLength="10.19" lengthAdjust="spacingAndGlyphs">21</text>
<text x="443.29" y="300.50" font-size="9.4" fill="#1a1a1a" textLength="10.14" lengthAdjust="spacingAndGlyphs">32</text>
<text x="460.20" y="291.10" font-size="9.4" fill="#1a1a1a" textLength="10.45" lengthAdjust="spacingAndGlyphs">19</text>
<rect x="422.70" y="367.30" width="16.50" height="22.90" stroke="#4a4ac4" stroke-width="1.05" fill="none"/>
<rect x="439.20" y="367.30" width="18.20" height="22.90" stroke="#4a4ac4" stroke-width="1.05" fill="none"/>
<rect x="457.40" y="357.60" width="16.20" height="27.50" stroke="#4a4ac4" stroke-width="1.05" fill="none"/>
<text x="425.94" y="364.30" font-size="9.4" fill="#1a1a1a" textLength="9.95" lengthAdjust="spacingAndGlyphs">54</text>
<text x="442.89" y="364.30" font-size="9.4" fill="#1a1a1a" textLength="10.55" lengthAdjust="spacingAndGlyphs">11</text>
<text x="458.97" y="355.20" font-size="9.4" fill="#1a1a1a" textLength="13.05" lengthAdjust="spacingAndGlyphs">0.5</text>
<rect x="102.70" y="207.30" width="66.10" height="65.60" stroke="#a8a8a8" stroke-width="1" fill="none"/>
<rect x="168.80" y="207.30" width="66.10" height="65.60" stroke="#a8a8a8" stroke-width="1" fill="none"/>
<rect x="356.50" y="207.30" width="65.90" height="65.60" stroke="#a8a8a8" stroke-width="1" fill="none"/>
<rect x="422.40" y="207.30" width="65.20" height="65.60" stroke="#a8a8a8" stroke-width="1" fill="none"/>
<rect x="102.70" y="272.90" width="66.10" height="65.70" stroke="#a8a8a8" stroke-width="1" fill="none"/>
<rect x="168.80" y="272.90" width="66.10" height="65.70" stroke="#a8a8a8" stroke-width="1" fill="none"/>
<rect x="356.50" y="272.90" width="65.90" height="65.70" stroke="#a8a8a8" stroke-width="1" fill="none"/>
<rect x="422.40" y="272.90" width="65.20" height="65.70" stroke="#a8a8a8" stroke-width="1" fill="none"/>
<rect x="102.70" y="338.60" width="66.10" height="65.60" stroke="#a8a8a8" stroke-width="1" fill="none"/>
<rect x="168.80" y="338.60" width="66.10" height="65.60" stroke="#a8a8a8" stroke-width="1" fill="none"/>
<rect x="356.50" y="338.60" width="65.90" height="65.60" stroke="#a8a8a8" stroke-width="1" fill="none"/>
<rect x="422.40" y="338.60" width="65.20" height="65.60" stroke="#a8a8a8" stroke-width="1" fill="none"/>
<line x1="13.4" y1="210.5" x2="13.4" y2="410.2" stroke="#333" stroke-width="1.6"/>
<line x1="12.6" y1="410.2" x2="230.8" y2="410.2" stroke="#333" stroke-width="1.6"/>
<line x1="97.1" y1="210.5" x2="97.1" y2="410.2" stroke="#333" stroke-width="1.6"/>
<line x1="266.5" y1="210.5" x2="266.5" y2="410.2" stroke="#333" stroke-width="1.6"/>
<line x1="265.7" y1="410.2" x2="483.9" y2="410.2" stroke="#333" stroke-width="1.6"/>
<line x1="350.2" y1="210.5" x2="350.2" y2="410.2" stroke="#333" stroke-width="1.6"/>
<text x="11.00" y="388.56" font-size="12.4" fill="#1a1a1a" textLength="25.51" lengthAdjust="spacingAndGlyphs" transform="rotate(-90 11.00 388.56)">SSC</text>
<text x="264.10" y="388.56" font-size="12.4" fill="#1a1a1a" textLength="25.51" lengthAdjust="spacingAndGlyphs" transform="rotate(-90 264.10 388.56)">SSC</text>
<text x="95.90" y="395.64" font-size="12.4" fill="#1a1a1a" textLength="38.43" lengthAdjust="spacingAndGlyphs" transform="rotate(-90 95.90 395.64)">CD11c</text>
<text x="349.30" y="395.64" font-size="12.4" fill="#1a1a1a" textLength="38.43" lengthAdjust="spacingAndGlyphs" transform="rotate(-90 349.30 395.64)">CD11c</text>
<text x="38.78" y="423.70" font-size="12.4" fill="#1a1a1a" textLength="25.47" lengthAdjust="spacingAndGlyphs">FSC</text>
<text x="291.98" y="423.70" font-size="12.4" fill="#1a1a1a" textLength="25.47" lengthAdjust="spacingAndGlyphs">FSC</text>
<text x="118.17" y="423.50" font-size="12.4" fill="#1a1a1a" textLength="38.52" lengthAdjust="spacingAndGlyphs">CD11b</text>
<text x="370.36" y="423.50" font-size="12.4" fill="#1a1a1a" textLength="38.63" lengthAdjust="spacingAndGlyphs">CD11b</text>
<text x="184.01" y="423.50" font-size="12.4" fill="#1a1a1a" textLength="39.11" lengthAdjust="spacingAndGlyphs">MHC-II</text>
<text x="436.81" y="423.50" font-size="12.4" fill="#1a1a1a" textLength="39.33" lengthAdjust="spacingAndGlyphs">MHC-II</text>
<text x="498.05" y="245.10" font-size="12.4" fill="#1a1a1a" textLength="21.23" lengthAdjust="spacingAndGlyphs">13d</text>
<text x="498.06" y="312.00" font-size="12.4" fill="#1a1a1a" textLength="21.21" lengthAdjust="spacingAndGlyphs">23d</text>
<text x="498.30" y="377.40" font-size="12.4" fill="#1a1a1a" textLength="20.96" lengthAdjust="spacingAndGlyphs">30d</text>
<text x="0.26" y="467.40" font-size="22.5" font-weight="bold" fill="#111" textLength="16.98" lengthAdjust="spacingAndGlyphs">C</text>
<line x1="73.4" y1="465" x2="73.4" y2="607.8" stroke="#111" stroke-width="1.7"/>
<line x1="72.6" y1="607" x2="210.5" y2="607" stroke="#111" stroke-width="1.7"/>
<line x1="69.3" y1="465.4" x2="73.4" y2="465.4" stroke="#111" stroke-width="1.6"/>
<text x="31.92" y="468.90" font-size="10.2" font-weight="bold" fill="#111" textLength="36.24" lengthAdjust="spacingAndGlyphs">200000</text>
<line x1="69.3" y1="500.79999999999995" x2="73.4" y2="500.79999999999995" stroke="#111" stroke-width="1.6"/>
<text x="31.64" y="504.30" font-size="10.2" font-weight="bold" fill="#111" textLength="36.52" lengthAdjust="spacingAndGlyphs">150000</text>
<line x1="69.3" y1="536.2" x2="73.4" y2="536.2" stroke="#111" stroke-width="1.6"/>
<text x="31.64" y="539.70" font-size="10.2" font-weight="bold" fill="#111" textLength="36.52" lengthAdjust="spacingAndGlyphs">100000</text>
<line x1="69.3" y1="571.6" x2="73.4" y2="571.6" stroke="#111" stroke-width="1.6"/>
<text x="37.87" y="575.10" font-size="10.2" font-weight="bold" fill="#111" textLength="30.27" lengthAdjust="spacingAndGlyphs">50000</text>
<line x1="69.3" y1="607.0" x2="73.4" y2="607.0" stroke="#111" stroke-width="1.6"/>
<text x="61.30" y="610.50" font-size="10.2" font-weight="bold" fill="#111" textLength="6.91" lengthAdjust="spacingAndGlyphs">0</text>
<line x1="83.2" y1="607" x2="83.2" y2="612.1" stroke="#111" stroke-width="1.6"/>
<line x1="102.7" y1="607" x2="102.7" y2="612.1" stroke="#111" stroke-width="1.6"/>
<line x1="122.2" y1="607" x2="122.2" y2="612.1" stroke="#111" stroke-width="1.6"/>
<line x1="141.7" y1="607" x2="141.7" y2="612.1" stroke="#111" stroke-width="1.6"/>
<line x1="161.4" y1="607" x2="161.4" y2="612.1" stroke="#111" stroke-width="1.6"/>
<line x1="181.2" y1="607" x2="181.2" y2="612.1" stroke="#111" stroke-width="1.6"/>
<line x1="200.9" y1="607" x2="200.9" y2="612.1" stroke="#111" stroke-width="1.6"/>
<rect x="113.9" y="601.90" width="16.70" height="5.10" fill="#fff" stroke="#111" stroke-width="1.6"/>
<rect x="113.9" y="601.90" width="16.70" height="5.10" fill="#333" stroke="#111" stroke-width="1.6"/>
<rect x="153.3" y="479.50" width="16.10" height="127.50" fill="#fff" stroke="#111" stroke-width="1.6"/>
<rect x="153.3" y="575.50" width="16.10" height="31.50" fill="#333" stroke="#111" stroke-width="1.6"/>
<rect x="173.4" y="553.50" width="16.00" height="53.50" fill="#fff" stroke="#111" stroke-width="1.6"/>
<rect x="173.4" y="591.00" width="16.00" height="16.00" fill="#333" stroke="#111" stroke-width="1.6"/>
<rect x="192.7" y="527.00" width="15.90" height="80.00" fill="#fff" stroke="#111" stroke-width="1.6"/>
<rect x="192.7" y="541.00" width="15.90" height="66.00" fill="#333" stroke="#111" stroke-width="1.6"/>
<text x="91.53" y="461.80" font-size="12.6" font-weight="bold" fill="#111" textLength="24.46" lengthAdjust="spacingAndGlyphs">ckit</text>
<line x1="116.4" y1="453.6" x2="118.9" y2="453.6" stroke="#111" stroke-width="1.1"/>
<text x="163.64" y="461.80" font-size="12.6" font-weight="bold" fill="#111" textLength="24.25" lengthAdjust="spacingAndGlyphs">ckit</text>
<text x="187.70" y="456.80" font-size="7.5" font-weight="bold" fill="#111" textLength="5.78" lengthAdjust="spacingAndGlyphs">+</text>
<text x="85.6" y="620.6" font-size="10.6" font-weight="bold" text-anchor="end" fill="#111" transform="rotate(-45 85.6 620.6)">13d</text>
<text x="105.1" y="620.6" font-size="10.6" font-weight="bold" text-anchor="end" fill="#111" transform="rotate(-45 105.1 620.6)">23d</text>
<text x="124.6" y="620.6" font-size="10.6" font-weight="bold" text-anchor="end" fill="#111" transform="rotate(-45 124.6 620.6)">30d</text>
<text x="163.8" y="620.6" font-size="10.6" font-weight="bold" text-anchor="end" fill="#111" transform="rotate(-45 163.8 620.6)">13d</text>
<text x="183.6" y="620.6" font-size="10.6" font-weight="bold" text-anchor="end" fill="#111" transform="rotate(-45 183.6 620.6)">23d</text>
<text x="203.3" y="620.6" font-size="10.6" font-weight="bold" text-anchor="end" fill="#111" transform="rotate(-45 203.3 620.6)">30d</text>
<text x="303.4" y="620.6" font-size="10.6" font-weight="bold" text-anchor="end" fill="#111" transform="rotate(-45 303.4 620.6)">13d</text>
<text x="325.0" y="620.6" font-size="10.6" font-weight="bold" text-anchor="end" fill="#111" transform="rotate(-45 325.0 620.6)">23d</text>
<text x="345.6" y="620.6" font-size="10.6" font-weight="bold" text-anchor="end" fill="#111" transform="rotate(-45 345.6 620.6)">30d</text>
<text x="386.4" y="620.6" font-size="10.6" font-weight="bold" text-anchor="end" fill="#111" transform="rotate(-45 386.4 620.6)">13d</text>
<text x="407.1" y="620.6" font-size="10.6" font-weight="bold" text-anchor="end" fill="#111" transform="rotate(-45 407.1 620.6)">23d</text>
<text x="427.8" y="620.6" font-size="10.6" font-weight="bold" text-anchor="end" fill="#111" transform="rotate(-45 427.8 620.6)">30d</text>
<text x="11.20" y="597.83" font-size="11.3" font-weight="bold" fill="#111" textLength="121.21" lengthAdjust="spacingAndGlyphs" transform="rotate(-90 11.20 597.83)">Yield of dendritic cells</text>
<text x="25.50" y="576.94" font-size="11.3" font-weight="bold" fill="#111" textLength="78.64" lengthAdjust="spacingAndGlyphs" transform="rotate(-90 25.50 576.94)">in co-cultures</text>
<line x1="289.4" y1="465.2" x2="289.4" y2="607.8" stroke="#111" stroke-width="1.7"/>
<line x1="288.6" y1="607" x2="435.6" y2="607" stroke="#111" stroke-width="1.7"/>
<line x1="285.4" y1="465.6" x2="289.4" y2="465.6" stroke="#111" stroke-width="1.6"/>
<text x="266.74" y="469.10" font-size="10.2" font-weight="bold" fill="#111" textLength="18.34" lengthAdjust="spacingAndGlyphs">100</text>
<line x1="285.4" y1="493.88" x2="289.4" y2="493.88" stroke="#111" stroke-width="1.6"/>
<text x="272.87" y="497.38" font-size="10.2" font-weight="bold" fill="#111" textLength="12.19" lengthAdjust="spacingAndGlyphs">80</text>
<line x1="285.4" y1="522.1600000000001" x2="289.4" y2="522.1600000000001" stroke="#111" stroke-width="1.6"/>
<text x="272.81" y="525.66" font-size="10.2" font-weight="bold" fill="#111" textLength="12.25" lengthAdjust="spacingAndGlyphs">60</text>
<line x1="285.4" y1="550.44" x2="289.4" y2="550.44" stroke="#111" stroke-width="1.6"/>
<text x="273.04" y="553.94" font-size="10.2" font-weight="bold" fill="#111" textLength="12.02" lengthAdjust="spacingAndGlyphs">40</text>
<line x1="285.4" y1="578.72" x2="289.4" y2="578.72" stroke="#111" stroke-width="1.6"/>
<text x="272.81" y="582.22" font-size="10.2" font-weight="bold" fill="#111" textLength="12.25" lengthAdjust="spacingAndGlyphs">20</text>
<line x1="285.4" y1="607.0" x2="289.4" y2="607.0" stroke="#111" stroke-width="1.6"/>
<text x="278.53" y="610.50" font-size="10.2" font-weight="bold" fill="#111" textLength="6.56" lengthAdjust="spacingAndGlyphs">0</text>
<line x1="301" y1="607" x2="301" y2="612.1" stroke="#111" stroke-width="1.6"/>
<line x1="322.6" y1="607" x2="322.6" y2="612.1" stroke="#111" stroke-width="1.6"/>
<line x1="343.2" y1="607" x2="343.2" y2="612.1" stroke="#111" stroke-width="1.6"/>
<line x1="363.8" y1="607" x2="363.8" y2="612.1" stroke="#111" stroke-width="1.6"/>
<line x1="384" y1="607" x2="384" y2="612.1" stroke="#111" stroke-width="1.6"/>
<line x1="404.7" y1="607" x2="404.7" y2="612.1" stroke="#111" stroke-width="1.6"/>
<line x1="425.4" y1="607" x2="425.4" y2="612.1" stroke="#111" stroke-width="1.6"/>
<rect x="292.5" y="589.33" width="17.70" height="17.67" fill="#fff" stroke="#111" stroke-width="1.6"/>
<rect x="292.5" y="591.45" width="17.70" height="15.55" fill="#333" stroke="#111" stroke-width="1.6"/>
<rect x="313.1" y="540.54" width="17.70" height="66.46" fill="#fff" stroke="#111" stroke-width="1.6"/>
<rect x="313.1" y="541.53" width="17.70" height="65.47" fill="#333" stroke="#111" stroke-width="1.6"/>
<rect x="334.1" y="526.83" width="17.40" height="80.17" fill="#fff" stroke="#111" stroke-width="1.6"/>
<rect x="334.1" y="530.22" width="17.40" height="76.78" fill="#333" stroke="#111" stroke-width="1.6"/>
<rect x="375.4" y="479.60" width="17.00" height="127.40" fill="#fff" stroke="#111" stroke-width="1.6"/>
<rect x="375.4" y="575.60" width="17.00" height="31.40" fill="#333" stroke="#111" stroke-width="1.6"/>
<rect x="396.1" y="504.80" width="17.20" height="102.20" fill="#fff" stroke="#111" stroke-width="1.6"/>
<rect x="396.1" y="575.60" width="17.20" height="31.40" fill="#333" stroke="#111" stroke-width="1.6"/>
<rect x="416.5" y="514.10" width="17.50" height="92.90" fill="#fff" stroke="#111" stroke-width="1.6"/>
<rect x="416.5" y="530.00" width="17.50" height="77.00" fill="#333" stroke="#111" stroke-width="1.6"/>
<text x="310.23" y="461.80" font-size="12.6" font-weight="bold" fill="#111" textLength="24.56" lengthAdjust="spacingAndGlyphs">ckit</text>
<line x1="334.9" y1="454.5" x2="337.1" y2="454.5" stroke="#111" stroke-width="1.1"/>
<text x="389.24" y="461.80" font-size="12.6" font-weight="bold" fill="#111" textLength="24.04" lengthAdjust="spacingAndGlyphs">ckit</text>
<text x="413.10" y="457.10" font-size="7.5" font-weight="bold" fill="#111" textLength="5.78" lengthAdjust="spacingAndGlyphs">+</text>
<text x="248.00" y="604.78" font-size="11.0" font-weight="bold" fill="#111" textLength="139.91" lengthAdjust="spacingAndGlyphs" transform="rotate(-90 248.00 604.78)">% dendritic cells amongst</text>
<text x="261.00" y="590.81" font-size="11.0" font-weight="bold" fill="#111" textLength="108.40" lengthAdjust="spacingAndGlyphs" transform="rotate(-90 261.00 590.81)">total cell population</text>
<rect x="449.8" y="486" width="21.6" height="9.4" fill="#fff" stroke="#111" stroke-width="1.6"/>
<rect x="449.8" y="501.6" width="21.6" height="9.8" fill="#333" stroke="#111" stroke-width="1.6"/>
<text x="476.78" y="494.70" font-size="12.3" fill="#1a1a1a" textLength="36.58" lengthAdjust="spacingAndGlyphs">MHC-II</text>
<text x="512.98" y="489.60" font-size="7.2" fill="#1a1a1a" textLength="6.02" lengthAdjust="spacingAndGlyphs">+</text>
<text x="476.78" y="511.40" font-size="12.3" fill="#1a1a1a" textLength="36.58" lengthAdjust="spacingAndGlyphs">MHC-II</text>
<line x1="514.5" y1="503.6" x2="516.8" y2="503.6" stroke="#222" stroke-width="1.0"/>
</svg></div></body></html>
